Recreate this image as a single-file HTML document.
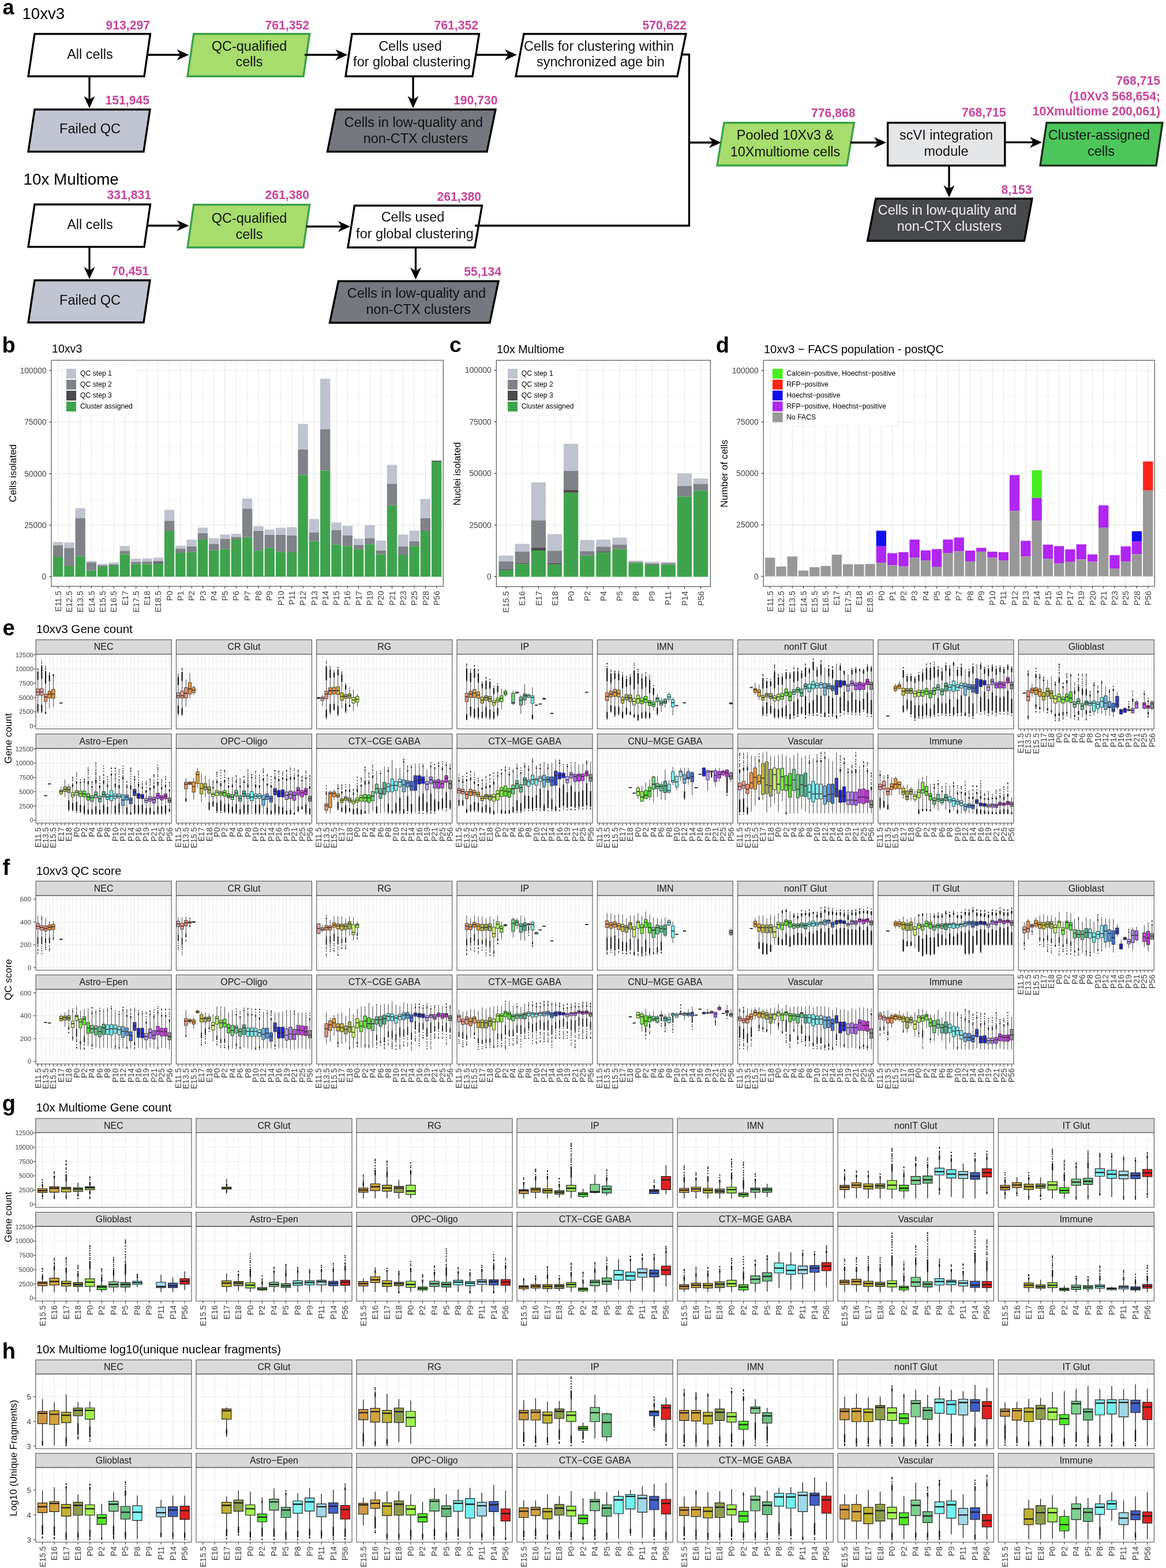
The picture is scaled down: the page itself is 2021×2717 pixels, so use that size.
<!DOCTYPE html>
<html><head><meta charset="utf-8"><title>Figure</title>
<style>html,body{margin:0;padding:0;background:#fff;} svg{display:block;} text{font-family:'Liberation Sans', Arial, Helvetica, sans-serif;}</style>
</head><body>
<svg width="2021" height="2717" viewBox="0 0 2021 2717">
<rect x="0" y="0" width="2021" height="2717" fill="#fff"/>
<text x="4.5" y="24.5" font-size="36" text-anchor="start" font-weight="bold" fill="#000">a</text>
<text x="38.5" y="33" font-size="27.6" text-anchor="start" font-weight="normal" fill="#000">10xv3</text>
<text x="40.5" y="320.3" font-size="27.8" text-anchor="start" font-weight="normal" fill="#000">10x Multiome</text>
<polygon points="60.04,58.7 260.46,58.7 249.96,132.3 49.04,132.3" fill="#FFFFFF" stroke="#000" stroke-width="3.4" stroke-linejoin="miter"/>
<polygon points="335.79,58.7 536.71,58.7 525.96,132.3 325.04,132.3" fill="#A8DC6C" stroke="#3DA24B" stroke-width="3.4" stroke-linejoin="miter"/>
<polygon points="610.04,58.7 830.46,58.7 818.96,132.3 599.04,132.3" fill="#FFFFFF" stroke="#000" stroke-width="3.4" stroke-linejoin="miter"/>
<polygon points="908.04,58.7 1188.96,58.7 1173.96,132.3 894.04,132.3" fill="#FFFFFF" stroke="#000" stroke-width="3.4" stroke-linejoin="miter"/>
<polygon points="60.04,189.7 259.96,189.7 248.96,262.8 49.04,262.8" fill="#C1C5D1" stroke="#000" stroke-width="3.4" stroke-linejoin="miter"/>
<polygon points="582.04,189.7 858.96,189.7 843.96,262.8 567.54,262.8" fill="#75787F" stroke="#000" stroke-width="3.4" stroke-linejoin="miter"/>
<polygon points="60.04,354.2 260.46,354.2 249.96,427.8 49.04,427.8" fill="#FFFFFF" stroke="#000" stroke-width="3.4" stroke-linejoin="miter"/>
<polygon points="335.79,354.7 536.71,354.7 525.96,428.8 325.04,428.8" fill="#A8DC6C" stroke="#3DA24B" stroke-width="3.4" stroke-linejoin="miter"/>
<polygon points="614.54,356.2 835.46,356.2 822.96,428.8 603.04,428.8" fill="#FFFFFF" stroke="#000" stroke-width="3.4" stroke-linejoin="miter"/>
<polygon points="60.04,485.7 259.96,485.7 248.96,558.8 49.04,558.8" fill="#C1C5D1" stroke="#000" stroke-width="3.4" stroke-linejoin="miter"/>
<polygon points="586.54,487.2 863.96,487.2 848.96,559.3 571.54,559.3" fill="#75787F" stroke="#000" stroke-width="3.4" stroke-linejoin="miter"/>
<polygon points="1255.04,212.7 1480.46,212.7 1467.96,286.8 1243.04,286.8" fill="#A8DC6C" stroke="#3DA24B" stroke-width="3.4" stroke-linejoin="miter"/>
<rect x="1538.7" y="212.7" width="203.1" height="74.2" fill="#E5E6E8" stroke="#000" stroke-width="3.4"/>
<polygon points="1814.04,212.7 2014.96,212.7 2003.96,286.9 1803.04,286.9" fill="#4CC65A" stroke="#1B2E1C" stroke-width="3.4" stroke-linejoin="miter"/>
<polygon points="1518.04,344.2 1788.96,344.2 1775.46,417.3 1503.64,417.3" fill="#48494D" stroke="#000" stroke-width="3.4" stroke-linejoin="miter"/>
<polyline points="1180,94.5 1194.5,94.5 1194.5,391 823,391" fill="none" stroke="#000" stroke-width="3.3"/>
<line x1="254" y1="95" x2="312.5" y2="95" stroke="#000" stroke-width="3.3"/>
<polygon points="327.5,95 306.5,85.5 312.5,95 306.5,104.5" fill="#000"/>
<line x1="528" y1="95" x2="587.5" y2="95" stroke="#000" stroke-width="3.3"/>
<polygon points="602.5,95 581.5,85.5 587.5,95 581.5,104.5" fill="#000"/>
<line x1="823" y1="95" x2="881" y2="95" stroke="#000" stroke-width="3.3"/>
<polygon points="896,95 875,85.5 881,95 875,104.5" fill="#000"/>
<line x1="155" y1="132" x2="155" y2="172.5" stroke="#000" stroke-width="3.3"/>
<polygon points="155,187.5 145.5,166.5 155,172.5 164.5,166.5" fill="#000"/>
<line x1="716" y1="132" x2="716" y2="172.5" stroke="#000" stroke-width="3.3"/>
<polygon points="716,187.5 706.5,166.5 716,172.5 725.5,166.5" fill="#000"/>
<line x1="254" y1="391" x2="312.5" y2="391" stroke="#000" stroke-width="3.3"/>
<polygon points="327.5,391 306.5,381.5 312.5,391 306.5,400.5" fill="#000"/>
<line x1="531" y1="392.5" x2="592" y2="392.5" stroke="#000" stroke-width="3.3"/>
<polygon points="607,392.5 586,383 592,392.5 586,402" fill="#000"/>
<line x1="155" y1="428" x2="155" y2="468.5" stroke="#000" stroke-width="3.3"/>
<polygon points="155,483.5 145.5,462.5 155,468.5 164.5,462.5" fill="#000"/>
<line x1="720.5" y1="429" x2="720.5" y2="469.5" stroke="#000" stroke-width="3.3"/>
<polygon points="720.5,484.5 711,463.5 720.5,469.5 730,463.5" fill="#000"/>
<line x1="1194.5" y1="247" x2="1235" y2="247" stroke="#000" stroke-width="3.3"/>
<polygon points="1250,247 1229,237.5 1235,247 1229,256.5" fill="#000"/>
<line x1="1474" y1="247" x2="1521" y2="247" stroke="#000" stroke-width="3.3"/>
<polygon points="1536,247 1515,237.5 1521,247 1515,256.5" fill="#000"/>
<line x1="1743" y1="246.7" x2="1791" y2="246.7" stroke="#000" stroke-width="3.3"/>
<polygon points="1806,246.7 1785,237.2 1791,246.7 1785,256.2" fill="#000"/>
<line x1="1645" y1="287" x2="1645" y2="327" stroke="#000" stroke-width="3.3"/>
<polygon points="1645,342 1635.5,321 1645,327 1654.5,321" fill="#000"/>
<text x="260" y="51.18" font-size="21.2" text-anchor="end" font-weight="bold" fill="#C8449A">913,297</text>
<text x="536" y="51.18" font-size="21.2" text-anchor="end" font-weight="bold" fill="#C8449A">761,352</text>
<text x="829" y="51.18" font-size="21.2" text-anchor="end" font-weight="bold" fill="#C8449A">761,352</text>
<text x="1190" y="51.18" font-size="21.2" text-anchor="end" font-weight="bold" fill="#C8449A">570,622</text>
<text x="259" y="181.18" font-size="21.2" text-anchor="end" font-weight="bold" fill="#C8449A">151,945</text>
<text x="862.5" y="181.18" font-size="21.2" text-anchor="end" font-weight="bold" fill="#C8449A">190,730</text>
<text x="262" y="345.18" font-size="21.2" text-anchor="end" font-weight="bold" fill="#C8449A">331,831</text>
<text x="536" y="345.18" font-size="21.2" text-anchor="end" font-weight="bold" fill="#C8449A">261,380</text>
<text x="834" y="348.18" font-size="21.2" text-anchor="end" font-weight="bold" fill="#C8449A">261,380</text>
<text x="258" y="476.68" font-size="21.2" text-anchor="end" font-weight="bold" fill="#C8449A">70,451</text>
<text x="869" y="478.18" font-size="21.2" text-anchor="end" font-weight="bold" fill="#C8449A">55,134</text>
<text x="1482.5" y="202.68" font-size="21.2" text-anchor="end" font-weight="bold" fill="#C8449A">776,868</text>
<text x="1743.5" y="202.18" font-size="21.2" text-anchor="end" font-weight="bold" fill="#C8449A">768,715</text>
<text x="2011" y="146.68" font-size="21.2" text-anchor="end" font-weight="bold" fill="#C8449A">768,715</text>
<text x="2011" y="174.18" font-size="21.2" text-anchor="end" font-weight="bold" fill="#C8449A">(10Xv3 568,654;</text>
<text x="2011" y="200.18" font-size="21.2" text-anchor="end" font-weight="bold" fill="#C8449A">10Xmultiome 200,061)</text>
<text x="1788.6" y="336.18" font-size="21.2" text-anchor="end" font-weight="bold" fill="#C8449A">8,153</text>
<text x="156" y="101.5" font-size="23.5" text-anchor="middle" font-weight="normal" fill="#111">All cells</text>
<text x="432" y="87.5" font-size="23.5" text-anchor="middle" font-weight="normal" fill="#111">QC-qualified</text>
<text x="432" y="115" font-size="23.5" text-anchor="middle" font-weight="normal" fill="#111">cells</text>
<text x="711" y="87.5" font-size="23.5" text-anchor="middle" font-weight="normal" fill="#111">Cells used</text>
<text x="714" y="115" font-size="23.5" text-anchor="middle" font-weight="normal" fill="#111">for global clustering</text>
<text x="1038" y="87.5" font-size="23.5" text-anchor="middle" font-weight="normal" fill="#111">Cells for clustering within</text>
<text x="1041" y="115" font-size="23.5" text-anchor="middle" font-weight="normal" fill="#111">synchronized age bin</text>
<text x="156" y="231" font-size="23.5" text-anchor="middle" font-weight="normal" fill="#111">Failed QC</text>
<text x="717" y="220" font-size="23.5" text-anchor="middle" font-weight="normal" fill="#111">Cells in low-quality and</text>
<text x="720.5" y="247.5" font-size="23.5" text-anchor="middle" font-weight="normal" fill="#111">non-CTX clusters</text>
<text x="156" y="396.5" font-size="23.5" text-anchor="middle" font-weight="normal" fill="#111">All cells</text>
<text x="432" y="386" font-size="23.5" text-anchor="middle" font-weight="normal" fill="#111">QC-qualified</text>
<text x="432" y="414" font-size="23.5" text-anchor="middle" font-weight="normal" fill="#111">cells</text>
<text x="715.5" y="384" font-size="23.5" text-anchor="middle" font-weight="normal" fill="#111">Cells used</text>
<text x="719" y="412.5" font-size="23.5" text-anchor="middle" font-weight="normal" fill="#111">for global clustering</text>
<text x="156" y="527.5" font-size="23.5" text-anchor="middle" font-weight="normal" fill="#111">Failed QC</text>
<text x="722" y="516" font-size="23.5" text-anchor="middle" font-weight="normal" fill="#111">Cells in low-quality and</text>
<text x="725.3" y="544" font-size="23.5" text-anchor="middle" font-weight="normal" fill="#111">non-CTX clusters</text>
<text x="1361" y="242" font-size="23.5" text-anchor="middle" font-weight="normal" fill="#111">Pooled 10Xv3 &</text>
<text x="1361" y="270.5" font-size="23.5" text-anchor="middle" font-weight="normal" fill="#111">10Xmultiome cells</text>
<text x="1640" y="242" font-size="23.5" text-anchor="middle" font-weight="normal" fill="#111">scVI integration</text>
<text x="1640" y="270" font-size="23.5" text-anchor="middle" font-weight="normal" fill="#111">module</text>
<text x="1905" y="242" font-size="23.5" text-anchor="middle" font-weight="normal" fill="#111">Cluster-assigned</text>
<text x="1908.4" y="270" font-size="23.5" text-anchor="middle" font-weight="normal" fill="#111">cells</text>
<text x="1642" y="372" font-size="23.5" text-anchor="middle" font-weight="normal" fill="#EEEEEE">Cells in low-quality and</text>
<text x="1645.5" y="399.6" font-size="23.5" text-anchor="middle" font-weight="normal" fill="#EEEEEE">non-CTX clusters</text>
<text x="3.5" y="611.2" font-size="38" text-anchor="start" font-weight="bold" fill="#000">b</text>
<text x="90" y="611" font-size="19.6" text-anchor="start" font-weight="normal" fill="#000">10xv3</text>
<rect x="89" y="624.25" width="679.25" height="391.75" fill="#fff"/>
<path d="M89 954.6H768.25M89 865.3H768.25M89 776H768.25M89 686.7H768.25" stroke="#F4F4F4" stroke-width="0.8"/>
<path d="M89 999.25H768.25M89 909.95H768.25M89 820.65H768.25M89 731.35H768.25M89 642.05H768.25M100.58 624.25V1016M119.88 624.25V1016M139.17 624.25V1016M158.47 624.25V1016M177.77 624.25V1016M197.06 624.25V1016M216.36 624.25V1016M235.66 624.25V1016M254.95 624.25V1016M274.25 624.25V1016M293.55 624.25V1016M312.84 624.25V1016M332.14 624.25V1016M351.44 624.25V1016M370.73 624.25V1016M390.03 624.25V1016M409.33 624.25V1016M428.62 624.25V1016M447.92 624.25V1016M467.22 624.25V1016M486.52 624.25V1016M505.81 624.25V1016M525.11 624.25V1016M544.41 624.25V1016M563.7 624.25V1016M583 624.25V1016M602.3 624.25V1016M621.59 624.25V1016M640.89 624.25V1016M660.19 624.25V1016M679.48 624.25V1016M698.78 624.25V1016M718.08 624.25V1016M737.38 624.25V1016M756.67 624.25V1016" stroke="#EBEBEB" stroke-width="1.3"/>
<rect x="91.89" y="939.25" width="17.37" height="5.75" fill="#BFC3CF"/>
<rect x="91.89" y="945" width="17.37" height="20" fill="#7F8287"/>
<rect x="91.89" y="965" width="17.37" height="34.25" fill="#3FA34D"/>
<rect x="111.19" y="940" width="17.37" height="9.5" fill="#BFC3CF"/>
<rect x="111.19" y="949.5" width="17.37" height="31.5" fill="#7F8287"/>
<rect x="111.19" y="981" width="17.37" height="18.25" fill="#3FA34D"/>
<rect x="130.49" y="880.5" width="17.37" height="17.5" fill="#BFC3CF"/>
<rect x="130.49" y="898" width="17.37" height="65.75" fill="#7F8287"/>
<rect x="130.49" y="963.75" width="17.37" height="35.5" fill="#3FA34D"/>
<rect x="149.79" y="972" width="17.37" height="2.5" fill="#BFC3CF"/>
<rect x="149.79" y="974.5" width="17.37" height="14.25" fill="#7F8287"/>
<rect x="149.79" y="988.75" width="17.37" height="10.5" fill="#3FA34D"/>
<rect x="169.08" y="977" width="17.37" height="2.5" fill="#BFC3CF"/>
<rect x="169.08" y="979.5" width="17.37" height="2.5" fill="#7F8287"/>
<rect x="169.08" y="982" width="17.37" height="17.25" fill="#3FA34D"/>
<rect x="188.38" y="974.5" width="17.37" height="3.5" fill="#BFC3CF"/>
<rect x="188.38" y="978" width="17.37" height="2" fill="#7F8287"/>
<rect x="188.38" y="980" width="17.37" height="19.25" fill="#3FA34D"/>
<rect x="207.68" y="946" width="17.37" height="8.5" fill="#BFC3CF"/>
<rect x="207.68" y="954.5" width="17.37" height="6" fill="#7F8287"/>
<rect x="207.68" y="960.5" width="17.37" height="38.75" fill="#3FA34D"/>
<rect x="226.97" y="968" width="17.37" height="5.75" fill="#BFC3CF"/>
<rect x="226.97" y="973.75" width="17.37" height="3.75" fill="#7F8287"/>
<rect x="226.97" y="977.5" width="17.37" height="21.75" fill="#3FA34D"/>
<rect x="246.27" y="967.5" width="17.37" height="5.75" fill="#BFC3CF"/>
<rect x="246.27" y="973.25" width="17.37" height="4.25" fill="#7F8287"/>
<rect x="246.27" y="977.5" width="17.37" height="21.75" fill="#3FA34D"/>
<rect x="265.57" y="966.25" width="17.37" height="5.75" fill="#BFC3CF"/>
<rect x="265.57" y="972" width="17.37" height="2.25" fill="#7F8287"/>
<rect x="265.57" y="974.25" width="17.37" height="2.25" fill="#4A4B4F"/>
<rect x="265.57" y="976.5" width="17.37" height="22.75" fill="#3FA34D"/>
<rect x="284.86" y="883.25" width="17.37" height="19.25" fill="#BFC3CF"/>
<rect x="284.86" y="902.5" width="17.37" height="17.5" fill="#7F8287"/>
<rect x="284.86" y="920" width="17.37" height="79.25" fill="#3FA34D"/>
<rect x="304.16" y="945.5" width="17.37" height="5.25" fill="#BFC3CF"/>
<rect x="304.16" y="950.75" width="17.37" height="7.25" fill="#7F8287"/>
<rect x="304.16" y="958" width="17.37" height="41.25" fill="#3FA34D"/>
<rect x="323.46" y="935" width="17.37" height="12" fill="#BFC3CF"/>
<rect x="323.46" y="947" width="17.37" height="9.25" fill="#7F8287"/>
<rect x="323.46" y="956.25" width="17.37" height="43" fill="#3FA34D"/>
<rect x="342.75" y="914.25" width="17.37" height="9.75" fill="#BFC3CF"/>
<rect x="342.75" y="924" width="17.37" height="11" fill="#7F8287"/>
<rect x="342.75" y="935" width="17.37" height="64.25" fill="#3FA34D"/>
<rect x="362.05" y="932.5" width="17.37" height="10" fill="#BFC3CF"/>
<rect x="362.05" y="942.5" width="17.37" height="10.75" fill="#7F8287"/>
<rect x="362.05" y="953.25" width="17.37" height="46" fill="#3FA34D"/>
<rect x="381.35" y="926.25" width="17.37" height="7.5" fill="#BFC3CF"/>
<rect x="381.35" y="933.75" width="17.37" height="17.5" fill="#7F8287"/>
<rect x="381.35" y="951.25" width="17.37" height="48" fill="#3FA34D"/>
<rect x="400.64" y="925" width="17.37" height="5.5" fill="#BFC3CF"/>
<rect x="400.64" y="930.5" width="17.37" height="4.5" fill="#7F8287"/>
<rect x="400.64" y="935" width="17.37" height="64.25" fill="#3FA34D"/>
<rect x="419.94" y="863.75" width="17.37" height="17.5" fill="#BFC3CF"/>
<rect x="419.94" y="881.25" width="17.37" height="49.5" fill="#7F8287"/>
<rect x="419.94" y="930.75" width="17.37" height="68.5" fill="#3FA34D"/>
<rect x="439.24" y="911.75" width="17.37" height="8.25" fill="#BFC3CF"/>
<rect x="439.24" y="920" width="17.37" height="34.25" fill="#7F8287"/>
<rect x="439.24" y="954.25" width="17.37" height="45" fill="#3FA34D"/>
<rect x="458.54" y="917.5" width="17.37" height="9.5" fill="#BFC3CF"/>
<rect x="458.54" y="927" width="17.37" height="22.25" fill="#7F8287"/>
<rect x="458.54" y="949.25" width="17.37" height="50" fill="#3FA34D"/>
<rect x="477.83" y="914.5" width="17.37" height="12.5" fill="#BFC3CF"/>
<rect x="477.83" y="927" width="17.37" height="29.25" fill="#7F8287"/>
<rect x="477.83" y="956.25" width="17.37" height="43" fill="#3FA34D"/>
<rect x="497.13" y="913.5" width="17.37" height="14.5" fill="#BFC3CF"/>
<rect x="497.13" y="928" width="17.37" height="29" fill="#7F8287"/>
<rect x="497.13" y="957" width="17.37" height="42.25" fill="#3FA34D"/>
<rect x="516.43" y="734.5" width="17.37" height="44.5" fill="#BFC3CF"/>
<rect x="516.43" y="779" width="17.37" height="44.25" fill="#7F8287"/>
<rect x="516.43" y="823.25" width="17.37" height="176" fill="#3FA34D"/>
<rect x="535.72" y="899.25" width="17.37" height="23.25" fill="#BFC3CF"/>
<rect x="535.72" y="922.5" width="17.37" height="15" fill="#7F8287"/>
<rect x="535.72" y="937.5" width="17.37" height="61.75" fill="#3FA34D"/>
<rect x="555.02" y="656.25" width="17.37" height="87.5" fill="#BFC3CF"/>
<rect x="555.02" y="743.75" width="17.37" height="71.75" fill="#7F8287"/>
<rect x="555.02" y="815.5" width="17.37" height="183.75" fill="#3FA34D"/>
<rect x="574.32" y="905.5" width="17.37" height="13" fill="#BFC3CF"/>
<rect x="574.32" y="918.5" width="17.37" height="25.25" fill="#7F8287"/>
<rect x="574.32" y="943.75" width="17.37" height="55.5" fill="#3FA34D"/>
<rect x="593.61" y="911.25" width="17.37" height="16.5" fill="#BFC3CF"/>
<rect x="593.61" y="927.75" width="17.37" height="18.5" fill="#7F8287"/>
<rect x="593.61" y="946.25" width="17.37" height="53" fill="#3FA34D"/>
<rect x="612.91" y="933.25" width="17.37" height="11" fill="#BFC3CF"/>
<rect x="612.91" y="944.25" width="17.37" height="7.5" fill="#7F8287"/>
<rect x="612.91" y="951.75" width="17.37" height="47.5" fill="#3FA34D"/>
<rect x="632.21" y="910" width="17.37" height="22.5" fill="#BFC3CF"/>
<rect x="632.21" y="932.5" width="17.37" height="10.75" fill="#7F8287"/>
<rect x="632.21" y="943.25" width="17.37" height="56" fill="#3FA34D"/>
<rect x="651.5" y="936.5" width="17.37" height="17.25" fill="#BFC3CF"/>
<rect x="651.5" y="953.75" width="17.37" height="6.75" fill="#7F8287"/>
<rect x="651.5" y="960.5" width="17.37" height="38.75" fill="#3FA34D"/>
<rect x="670.8" y="805.5" width="17.37" height="32.75" fill="#BFC3CF"/>
<rect x="670.8" y="838.25" width="17.37" height="37.25" fill="#7F8287"/>
<rect x="670.8" y="875.5" width="17.37" height="123.75" fill="#3FA34D"/>
<rect x="690.1" y="926.25" width="17.37" height="20.75" fill="#BFC3CF"/>
<rect x="690.1" y="947" width="17.37" height="15" fill="#7F8287"/>
<rect x="690.1" y="962" width="17.37" height="37.25" fill="#3FA34D"/>
<rect x="709.39" y="919.25" width="17.37" height="18.75" fill="#BFC3CF"/>
<rect x="709.39" y="938" width="17.37" height="8.25" fill="#7F8287"/>
<rect x="709.39" y="946.25" width="17.37" height="53" fill="#3FA34D"/>
<rect x="728.69" y="864.5" width="17.37" height="33.5" fill="#BFC3CF"/>
<rect x="728.69" y="898" width="17.37" height="22" fill="#7F8287"/>
<rect x="728.69" y="920" width="17.37" height="79.25" fill="#3FA34D"/>
<rect x="747.99" y="798" width="17.37" height="1" fill="#7F8287"/>
<rect x="747.99" y="799" width="17.37" height="1" fill="#4A4B4F"/>
<rect x="747.99" y="800" width="17.37" height="199.25" fill="#3FA34D"/>
<rect x="89" y="624.25" width="679.25" height="391.75" fill="none" stroke="#444" stroke-width="1.1"/>
<line x1="85.4" x2="89" y1="999.25" y2="999.25" stroke="#333333" stroke-width="1.2"/>
<text x="80.5" y="1004.15" font-size="13.8" text-anchor="end" font-weight="normal" fill="#444444">0</text>
<line x1="85.4" x2="89" y1="909.95" y2="909.95" stroke="#333333" stroke-width="1.2"/>
<text x="80.5" y="914.85" font-size="13.8" text-anchor="end" font-weight="normal" fill="#444444">25000</text>
<line x1="85.4" x2="89" y1="820.65" y2="820.65" stroke="#333333" stroke-width="1.2"/>
<text x="80.5" y="825.55" font-size="13.8" text-anchor="end" font-weight="normal" fill="#444444">50000</text>
<line x1="85.4" x2="89" y1="731.35" y2="731.35" stroke="#333333" stroke-width="1.2"/>
<text x="80.5" y="736.25" font-size="13.8" text-anchor="end" font-weight="normal" fill="#444444">75000</text>
<line x1="85.4" x2="89" y1="642.05" y2="642.05" stroke="#333333" stroke-width="1.2"/>
<text x="80.5" y="646.95" font-size="13.8" text-anchor="end" font-weight="normal" fill="#444444">100000</text>
<path d="M100.58 1016v3.6M119.88 1016v3.6M139.17 1016v3.6M158.47 1016v3.6M177.77 1016v3.6M197.06 1016v3.6M216.36 1016v3.6M235.66 1016v3.6M254.95 1016v3.6M274.25 1016v3.6M293.55 1016v3.6M312.84 1016v3.6M332.14 1016v3.6M351.44 1016v3.6M370.73 1016v3.6M390.03 1016v3.6M409.33 1016v3.6M428.62 1016v3.6M447.92 1016v3.6M467.22 1016v3.6M486.52 1016v3.6M505.81 1016v3.6M525.11 1016v3.6M544.41 1016v3.6M563.7 1016v3.6M583 1016v3.6M602.3 1016v3.6M621.59 1016v3.6M640.89 1016v3.6M660.19 1016v3.6M679.48 1016v3.6M698.78 1016v3.6M718.08 1016v3.6M737.38 1016v3.6M756.67 1016v3.6" stroke="#333333" stroke-width="1.1"/>
<text transform="translate(100.58,1023.8) rotate(-90)" x="0" y="0" dy="0.36em" font-size="14.3" text-anchor="end" fill="#444444">E11.5</text>
<text transform="translate(119.88,1023.8) rotate(-90)" x="0" y="0" dy="0.36em" font-size="14.3" text-anchor="end" fill="#444444">E12.5</text>
<text transform="translate(139.17,1023.8) rotate(-90)" x="0" y="0" dy="0.36em" font-size="14.3" text-anchor="end" fill="#444444">E13.5</text>
<text transform="translate(158.47,1023.8) rotate(-90)" x="0" y="0" dy="0.36em" font-size="14.3" text-anchor="end" fill="#444444">E14.5</text>
<text transform="translate(177.77,1023.8) rotate(-90)" x="0" y="0" dy="0.36em" font-size="14.3" text-anchor="end" fill="#444444">E15.5</text>
<text transform="translate(197.06,1023.8) rotate(-90)" x="0" y="0" dy="0.36em" font-size="14.3" text-anchor="end" fill="#444444">E16.5</text>
<text transform="translate(216.36,1023.8) rotate(-90)" x="0" y="0" dy="0.36em" font-size="14.3" text-anchor="end" fill="#444444">E17</text>
<text transform="translate(235.66,1023.8) rotate(-90)" x="0" y="0" dy="0.36em" font-size="14.3" text-anchor="end" fill="#444444">E17.5</text>
<text transform="translate(254.95,1023.8) rotate(-90)" x="0" y="0" dy="0.36em" font-size="14.3" text-anchor="end" fill="#444444">E18</text>
<text transform="translate(274.25,1023.8) rotate(-90)" x="0" y="0" dy="0.36em" font-size="14.3" text-anchor="end" fill="#444444">E18.5</text>
<text transform="translate(293.55,1023.8) rotate(-90)" x="0" y="0" dy="0.36em" font-size="14.3" text-anchor="end" fill="#444444">P0</text>
<text transform="translate(312.84,1023.8) rotate(-90)" x="0" y="0" dy="0.36em" font-size="14.3" text-anchor="end" fill="#444444">P1</text>
<text transform="translate(332.14,1023.8) rotate(-90)" x="0" y="0" dy="0.36em" font-size="14.3" text-anchor="end" fill="#444444">P2</text>
<text transform="translate(351.44,1023.8) rotate(-90)" x="0" y="0" dy="0.36em" font-size="14.3" text-anchor="end" fill="#444444">P3</text>
<text transform="translate(370.73,1023.8) rotate(-90)" x="0" y="0" dy="0.36em" font-size="14.3" text-anchor="end" fill="#444444">P4</text>
<text transform="translate(390.03,1023.8) rotate(-90)" x="0" y="0" dy="0.36em" font-size="14.3" text-anchor="end" fill="#444444">P5</text>
<text transform="translate(409.33,1023.8) rotate(-90)" x="0" y="0" dy="0.36em" font-size="14.3" text-anchor="end" fill="#444444">P6</text>
<text transform="translate(428.62,1023.8) rotate(-90)" x="0" y="0" dy="0.36em" font-size="14.3" text-anchor="end" fill="#444444">P7</text>
<text transform="translate(447.92,1023.8) rotate(-90)" x="0" y="0" dy="0.36em" font-size="14.3" text-anchor="end" fill="#444444">P8</text>
<text transform="translate(467.22,1023.8) rotate(-90)" x="0" y="0" dy="0.36em" font-size="14.3" text-anchor="end" fill="#444444">P9</text>
<text transform="translate(486.52,1023.8) rotate(-90)" x="0" y="0" dy="0.36em" font-size="14.3" text-anchor="end" fill="#444444">P10</text>
<text transform="translate(505.81,1023.8) rotate(-90)" x="0" y="0" dy="0.36em" font-size="14.3" text-anchor="end" fill="#444444">P11</text>
<text transform="translate(525.11,1023.8) rotate(-90)" x="0" y="0" dy="0.36em" font-size="14.3" text-anchor="end" fill="#444444">P12</text>
<text transform="translate(544.41,1023.8) rotate(-90)" x="0" y="0" dy="0.36em" font-size="14.3" text-anchor="end" fill="#444444">P13</text>
<text transform="translate(563.7,1023.8) rotate(-90)" x="0" y="0" dy="0.36em" font-size="14.3" text-anchor="end" fill="#444444">P14</text>
<text transform="translate(583,1023.8) rotate(-90)" x="0" y="0" dy="0.36em" font-size="14.3" text-anchor="end" fill="#444444">P15</text>
<text transform="translate(602.3,1023.8) rotate(-90)" x="0" y="0" dy="0.36em" font-size="14.3" text-anchor="end" fill="#444444">P16</text>
<text transform="translate(621.59,1023.8) rotate(-90)" x="0" y="0" dy="0.36em" font-size="14.3" text-anchor="end" fill="#444444">P17</text>
<text transform="translate(640.89,1023.8) rotate(-90)" x="0" y="0" dy="0.36em" font-size="14.3" text-anchor="end" fill="#444444">P19</text>
<text transform="translate(660.19,1023.8) rotate(-90)" x="0" y="0" dy="0.36em" font-size="14.3" text-anchor="end" fill="#444444">P20</text>
<text transform="translate(679.48,1023.8) rotate(-90)" x="0" y="0" dy="0.36em" font-size="14.3" text-anchor="end" fill="#444444">P21</text>
<text transform="translate(698.78,1023.8) rotate(-90)" x="0" y="0" dy="0.36em" font-size="14.3" text-anchor="end" fill="#444444">P23</text>
<text transform="translate(718.08,1023.8) rotate(-90)" x="0" y="0" dy="0.36em" font-size="14.3" text-anchor="end" fill="#444444">P25</text>
<text transform="translate(737.38,1023.8) rotate(-90)" x="0" y="0" dy="0.36em" font-size="14.3" text-anchor="end" fill="#444444">P28</text>
<text transform="translate(756.67,1023.8) rotate(-90)" x="0" y="0" dy="0.36em" font-size="14.3" text-anchor="end" fill="#444444">P56</text>
<rect x="107" y="632.5" width="131" height="86.5" fill="#fff" stroke="#F0F0F0" stroke-width="1"/>
<rect x="115" y="639" width="17" height="17" fill="#BFC3CF"/>
<text x="139" y="651.16" font-size="12.2" text-anchor="start" font-weight="normal" fill="#000">QC step 1</text>
<rect x="115" y="658" width="17" height="17" fill="#7F8287"/>
<text x="139" y="670.16" font-size="12.2" text-anchor="start" font-weight="normal" fill="#000">QC step 2</text>
<rect x="115" y="677" width="17" height="17" fill="#4A4B4F"/>
<text x="139" y="689.16" font-size="12.2" text-anchor="start" font-weight="normal" fill="#000">QC step 3</text>
<rect x="115" y="696" width="17" height="17" fill="#3FA34D"/>
<text x="139" y="708.16" font-size="12.2" text-anchor="start" font-weight="normal" fill="#000">Cluster assigned</text>
<text transform="translate(21.5,820) rotate(-90)" x="0" y="0" dy="0.36em" font-size="16.9" text-anchor="middle" fill="#000">Cells isolated</text>
<text x="779" y="610" font-size="37" text-anchor="start" font-weight="bold" fill="#000">c</text>
<text x="861" y="612" font-size="19.7" text-anchor="start" font-weight="normal" fill="#000">10x Multiome</text>
<rect x="860.3" y="624.3" width="371.1" height="392.2" fill="#fff"/>
<path d="M860.3 954.65H1231.4M860.3 865.15H1231.4M860.3 775.65H1231.4M860.3 686.15H1231.4" stroke="#F4F4F4" stroke-width="0.8"/>
<path d="M860.3 999.4H1231.4M860.3 909.9H1231.4M860.3 820.4H1231.4M860.3 730.9H1231.4M860.3 641.4H1231.4M877.17 624.3V1016.5M905.28 624.3V1016.5M933.4 624.3V1016.5M961.51 624.3V1016.5M989.62 624.3V1016.5M1017.74 624.3V1016.5M1045.85 624.3V1016.5M1073.96 624.3V1016.5M1102.08 624.3V1016.5M1130.19 624.3V1016.5M1158.3 624.3V1016.5M1186.42 624.3V1016.5M1214.53 624.3V1016.5" stroke="#EBEBEB" stroke-width="1.3"/>
<rect x="864.52" y="962.7" width="25.3" height="10.2" fill="#BFC3CF"/>
<rect x="864.52" y="972.9" width="25.3" height="14" fill="#7F8287"/>
<rect x="864.52" y="986.9" width="25.3" height="1.4" fill="#4A4B4F"/>
<rect x="864.52" y="988.3" width="25.3" height="11.1" fill="#3FA34D"/>
<rect x="892.63" y="942.4" width="25.3" height="13.6" fill="#BFC3CF"/>
<rect x="892.63" y="956" width="25.3" height="19.8" fill="#7F8287"/>
<rect x="892.63" y="975.8" width="25.3" height="1.5" fill="#4A4B4F"/>
<rect x="892.63" y="977.3" width="25.3" height="22.1" fill="#3FA34D"/>
<rect x="920.74" y="835.9" width="25.3" height="65.8" fill="#BFC3CF"/>
<rect x="920.74" y="901.7" width="25.3" height="47.1" fill="#7F8287"/>
<rect x="920.74" y="948.8" width="25.3" height="5.2" fill="#4A4B4F"/>
<rect x="920.74" y="954" width="25.3" height="45.4" fill="#3FA34D"/>
<rect x="948.86" y="925.5" width="25.3" height="28.8" fill="#BFC3CF"/>
<rect x="948.86" y="954.3" width="25.3" height="21.5" fill="#7F8287"/>
<rect x="948.86" y="975.8" width="25.3" height="2" fill="#4A4B4F"/>
<rect x="948.86" y="977.8" width="25.3" height="21.6" fill="#3FA34D"/>
<rect x="976.97" y="769" width="25.3" height="47" fill="#BFC3CF"/>
<rect x="976.97" y="816" width="25.3" height="32.8" fill="#7F8287"/>
<rect x="976.97" y="848.8" width="25.3" height="5" fill="#4A4B4F"/>
<rect x="976.97" y="853.8" width="25.3" height="145.6" fill="#3FA34D"/>
<rect x="1005.09" y="935.7" width="25.3" height="19.5" fill="#BFC3CF"/>
<rect x="1005.09" y="955.2" width="25.3" height="7.5" fill="#7F8287"/>
<rect x="1005.09" y="962.7" width="25.3" height="36.7" fill="#3FA34D"/>
<rect x="1033.2" y="935.1" width="25.3" height="12.2" fill="#BFC3CF"/>
<rect x="1033.2" y="947.3" width="25.3" height="8.7" fill="#7F8287"/>
<rect x="1033.2" y="956" width="25.3" height="1.5" fill="#4A4B4F"/>
<rect x="1033.2" y="957.5" width="25.3" height="41.9" fill="#3FA34D"/>
<rect x="1061.31" y="931.6" width="25.3" height="12.2" fill="#BFC3CF"/>
<rect x="1061.31" y="943.8" width="25.3" height="7.9" fill="#7F8287"/>
<rect x="1061.31" y="951.7" width="25.3" height="47.7" fill="#3FA34D"/>
<rect x="1089.43" y="971.5" width="25.3" height="2.3" fill="#BFC3CF"/>
<rect x="1089.43" y="973.8" width="25.3" height="1.7" fill="#7F8287"/>
<rect x="1089.43" y="975.5" width="25.3" height="23.9" fill="#3FA34D"/>
<rect x="1117.54" y="973.5" width="25.3" height="2.9" fill="#BFC3CF"/>
<rect x="1117.54" y="976.4" width="25.3" height="2.6" fill="#7F8287"/>
<rect x="1117.54" y="979" width="25.3" height="20.4" fill="#3FA34D"/>
<rect x="1145.65" y="973.8" width="25.3" height="2.3" fill="#BFC3CF"/>
<rect x="1145.65" y="976.1" width="25.3" height="2.3" fill="#7F8287"/>
<rect x="1145.65" y="978.4" width="25.3" height="21" fill="#3FA34D"/>
<rect x="1173.77" y="820.3" width="25.3" height="21.8" fill="#BFC3CF"/>
<rect x="1173.77" y="842.1" width="25.3" height="18.3" fill="#7F8287"/>
<rect x="1173.77" y="860.4" width="25.3" height="139" fill="#3FA34D"/>
<rect x="1201.88" y="829" width="25.3" height="9.6" fill="#BFC3CF"/>
<rect x="1201.88" y="838.6" width="25.3" height="11.7" fill="#7F8287"/>
<rect x="1201.88" y="850.3" width="25.3" height="149.1" fill="#3FA34D"/>
<rect x="860.3" y="624.3" width="371.1" height="392.2" fill="none" stroke="#444" stroke-width="1.1"/>
<line x1="856.7" x2="860.3" y1="999.4" y2="999.4" stroke="#333333" stroke-width="1.2"/>
<text x="851.8" y="1004.3" font-size="13.8" text-anchor="end" font-weight="normal" fill="#444444">0</text>
<line x1="856.7" x2="860.3" y1="909.9" y2="909.9" stroke="#333333" stroke-width="1.2"/>
<text x="851.8" y="914.8" font-size="13.8" text-anchor="end" font-weight="normal" fill="#444444">25000</text>
<line x1="856.7" x2="860.3" y1="820.4" y2="820.4" stroke="#333333" stroke-width="1.2"/>
<text x="851.8" y="825.3" font-size="13.8" text-anchor="end" font-weight="normal" fill="#444444">50000</text>
<line x1="856.7" x2="860.3" y1="730.9" y2="730.9" stroke="#333333" stroke-width="1.2"/>
<text x="851.8" y="735.8" font-size="13.8" text-anchor="end" font-weight="normal" fill="#444444">75000</text>
<line x1="856.7" x2="860.3" y1="641.4" y2="641.4" stroke="#333333" stroke-width="1.2"/>
<text x="851.8" y="646.3" font-size="13.8" text-anchor="end" font-weight="normal" fill="#444444">100000</text>
<path d="M877.17 1016.5v3.6M905.28 1016.5v3.6M933.4 1016.5v3.6M961.51 1016.5v3.6M989.62 1016.5v3.6M1017.74 1016.5v3.6M1045.85 1016.5v3.6M1073.96 1016.5v3.6M1102.08 1016.5v3.6M1130.19 1016.5v3.6M1158.3 1016.5v3.6M1186.42 1016.5v3.6M1214.53 1016.5v3.6" stroke="#333333" stroke-width="1.1"/>
<text transform="translate(877.17,1024.3) rotate(-90)" x="0" y="0" dy="0.36em" font-size="14.3" text-anchor="end" fill="#444444">E15.5</text>
<text transform="translate(905.28,1024.3) rotate(-90)" x="0" y="0" dy="0.36em" font-size="14.3" text-anchor="end" fill="#444444">E16</text>
<text transform="translate(933.4,1024.3) rotate(-90)" x="0" y="0" dy="0.36em" font-size="14.3" text-anchor="end" fill="#444444">E17</text>
<text transform="translate(961.51,1024.3) rotate(-90)" x="0" y="0" dy="0.36em" font-size="14.3" text-anchor="end" fill="#444444">E18</text>
<text transform="translate(989.62,1024.3) rotate(-90)" x="0" y="0" dy="0.36em" font-size="14.3" text-anchor="end" fill="#444444">P0</text>
<text transform="translate(1017.74,1024.3) rotate(-90)" x="0" y="0" dy="0.36em" font-size="14.3" text-anchor="end" fill="#444444">P2</text>
<text transform="translate(1045.85,1024.3) rotate(-90)" x="0" y="0" dy="0.36em" font-size="14.3" text-anchor="end" fill="#444444">P4</text>
<text transform="translate(1073.96,1024.3) rotate(-90)" x="0" y="0" dy="0.36em" font-size="14.3" text-anchor="end" fill="#444444">P5</text>
<text transform="translate(1102.08,1024.3) rotate(-90)" x="0" y="0" dy="0.36em" font-size="14.3" text-anchor="end" fill="#444444">P8</text>
<text transform="translate(1130.19,1024.3) rotate(-90)" x="0" y="0" dy="0.36em" font-size="14.3" text-anchor="end" fill="#444444">P9</text>
<text transform="translate(1158.3,1024.3) rotate(-90)" x="0" y="0" dy="0.36em" font-size="14.3" text-anchor="end" fill="#444444">P11</text>
<text transform="translate(1186.42,1024.3) rotate(-90)" x="0" y="0" dy="0.36em" font-size="14.3" text-anchor="end" fill="#444444">P14</text>
<text transform="translate(1214.53,1024.3) rotate(-90)" x="0" y="0" dy="0.36em" font-size="14.3" text-anchor="end" fill="#444444">P56</text>
<rect x="873.3" y="632" width="129.4" height="87" fill="#fff" stroke="#F0F0F0" stroke-width="1"/>
<rect x="880" y="639" width="17" height="17" fill="#BFC3CF"/>
<text x="903.8" y="651.16" font-size="12.2" text-anchor="start" font-weight="normal" fill="#000">QC step 1</text>
<rect x="880" y="658" width="17" height="17" fill="#7F8287"/>
<text x="903.8" y="670.16" font-size="12.2" text-anchor="start" font-weight="normal" fill="#000">QC step 2</text>
<rect x="880" y="677" width="17" height="17" fill="#4A4B4F"/>
<text x="903.8" y="689.16" font-size="12.2" text-anchor="start" font-weight="normal" fill="#000">QC step 3</text>
<rect x="880" y="696" width="17" height="17" fill="#3FA34D"/>
<text x="903.8" y="708.16" font-size="12.2" text-anchor="start" font-weight="normal" fill="#000">Cluster assigned</text>
<text transform="translate(792,821) rotate(-90)" x="0" y="0" dy="0.36em" font-size="16.9" text-anchor="middle" fill="#000">Nuclei isolated</text>
<text x="1240.7" y="611.2" font-size="38" text-anchor="start" font-weight="bold" fill="#000">d</text>
<text x="1324" y="611.8" font-size="20" text-anchor="start" font-weight="normal" fill="#000">10xv3 − FACS population - postQC</text>
<rect x="1323.2" y="624.3" width="678.1" height="391.7" fill="#fff"/>
<path d="M1323.2 954.05H2001.3M1323.2 864.95H2001.3M1323.2 775.85H2001.3M1323.2 686.75H2001.3" stroke="#F4F4F4" stroke-width="0.8"/>
<path d="M1323.2 998.6H2001.3M1323.2 909.5H2001.3M1323.2 820.4H2001.3M1323.2 731.3H2001.3M1323.2 642.2H2001.3M1334.76 624.3V1016M1354.02 624.3V1016M1373.29 624.3V1016M1392.55 624.3V1016M1411.82 624.3V1016M1431.08 624.3V1016M1450.34 624.3V1016M1469.61 624.3V1016M1488.87 624.3V1016M1508.14 624.3V1016M1527.4 624.3V1016M1546.66 624.3V1016M1565.93 624.3V1016M1585.19 624.3V1016M1604.46 624.3V1016M1623.72 624.3V1016M1642.99 624.3V1016M1662.25 624.3V1016M1681.51 624.3V1016M1700.78 624.3V1016M1720.04 624.3V1016M1739.31 624.3V1016M1758.57 624.3V1016M1777.84 624.3V1016M1797.1 624.3V1016M1816.36 624.3V1016M1835.63 624.3V1016M1854.89 624.3V1016M1874.16 624.3V1016M1893.42 624.3V1016M1912.68 624.3V1016M1931.95 624.3V1016M1951.21 624.3V1016M1970.48 624.3V1016M1989.74 624.3V1016" stroke="#EBEBEB" stroke-width="1.3"/>
<rect x="1326.09" y="966.3" width="17.34" height="32.3" fill="#999999"/>
<rect x="1345.35" y="981.6" width="17.34" height="17" fill="#999999"/>
<rect x="1364.62" y="964.2" width="17.34" height="34.4" fill="#999999"/>
<rect x="1383.88" y="988.6" width="17.34" height="10" fill="#999999"/>
<rect x="1403.15" y="982.9" width="17.34" height="15.7" fill="#999999"/>
<rect x="1422.41" y="980.7" width="17.34" height="17.9" fill="#999999"/>
<rect x="1441.67" y="961.1" width="17.34" height="37.5" fill="#999999"/>
<rect x="1460.94" y="977.7" width="17.34" height="20.9" fill="#999999"/>
<rect x="1480.2" y="977.7" width="17.34" height="20.9" fill="#999999"/>
<rect x="1499.47" y="977.3" width="17.34" height="21.3" fill="#999999"/>
<rect x="1518.73" y="919.6" width="17.34" height="27.1" fill="#1010EE"/>
<rect x="1518.73" y="946.7" width="17.34" height="28.4" fill="#B026F2"/>
<rect x="1518.73" y="975.1" width="17.34" height="23.5" fill="#999999"/>
<rect x="1538" y="958.5" width="17.34" height="20.9" fill="#B026F2"/>
<rect x="1538" y="979.4" width="17.34" height="19.2" fill="#999999"/>
<rect x="1557.26" y="956.7" width="17.34" height="24.9" fill="#B026F2"/>
<rect x="1557.26" y="981.6" width="17.34" height="17" fill="#999999"/>
<rect x="1576.52" y="934.9" width="17.34" height="31.4" fill="#B026F2"/>
<rect x="1576.52" y="966.3" width="17.34" height="32.3" fill="#999999"/>
<rect x="1595.79" y="953.7" width="17.34" height="17.4" fill="#B026F2"/>
<rect x="1595.79" y="971.1" width="17.34" height="27.5" fill="#999999"/>
<rect x="1615.05" y="951.5" width="17.34" height="30.5" fill="#B026F2"/>
<rect x="1615.05" y="982" width="17.34" height="16.6" fill="#999999"/>
<rect x="1634.32" y="934.9" width="17.34" height="23.1" fill="#B026F2"/>
<rect x="1634.32" y="958" width="17.34" height="40.6" fill="#999999"/>
<rect x="1653.58" y="931.4" width="17.34" height="24" fill="#B026F2"/>
<rect x="1653.58" y="955.4" width="17.34" height="43.2" fill="#999999"/>
<rect x="1672.85" y="954.1" width="17.34" height="18.8" fill="#B026F2"/>
<rect x="1672.85" y="972.9" width="17.34" height="25.7" fill="#999999"/>
<rect x="1692.11" y="949.3" width="17.34" height="6.6" fill="#B026F2"/>
<rect x="1692.11" y="955.9" width="17.34" height="42.7" fill="#999999"/>
<rect x="1711.37" y="955.9" width="17.34" height="10.4" fill="#B026F2"/>
<rect x="1711.37" y="966.3" width="17.34" height="32.3" fill="#999999"/>
<rect x="1730.64" y="956.7" width="17.34" height="14.4" fill="#B026F2"/>
<rect x="1730.64" y="971.1" width="17.34" height="27.5" fill="#999999"/>
<rect x="1749.9" y="823.2" width="17.34" height="62" fill="#B026F2"/>
<rect x="1749.9" y="885.2" width="17.34" height="113.4" fill="#999999"/>
<rect x="1769.17" y="937.1" width="17.34" height="27.1" fill="#B026F2"/>
<rect x="1769.17" y="964.2" width="17.34" height="34.4" fill="#999999"/>
<rect x="1788.43" y="814.9" width="17.34" height="48" fill="#44EE1C"/>
<rect x="1788.43" y="862.9" width="17.34" height="39.3" fill="#B026F2"/>
<rect x="1788.43" y="902.2" width="17.34" height="96.4" fill="#999999"/>
<rect x="1807.69" y="943.7" width="17.34" height="24.8" fill="#B026F2"/>
<rect x="1807.69" y="968.5" width="17.34" height="30.1" fill="#999999"/>
<rect x="1826.96" y="946.3" width="17.34" height="30.1" fill="#B026F2"/>
<rect x="1826.96" y="976.4" width="17.34" height="22.2" fill="#999999"/>
<rect x="1846.22" y="951.9" width="17.34" height="21.9" fill="#B026F2"/>
<rect x="1846.22" y="973.8" width="17.34" height="24.8" fill="#999999"/>
<rect x="1865.49" y="943.2" width="17.34" height="26.2" fill="#B026F2"/>
<rect x="1865.49" y="969.4" width="17.34" height="29.2" fill="#999999"/>
<rect x="1884.75" y="960.7" width="17.34" height="12.6" fill="#B026F2"/>
<rect x="1884.75" y="973.3" width="17.34" height="25.3" fill="#999999"/>
<rect x="1904.02" y="875.6" width="17.34" height="38.4" fill="#B026F2"/>
<rect x="1904.02" y="914" width="17.34" height="84.6" fill="#999999"/>
<rect x="1923.28" y="962" width="17.34" height="23.1" fill="#B026F2"/>
<rect x="1923.28" y="985.1" width="17.34" height="13.5" fill="#999999"/>
<rect x="1942.54" y="946.7" width="17.34" height="26.6" fill="#B026F2"/>
<rect x="1942.54" y="973.3" width="17.34" height="25.3" fill="#999999"/>
<rect x="1961.81" y="920.5" width="17.34" height="17.9" fill="#1010EE"/>
<rect x="1961.81" y="938.4" width="17.34" height="21.8" fill="#B026F2"/>
<rect x="1961.81" y="960.2" width="17.34" height="38.4" fill="#999999"/>
<rect x="1981.07" y="799.6" width="17.34" height="50.2" fill="#FF2414"/>
<rect x="1981.07" y="849.8" width="17.34" height="148.8" fill="#999999"/>
<rect x="1323.2" y="624.3" width="678.1" height="391.7" fill="none" stroke="#444" stroke-width="1.1"/>
<line x1="1319.6" x2="1323.2" y1="998.6" y2="998.6" stroke="#333333" stroke-width="1.2"/>
<text x="1314.7" y="1003.5" font-size="13.8" text-anchor="end" font-weight="normal" fill="#444444">0</text>
<line x1="1319.6" x2="1323.2" y1="909.5" y2="909.5" stroke="#333333" stroke-width="1.2"/>
<text x="1314.7" y="914.4" font-size="13.8" text-anchor="end" font-weight="normal" fill="#444444">25000</text>
<line x1="1319.6" x2="1323.2" y1="820.4" y2="820.4" stroke="#333333" stroke-width="1.2"/>
<text x="1314.7" y="825.3" font-size="13.8" text-anchor="end" font-weight="normal" fill="#444444">50000</text>
<line x1="1319.6" x2="1323.2" y1="731.3" y2="731.3" stroke="#333333" stroke-width="1.2"/>
<text x="1314.7" y="736.2" font-size="13.8" text-anchor="end" font-weight="normal" fill="#444444">75000</text>
<line x1="1319.6" x2="1323.2" y1="642.2" y2="642.2" stroke="#333333" stroke-width="1.2"/>
<text x="1314.7" y="647.1" font-size="13.8" text-anchor="end" font-weight="normal" fill="#444444">100000</text>
<path d="M1334.76 1016v3.6M1354.02 1016v3.6M1373.29 1016v3.6M1392.55 1016v3.6M1411.82 1016v3.6M1431.08 1016v3.6M1450.34 1016v3.6M1469.61 1016v3.6M1488.87 1016v3.6M1508.14 1016v3.6M1527.4 1016v3.6M1546.66 1016v3.6M1565.93 1016v3.6M1585.19 1016v3.6M1604.46 1016v3.6M1623.72 1016v3.6M1642.99 1016v3.6M1662.25 1016v3.6M1681.51 1016v3.6M1700.78 1016v3.6M1720.04 1016v3.6M1739.31 1016v3.6M1758.57 1016v3.6M1777.84 1016v3.6M1797.1 1016v3.6M1816.36 1016v3.6M1835.63 1016v3.6M1854.89 1016v3.6M1874.16 1016v3.6M1893.42 1016v3.6M1912.68 1016v3.6M1931.95 1016v3.6M1951.21 1016v3.6M1970.48 1016v3.6M1989.74 1016v3.6" stroke="#333333" stroke-width="1.1"/>
<text transform="translate(1334.76,1023.8) rotate(-90)" x="0" y="0" dy="0.36em" font-size="14.3" text-anchor="end" fill="#444444">E11.5</text>
<text transform="translate(1354.02,1023.8) rotate(-90)" x="0" y="0" dy="0.36em" font-size="14.3" text-anchor="end" fill="#444444">E12.5</text>
<text transform="translate(1373.29,1023.8) rotate(-90)" x="0" y="0" dy="0.36em" font-size="14.3" text-anchor="end" fill="#444444">E13.5</text>
<text transform="translate(1392.55,1023.8) rotate(-90)" x="0" y="0" dy="0.36em" font-size="14.3" text-anchor="end" fill="#444444">E14.5</text>
<text transform="translate(1411.82,1023.8) rotate(-90)" x="0" y="0" dy="0.36em" font-size="14.3" text-anchor="end" fill="#444444">E15.5</text>
<text transform="translate(1431.08,1023.8) rotate(-90)" x="0" y="0" dy="0.36em" font-size="14.3" text-anchor="end" fill="#444444">E16.5</text>
<text transform="translate(1450.34,1023.8) rotate(-90)" x="0" y="0" dy="0.36em" font-size="14.3" text-anchor="end" fill="#444444">E17</text>
<text transform="translate(1469.61,1023.8) rotate(-90)" x="0" y="0" dy="0.36em" font-size="14.3" text-anchor="end" fill="#444444">E17.5</text>
<text transform="translate(1488.87,1023.8) rotate(-90)" x="0" y="0" dy="0.36em" font-size="14.3" text-anchor="end" fill="#444444">E18</text>
<text transform="translate(1508.14,1023.8) rotate(-90)" x="0" y="0" dy="0.36em" font-size="14.3" text-anchor="end" fill="#444444">E18.5</text>
<text transform="translate(1527.4,1023.8) rotate(-90)" x="0" y="0" dy="0.36em" font-size="14.3" text-anchor="end" fill="#444444">P0</text>
<text transform="translate(1546.66,1023.8) rotate(-90)" x="0" y="0" dy="0.36em" font-size="14.3" text-anchor="end" fill="#444444">P1</text>
<text transform="translate(1565.93,1023.8) rotate(-90)" x="0" y="0" dy="0.36em" font-size="14.3" text-anchor="end" fill="#444444">P2</text>
<text transform="translate(1585.19,1023.8) rotate(-90)" x="0" y="0" dy="0.36em" font-size="14.3" text-anchor="end" fill="#444444">P3</text>
<text transform="translate(1604.46,1023.8) rotate(-90)" x="0" y="0" dy="0.36em" font-size="14.3" text-anchor="end" fill="#444444">P4</text>
<text transform="translate(1623.72,1023.8) rotate(-90)" x="0" y="0" dy="0.36em" font-size="14.3" text-anchor="end" fill="#444444">P5</text>
<text transform="translate(1642.99,1023.8) rotate(-90)" x="0" y="0" dy="0.36em" font-size="14.3" text-anchor="end" fill="#444444">P6</text>
<text transform="translate(1662.25,1023.8) rotate(-90)" x="0" y="0" dy="0.36em" font-size="14.3" text-anchor="end" fill="#444444">P7</text>
<text transform="translate(1681.51,1023.8) rotate(-90)" x="0" y="0" dy="0.36em" font-size="14.3" text-anchor="end" fill="#444444">P8</text>
<text transform="translate(1700.78,1023.8) rotate(-90)" x="0" y="0" dy="0.36em" font-size="14.3" text-anchor="end" fill="#444444">P9</text>
<text transform="translate(1720.04,1023.8) rotate(-90)" x="0" y="0" dy="0.36em" font-size="14.3" text-anchor="end" fill="#444444">P10</text>
<text transform="translate(1739.31,1023.8) rotate(-90)" x="0" y="0" dy="0.36em" font-size="14.3" text-anchor="end" fill="#444444">P11</text>
<text transform="translate(1758.57,1023.8) rotate(-90)" x="0" y="0" dy="0.36em" font-size="14.3" text-anchor="end" fill="#444444">P12</text>
<text transform="translate(1777.84,1023.8) rotate(-90)" x="0" y="0" dy="0.36em" font-size="14.3" text-anchor="end" fill="#444444">P13</text>
<text transform="translate(1797.1,1023.8) rotate(-90)" x="0" y="0" dy="0.36em" font-size="14.3" text-anchor="end" fill="#444444">P14</text>
<text transform="translate(1816.36,1023.8) rotate(-90)" x="0" y="0" dy="0.36em" font-size="14.3" text-anchor="end" fill="#444444">P15</text>
<text transform="translate(1835.63,1023.8) rotate(-90)" x="0" y="0" dy="0.36em" font-size="14.3" text-anchor="end" fill="#444444">P16</text>
<text transform="translate(1854.89,1023.8) rotate(-90)" x="0" y="0" dy="0.36em" font-size="14.3" text-anchor="end" fill="#444444">P17</text>
<text transform="translate(1874.16,1023.8) rotate(-90)" x="0" y="0" dy="0.36em" font-size="14.3" text-anchor="end" fill="#444444">P19</text>
<text transform="translate(1893.42,1023.8) rotate(-90)" x="0" y="0" dy="0.36em" font-size="14.3" text-anchor="end" fill="#444444">P20</text>
<text transform="translate(1912.68,1023.8) rotate(-90)" x="0" y="0" dy="0.36em" font-size="14.3" text-anchor="end" fill="#444444">P21</text>
<text transform="translate(1931.95,1023.8) rotate(-90)" x="0" y="0" dy="0.36em" font-size="14.3" text-anchor="end" fill="#444444">P23</text>
<text transform="translate(1951.21,1023.8) rotate(-90)" x="0" y="0" dy="0.36em" font-size="14.3" text-anchor="end" fill="#444444">P25</text>
<text transform="translate(1970.48,1023.8) rotate(-90)" x="0" y="0" dy="0.36em" font-size="14.3" text-anchor="end" fill="#444444">P28</text>
<text transform="translate(1989.74,1023.8) rotate(-90)" x="0" y="0" dy="0.36em" font-size="14.3" text-anchor="end" fill="#444444">P56</text>
<rect x="1332.8" y="632" width="224.9" height="105.7" fill="#fff" stroke="#F0F0F0" stroke-width="1"/>
<rect x="1339" y="639" width="17.6" height="17" fill="#44EE1C"/>
<text x="1363.3" y="651.16" font-size="12.2" text-anchor="start" font-weight="normal" fill="#000">Calcein−positive, Hoechst−positive</text>
<rect x="1339" y="657.9" width="17.6" height="17" fill="#FF2414"/>
<text x="1363.3" y="670.06" font-size="12.2" text-anchor="start" font-weight="normal" fill="#000">RFP−positive</text>
<rect x="1339" y="676.8" width="17.6" height="17" fill="#1010EE"/>
<text x="1363.3" y="688.96" font-size="12.2" text-anchor="start" font-weight="normal" fill="#000">Hoechst−positive</text>
<rect x="1339" y="695.7" width="17.6" height="17" fill="#B026F2"/>
<text x="1363.3" y="707.86" font-size="12.2" text-anchor="start" font-weight="normal" fill="#000">RFP−positive, Hoechst−positive</text>
<rect x="1339" y="714.6" width="17.6" height="17" fill="#999999"/>
<text x="1363.3" y="726.76" font-size="12.2" text-anchor="start" font-weight="normal" fill="#000">No FACS</text>
<text transform="translate(1255,820.5) rotate(-90)" x="0" y="0" dy="0.36em" font-size="16.9" text-anchor="middle" fill="#000">Number of cells</text>
<text x="4.5" y="1100.5" font-size="38" text-anchor="start" font-weight="bold" fill="#000">e</text>
<text x="62.7" y="1096.7" font-size="20.6" text-anchor="start" font-weight="normal" fill="#000">10xv3 Gene count</text>
<rect x="61.6" y="1133.5" width="236.1" height="130" fill="#fff"/>
<path d="M61.6 1245.66h236.1M61.6 1220.98h236.1M61.6 1196.3h236.1M61.6 1171.62h236.1M61.6 1146.94h236.1" stroke="#F4F4F4" stroke-width="0.7"/>
<path d="M61.6 1258h236.1M61.6 1233.32h236.1M61.6 1208.64h236.1M61.6 1183.96h236.1M61.6 1159.28h236.1M61.6 1134.6h236.1M65.62 1133.5v130M72.33 1133.5v130M79.04 1133.5v130M85.75 1133.5v130M92.45 1133.5v130M99.16 1133.5v130M105.87 1133.5v130M112.58 1133.5v130M119.28 1133.5v130M125.99 1133.5v130M132.7 1133.5v130M139.41 1133.5v130M146.11 1133.5v130M152.82 1133.5v130M159.53 1133.5v130M166.24 1133.5v130M172.94 1133.5v130M179.65 1133.5v130M186.36 1133.5v130M193.06 1133.5v130M199.77 1133.5v130M206.48 1133.5v130M213.19 1133.5v130M219.89 1133.5v130M226.6 1133.5v130M233.31 1133.5v130M240.02 1133.5v130M246.72 1133.5v130M253.43 1133.5v130M260.14 1133.5v130M266.85 1133.5v130M273.55 1133.5v130M280.26 1133.5v130M286.97 1133.5v130M293.68 1133.5v130" stroke="#EBEBEB" stroke-width="1.1"/>
<rect x="62.15" y="1108.55" width="235" height="24.95" fill="#D9D9D9" stroke="#555" stroke-width="1.1"/>
<text x="179.65" y="1126.43" font-size="16" text-anchor="middle" font-weight="normal" fill="#1A1A1A">NEC</text>
<rect x="304.9" y="1133.5" width="236.1" height="130" fill="#fff"/>
<path d="M304.9 1245.66h236.1M304.9 1220.98h236.1M304.9 1196.3h236.1M304.9 1171.62h236.1M304.9 1146.94h236.1" stroke="#F4F4F4" stroke-width="0.7"/>
<path d="M304.9 1258h236.1M304.9 1233.32h236.1M304.9 1208.64h236.1M304.9 1183.96h236.1M304.9 1159.28h236.1M304.9 1134.6h236.1M308.92 1133.5v130M315.63 1133.5v130M322.34 1133.5v130M329.05 1133.5v130M335.75 1133.5v130M342.46 1133.5v130M349.17 1133.5v130M355.88 1133.5v130M362.58 1133.5v130M369.29 1133.5v130M376 1133.5v130M382.71 1133.5v130M389.41 1133.5v130M396.12 1133.5v130M402.83 1133.5v130M409.54 1133.5v130M416.24 1133.5v130M422.95 1133.5v130M429.66 1133.5v130M436.36 1133.5v130M443.07 1133.5v130M449.78 1133.5v130M456.49 1133.5v130M463.19 1133.5v130M469.9 1133.5v130M476.61 1133.5v130M483.32 1133.5v130M490.02 1133.5v130M496.73 1133.5v130M503.44 1133.5v130M510.15 1133.5v130M516.85 1133.5v130M523.56 1133.5v130M530.27 1133.5v130M536.98 1133.5v130" stroke="#EBEBEB" stroke-width="1.1"/>
<rect x="305.45" y="1108.55" width="235" height="24.95" fill="#D9D9D9" stroke="#555" stroke-width="1.1"/>
<text x="422.95" y="1126.43" font-size="16" text-anchor="middle" font-weight="normal" fill="#1A1A1A">CR Glut</text>
<rect x="548.2" y="1133.5" width="236.1" height="130" fill="#fff"/>
<path d="M548.2 1245.66h236.1M548.2 1220.98h236.1M548.2 1196.3h236.1M548.2 1171.62h236.1M548.2 1146.94h236.1" stroke="#F4F4F4" stroke-width="0.7"/>
<path d="M548.2 1258h236.1M548.2 1233.32h236.1M548.2 1208.64h236.1M548.2 1183.96h236.1M548.2 1159.28h236.1M548.2 1134.6h236.1M552.22 1133.5v130M558.93 1133.5v130M565.64 1133.5v130M572.35 1133.5v130M579.05 1133.5v130M585.76 1133.5v130M592.47 1133.5v130M599.18 1133.5v130M605.88 1133.5v130M612.59 1133.5v130M619.3 1133.5v130M626.01 1133.5v130M632.71 1133.5v130M639.42 1133.5v130M646.13 1133.5v130M652.84 1133.5v130M659.54 1133.5v130M666.25 1133.5v130M672.96 1133.5v130M679.66 1133.5v130M686.37 1133.5v130M693.08 1133.5v130M699.79 1133.5v130M706.49 1133.5v130M713.2 1133.5v130M719.91 1133.5v130M726.62 1133.5v130M733.32 1133.5v130M740.03 1133.5v130M746.74 1133.5v130M753.45 1133.5v130M760.15 1133.5v130M766.86 1133.5v130M773.57 1133.5v130M780.28 1133.5v130" stroke="#EBEBEB" stroke-width="1.1"/>
<rect x="548.75" y="1108.55" width="235" height="24.95" fill="#D9D9D9" stroke="#555" stroke-width="1.1"/>
<text x="666.25" y="1126.43" font-size="16" text-anchor="middle" font-weight="normal" fill="#1A1A1A">RG</text>
<rect x="791.5" y="1133.5" width="236.1" height="130" fill="#fff"/>
<path d="M791.5 1245.66h236.1M791.5 1220.98h236.1M791.5 1196.3h236.1M791.5 1171.62h236.1M791.5 1146.94h236.1" stroke="#F4F4F4" stroke-width="0.7"/>
<path d="M791.5 1258h236.1M791.5 1233.32h236.1M791.5 1208.64h236.1M791.5 1183.96h236.1M791.5 1159.28h236.1M791.5 1134.6h236.1M795.52 1133.5v130M802.23 1133.5v130M808.94 1133.5v130M815.65 1133.5v130M822.35 1133.5v130M829.06 1133.5v130M835.77 1133.5v130M842.48 1133.5v130M849.18 1133.5v130M855.89 1133.5v130M862.6 1133.5v130M869.31 1133.5v130M876.01 1133.5v130M882.72 1133.5v130M889.43 1133.5v130M896.14 1133.5v130M902.84 1133.5v130M909.55 1133.5v130M916.26 1133.5v130M922.96 1133.5v130M929.67 1133.5v130M936.38 1133.5v130M943.09 1133.5v130M949.79 1133.5v130M956.5 1133.5v130M963.21 1133.5v130M969.92 1133.5v130M976.62 1133.5v130M983.33 1133.5v130M990.04 1133.5v130M996.75 1133.5v130M1003.45 1133.5v130M1010.16 1133.5v130M1016.87 1133.5v130M1023.58 1133.5v130" stroke="#EBEBEB" stroke-width="1.1"/>
<rect x="792.05" y="1108.55" width="235" height="24.95" fill="#D9D9D9" stroke="#555" stroke-width="1.1"/>
<text x="909.55" y="1126.43" font-size="16" text-anchor="middle" font-weight="normal" fill="#1A1A1A">IP</text>
<rect x="1034.8" y="1133.5" width="236.1" height="130" fill="#fff"/>
<path d="M1034.8 1245.66h236.1M1034.8 1220.98h236.1M1034.8 1196.3h236.1M1034.8 1171.62h236.1M1034.8 1146.94h236.1" stroke="#F4F4F4" stroke-width="0.7"/>
<path d="M1034.8 1258h236.1M1034.8 1233.32h236.1M1034.8 1208.64h236.1M1034.8 1183.96h236.1M1034.8 1159.28h236.1M1034.8 1134.6h236.1M1038.82 1133.5v130M1045.53 1133.5v130M1052.24 1133.5v130M1058.95 1133.5v130M1065.65 1133.5v130M1072.36 1133.5v130M1079.07 1133.5v130M1085.78 1133.5v130M1092.48 1133.5v130M1099.19 1133.5v130M1105.9 1133.5v130M1112.61 1133.5v130M1119.31 1133.5v130M1126.02 1133.5v130M1132.73 1133.5v130M1139.44 1133.5v130M1146.14 1133.5v130M1152.85 1133.5v130M1159.56 1133.5v130M1166.26 1133.5v130M1172.97 1133.5v130M1179.68 1133.5v130M1186.39 1133.5v130M1193.09 1133.5v130M1199.8 1133.5v130M1206.51 1133.5v130M1213.22 1133.5v130M1219.92 1133.5v130M1226.63 1133.5v130M1233.34 1133.5v130M1240.05 1133.5v130M1246.75 1133.5v130M1253.46 1133.5v130M1260.17 1133.5v130M1266.88 1133.5v130" stroke="#EBEBEB" stroke-width="1.1"/>
<rect x="1035.35" y="1108.55" width="235" height="24.95" fill="#D9D9D9" stroke="#555" stroke-width="1.1"/>
<text x="1152.85" y="1126.43" font-size="16" text-anchor="middle" font-weight="normal" fill="#1A1A1A">IMN</text>
<rect x="1278.1" y="1133.5" width="236.1" height="130" fill="#fff"/>
<path d="M1278.1 1245.66h236.1M1278.1 1220.98h236.1M1278.1 1196.3h236.1M1278.1 1171.62h236.1M1278.1 1146.94h236.1" stroke="#F4F4F4" stroke-width="0.7"/>
<path d="M1278.1 1258h236.1M1278.1 1233.32h236.1M1278.1 1208.64h236.1M1278.1 1183.96h236.1M1278.1 1159.28h236.1M1278.1 1134.6h236.1M1282.12 1133.5v130M1288.83 1133.5v130M1295.54 1133.5v130M1302.25 1133.5v130M1308.95 1133.5v130M1315.66 1133.5v130M1322.37 1133.5v130M1329.08 1133.5v130M1335.78 1133.5v130M1342.49 1133.5v130M1349.2 1133.5v130M1355.91 1133.5v130M1362.61 1133.5v130M1369.32 1133.5v130M1376.03 1133.5v130M1382.74 1133.5v130M1389.44 1133.5v130M1396.15 1133.5v130M1402.86 1133.5v130M1409.56 1133.5v130M1416.27 1133.5v130M1422.98 1133.5v130M1429.69 1133.5v130M1436.39 1133.5v130M1443.1 1133.5v130M1449.81 1133.5v130M1456.52 1133.5v130M1463.22 1133.5v130M1469.93 1133.5v130M1476.64 1133.5v130M1483.35 1133.5v130M1490.05 1133.5v130M1496.76 1133.5v130M1503.47 1133.5v130M1510.18 1133.5v130" stroke="#EBEBEB" stroke-width="1.1"/>
<rect x="1278.65" y="1108.55" width="235" height="24.95" fill="#D9D9D9" stroke="#555" stroke-width="1.1"/>
<text x="1396.15" y="1126.43" font-size="16" text-anchor="middle" font-weight="normal" fill="#1A1A1A">nonIT Glut</text>
<rect x="1521.4" y="1133.5" width="236.1" height="130" fill="#fff"/>
<path d="M1521.4 1245.66h236.1M1521.4 1220.98h236.1M1521.4 1196.3h236.1M1521.4 1171.62h236.1M1521.4 1146.94h236.1" stroke="#F4F4F4" stroke-width="0.7"/>
<path d="M1521.4 1258h236.1M1521.4 1233.32h236.1M1521.4 1208.64h236.1M1521.4 1183.96h236.1M1521.4 1159.28h236.1M1521.4 1134.6h236.1M1525.42 1133.5v130M1532.13 1133.5v130M1538.84 1133.5v130M1545.55 1133.5v130M1552.25 1133.5v130M1558.96 1133.5v130M1565.67 1133.5v130M1572.38 1133.5v130M1579.08 1133.5v130M1585.79 1133.5v130M1592.5 1133.5v130M1599.21 1133.5v130M1605.91 1133.5v130M1612.62 1133.5v130M1619.33 1133.5v130M1626.04 1133.5v130M1632.74 1133.5v130M1639.45 1133.5v130M1646.16 1133.5v130M1652.86 1133.5v130M1659.57 1133.5v130M1666.28 1133.5v130M1672.99 1133.5v130M1679.69 1133.5v130M1686.4 1133.5v130M1693.11 1133.5v130M1699.82 1133.5v130M1706.52 1133.5v130M1713.23 1133.5v130M1719.94 1133.5v130M1726.65 1133.5v130M1733.35 1133.5v130M1740.06 1133.5v130M1746.77 1133.5v130M1753.48 1133.5v130" stroke="#EBEBEB" stroke-width="1.1"/>
<rect x="1521.95" y="1108.55" width="235" height="24.95" fill="#D9D9D9" stroke="#555" stroke-width="1.1"/>
<text x="1639.45" y="1126.43" font-size="16" text-anchor="middle" font-weight="normal" fill="#1A1A1A">IT Glut</text>
<rect x="1764.7" y="1133.5" width="236.1" height="130" fill="#fff"/>
<path d="M1764.7 1245.66h236.1M1764.7 1220.98h236.1M1764.7 1196.3h236.1M1764.7 1171.62h236.1M1764.7 1146.94h236.1" stroke="#F4F4F4" stroke-width="0.7"/>
<path d="M1764.7 1258h236.1M1764.7 1233.32h236.1M1764.7 1208.64h236.1M1764.7 1183.96h236.1M1764.7 1159.28h236.1M1764.7 1134.6h236.1M1768.72 1133.5v130M1775.43 1133.5v130M1782.14 1133.5v130M1788.85 1133.5v130M1795.55 1133.5v130M1802.26 1133.5v130M1808.97 1133.5v130M1815.68 1133.5v130M1822.38 1133.5v130M1829.09 1133.5v130M1835.8 1133.5v130M1842.51 1133.5v130M1849.21 1133.5v130M1855.92 1133.5v130M1862.63 1133.5v130M1869.34 1133.5v130M1876.04 1133.5v130M1882.75 1133.5v130M1889.46 1133.5v130M1896.16 1133.5v130M1902.87 1133.5v130M1909.58 1133.5v130M1916.29 1133.5v130M1922.99 1133.5v130M1929.7 1133.5v130M1936.41 1133.5v130M1943.12 1133.5v130M1949.82 1133.5v130M1956.53 1133.5v130M1963.24 1133.5v130M1969.95 1133.5v130M1976.65 1133.5v130M1983.36 1133.5v130M1990.07 1133.5v130M1996.78 1133.5v130" stroke="#EBEBEB" stroke-width="1.1"/>
<rect x="1765.25" y="1108.55" width="235" height="24.95" fill="#D9D9D9" stroke="#555" stroke-width="1.1"/>
<text x="1882.75" y="1126.43" font-size="16" text-anchor="middle" font-weight="normal" fill="#1A1A1A">Glioblast</text>
<rect x="61.6" y="1296.75" width="236.1" height="130" fill="#fff"/>
<path d="M61.6 1408.91h236.1M61.6 1384.23h236.1M61.6 1359.55h236.1M61.6 1334.87h236.1M61.6 1310.19h236.1" stroke="#F4F4F4" stroke-width="0.7"/>
<path d="M61.6 1421.25h236.1M61.6 1396.57h236.1M61.6 1371.89h236.1M61.6 1347.21h236.1M61.6 1322.53h236.1M61.6 1297.85h236.1M65.62 1296.75v130M72.33 1296.75v130M79.04 1296.75v130M85.75 1296.75v130M92.45 1296.75v130M99.16 1296.75v130M105.87 1296.75v130M112.58 1296.75v130M119.28 1296.75v130M125.99 1296.75v130M132.7 1296.75v130M139.41 1296.75v130M146.11 1296.75v130M152.82 1296.75v130M159.53 1296.75v130M166.24 1296.75v130M172.94 1296.75v130M179.65 1296.75v130M186.36 1296.75v130M193.06 1296.75v130M199.77 1296.75v130M206.48 1296.75v130M213.19 1296.75v130M219.89 1296.75v130M226.6 1296.75v130M233.31 1296.75v130M240.02 1296.75v130M246.72 1296.75v130M253.43 1296.75v130M260.14 1296.75v130M266.85 1296.75v130M273.55 1296.75v130M280.26 1296.75v130M286.97 1296.75v130M293.68 1296.75v130" stroke="#EBEBEB" stroke-width="1.1"/>
<rect x="62.15" y="1271.8" width="235" height="24.95" fill="#D9D9D9" stroke="#555" stroke-width="1.1"/>
<text x="179.65" y="1289.68" font-size="16" text-anchor="middle" font-weight="normal" fill="#1A1A1A">Astro−Epen</text>
<rect x="304.9" y="1296.75" width="236.1" height="130" fill="#fff"/>
<path d="M304.9 1408.91h236.1M304.9 1384.23h236.1M304.9 1359.55h236.1M304.9 1334.87h236.1M304.9 1310.19h236.1" stroke="#F4F4F4" stroke-width="0.7"/>
<path d="M304.9 1421.25h236.1M304.9 1396.57h236.1M304.9 1371.89h236.1M304.9 1347.21h236.1M304.9 1322.53h236.1M304.9 1297.85h236.1M308.92 1296.75v130M315.63 1296.75v130M322.34 1296.75v130M329.05 1296.75v130M335.75 1296.75v130M342.46 1296.75v130M349.17 1296.75v130M355.88 1296.75v130M362.58 1296.75v130M369.29 1296.75v130M376 1296.75v130M382.71 1296.75v130M389.41 1296.75v130M396.12 1296.75v130M402.83 1296.75v130M409.54 1296.75v130M416.24 1296.75v130M422.95 1296.75v130M429.66 1296.75v130M436.36 1296.75v130M443.07 1296.75v130M449.78 1296.75v130M456.49 1296.75v130M463.19 1296.75v130M469.9 1296.75v130M476.61 1296.75v130M483.32 1296.75v130M490.02 1296.75v130M496.73 1296.75v130M503.44 1296.75v130M510.15 1296.75v130M516.85 1296.75v130M523.56 1296.75v130M530.27 1296.75v130M536.98 1296.75v130" stroke="#EBEBEB" stroke-width="1.1"/>
<rect x="305.45" y="1271.8" width="235" height="24.95" fill="#D9D9D9" stroke="#555" stroke-width="1.1"/>
<text x="422.95" y="1289.68" font-size="16" text-anchor="middle" font-weight="normal" fill="#1A1A1A">OPC−Oligo</text>
<rect x="548.2" y="1296.75" width="236.1" height="130" fill="#fff"/>
<path d="M548.2 1408.91h236.1M548.2 1384.23h236.1M548.2 1359.55h236.1M548.2 1334.87h236.1M548.2 1310.19h236.1" stroke="#F4F4F4" stroke-width="0.7"/>
<path d="M548.2 1421.25h236.1M548.2 1396.57h236.1M548.2 1371.89h236.1M548.2 1347.21h236.1M548.2 1322.53h236.1M548.2 1297.85h236.1M552.22 1296.75v130M558.93 1296.75v130M565.64 1296.75v130M572.35 1296.75v130M579.05 1296.75v130M585.76 1296.75v130M592.47 1296.75v130M599.18 1296.75v130M605.88 1296.75v130M612.59 1296.75v130M619.3 1296.75v130M626.01 1296.75v130M632.71 1296.75v130M639.42 1296.75v130M646.13 1296.75v130M652.84 1296.75v130M659.54 1296.75v130M666.25 1296.75v130M672.96 1296.75v130M679.66 1296.75v130M686.37 1296.75v130M693.08 1296.75v130M699.79 1296.75v130M706.49 1296.75v130M713.2 1296.75v130M719.91 1296.75v130M726.62 1296.75v130M733.32 1296.75v130M740.03 1296.75v130M746.74 1296.75v130M753.45 1296.75v130M760.15 1296.75v130M766.86 1296.75v130M773.57 1296.75v130M780.28 1296.75v130" stroke="#EBEBEB" stroke-width="1.1"/>
<rect x="548.75" y="1271.8" width="235" height="24.95" fill="#D9D9D9" stroke="#555" stroke-width="1.1"/>
<text x="666.25" y="1289.68" font-size="16" text-anchor="middle" font-weight="normal" fill="#1A1A1A">CTX−CGE GABA</text>
<rect x="791.5" y="1296.75" width="236.1" height="130" fill="#fff"/>
<path d="M791.5 1408.91h236.1M791.5 1384.23h236.1M791.5 1359.55h236.1M791.5 1334.87h236.1M791.5 1310.19h236.1" stroke="#F4F4F4" stroke-width="0.7"/>
<path d="M791.5 1421.25h236.1M791.5 1396.57h236.1M791.5 1371.89h236.1M791.5 1347.21h236.1M791.5 1322.53h236.1M791.5 1297.85h236.1M795.52 1296.75v130M802.23 1296.75v130M808.94 1296.75v130M815.65 1296.75v130M822.35 1296.75v130M829.06 1296.75v130M835.77 1296.75v130M842.48 1296.75v130M849.18 1296.75v130M855.89 1296.75v130M862.6 1296.75v130M869.31 1296.75v130M876.01 1296.75v130M882.72 1296.75v130M889.43 1296.75v130M896.14 1296.75v130M902.84 1296.75v130M909.55 1296.75v130M916.26 1296.75v130M922.96 1296.75v130M929.67 1296.75v130M936.38 1296.75v130M943.09 1296.75v130M949.79 1296.75v130M956.5 1296.75v130M963.21 1296.75v130M969.92 1296.75v130M976.62 1296.75v130M983.33 1296.75v130M990.04 1296.75v130M996.75 1296.75v130M1003.45 1296.75v130M1010.16 1296.75v130M1016.87 1296.75v130M1023.58 1296.75v130" stroke="#EBEBEB" stroke-width="1.1"/>
<rect x="792.05" y="1271.8" width="235" height="24.95" fill="#D9D9D9" stroke="#555" stroke-width="1.1"/>
<text x="909.55" y="1289.68" font-size="16" text-anchor="middle" font-weight="normal" fill="#1A1A1A">CTX−MGE GABA</text>
<rect x="1034.8" y="1296.75" width="236.1" height="130" fill="#fff"/>
<path d="M1034.8 1408.91h236.1M1034.8 1384.23h236.1M1034.8 1359.55h236.1M1034.8 1334.87h236.1M1034.8 1310.19h236.1" stroke="#F4F4F4" stroke-width="0.7"/>
<path d="M1034.8 1421.25h236.1M1034.8 1396.57h236.1M1034.8 1371.89h236.1M1034.8 1347.21h236.1M1034.8 1322.53h236.1M1034.8 1297.85h236.1M1038.82 1296.75v130M1045.53 1296.75v130M1052.24 1296.75v130M1058.95 1296.75v130M1065.65 1296.75v130M1072.36 1296.75v130M1079.07 1296.75v130M1085.78 1296.75v130M1092.48 1296.75v130M1099.19 1296.75v130M1105.9 1296.75v130M1112.61 1296.75v130M1119.31 1296.75v130M1126.02 1296.75v130M1132.73 1296.75v130M1139.44 1296.75v130M1146.14 1296.75v130M1152.85 1296.75v130M1159.56 1296.75v130M1166.26 1296.75v130M1172.97 1296.75v130M1179.68 1296.75v130M1186.39 1296.75v130M1193.09 1296.75v130M1199.8 1296.75v130M1206.51 1296.75v130M1213.22 1296.75v130M1219.92 1296.75v130M1226.63 1296.75v130M1233.34 1296.75v130M1240.05 1296.75v130M1246.75 1296.75v130M1253.46 1296.75v130M1260.17 1296.75v130M1266.88 1296.75v130" stroke="#EBEBEB" stroke-width="1.1"/>
<rect x="1035.35" y="1271.8" width="235" height="24.95" fill="#D9D9D9" stroke="#555" stroke-width="1.1"/>
<text x="1152.85" y="1289.68" font-size="16" text-anchor="middle" font-weight="normal" fill="#1A1A1A">CNU−MGE GABA</text>
<rect x="1278.1" y="1296.75" width="236.1" height="130" fill="#fff"/>
<path d="M1278.1 1408.91h236.1M1278.1 1384.23h236.1M1278.1 1359.55h236.1M1278.1 1334.87h236.1M1278.1 1310.19h236.1" stroke="#F4F4F4" stroke-width="0.7"/>
<path d="M1278.1 1421.25h236.1M1278.1 1396.57h236.1M1278.1 1371.89h236.1M1278.1 1347.21h236.1M1278.1 1322.53h236.1M1278.1 1297.85h236.1M1282.12 1296.75v130M1288.83 1296.75v130M1295.54 1296.75v130M1302.25 1296.75v130M1308.95 1296.75v130M1315.66 1296.75v130M1322.37 1296.75v130M1329.08 1296.75v130M1335.78 1296.75v130M1342.49 1296.75v130M1349.2 1296.75v130M1355.91 1296.75v130M1362.61 1296.75v130M1369.32 1296.75v130M1376.03 1296.75v130M1382.74 1296.75v130M1389.44 1296.75v130M1396.15 1296.75v130M1402.86 1296.75v130M1409.56 1296.75v130M1416.27 1296.75v130M1422.98 1296.75v130M1429.69 1296.75v130M1436.39 1296.75v130M1443.1 1296.75v130M1449.81 1296.75v130M1456.52 1296.75v130M1463.22 1296.75v130M1469.93 1296.75v130M1476.64 1296.75v130M1483.35 1296.75v130M1490.05 1296.75v130M1496.76 1296.75v130M1503.47 1296.75v130M1510.18 1296.75v130" stroke="#EBEBEB" stroke-width="1.1"/>
<rect x="1278.65" y="1271.8" width="235" height="24.95" fill="#D9D9D9" stroke="#555" stroke-width="1.1"/>
<text x="1396.15" y="1289.68" font-size="16" text-anchor="middle" font-weight="normal" fill="#1A1A1A">Vascular</text>
<rect x="1521.4" y="1296.75" width="236.1" height="130" fill="#fff"/>
<path d="M1521.4 1408.91h236.1M1521.4 1384.23h236.1M1521.4 1359.55h236.1M1521.4 1334.87h236.1M1521.4 1310.19h236.1" stroke="#F4F4F4" stroke-width="0.7"/>
<path d="M1521.4 1421.25h236.1M1521.4 1396.57h236.1M1521.4 1371.89h236.1M1521.4 1347.21h236.1M1521.4 1322.53h236.1M1521.4 1297.85h236.1M1525.42 1296.75v130M1532.13 1296.75v130M1538.84 1296.75v130M1545.55 1296.75v130M1552.25 1296.75v130M1558.96 1296.75v130M1565.67 1296.75v130M1572.38 1296.75v130M1579.08 1296.75v130M1585.79 1296.75v130M1592.5 1296.75v130M1599.21 1296.75v130M1605.91 1296.75v130M1612.62 1296.75v130M1619.33 1296.75v130M1626.04 1296.75v130M1632.74 1296.75v130M1639.45 1296.75v130M1646.16 1296.75v130M1652.86 1296.75v130M1659.57 1296.75v130M1666.28 1296.75v130M1672.99 1296.75v130M1679.69 1296.75v130M1686.4 1296.75v130M1693.11 1296.75v130M1699.82 1296.75v130M1706.52 1296.75v130M1713.23 1296.75v130M1719.94 1296.75v130M1726.65 1296.75v130M1733.35 1296.75v130M1740.06 1296.75v130M1746.77 1296.75v130M1753.48 1296.75v130" stroke="#EBEBEB" stroke-width="1.1"/>
<rect x="1521.95" y="1271.8" width="235" height="24.95" fill="#D9D9D9" stroke="#555" stroke-width="1.1"/>
<text x="1639.45" y="1289.68" font-size="16" text-anchor="middle" font-weight="normal" fill="#1A1A1A">Immune</text>
<path d="M65.62 1177.31V1221.21M72.33 1175.83V1222.1M79.04 1183.54V1234.56M85.75 1179.83V1227.29M92.45 1170.78V1224.92M308.92 1186.5V1223.28M315.63 1179.09V1227.73M322.34 1177.46V1224.92M329.05 1166.19V1210.08M335.75 1187.84V1204.15M552.22 1207.71V1211.27M558.93 1204.15V1223.43M565.64 1178.05V1230.25M572.35 1173.9V1221.36M579.05 1173.01V1220.47M585.76 1169.45V1224.03M592.47 1181.02V1227.88M599.18 1193.77V1219.87M605.88 1190.81V1222.1M612.59 1194.66V1232.33M619.3 1202.67V1224.92M808.94 1178.94V1238.26M815.65 1181.17V1225.06M822.35 1173.75V1229.51M829.06 1181.91V1226.99M835.77 1191.69V1234.41M842.48 1193.62V1225.66M849.18 1192.29V1230.25M855.89 1201.93V1233.96M862.6 1198.81V1227.29M869.31 1192.88V1229.36M876.01 1193.77V1207.12M889.43 1196.74V1221.95M896.14 1198.22V1201.19M902.84 1204.15V1236.78M909.55 1185.61V1221.95M916.26 1202.67V1210.08M922.96 1190.81V1239M943.09 1208.6V1213.05M1052.24 1179.83V1234.41M1058.95 1182.5V1222.84M1065.65 1176.12V1224.77M1072.36 1178.05V1225.51M1079.07 1191.69V1234.41M1085.78 1189.32V1227.29M1092.48 1186.36V1233.81M1099.19 1193.18V1238.26M1105.9 1184.28V1238.86M1112.61 1193.62V1235.15M1119.31 1190.06V1233.96M1126.02 1200.3V1235.89M1132.73 1203.56V1230.85M1139.44 1202.67V1227.14M1146.14 1209.49V1233.07M1152.85 1209.49V1226.4M1159.56 1199.7V1216.02M1166.26 1208.6V1239.75M1266.88 1216.61V1220.76M1308.95 1183.39V1203.56M1315.66 1186.36V1213.05M1322.37 1192.29V1225.51M1329.08 1191.4V1217.5M1335.78 1188.43V1224.03M1342.49 1192.29V1227.88M1349.2 1186.21V1230.11M1355.91 1185.61V1227.14M1362.61 1175.97V1223.43M1369.32 1175.23V1238.11M1376.03 1181.31V1216.91M1382.74 1178.94V1212.16M1389.44 1174.64V1225.66M1396.15 1171.53V1207.12M1402.86 1165.44V1218.83M1409.56 1160.4V1213.79M1416.27 1171.53V1204.75M1422.98 1168.56V1206.53M1429.69 1156.69V1235.44M1436.39 1171.53V1207.12M1443.1 1174.49V1210.08M1449.81 1150.17V1240.49M1456.52 1161.14V1208.6M1463.22 1167.82V1199.85M1469.93 1167.97V1215.42M1476.64 1167.82V1199.85M1483.35 1165.59V1213.05M1490.05 1161.89V1215.28M1496.76 1166.48V1211.57M1503.47 1162.63V1200.59M1510.18 1162.78V1213.79M1552.25 1184.87V1199.7M1558.96 1180.42V1195.25M1565.67 1173.6V1223.43M1572.38 1180.42V1213.64M1579.08 1179.53V1215.13M1585.79 1182.5V1222.84M1592.5 1179.83V1222.54M1599.21 1179.83V1222.54M1605.91 1176.86V1219.58M1612.62 1177.61V1228.62M1619.33 1173.9V1221.36M1626.04 1172.12V1210.08M1632.74 1178.2V1219.72M1639.45 1162.03V1218.98M1646.16 1170.78V1212.31M1652.86 1152.25V1225.81M1659.57 1170.78V1212.31M1666.28 1170.04V1205.64M1672.99 1159.66V1235.89M1679.69 1172.42V1208.01M1686.4 1166.33V1219.72M1693.11 1150.76V1236.78M1699.82 1158.77V1208.6M1706.52 1166.93V1198.96M1713.23 1170.78V1212.31M1719.94 1162.63V1200.59M1726.65 1168.56V1206.53M1733.35 1164.11V1209.19M1740.06 1166.33V1207.86M1746.77 1159.66V1197.63M1753.48 1164.11V1211.57M1782.14 1170.04V1241.23M1788.85 1184.87V1207.12M1795.55 1173.9V1221.36M1802.26 1174.64V1225.66M1808.97 1179.68V1233.07M1815.68 1177.46V1227.88M1822.38 1175.83V1231.59M1829.09 1186.5V1237.52M1835.8 1182.65V1236.04M1842.51 1191.69V1234.41M1849.21 1183.54V1234.56M1855.92 1170.78V1245.53M1862.63 1201.78V1239.75M1869.34 1197.33V1232.92M1876.04 1203.41V1242.71M1882.75 1204.3V1231.59M1889.46 1206.23V1232.33M1896.16 1187.84V1239.75M1902.87 1199.7V1236.78M1909.58 1183.24V1236.78M1916.29 1189.32V1239.75M1922.99 1198.96V1239.75M1929.7 1196.14V1242.71M1936.41 1198.22V1229.36M1943.12 1227.88V1238.26M1949.82 1225.51V1235.3M1956.53 1226.25V1232.33M1963.24 1215.28V1236.19M1969.95 1213.05V1227.88M1983.36 1202.82V1229.36M1990.07 1215.42V1234.41M1996.78 1213.05V1230.85" stroke="#333" stroke-width="0.9"/>
<path d="M65.62 1177.31V1164.33M65.62 1221.21V1232.43M72.33 1175.83V1155.17M72.33 1222.1V1232.56M79.04 1183.54V1163.71M79.04 1234.56V1235.94M85.75 1179.83V1170.28M92.45 1170.78V1169.23M308.92 1186.5V1173.94M308.92 1223.28V1236.02M315.63 1179.09V1164.87M315.63 1227.73V1237.44M565.64 1178.05V1155.83M565.64 1230.25V1242.86M572.35 1173.9V1160.82M572.35 1221.36V1234.47M579.05 1173.01V1165.74M579.05 1220.47V1228.79M585.76 1169.45V1160.52M585.76 1224.03V1237.39M592.47 1181.02V1169.18M599.18 1193.77V1187.54M599.18 1219.87V1232.23M605.88 1222.1V1223.99M808.94 1178.94V1159.22M808.94 1238.26V1245.83M815.65 1181.17V1166.11M815.65 1225.06V1239.56M822.35 1173.75V1159.32M822.35 1229.51V1241.99M829.06 1181.91V1167.37M829.06 1226.99V1242.87M835.77 1191.69V1184.84M835.77 1234.41V1242.73M842.48 1193.62V1179.82M842.48 1225.66V1241.41M849.18 1192.29V1181.91M849.18 1230.25V1243.36M855.89 1201.93V1193.1M855.89 1233.96V1243.92M862.6 1198.81V1189.06M862.6 1227.29V1238.38M922.96 1239V1244.68M1052.24 1179.83V1158.44M1052.24 1234.41V1243.99M1058.95 1182.5V1167.55M1058.95 1222.84V1232.17M1065.65 1176.12V1166.68M1065.65 1224.77V1238.76M1072.36 1178.05V1167.67M1072.36 1225.51V1236.35M1079.07 1191.69V1173.42M1079.07 1234.41V1242.73M1085.78 1189.32V1176.86M1085.78 1227.29V1236.62M1092.48 1186.36V1173.9M1092.48 1233.81V1237.6M1099.19 1193.18V1162.45M1099.19 1238.26V1242.04M1105.9 1184.28V1167.05M1105.9 1238.86V1246.67M1112.61 1193.62V1176.08M1112.61 1235.15V1242.84M1119.31 1190.06V1172.93M1119.31 1233.96V1242.66M1126.02 1200.3V1179.12M1126.02 1235.89V1242.95M1132.73 1203.56V1192.56M1139.44 1227.14V1236.59M1322.37 1192.29V1175.68M1322.37 1225.51V1237.61M1329.08 1191.4V1180.6M1329.08 1217.5V1236.41M1335.78 1188.43V1180.75M1335.78 1224.03V1234.87M1342.49 1192.29V1164.26M1342.49 1227.88V1241.75M1349.2 1186.21V1173.85M1349.2 1230.11V1242.08M1355.91 1185.61V1173.68M1355.91 1227.14V1240.38M1362.61 1175.97V1165.59M1362.61 1223.43V1241.08M1369.32 1175.23V1168.49M1369.32 1238.11V1244.54M1376.03 1181.31V1164.08M1376.03 1216.91V1240.1M1382.74 1178.94V1164.41M1382.74 1212.16V1236.87M1389.44 1174.64V1166.23M1389.44 1225.66V1235.11M1396.15 1171.53V1156.99M1396.15 1207.12V1238.63M1402.86 1165.44V1160.36M1402.86 1218.83V1236.61M1409.56 1160.4V1147.43M1409.56 1213.79V1235.85M1416.27 1171.53V1161.14M1416.27 1204.75V1234.5M1422.98 1168.56V1151.95M1422.98 1206.53V1236.02M1429.69 1235.44V1241.12M1436.39 1171.53V1159.07M1436.39 1207.12V1236.11M1443.1 1174.49V1161M1443.1 1210.08V1236.56M1449.81 1240.49V1243.64M1456.52 1161.14V1153.88M1456.52 1208.6V1235.07M1463.22 1167.82V1164.18M1463.22 1199.85V1231.24M1469.93 1215.42V1233.58M1476.64 1167.82V1161.07M1476.64 1199.85V1232.5M1483.35 1165.59V1159.36M1483.35 1213.05V1234.48M1490.05 1161.89V1160.33M1490.05 1215.28V1234.81M1496.76 1166.48V1161.71M1496.76 1211.57V1229.22M1503.47 1162.63V1155.36M1503.47 1200.59V1235.13M1510.18 1162.78V1157.48M1510.18 1213.79V1237.11M1565.67 1173.6V1161.77M1565.67 1223.43V1232.26M1572.38 1180.42V1172.12M1572.38 1213.64V1228.27M1579.08 1179.53V1171.85M1579.08 1215.13V1237.31M1585.79 1182.5V1175.86M1585.79 1222.84V1244.27M1592.5 1179.83V1169.86M1592.5 1222.54V1240.95M1599.21 1179.83V1166.75M1599.21 1222.54V1240.95M1605.91 1176.86V1158.59M1605.91 1219.58V1239.24M1612.62 1177.61V1157.78M1612.62 1228.62V1240.6M1619.33 1173.9V1155.63M1619.33 1221.36V1238.25M1626.04 1172.12V1160.28M1626.04 1210.08V1235.3M1632.74 1178.2V1164.18M1632.74 1219.72V1235.48M1639.45 1162.03V1153.11M1639.45 1218.98V1236.63M1646.16 1170.78V1158.85M1646.16 1212.31V1235.63M1652.86 1152.25V1149.13M1652.86 1225.81V1237.65M1659.57 1170.78V1160.92M1659.57 1212.31V1235.63M1666.28 1170.04V1156.55M1666.28 1205.64V1234.63M1672.99 1235.89V1239.17M1679.69 1172.42V1163.49M1679.69 1208.01V1236.25M1686.4 1166.33V1155.43M1686.4 1219.72V1240.52M1699.82 1158.77V1152.13M1699.82 1208.6V1232.55M1706.52 1166.93V1159.76M1706.52 1198.96V1231.11M1713.23 1170.78V1158.85M1713.23 1212.31V1235.63M1719.94 1162.63V1155.36M1719.94 1200.59V1231.35M1726.65 1168.56V1159.22M1726.65 1206.53V1234.76M1733.35 1164.11V1156.84M1733.35 1209.19V1232.64M1740.06 1166.33V1159.59M1740.06 1207.86V1232.44M1746.77 1159.66V1154.47M1746.77 1197.63V1232.17M1753.48 1164.11V1157.88M1753.48 1211.57V1235.52M1782.14 1170.04V1168.19M1782.14 1241.23V1242.79M1795.55 1173.9V1169.97M1795.55 1221.36V1225.72M1802.26 1174.64V1173.12M1802.26 1225.66V1228.51M1808.97 1179.68V1178.01M1815.68 1227.88V1230.48M1822.38 1231.59V1232.89M1829.09 1186.5V1185.35M1829.09 1237.52V1241.41M1835.8 1182.65V1174.68M1835.8 1236.04V1240.45M1842.51 1191.69V1189.62M1842.51 1234.41V1238.35M1849.21 1183.54V1179.42M1849.21 1234.56V1236.37M1855.92 1170.78V1170.23M1862.63 1201.78V1197.18M1862.63 1239.75V1241.82M1869.34 1197.33V1190.14M1869.34 1232.92V1237.91M1876.04 1203.41V1194.7M1882.75 1204.3V1195.37M1882.75 1231.59V1237.04M1889.46 1206.23V1204.23M1889.46 1232.33V1234.93M1896.16 1187.84V1186.73M1902.87 1199.7V1197.11M1909.58 1183.24V1182.54M1922.99 1198.96V1198.03M1929.7 1196.14V1194.44M1956.53 1226.25V1223.69M1963.24 1215.28V1211.01M1983.36 1202.82V1201.67M1990.07 1215.42V1214.09M1990.07 1234.41V1237.31" stroke="#111" stroke-width="2.2" stroke-linecap="round"/>
<path d="M65.62 1161.2h0M65.62 1158.77h0M65.62 1234.41h0M72.33 1152.91h0M72.33 1149.04h0M72.33 1146.31h0M72.33 1234.41h0M79.04 1159.93h0M79.04 1157.8h0M79.04 1155.21h0M79.04 1236.19h0M85.75 1167.96h0M85.75 1166.19h0M92.45 1168.56h0M308.92 1171.51h0M308.92 1168.73h0M308.92 1168.56h0M308.92 1238.26h0M315.63 1160.85h0M315.63 1158.77h0M315.63 1239.15h0M565.64 1153.67h0M565.64 1148.67h0M565.64 1146.31h0M565.64 1245.08h0M572.35 1158.41h0M572.35 1155.33h0M572.35 1155.21h0M572.35 1236.78h0M579.05 1162.63h0M579.05 1230.25h0M585.76 1157.22h0M585.76 1156.69h0M585.76 1239.61h0M585.76 1239.75h0M592.47 1166.46h0M592.47 1164.11h0M599.18 1184.87h0M599.18 1234.41h0M605.88 1224.32h0M808.94 1155.63h0M808.94 1152.58h0M808.94 1150.76h0M808.94 1247.16h0M815.65 1163.26h0M815.65 1159.66h0M815.65 1242.12h0M822.35 1154.26h0M822.35 1153.14h0M822.35 1244.19h0M829.06 1161.94h0M829.06 1161.14h0M829.06 1245.68h0M835.77 1181.91h0M835.77 1244.19h0M842.48 1176.1h0M842.48 1173.97h0M842.48 1173.9h0M842.48 1244.19h0M849.18 1177.9h0M849.18 1177.46h0M849.18 1245.68h0M855.89 1189.32h0M855.89 1245.68h0M862.6 1185.03h0M862.6 1184.87h0M862.6 1240.34h0M922.96 1245.68h0M1052.24 1154.79h0M1052.24 1150.46h0M1052.24 1149.28h0M1052.24 1245.68h0M1058.95 1163.29h0M1058.95 1161.14h0M1058.95 1233.81h0M1065.65 1163.68h0M1065.65 1162.63h0M1065.65 1241.23h0M1072.36 1165.59h0M1072.36 1163.22h0M1072.36 1238.26h0M1079.07 1171.01h0M1079.07 1168.81h0M1079.07 1165.59h0M1079.07 1244.19h0M1085.78 1174h0M1085.78 1171.53h0M1085.78 1238.26h0M1092.48 1171.62h0M1092.48 1168.56h0M1092.48 1238.26h0M1099.19 1157.36h0M1099.19 1152.49h0M1099.19 1149.28h0M1099.19 1242.71h0M1105.9 1163.59h0M1105.9 1160.34h0M1105.9 1159.66h0M1105.9 1248.05h0M1112.61 1173.55h0M1112.61 1170.93h0M1112.61 1168.56h0M1112.61 1244.19h0M1119.31 1169.24h0M1119.31 1165.59h0M1119.31 1244.19h0M1126.02 1177.1h0M1126.02 1173.64h0M1126.02 1170.35h0M1126.02 1170.04h0M1126.02 1244.19h0M1132.73 1188.14h0M1132.73 1187.84h0M1139.44 1238.26h0M1322.37 1171.31h0M1322.37 1169.12h0M1322.37 1168.56h0M1322.37 1239.75h0M1329.08 1175.97h0M1329.08 1239.75h0M1335.78 1177.46h0M1335.78 1236.78h0M1342.49 1161.9h0M1342.49 1157.68h0M1342.49 1155.46h0M1342.49 1153.22h0M1342.49 1152.25h0M1342.49 1244.19h0M1349.2 1170.66h0M1349.2 1168.56h0M1349.2 1244.08h0M1349.2 1244.19h0M1355.91 1171.32h0M1355.91 1168.56h0M1355.91 1242.47h0M1355.91 1242.71h0M1362.61 1161.44h0M1362.61 1161.14h0M1362.61 1243.96h0M1362.61 1244.19h0M1369.32 1165.59h0M1369.32 1245.68h0M1376.03 1159.11h0M1376.03 1156.69h0M1376.03 1243.73h0M1376.03 1244.19h0M1382.74 1162.11h0M1382.74 1159.75h0M1382.74 1158.18h0M1382.74 1239.8h0M1382.74 1241.23h0M1389.44 1163.67h0M1389.44 1162.63h0M1389.44 1236.78h0M1396.15 1153.14h0M1396.15 1150.76h0M1396.15 1242.53h0M1396.15 1244.19h0M1402.86 1158.18h0M1402.86 1239.75h0M1409.56 1142.4h0M1409.56 1141.86h0M1409.56 1238.77h0M1409.56 1239.75h0M1416.27 1158.56h0M1416.27 1156.69h0M1416.27 1238.36h0M1416.27 1239.75h0M1422.98 1148.8h0M1422.98 1146.01h0M1422.98 1144.83h0M1422.98 1241.23h0M1429.69 1242.12h0M1436.39 1154.25h0M1436.39 1153.73h0M1436.39 1240.7h0M1436.39 1241.23h0M1443.1 1157.18h0M1443.1 1155.21h0M1443.1 1238.66h0M1443.1 1240.76h0M1443.1 1241.23h0M1449.81 1244.19h0M1456.52 1150.76h0M1456.52 1239.75h0M1463.22 1162.63h0M1463.22 1236.52h0M1463.22 1236.78h0M1469.93 1236.78h0M1476.64 1158.18h0M1476.64 1235.27h0M1476.64 1238.07h0M1476.64 1238.26h0M1483.35 1156.69h0M1483.35 1238.26h0M1490.05 1159.66h0M1490.05 1238.26h0M1496.76 1159.66h0M1496.76 1232.33h0M1503.47 1152.25h0M1503.47 1237.43h0M1503.47 1241.23h0M1510.18 1155.21h0M1510.18 1241.23h0M1565.67 1157.14h0M1565.67 1156.69h0M1565.67 1233.81h0M1572.38 1168.56h0M1572.38 1230.85h0M1579.08 1168.56h0M1579.08 1241.23h0M1585.79 1173.01h0M1585.79 1247.67h0M1585.79 1248.05h0M1592.5 1165.59h0M1592.5 1243.54h0M1592.5 1244.19h0M1599.21 1164.22h0M1599.21 1161.14h0M1599.21 1244.19h0M1605.91 1156.08h0M1605.91 1151.19h0M1605.91 1150.76h0M1605.91 1242.71h0M1612.62 1154.55h0M1612.62 1150.63h0M1612.62 1149.28h0M1612.62 1242.65h0M1612.62 1242.71h0M1619.33 1151.35h0M1619.33 1147.8h0M1619.33 1241.23h0M1626.04 1156.77h0M1626.04 1155.21h0M1626.04 1239.75h0M1632.74 1161.45h0M1632.74 1158.56h0M1632.74 1158.18h0M1632.74 1238.26h0M1639.45 1149.28h0M1639.45 1239.54h0M1639.45 1239.75h0M1646.16 1156.39h0M1646.16 1153.73h0M1646.16 1238.87h0M1646.16 1239.75h0M1652.86 1147.8h0M1652.86 1239.75h0M1659.57 1157.45h0M1659.57 1156.69h0M1659.57 1239.39h0M1659.57 1239.75h0M1666.28 1152.71h0M1666.28 1150.76h0M1666.28 1238.17h0M1666.28 1239.75h0M1672.99 1239.75h0M1679.69 1159.66h0M1679.69 1238.85h0M1679.69 1241.23h0M1686.4 1150.9h0M1686.4 1150.76h0M1686.4 1243.67h0M1686.4 1244.19h0M1699.82 1149.28h0M1699.82 1236.78h0M1706.52 1157.39h0M1706.52 1156.69h0M1706.52 1233.98h0M1706.52 1236.78h0M1713.23 1154.14h0M1713.23 1153.73h0M1713.23 1239.6h0M1713.23 1239.75h0M1719.94 1152.25h0M1719.94 1234.9h0M1719.94 1236.78h0M1726.65 1155.45h0M1726.65 1155.21h0M1726.65 1239.19h0M1726.65 1239.75h0M1733.35 1153.73h0M1733.35 1236.32h0M1733.35 1236.78h0M1740.06 1156.69h0M1740.06 1236.78h0M1746.77 1152.25h0M1746.77 1235.08h0M1746.77 1238.26h0M1753.48 1155.21h0M1753.48 1239.75h0M1782.14 1165.71h0M1782.14 1163.28h0M1782.14 1162.63h0M1782.14 1245.04h0M1782.14 1245.68h0M1795.55 1167.71h0M1795.55 1163.37h0M1795.55 1158.63h0M1795.55 1158.18h0M1795.55 1228.26h0M1795.55 1232.76h0M1795.55 1233.81h0M1802.26 1170.62h0M1802.26 1168.56h0M1802.26 1233.81h0M1808.97 1175.25h0M1808.97 1173.01h0M1815.68 1233.87h0M1815.68 1235.3h0M1822.38 1173.9h0M1822.38 1235.3h0M1829.09 1182.79h0M1829.09 1181.91h0M1829.09 1245.22h0M1829.09 1248.41h0M1829.09 1248.64h0M1835.8 1171.56h0M1835.8 1167.03h0M1835.8 1164.97h0M1835.8 1161.03h0M1835.8 1157.49h0M1835.8 1155.42h0M1835.8 1152.26h0M1835.8 1150.76h0M1835.8 1244.24h0M1835.8 1246.47h0M1835.8 1248.64h0M1842.51 1184.86h0M1842.51 1183.39h0M1842.51 1240.72h0M1842.51 1243.65h0M1842.51 1245.68h0M1849.21 1174.7h0M1849.21 1171.75h0M1849.21 1169.3h0M1849.21 1167.08h0M1849.21 1239.75h0M1855.92 1168.56h0M1862.63 1194.28h0M1862.63 1191.75h0M1862.63 1186.54h0M1862.63 1183.39h0M1862.63 1245.68h0M1869.34 1187.82h0M1869.34 1185.62h0M1869.34 1181.21h0M1869.34 1177.73h0M1869.34 1175.47h0M1869.34 1170.19h0M1869.34 1168.56h0M1869.34 1242.71h0M1869.34 1245.01h0M1869.34 1247.16h0M1876.04 1192.46h0M1876.04 1187.45h0M1876.04 1183.86h0M1876.04 1180.67h0M1876.04 1176.73h0M1876.04 1171.49h0M1876.04 1168.56h0M1882.75 1192.91h0M1882.75 1189.07h0M1882.75 1186.23h0M1882.75 1183.85h0M1882.75 1181.29h0M1882.75 1179.11h0M1882.75 1176.4h0M1882.75 1173.31h0M1882.75 1170.24h0M1882.75 1168.56h0M1882.75 1240.05h0M1882.75 1243.8h0M1882.75 1246.43h0M1882.75 1247.16h0M1889.46 1202.16h0M1889.46 1199.29h0M1889.46 1198.22h0M1889.46 1239.49h0M1889.46 1239.75h0M1896.16 1184.06h0M1896.16 1183.39h0M1902.87 1191.84h0M1902.87 1189.46h0M1902.87 1189.32h0M1909.58 1180.42h0M1922.99 1195.25h0M1929.7 1189.52h0M1929.7 1189.32h0M1956.53 1219.92h0M1956.53 1216.02h0M1963.24 1205.57h0M1963.24 1202.37h0M1963.24 1198.22h0M1983.36 1198.22h0M1990.07 1210.08h0M1990.07 1240.73h0M1990.07 1242.71h0" stroke="#111" stroke-width="1.8" stroke-linecap="round"/>
<path d="M62.94 1193.77h5.37v10.97h-5.37zM306.24 1200.3h5.37v9.19h-5.37zM549.54 1208.6h5.37v1.78h-5.37z" fill="#F4A0A0" stroke="#333" stroke-width="0.9"/>
<path d="M69.65 1193.18h5.37v11.57h-5.37zM312.95 1197.33h5.37v12.16h-5.37zM556.25 1207.71h5.37v6.53h-5.37z" fill="#F4A090" stroke="#333" stroke-width="0.9"/>
<path d="M76.36 1202.67h5.37v12.75h-5.37zM319.66 1191.4h5.37v18.09h-5.37zM562.96 1197.63h5.37v13.05h-5.37zM806.26 1201.19h5.37v14.83h-5.37zM1049.56 1200.3h5.37v13.64h-5.37zM1779.46 1196.74h5.37v17.8h-5.37z" fill="#F09070" stroke="#333" stroke-width="0.9"/>
<path d="M83.06 1197.63h5.37v11.86h-5.37zM326.36 1182.8h5.37v19.87h-5.37zM569.66 1191.69h5.37v11.86h-5.37zM812.96 1197.63h5.37v10.97h-5.37zM1056.26 1197.63h5.37v10.08h-5.37zM1786.16 1192.29h5.37v8.31h-5.37z" fill="#F09040" stroke="#333" stroke-width="0.9"/>
<path d="M89.77 1194.36h5.37v15.72h-5.37zM333.07 1191.4h5.37v8.9h-5.37zM576.37 1190.81h5.37v11.86h-5.37zM819.67 1194.66h5.37v13.94h-5.37zM1062.97 1194.36h5.37v12.16h-5.37zM1306.27 1192.88h5.37v6.82h-5.37zM1549.57 1188.73h5.37v8.01h-5.37zM1792.87 1191.69h5.37v11.86h-5.37z" fill="#E89838" stroke="#333" stroke-width="0.9"/>
<path d="M583.08 1189.92h5.37v13.64h-5.37zM826.38 1198.81h5.37v11.27h-5.37zM1069.68 1195.85h5.37v11.86h-5.37zM1312.98 1195.25h5.37v11.27h-5.37zM1556.28 1185.76h5.37v7.12h-5.37zM1799.58 1193.77h5.37v12.75h-5.37z" fill="#E0A838" stroke="#333" stroke-width="0.9"/>
<path d="M589.79 1200.59h5.37v13.05h-5.37zM833.09 1207.71h5.37v10.68h-5.37zM1076.39 1207.71h5.37v10.68h-5.37zM1319.69 1204.75h5.37v8.31h-5.37zM1562.99 1192.29h5.37v12.46h-5.37zM1806.29 1199.7h5.37v13.35h-5.37z" fill="#C8C030" stroke="#333" stroke-width="0.9"/>
<path d="M596.49 1203.56h5.37v6.53h-5.37zM839.79 1205.64h5.37v8.01h-5.37zM1083.09 1203.56h5.37v9.49h-5.37zM1326.39 1201.19h5.37v6.53h-5.37zM1569.69 1192.88h5.37v8.31h-5.37zM1812.99 1192.29h5.37v14.24h-5.37z" fill="#A8B060" stroke="#333" stroke-width="0.9"/>
<path d="M603.2 1202.08h5.37v8.01h-5.37zM846.5 1206.53h5.37v9.49h-5.37zM1089.8 1204.15h5.37v11.86h-5.37zM1333.1 1201.78h5.37v8.9h-5.37zM1576.4 1192.88h5.37v8.9h-5.37zM1819.7 1196.74h5.37v13.94h-5.37z" fill="#A0B050" stroke="#333" stroke-width="0.9"/>
<path d="M609.91 1208.6h5.37v9.79h-5.37zM853.21 1213.94h5.37v8.01h-5.37zM1096.51 1210.08h5.37v11.27h-5.37zM1339.81 1205.64h5.37v8.9h-5.37zM1583.11 1197.63h5.37v10.08h-5.37zM1826.41 1205.64h5.37v12.75h-5.37z" fill="#D0F870" stroke="#333" stroke-width="0.9"/>
<path d="M616.62 1206.53h5.37v10.08h-5.37zM859.92 1209.49h5.37v7.12h-5.37zM1103.22 1204.75h5.37v13.64h-5.37zM1346.52 1202.67h5.37v10.97h-5.37zM1589.82 1195.85h5.37v10.68h-5.37zM1833.12 1202.67h5.37v13.35h-5.37z" fill="#B0F060" stroke="#333" stroke-width="0.9"/>
<path d="M866.62 1205.64h5.37v10.38h-5.37zM1109.92 1209.19h5.37v10.38h-5.37zM1353.22 1201.19h5.37v10.38h-5.37zM1596.52 1195.85h5.37v10.68h-5.37zM1839.82 1207.71h5.37v10.68h-5.37z" fill="#80F040" stroke="#333" stroke-width="0.9"/>
<path d="M873.33 1197.63h5.37v6.53h-5.37zM1116.63 1206.53h5.37v10.97h-5.37zM1359.93 1193.77h5.37v11.86h-5.37zM1603.23 1192.88h5.37v10.68h-5.37zM1846.53 1202.67h5.37v12.75h-5.37z" fill="#60E830" stroke="#333" stroke-width="0.9"/>
<path d="M886.74 1201.19h5.37v17.8h-5.37zM1130.04 1216.02h5.37v8.31h-5.37zM1373.34 1194.66h5.37v8.9h-5.37zM1616.64 1191.69h5.37v11.86h-5.37zM1859.94 1216.02h5.37v9.49h-5.37z" fill="#70D080" stroke="#333" stroke-width="0.9"/>
<path d="M893.45 1199.11h5.37v2.08h-5.37zM1136.75 1208.6h5.37v7.42h-5.37zM1380.05 1191.4h5.37v8.31h-5.37zM1623.35 1186.36h5.37v9.49h-5.37zM1866.65 1210.68h5.37v8.9h-5.37z" fill="#68C888" stroke="#333" stroke-width="0.9"/>
<path d="M900.16 1207.71h5.37v14.24h-5.37zM1143.46 1214.53h5.37v7.42h-5.37zM1386.76 1193.77h5.37v12.75h-5.37zM1630.06 1193.77h5.37v10.38h-5.37zM1873.36 1218.98h5.37v10.38h-5.37z" fill="#60C090" stroke="#333" stroke-width="0.9"/>
<path d="M906.87 1202.08h5.37v10.97h-5.37zM1150.17 1211.57h5.37v7.42h-5.37zM1393.47 1184.87h5.37v8.9h-5.37zM1636.77 1183.39h5.37v14.24h-5.37zM1880.07 1214.53h5.37v6.82h-5.37z" fill="#50B088" stroke="#333" stroke-width="0.9"/>
<path d="M913.57 1203.56h5.37v5.04h-5.37zM1156.87 1203.56h5.37v8.01h-5.37zM1400.17 1185.47h5.37v13.35h-5.37zM1643.47 1186.36h5.37v10.38h-5.37zM1886.77 1216.02h5.37v6.53h-5.37z" fill="#80F0F0" stroke="#333" stroke-width="0.9"/>
<path d="M920.28 1205.64h5.37v13.35h-5.37zM1163.58 1212.46h5.37v12.46h-5.37zM1406.88 1180.42h5.37v13.35h-5.37zM1650.18 1179.83h5.37v18.39h-5.37zM1893.48 1214.53h5.37v17.8h-5.37z" fill="#70F0F0" stroke="#333" stroke-width="0.9"/>
<path d="M940.4 1210.08h5.37v1.48h-5.37zM1427 1184.28h5.37v20.47h-5.37zM1670.3 1183.98h5.37v20.76h-5.37zM1913.6 1205.64h5.37v23.73h-5.37z" fill="#70B8E0" stroke="#333" stroke-width="0.9"/>
<path d="M1123.34 1213.64h5.37v8.9h-5.37zM1366.64 1198.81h5.37v15.72h-5.37zM1609.94 1196.74h5.37v12.75h-5.37zM1853.24 1198.81h5.37v18.69h-5.37z" fill="#50E030" stroke="#333" stroke-width="0.9"/>
<path d="M1264.19 1217.8h5.37v2.08h-5.37zM1507.49 1181.91h5.37v12.75h-5.37zM1750.79 1181.91h5.37v11.86h-5.37zM1994.09 1216.02h5.37v11.86h-5.37z" fill="#909090" stroke="#333" stroke-width="0.9"/>
<path d="M1413.59 1183.98h5.37v8.31h-5.37zM1656.89 1186.36h5.37v10.38h-5.37zM1900.19 1216.61h5.37v11.27h-5.37z" fill="#80F0F8" stroke="#333" stroke-width="0.9"/>
<path d="M1420.3 1182.8h5.37v9.49h-5.37zM1663.6 1183.39h5.37v8.9h-5.37zM1906.9 1208.6h5.37v16.91h-5.37z" fill="#98E8F0" stroke="#333" stroke-width="0.9"/>
<path d="M1433.71 1184.87h5.37v8.9h-5.37zM1677.01 1185.76h5.37v8.9h-5.37zM1920.31 1215.42h5.37v10.97h-5.37z" fill="#5898E0" stroke="#333" stroke-width="0.9"/>
<path d="M1440.42 1187.84h5.37v8.9h-5.37zM1683.72 1186.36h5.37v13.35h-5.37zM1927.02 1218.39h5.37v14.83h-5.37z" fill="#4070D0" stroke="#333" stroke-width="0.9"/>
<path d="M1447.13 1178.94h5.37v24.62h-5.37zM1690.43 1175.97h5.37v25.81h-5.37zM1933.73 1206.53h5.37v18.98h-5.37z" fill="#3040C0" stroke="#333" stroke-width="0.9"/>
<path d="M1453.83 1178.94h5.37v11.86h-5.37zM1697.13 1177.46h5.37v12.46h-5.37zM1940.43 1229.36h5.37v8.01h-5.37z" fill="#2020D0" stroke="#333" stroke-width="0.9"/>
<path d="M1460.54 1179.83h5.37v8.01h-5.37zM1703.84 1178.94h5.37v8.01h-5.37zM1947.14 1227.29h5.37v7.12h-5.37z" fill="#2020F0" stroke="#333" stroke-width="0.9"/>
<path d="M1467.25 1185.76h5.37v11.86h-5.37zM1710.55 1186.36h5.37v10.38h-5.37zM1953.85 1229.36h5.37v2.08h-5.37z" fill="#C0A0F8" stroke="#333" stroke-width="0.9"/>
<path d="M1473.96 1179.83h5.37v8.01h-5.37zM1717.26 1176.86h5.37v9.49h-5.37zM1960.56 1227.29h5.37v8.01h-5.37z" fill="#B080F0" stroke="#333" stroke-width="0.9"/>
<path d="M1480.66 1183.39h5.37v11.86h-5.37zM1723.96 1182.8h5.37v9.49h-5.37zM1967.26 1216.02h5.37v11.27h-5.37z" fill="#B060F0" stroke="#333" stroke-width="0.9"/>
<path d="M1487.37 1181.91h5.37v13.35h-5.37zM1730.67 1181.02h5.37v11.27h-5.37z" fill="#C040F0" stroke="#333" stroke-width="0.9"/>
<path d="M1494.08 1183.39h5.37v11.27h-5.37zM1737.38 1181.91h5.37v10.38h-5.37zM1980.68 1217.5h5.37v9.79h-5.37z" fill="#D040E8" stroke="#333" stroke-width="0.9"/>
<path d="M1500.79 1176.86h5.37v9.49h-5.37zM1744.09 1173.9h5.37v9.49h-5.37zM1987.39 1222.54h5.37v4.75h-5.37z" fill="#C030D0" stroke="#333" stroke-width="0.9"/>
<path d="M62.94 1199.11H68.31M69.65 1199.11H75.01M76.36 1207.71H81.72M83.06 1202.67H88.43M89.77 1202.67H95.14M306.24 1205.64H311.61M312.95 1205.64H318.31M319.66 1201.19H325.02M326.36 1193.77H331.73M333.07 1195.85H338.44M549.54 1209.49H554.91M556.25 1210.08H561.61M562.96 1202.67H568.32M569.66 1196.74H575.03M576.37 1196.74H581.74M583.08 1196.74H588.44M589.79 1206.53H595.15M596.49 1206.53H601.86M603.2 1205.64H608.57M609.91 1213.05H615.27M616.62 1211.57H621.98M806.26 1207.71H811.62M812.96 1202.67H818.33M819.67 1201.19H825.04M826.38 1204.15H831.74M833.09 1213.05H838.45M839.79 1208.6H845.16M846.5 1210.68H851.87M853.21 1217.5H858.57M859.92 1213.05H865.28M866.62 1210.08H871.99M873.33 1201.19H878.7M886.74 1217.5H892.11M893.45 1199.7H898.82M900.16 1213.05H905.53M906.87 1205.64H912.23M913.57 1205.64H918.94M920.28 1208.6H925.65M940.4 1210.68H945.77M1049.56 1206.53H1054.92M1056.26 1202.67H1061.63M1062.97 1199.7H1068.34M1069.68 1201.78H1075.04M1076.39 1213.05H1081.75M1083.09 1208.6H1088.46M1089.8 1209.49H1095.17M1096.51 1215.42H1101.87M1103.22 1210.68H1108.58M1109.92 1214.53H1115.29M1116.63 1211.57H1122M1123.34 1217.5H1128.7M1130.04 1220.47H1135.41M1136.75 1210.68H1142.12M1143.46 1218.39H1148.83M1150.17 1216.02H1155.53M1156.87 1207.71H1162.24M1163.58 1217.5H1168.95M1264.19 1218.69H1269.56M1306.27 1195.25H1311.64M1312.98 1199.7H1318.34M1319.69 1208.6H1325.05M1326.39 1204.15H1331.76M1333.1 1206.53H1338.47M1339.81 1209.49H1345.17M1346.52 1207.71H1351.88M1353.22 1206.53H1358.59M1359.93 1199.7H1365.3M1366.64 1206.53H1372M1373.34 1198.81H1378.71M1380.05 1195.25H1385.42M1386.76 1200.59H1392.13M1393.47 1189.32H1398.83M1400.17 1192.29H1405.54M1406.88 1186.36H1412.25M1413.59 1187.84H1418.96M1420.3 1186.36H1425.66M1427 1191.69H1432.37M1433.71 1189.32H1439.08M1440.42 1192.29H1445.78M1447.13 1189.32H1452.49M1453.83 1183.39H1459.2M1460.54 1183.39H1465.91M1467.25 1188.73H1472.61M1473.96 1183.98H1479.32M1480.66 1187.84H1486.03M1487.37 1186.36H1492.74M1494.08 1187.84H1499.44M1500.79 1181.02H1506.15M1507.49 1186.36H1512.86M1549.57 1192.29H1554.94M1556.28 1188.73H1561.64M1562.99 1197.63H1568.35M1569.69 1196.74H1575.06M1576.4 1196.74H1581.77M1583.11 1201.78H1588.47M1589.82 1199.7H1595.18M1596.52 1199.7H1601.89M1603.23 1197.63H1608.6M1609.94 1201.19H1615.3M1616.64 1196.74H1622.01M1623.35 1190.81H1628.72M1630.06 1197.63H1635.43M1636.77 1188.73H1642.13M1643.47 1190.81H1648.84M1650.18 1187.84H1655.55M1656.89 1190.81H1662.26M1663.6 1187.84H1668.96M1670.3 1189.32H1675.67M1677.01 1190.81H1682.38M1683.72 1192.29H1689.08M1690.43 1192.29H1695.79M1697.13 1183.39H1702.5M1703.84 1183.39H1709.21M1710.55 1190.81H1715.91M1717.26 1181.02H1722.62M1723.96 1186.95H1729.33M1730.67 1184.87H1736.04M1737.38 1186.95H1742.74M1744.09 1178.05H1749.45M1750.79 1186.95H1756.16M1779.46 1206.53H1784.82M1786.16 1195.85H1791.53M1792.87 1195.85H1798.24M1799.58 1198.22H1804.94M1806.29 1206.53H1811.65M1812.99 1197.63H1818.36M1819.7 1201.19H1825.07M1826.41 1210.68H1831.77M1833.12 1207.71H1838.48M1839.82 1211.57H1845.19M1846.53 1207.71H1851.9M1853.24 1209.49H1858.6M1859.94 1220.47H1865.31M1866.65 1215.42H1872.02M1873.36 1223.43H1878.73M1880.07 1217.5H1885.43M1886.77 1218.98H1892.14M1893.48 1218.39H1898.85M1900.19 1220.47H1905.56M1906.9 1215.42H1912.26M1913.6 1218.39H1918.97M1920.31 1224.92H1925.68M1927.02 1230.25H1932.38M1933.73 1220.47H1939.09M1940.43 1232.33H1945.8M1947.14 1229.36H1952.51M1953.85 1230.25H1959.21M1960.56 1230.85H1965.92M1967.26 1219.58H1972.63M1980.68 1220.47H1986.04M1987.39 1224.32H1992.75M1994.09 1219.58H1999.46" stroke="#222" stroke-width="1.3"/>
<path d="M103.19 1218.09h5.37M926.99 1221.95h5.37M933.7 1219.87h5.37M953.82 1236.19h5.37M1014.19 1199.7h5.37M1170.29 1222.54h5.37M1183.7 1217.8h5.37M1299.56 1191.4h5.37M1536.16 1240.64h5.37M1772.75 1200.89h5.37" stroke="#222" stroke-width="1.8"/>
<path d="M105.87 1363.19V1378.02M112.58 1350.73V1380.98M119.28 1358.74V1388.25M125.99 1362.44V1392.11M132.7 1357.25V1390.47M139.41 1355.92V1395.07M146.11 1355.03V1396.56M152.82 1358.14V1403.23M159.53 1363.93V1403.08M166.24 1356.51V1398.04M172.94 1364.82V1403.97M179.65 1357.25V1395.22M186.36 1363.19V1398.78M193.06 1343.02V1410.64M199.77 1363.19V1396.41M206.48 1365.41V1392.7M213.19 1349.84V1410.64M219.89 1364.08V1399.67M226.6 1366.89V1408.42M233.31 1351.17V1395.07M240.02 1362.59V1395.81M246.72 1365.41V1395.07M253.43 1372.68V1401.15M260.14 1368.38V1400.41M266.85 1365.41V1406.94M273.55 1360.22V1398.19M280.26 1367.04V1397.89M286.97 1363.19V1396.41M293.68 1370.45V1402.49M322.34 1348.36V1384.1M329.05 1354.29V1360.22M335.75 1348.36V1385.43M342.46 1330.56V1364.67M349.17 1340.94V1389.88M355.88 1343.91V1380.98M362.58 1349.84V1391.36M369.29 1365.56V1389.29M376 1356.36V1391.96M382.71 1361.7V1387.81M389.41 1355.03V1394.18M396.12 1363.93V1393.59M402.83 1363.19V1398.78M409.54 1355.03V1394.18M416.24 1363.93V1403.08M422.95 1355.92V1395.07M429.66 1364.08V1394.92M436.36 1347.47V1410.64M443.07 1364.08V1394.92M449.78 1364.08V1394.92M456.49 1352.21V1410.64M463.19 1360.96V1400.11M469.9 1363.93V1405.45M476.61 1349.25V1394.33M483.32 1352.81V1397.89M490.02 1349.84V1399.67M496.73 1352.06V1405.45M503.44 1350.58V1403.97M510.15 1349.84V1409.16M516.85 1344.65V1398.04M523.56 1352.81V1397.89M530.27 1349.25V1394.33M536.98 1366.15V1401.75M565.64 1375.94V1409.16M572.35 1369.71V1409.16M579.05 1367.64V1386.32M585.76 1366.75V1390.47M592.47 1374.16V1400.26M599.18 1370.6V1396.7M605.88 1371.34V1401M612.59 1376.53V1402.64M619.3 1371.34V1401M626.01 1362.44V1403.97M632.71 1358.74V1406.19M639.42 1357.85V1410.05M646.13 1347.47V1406.19M652.84 1336.49V1398.04M659.54 1340.35V1409.16M666.25 1327.59V1407.68M672.96 1336.49V1393.44M679.66 1316.47V1405.45M686.37 1331.15V1392.85M693.08 1330.56V1383.21M699.79 1320.18V1403.23M706.49 1336.34V1380.24M713.2 1329.67V1393.74M719.91 1323.14V1408.42M726.62 1323.14V1380.98M733.32 1328.19V1375.64M740.03 1333.53V1390.77M746.74 1328.19V1375.64M753.45 1331.45V1386.03M760.15 1327.59V1389.29M766.86 1333.67V1384.69M773.57 1326.11V1373.57M780.28 1331.89V1387.66M795.52 1353.69V1386.92M802.23 1355.62V1387.66M808.94 1352.81V1402.64M815.65 1351.17V1395.07M822.35 1357.25V1390.47M829.06 1361.11V1391.96M835.77 1367.49V1399.52M842.48 1365.41V1395.07M849.18 1364.08V1399.67M855.89 1358.74V1406.19M862.6 1344.8V1409.16M869.31 1341.09V1403.97M876.01 1335.01V1406.19M882.72 1343.02V1404.71M889.43 1337.08V1398.78M896.14 1331.89V1387.66M902.84 1340.05V1392.25M909.55 1329.08V1378.91M916.26 1334.42V1379.5M922.96 1319.44V1382.32M929.67 1331.15V1378.61M936.38 1332.04V1367.64M943.09 1320.18V1394.92M949.79 1331.3V1370.45M956.5 1322.4V1385.28M963.21 1315.73V1398.19M969.92 1322.4V1366.3M976.62 1327V1360.22M983.33 1328.48V1373.57M990.04 1324.63V1362.59M996.75 1323.14V1372.97M1003.45 1324.63V1372.83M1010.16 1323.14V1370.6M1016.87 1322.55V1358.14M1023.58 1324.03V1371.49M1105.9 1361.7V1383.95M1112.61 1361.7V1388.4M1119.31 1355.77V1383.95M1126.02 1351.32V1386.92M1132.73 1343.91V1389.88M1139.44 1345.39V1380.98M1146.14 1354.29V1385.43M1152.85 1333.53V1386.92M1159.56 1351.32V1375.05M1166.26 1329.08V1360.81M1172.97 1342.42V1369.12M1179.68 1330.56V1352.81M1186.39 1330.56V1372.08M1193.09 1330.56V1359.63M1199.8 1336.49V1378.02M1219.92 1329.97V1345.39M1226.63 1333.53V1370.6M1233.34 1335.01V1339.46M1240.05 1330.56V1363.19M1246.75 1330.56V1354.29M1253.46 1333.53V1344.8M1260.17 1332.04V1347.76M1266.88 1336.49V1354.88M1282.12 1338.86V1386.32M1288.83 1335.01V1384.84M1295.54 1334.27V1399.52M1302.25 1309.8V1406.19M1308.95 1309.8V1395.81M1315.66 1319.44V1382.32M1322.37 1303.86V1386.32M1329.08 1302.38V1407.68M1335.78 1309.8V1398.78M1342.49 1311.28V1392.85M1349.2 1308.31V1406.19M1355.91 1306.83V1388.4M1362.61 1309.8V1408.42M1369.32 1312.76V1409.16M1376.03 1308.31V1409.16M1382.74 1305.35V1409.16M1389.44 1312.76V1401.75M1396.15 1309.8V1406.19M1402.86 1322.25V1409.16M1409.56 1314.25V1409.16M1416.27 1320.03V1409.16M1422.98 1320.03V1409.16M1429.69 1314.1V1409.16M1436.39 1314.25V1409.16M1443.1 1318.69V1409.16M1449.81 1303.86V1409.16M1456.52 1337.08V1409.16M1463.22 1323.14V1409.16M1469.93 1338.72V1409.16M1476.64 1338.72V1409.16M1483.35 1338.86V1409.16M1490.05 1332.04V1409.16M1496.76 1327.59V1409.16M1503.47 1337.08V1409.16M1510.18 1368.23V1409.16M1525.42 1344.06V1383.21M1532.13 1343.02V1388.55M1538.84 1347.76V1395.22M1545.55 1346.87V1378.61M1552.25 1345.98V1368.53M1558.96 1354.29V1376.53M1565.67 1360.22V1383.95M1572.38 1359.63V1388.4M1579.08 1363.78V1387.51M1585.79 1369.12V1389.88M1592.5 1349.84V1403.38M1599.21 1345.98V1402.49M1605.91 1343.91V1402.64M1612.62 1358.74V1403.23M1619.33 1366V1401.15M1626.04 1358.74V1404.71M1632.74 1371.34V1395.81M1639.45 1360.07V1403.23M1646.16 1366.15V1404.12M1652.86 1362.44V1404.71M1659.57 1375.64V1404.12M1666.28 1374.16V1409.75M1672.99 1377.42V1410.05M1679.69 1383.06V1409.16M1686.4 1384.1V1410.05M1693.11 1375.2V1402.49M1699.82 1383.8V1403.97M1706.52 1384.69V1404.86M1713.23 1385.43V1406.79M1719.94 1383.95V1407.68M1726.65 1384.54V1408.27M1733.35 1380.98V1404.71M1740.06 1384.69V1402.49M1746.77 1379.5V1403.23M1753.48 1380.98V1408.42" stroke="#333" stroke-width="0.9"/>
<path d="M119.28 1388.25V1402.24M125.99 1362.44V1360.11M125.99 1392.11V1402.82M132.7 1357.25V1354.58M132.7 1390.47V1405.1M139.41 1355.92V1355.23M139.41 1395.07V1405.79M146.11 1355.03V1354.25M146.11 1396.56V1408.53M152.82 1358.14V1354.01M152.82 1403.23V1409.53M159.53 1363.93V1362.48M159.53 1403.08V1409.51M166.24 1356.51V1351.28M166.24 1398.04V1408.75M172.94 1364.82V1361.9M172.94 1403.97V1409.64M179.65 1357.25V1352.81M179.65 1395.22V1408.33M186.36 1363.19V1360.52M186.36 1398.78V1408.86M193.06 1343.02V1341.15M199.77 1363.19V1358.29M199.77 1396.41V1408.51M206.48 1365.41V1360.63M206.48 1392.7V1407.95M213.19 1349.84V1346.5M219.89 1364.08V1362.61M219.89 1399.67V1409M226.6 1366.89V1361.44M226.6 1408.42V1410.31M233.31 1351.17V1350.31M233.31 1395.07V1408.31M240.02 1362.59V1358.68M240.02 1395.81V1408.42M246.72 1365.41V1363.74M246.72 1395.07V1408.31M253.43 1372.68V1369.92M253.43 1401.15V1409.22M260.14 1368.38V1365.6M260.14 1400.41V1409.11M266.85 1365.41V1361.96M266.85 1406.94V1410.09M273.55 1360.22V1355.1M273.55 1398.19V1408.78M280.26 1367.04V1364.68M280.26 1397.89V1408.73M286.97 1363.19V1360.52M286.97 1396.41V1408.51M293.68 1370.45V1368.25M293.68 1402.49V1405.64M322.34 1384.1V1387.75M362.58 1391.36V1401.45M369.29 1365.56V1363.65M369.29 1389.29V1396.1M376 1356.36V1353.61M376 1391.96V1405.32M382.71 1361.7V1357.7M382.71 1387.81V1404.7M389.41 1355.03V1352.03M389.41 1394.18V1405.65M396.12 1363.93V1361.59M396.12 1393.59V1406.83M402.83 1363.19V1360.96M402.83 1398.78V1407.6M409.54 1355.03V1353.36M409.54 1394.18V1406.91M416.24 1363.93V1361.81M416.24 1403.08V1409.51M422.95 1355.92V1354.34M422.95 1395.07V1408.31M429.66 1364.08V1359.49M429.66 1394.92V1408.29M436.36 1347.47V1346.71M443.07 1364.08V1359.94M443.07 1394.92V1408.29M449.78 1364.08V1361.05M449.78 1394.92V1408.29M456.49 1352.21V1349.19M463.19 1360.96V1358.18M463.19 1400.11V1409.06M469.9 1363.93V1361.15M469.9 1405.45V1409.87M476.61 1349.25V1347.11M476.61 1394.33V1408.2M483.32 1352.81V1350.36M483.32 1397.89V1408.73M490.02 1349.84V1348.06M490.02 1399.67V1409M496.73 1352.06V1349.51M496.73 1405.45V1409.87M503.44 1350.58V1347.58M503.44 1403.97V1409.64M510.15 1349.84V1347.17M510.15 1409.16V1410.42M516.85 1344.65V1343.2M516.85 1398.04V1404.97M523.56 1352.81V1351.69M523.56 1397.89V1401.17M530.27 1349.25V1347.33M530.27 1394.33V1408.2M536.98 1366.15V1362.82M536.98 1401.75V1409.31M565.64 1375.94V1373.81M585.76 1366.75V1365.77M585.76 1390.47V1401.32M592.47 1374.16V1372.07M592.47 1400.26V1405.31M599.18 1370.6V1369.04M599.18 1396.7V1407.29M605.88 1371.34V1369.67M605.88 1401V1405.42M612.59 1376.53V1375.2M612.59 1402.64V1409.44M619.3 1371.34V1367.67M619.3 1401V1409.2M626.01 1362.44V1360.33M626.01 1403.97V1409.64M632.71 1358.74V1354.29M632.71 1406.19V1408.72M639.42 1357.85V1355.09M646.13 1347.47V1344.26M652.84 1398.04V1407.49M659.54 1340.35V1339.77M672.96 1336.49V1335.6M672.96 1393.44V1406.8M679.66 1405.45V1408.6M686.37 1392.85V1406.71M693.08 1383.21V1405.27M699.79 1320.18V1319.51M699.79 1403.23V1408.27M706.49 1336.34V1335.03M706.49 1380.24V1404.82M713.2 1329.67V1329.14M713.2 1393.74V1406.85M726.62 1380.98V1404.93M733.32 1328.19V1327.65M733.32 1375.64V1404.13M740.03 1390.77V1406.4M746.74 1328.19V1327.21M746.74 1375.64V1404.13M753.45 1331.45V1330.43M753.45 1386.03V1405.69M760.15 1327.59V1326.7M760.15 1389.29V1401.14M766.86 1333.67V1331.65M766.86 1384.69V1400.45M773.57 1326.11V1325.44M773.57 1373.57V1400.04M780.28 1331.89V1330.8M780.28 1387.66V1399.63M795.52 1353.69V1352M795.52 1386.92V1394.48M802.23 1355.62V1354.09M802.23 1387.66V1394.59M808.94 1352.81V1350.8M808.94 1402.64V1406.92M815.65 1351.17V1348.97M815.65 1395.07V1404.53M822.35 1357.25V1354.58M822.35 1390.47V1403.84M829.06 1361.11V1359.2M829.06 1391.96V1404.06M835.77 1367.49V1365.06M835.77 1399.52V1406.45M842.48 1365.41V1362.41M842.48 1395.07V1405.79M849.18 1364.08V1360.83M849.18 1399.67V1407.74M855.89 1358.74V1355.85M855.89 1406.19V1409.98M862.6 1344.8V1343.77M869.31 1341.09V1339.95M869.31 1403.97V1408.38M876.01 1335.01V1334.12M876.01 1406.19V1408.72M882.72 1343.02V1341.15M882.72 1404.71V1408.49M889.43 1337.08V1336.55M889.43 1398.78V1406.34M896.14 1331.89V1330.8M896.14 1387.66V1404.67M902.84 1340.05V1338.63M902.84 1392.25V1405.36M909.55 1329.08V1328.19M909.55 1378.91V1400.84M916.26 1334.42V1333.39M916.26 1379.5V1400.93M922.96 1319.44V1318.88M922.96 1382.32V1401.35M929.67 1331.15V1330.62M929.67 1378.61V1399.54M936.38 1332.04V1330.93M936.38 1367.64V1399.15M943.09 1394.92V1403.24M949.79 1331.3V1330.3M949.79 1370.45V1399.57M956.5 1385.28V1401.8M963.21 1398.19V1403.73M969.92 1322.4V1321.62M969.92 1366.3V1398.95M976.62 1360.22V1395.52M983.33 1328.48V1327.9M983.33 1373.57V1398.78M990.04 1362.59V1397.13M996.75 1372.97V1398.69M1003.45 1372.83V1397.41M1010.16 1370.6V1397.07M1016.87 1322.55V1321.97M1016.87 1358.14V1395.21M1023.58 1371.49V1397.21M1186.39 1372.08V1382.67M1233.34 1339.46V1345.76M1260.17 1347.76V1373.48M1282.12 1338.86V1333.84M1282.12 1386.32V1407M1288.83 1335.01V1330.56M1288.83 1384.84V1406.77M1295.54 1334.27V1329.93M1295.54 1399.52V1408.98M1315.66 1319.44V1317.55M1315.66 1382.32V1384.96M1362.61 1408.42V1409.81M1402.86 1322.25V1320.39M1416.27 1320.03V1318.27M1422.98 1320.03V1317.6M1429.69 1314.1V1312.56M1456.52 1337.08V1332.99M1463.22 1323.14V1321.81M1469.93 1338.72V1337.72M1476.64 1338.72V1336.83M1483.35 1338.86V1333.61M1496.76 1327.59V1326.48M1503.47 1337.08V1334.77M1510.18 1368.23V1363.91M1525.42 1344.06V1342.92M1525.42 1383.21V1399.47M1532.13 1388.55V1397.75M1538.84 1347.76V1347.05M1538.84 1395.22V1401.27M1592.5 1403.38V1409.05M1599.21 1402.49V1404.38M1605.91 1402.64V1404.4M1612.62 1403.23V1404.49M1619.33 1366V1364.91M1626.04 1358.74V1357.85M1632.74 1371.34V1370.12M1646.16 1404.12V1407.14M1652.86 1362.44V1361.44M1659.57 1375.64V1373.55M1659.57 1404.12V1408.4M1666.28 1374.16V1372.51M1672.99 1377.42V1373.95M1679.69 1383.06V1381.19M1686.4 1384.1V1380.74M1693.11 1375.2V1373.17M1693.11 1402.49V1408.92M1699.82 1383.8V1379.15M1699.82 1403.97V1409.14M1706.52 1384.69V1383.24M1706.52 1404.86V1409.27M1713.23 1385.43V1383.43M1713.23 1406.79V1409.56M1719.94 1383.95V1382.84M1719.94 1407.68V1409.69M1726.65 1384.54V1382.23M1726.65 1408.27V1409.78M1733.35 1380.98V1378.98M1733.35 1404.71V1409.25M1740.06 1384.69V1381.46M1740.06 1402.49V1408.92M1746.77 1379.5V1376.07M1746.77 1403.23V1409.03M1753.48 1408.42V1409.81" stroke="#111" stroke-width="2.2" stroke-linecap="round"/>
<path d="M119.28 1404.43h0M119.28 1404.71h0M125.99 1357.86h0M125.99 1353.27h0M125.99 1350.37h0M125.99 1347.8h0M125.99 1346.87h0M125.99 1404.71h0M132.7 1349.54h0M132.7 1345.19h0M132.7 1342.2h0M132.7 1339.46h0M132.7 1407.68h0M139.41 1351.62h0M139.41 1351.32h0M139.41 1407.68h0M146.11 1351.33h0M146.11 1349.84h0M146.11 1410.64h0M152.82 1350.09h0M152.82 1347.24h0M152.82 1341.86h0M152.82 1338.77h0M152.82 1335.52h0M152.82 1333.52h0M152.82 1330.56h0M152.82 1410.64h0M159.53 1358.72h0M159.53 1356.02h0M159.53 1354.29h0M159.53 1410.64h0M166.24 1348.36h0M166.24 1346.05h0M166.24 1342.65h0M166.24 1340.5h0M166.24 1338.42h0M166.24 1335.36h0M166.24 1332.54h0M166.24 1328.49h0M166.24 1324.64h0M166.24 1321.66h0M166.24 1410.64h0M172.94 1357.4h0M172.94 1352.32h0M172.94 1348.96h0M172.94 1345.82h0M172.94 1345.39h0M172.94 1410.64h0M179.65 1348.27h0M179.65 1344.02h0M179.65 1341.87h0M179.65 1336.94h0M179.65 1331.82h0M179.65 1327.63h0M179.65 1327.59h0M179.65 1410.64h0M186.36 1358.03h0M186.36 1354.2h0M186.36 1350.43h0M186.36 1345.51h0M186.36 1345.39h0M186.36 1410.64h0M193.06 1337.1h0M193.06 1331.98h0M193.06 1330.56h0M199.77 1353.87h0M199.77 1351.06h0M199.77 1348.95h0M199.77 1346.49h0M199.77 1343.22h0M199.77 1340.86h0M199.77 1335.93h0M199.77 1331.98h0M199.77 1330.56h0M199.77 1410.64h0M206.48 1356.25h0M206.48 1352.53h0M206.48 1350.52h0M206.48 1345.73h0M206.48 1341.11h0M206.48 1337.35h0M206.48 1333.53h0M206.48 1410.64h0M213.19 1344.27h0M213.19 1339.69h0M213.19 1336.81h0M213.19 1334.55h0M213.19 1331.62h0M213.19 1327.59h0M219.89 1359.89h0M219.89 1355.3h0M219.89 1354.29h0M219.89 1410.64h0M226.6 1358.1h0M226.6 1354.43h0M226.6 1350.04h0M226.6 1345.35h0M226.6 1341.19h0M226.6 1336.94h0M226.6 1334.67h0M226.6 1332.15h0M226.6 1330.56h0M226.6 1410.64h0M233.31 1347.24h0M233.31 1345.39h0M233.31 1410.35h0M233.31 1410.64h0M240.02 1355.74h0M240.02 1351.39h0M240.02 1346.96h0M240.02 1342.6h0M240.02 1339.58h0M240.02 1336.49h0M240.02 1410.64h0M246.72 1360.11h0M246.72 1357.7h0M246.72 1354.29h0M246.72 1410.64h0M253.43 1364.5h0M253.43 1359.22h0M253.43 1357.16h0M253.43 1354.29h0M253.43 1410.64h0M260.14 1360.21h0M260.14 1356.63h0M260.14 1353.69h0M260.14 1350.96h0M260.14 1349.84h0M260.14 1410.64h0M266.85 1357.93h0M266.85 1355.43h0M266.85 1351.6h0M266.85 1346.26h0M266.85 1343.8h0M266.85 1342.42h0M266.85 1410.64h0M273.55 1350h0M273.55 1345.54h0M273.55 1342.73h0M273.55 1337.59h0M273.55 1333.88h0M273.55 1331.8h0M273.55 1329.79h0M273.55 1326.11h0M273.55 1410.64h0M280.26 1361.63h0M280.26 1359.13h0M280.26 1355.93h0M280.26 1352.82h0M280.26 1351.32h0M280.26 1410.64h0M286.97 1355.89h0M286.97 1350.95h0M286.97 1348.53h0M286.97 1345.39h0M286.97 1410.64h0M293.68 1363.1h0M293.68 1360.08h0M293.68 1356.78h0M293.68 1355.77h0M293.68 1406.19h0M322.34 1388.4h0M362.58 1403.23h0M369.29 1360.15h0M369.29 1357.18h0M369.29 1355.02h0M369.29 1352.81h0M369.29 1397.3h0M376 1350.61h0M376 1345.33h0M376 1342.46h0M376 1339.53h0M376 1337.97h0M376 1407.68h0M382.71 1354.39h0M382.71 1349.05h0M382.71 1343.95h0M382.71 1339.11h0M382.71 1335.01h0M382.71 1407.68h0M389.41 1346.73h0M389.41 1342.81h0M389.41 1338.29h0M389.41 1336.12h0M389.41 1335.01h0M389.41 1407.68h0M396.12 1356.96h0M396.12 1352.7h0M396.12 1349.7h0M396.12 1348.36h0M396.12 1409.16h0M402.83 1358.52h0M402.83 1354.86h0M402.83 1351.66h0M402.83 1348.62h0M402.83 1348.36h0M402.83 1409.16h0M409.54 1350.45h0M409.54 1346.15h0M409.54 1343.91h0M409.54 1409.16h0M416.24 1358.43h0M416.24 1355.85h0M416.24 1353.28h0M416.24 1350.56h0M416.24 1349.84h0M416.24 1410.64h0M422.95 1351.57h0M422.95 1346.4h0M422.95 1345.39h0M422.95 1410.64h0M429.66 1357.01h0M429.66 1354.33h0M429.66 1352.01h0M429.66 1348.82h0M429.66 1346.5h0M429.66 1343.66h0M429.66 1340.76h0M429.66 1336.76h0M429.66 1333.53h0M429.66 1410.64h0M436.36 1343.26h0M436.36 1342.42h0M443.07 1356.1h0M443.07 1352.78h0M443.07 1349.6h0M443.07 1347.38h0M443.07 1344.41h0M443.07 1339.03h0M443.07 1336.59h0M443.07 1336.49h0M443.07 1410.64h0M449.78 1356.03h0M449.78 1353.27h0M449.78 1350.33h0M449.78 1347.46h0M449.78 1344.06h0M449.78 1343.91h0M449.78 1410.64h0M456.49 1344.22h0M456.49 1339.16h0M456.49 1337.08h0M456.49 1334.97h0M456.49 1332.04h0M463.19 1353.05h0M463.19 1349.39h0M463.19 1345.33h0M463.19 1343.33h0M463.19 1342.42h0M463.19 1410.64h0M469.9 1356.26h0M469.9 1351.26h0M469.9 1345.86h0M469.9 1345.39h0M469.9 1410.64h0M476.61 1344.57h0M476.61 1340.74h0M476.61 1336.35h0M476.61 1335.01h0M476.61 1410.64h0M483.32 1346.09h0M483.32 1341.42h0M483.32 1337.81h0M483.32 1336.49h0M483.32 1410.64h0M490.02 1343.32h0M490.02 1340.51h0M490.02 1337.97h0M490.02 1410.64h0M496.73 1346.44h0M496.73 1343.99h0M496.73 1341.11h0M496.73 1336.89h0M496.73 1335.01h0M496.73 1410.64h0M503.44 1345.33h0M503.44 1341.5h0M503.44 1337.46h0M503.44 1334.1h0M503.44 1331.31h0M503.44 1330.56h0M503.44 1410.64h0M510.15 1344.11h0M510.15 1340.5h0M510.15 1335.15h0M510.15 1332.04h0M510.15 1410.64h0M516.85 1339.54h0M516.85 1336.72h0M516.85 1335.01h0M516.85 1406.19h0M523.56 1347.23h0M523.56 1345.39h0M523.56 1401.75h0M530.27 1343.59h0M530.27 1339.23h0M530.27 1336.49h0M530.27 1410.64h0M536.98 1358.48h0M536.98 1353.24h0M536.98 1350.45h0M536.98 1348.33h0M536.98 1345.15h0M536.98 1343.91h0M536.98 1410.64h0M565.64 1371.11h0M565.64 1366.32h0M565.64 1361.74h0M565.64 1361.7h0M585.76 1363.05h0M585.76 1360.22h0M585.76 1403.23h0M592.47 1367.2h0M592.47 1364.39h0M592.47 1361.62h0M592.47 1360.22h0M592.47 1406.19h0M599.18 1363.71h0M599.18 1360.22h0M599.18 1409.16h0M605.88 1366.89h0M605.88 1363.43h0M605.88 1360.22h0M605.88 1406.19h0M612.59 1372.69h0M612.59 1369.31h0M612.59 1367.64h0M612.59 1410.64h0M619.3 1365.18h0M619.3 1362.99h0M619.3 1360.78h0M619.3 1357.41h0M619.3 1352.26h0M619.3 1347.17h0M619.3 1346.87h0M619.3 1410.64h0M626.01 1355.07h0M626.01 1351.92h0M626.01 1349.27h0M626.01 1348.36h0M626.01 1410.64h0M632.71 1352.18h0M632.71 1347.85h0M632.71 1344.53h0M632.71 1341.22h0M632.71 1338.06h0M632.71 1335.46h0M632.71 1333.45h0M632.71 1330.47h0M632.71 1329.08h0M632.71 1409.16h0M639.42 1352.66h0M639.42 1347.28h0M639.42 1344.56h0M639.42 1341.31h0M639.42 1339.46h0M646.13 1339.39h0M646.13 1335.87h0M646.13 1333.7h0M646.13 1330.04h0M646.13 1326.74h0M646.13 1326.11h0M652.84 1409.16h0M659.54 1336.49h0M659.54 1336.49h0M672.96 1333.5h0M672.96 1330.56h0M672.96 1409.16h0M679.66 1409.16h0M686.37 1408.86h0M686.37 1409.16h0M693.08 1407.49h0M693.08 1409.16h0M699.79 1316.61h0M699.79 1315.73h0M699.79 1409.16h0M706.49 1331.84h0M706.49 1328.89h0M706.49 1327.59h0M706.49 1408.98h0M706.49 1409.16h0M713.2 1326.11h0M713.2 1409.16h0M726.62 1407.9h0M726.62 1409.16h0M733.32 1324.63h0M733.32 1409.16h0M740.03 1409.16h0M746.74 1321.91h0M746.74 1321.66h0M746.74 1406.95h0M746.74 1409.16h0M753.45 1325.08h0M753.45 1324.63h0M753.45 1409.04h0M753.45 1409.16h0M760.15 1323.2h0M760.15 1321.66h0M760.15 1403.23h0M766.86 1329.01h0M766.86 1324.2h0M766.86 1320.18h0M766.86 1403.23h0M773.57 1321.66h0M773.57 1404.17h0M773.57 1404.71h0M780.28 1327.69h0M780.28 1324.63h0M780.28 1401.75h0M795.52 1349.73h0M795.52 1347.04h0M795.52 1342.42h0M795.52 1395.81h0M802.23 1351.86h0M802.23 1349.74h0M802.23 1345.81h0M802.23 1345.39h0M802.23 1395.81h0M808.94 1345.71h0M808.94 1340.25h0M808.94 1339.46h0M808.94 1407.68h0M815.65 1346.63h0M815.65 1342.89h0M815.65 1338.41h0M815.65 1336.49h0M815.65 1406.19h0M822.35 1351.13h0M822.35 1346.95h0M822.35 1342.6h0M822.35 1339.46h0M822.35 1406.19h0M829.06 1354.87h0M829.06 1352.45h0M829.06 1348.36h0M829.06 1406.19h0M835.77 1361.08h0M835.77 1357.77h0M835.77 1353.19h0M835.77 1351.32h0M835.77 1407.68h0M842.48 1359.55h0M842.48 1357.01h0M842.48 1351.92h0M842.48 1347.89h0M842.48 1345.39h0M842.48 1407.68h0M849.18 1355.35h0M849.18 1351.58h0M849.18 1348.77h0M849.18 1343.94h0M849.18 1342.42h0M849.18 1409.16h0M855.89 1353.49h0M855.89 1349.83h0M855.89 1344.96h0M855.89 1340.02h0M855.89 1339.46h0M855.89 1410.64h0M862.6 1340.75h0M862.6 1338.33h0M862.6 1337.97h0M869.31 1334.55h0M869.31 1333.53h0M869.31 1409.16h0M876.01 1330.82h0M876.01 1329.08h0M876.01 1409.16h0M882.72 1338.24h0M882.72 1333.52h0M882.72 1330.56h0M882.72 1409.16h0M889.43 1333.53h0M889.43 1407.68h0M896.14 1328.04h0M896.14 1324.75h0M896.14 1324.63h0M896.14 1407.39h0M896.14 1407.68h0M902.84 1334.53h0M902.84 1330.56h0M902.84 1407.68h0M909.55 1326.15h0M909.55 1323.14h0M909.55 1404.71h0M916.26 1330.74h0M916.26 1327.65h0M916.26 1327.59h0M916.26 1404.71h0M922.96 1315.73h0M922.96 1403.57h0M922.96 1404.71h0M929.67 1327.59h0M929.67 1403.23h0M936.38 1326.69h0M936.38 1324.63h0M936.38 1401.72h0M936.38 1404.71h0M943.09 1404.71h0M949.79 1327.31h0M949.79 1324.63h0M949.79 1404.71h0M956.5 1404.71h0M963.21 1404.71h0M969.92 1318.37h0M969.92 1317.21h0M969.92 1403.98h0M969.92 1404.71h0M976.62 1324.63h0M976.62 1398.21h0M976.62 1401.75h0M983.33 1325.19h0M983.33 1324.63h0M983.33 1403.23h0M990.04 1321.66h0M990.04 1402h0M990.04 1403.23h0M996.75 1321.66h0M996.75 1402.3h0M996.75 1403.23h0M1003.45 1399.46h0M1003.45 1401.75h0M1010.16 1401.32h0M1010.16 1401.75h0M1016.87 1319.66h0M1016.87 1318.69h0M1016.87 1398.5h0M1016.87 1401.75h0M1023.58 1321.66h0M1023.58 1400.2h0M1023.58 1401.75h0M1186.39 1384.54h0M1233.34 1346.87h0M1260.17 1377.2h0M1260.17 1378.02h0M1282.12 1328.45h0M1282.12 1325.76h0M1282.12 1323.32h0M1282.12 1318.02h0M1282.12 1312.6h0M1282.12 1308.91h0M1282.12 1306.73h0M1282.12 1305.35h0M1282.12 1410.35h0M1282.12 1410.64h0M1288.83 1326.39h0M1288.83 1321.5h0M1288.83 1318.94h0M1288.83 1314.19h0M1288.83 1311.41h0M1288.83 1308h0M1288.83 1305.35h0M1288.83 1410.64h0M1295.54 1327.29h0M1295.54 1324.53h0M1295.54 1321.13h0M1295.54 1317.31h0M1295.54 1313.97h0M1295.54 1311.54h0M1295.54 1308.68h0M1295.54 1305.35h0M1295.54 1410.64h0M1315.66 1315.4h0M1315.66 1311.43h0M1315.66 1306.83h0M1315.66 1385.43h0M1362.61 1410.05h0M1402.86 1317.97h0M1402.86 1313.88h0M1402.86 1309.95h0M1402.86 1309.8h0M1416.27 1315.2h0M1416.27 1311.73h0M1416.27 1308.31h0M1422.98 1314.11h0M1422.98 1309.81h0M1422.98 1306.25h0M1422.98 1303.86h0M1429.69 1310.48h0M1429.69 1306.31h0M1429.69 1303.86h0M1456.52 1330.17h0M1456.52 1325.5h0M1456.52 1320.77h0M1456.52 1317.16h0M1456.52 1314.53h0M1456.52 1310.88h0M1456.52 1309.8h0M1463.22 1319.36h0M1463.22 1315.85h0M1463.22 1314.25h0M1469.93 1334.17h0M1469.93 1332.04h0M1476.64 1334.68h0M1476.64 1330.45h0M1476.64 1328.17h0M1476.64 1326.11h0M1483.35 1328.89h0M1483.35 1325.1h0M1483.35 1322.91h0M1483.35 1319.15h0M1483.35 1315.83h0M1483.35 1310.5h0M1483.35 1308.02h0M1483.35 1303.86h0M1490.05 1329.08h0M1496.76 1321.92h0M1496.76 1320.18h0M1503.47 1332.09h0M1503.47 1326.66h0M1503.47 1322.94h0M1503.47 1321.66h0M1510.18 1358.71h0M1510.18 1356.13h0M1510.18 1351.37h0M1510.18 1346.11h0M1510.18 1343.88h0M1510.18 1340.66h0M1510.18 1339.46h0M1525.42 1340.36h0M1525.42 1336.49h0M1525.42 1402.34h0M1532.13 1399.37h0M1538.84 1344.55h0M1538.84 1343.02h0M1538.84 1402.34h0M1592.5 1410.05h0M1599.21 1404.71h0M1605.91 1404.71h0M1612.62 1404.71h0M1619.33 1362.79h0M1619.33 1360.15h0M1619.33 1358.74h0M1626.04 1352.81h0M1632.74 1365.74h0M1632.74 1363.19h0M1639.45 1357.85h0M1646.16 1363.19h0M1646.16 1407.68h0M1652.86 1357.59h0M1652.86 1355.77h0M1659.57 1370.29h0M1659.57 1365.24h0M1659.57 1361.7h0M1659.57 1409.16h0M1666.28 1367.43h0M1666.28 1365.06h0M1666.28 1363.19h0M1672.99 1369.75h0M1672.99 1366.37h0M1672.99 1361.58h0M1672.99 1358.65h0M1672.99 1354.29h0M1679.69 1377.17h0M1679.69 1373.91h0M1679.69 1370.6h0M1686.4 1377.19h0M1686.4 1374.57h0M1686.4 1369.97h0M1686.4 1367.8h0M1686.4 1362.93h0M1686.4 1361.7h0M1693.11 1368.94h0M1693.11 1363.49h0M1693.11 1361.7h0M1693.11 1410.05h0M1699.82 1376.06h0M1699.82 1374.05h0M1699.82 1371.93h0M1699.82 1369.41h0M1699.82 1365.25h0M1699.82 1361.74h0M1699.82 1357.95h0M1699.82 1352.81h0M1699.82 1352.81h0M1699.82 1410.05h0M1706.52 1378.96h0M1706.52 1376.88h0M1706.52 1375.05h0M1706.52 1410.05h0M1713.23 1381.06h0M1713.23 1377.81h0M1713.23 1375.02h0M1713.23 1372.08h0M1713.23 1410.05h0M1719.94 1380.12h0M1719.94 1376.53h0M1719.94 1410.05h0M1726.65 1379.76h0M1726.65 1374.48h0M1726.65 1371.63h0M1726.65 1369.12h0M1726.65 1410.05h0M1733.35 1374.75h0M1733.35 1369.7h0M1733.35 1367.64h0M1733.35 1410.05h0M1740.06 1378.54h0M1740.06 1376.5h0M1740.06 1372.24h0M1740.06 1368.27h0M1740.06 1365.05h0M1740.06 1363.19h0M1740.06 1410.05h0M1746.77 1370.79h0M1746.77 1366.23h0M1746.77 1363.36h0M1746.77 1358.19h0M1746.77 1356.66h0M1746.77 1410.05h0M1753.48 1410.05h0" stroke="#111" stroke-width="1.8" stroke-linecap="round"/>
<path d="M103.19 1369.12h5.37v6.53h-5.37zM346.49 1357.25h5.37v18.39h-5.37zM589.79 1383.95h5.37v6.53h-5.37zM833.09 1379.5h5.37v8.01h-5.37zM1319.69 1323.14h5.37v53.39h-5.37zM1562.99 1365.56h5.37v10.97h-5.37z" fill="#C8C030" stroke="#333" stroke-width="0.9"/>
<path d="M109.89 1363.19h5.37v8.31h-5.37zM353.19 1357.85h5.37v10.68h-5.37zM596.49 1380.39h5.37v6.53h-5.37zM839.79 1376.53h5.37v7.42h-5.37zM1326.39 1320.18h5.37v54.87h-5.37zM1569.69 1370.6h5.37v14.83h-5.37z" fill="#A8B060" stroke="#333" stroke-width="0.9"/>
<path d="M116.6 1363.78h5.37v9.79h-5.37zM359.9 1363.19h5.37v11.27h-5.37zM603.2 1382.47h5.37v7.42h-5.37zM846.5 1377.42h5.37v8.9h-5.37zM1333.1 1332.93h5.37v46.57h-5.37zM1576.4 1367.64h5.37v8.9h-5.37z" fill="#A0B050" stroke="#333" stroke-width="0.9"/>
<path d="M123.31 1373.57h5.37v7.42h-5.37zM366.61 1374.46h5.37v5.93h-5.37zM609.91 1386.32h5.37v6.53h-5.37zM853.21 1376.53h5.37v11.86h-5.37zM1339.81 1330.56h5.37v37.97h-5.37zM1583.11 1376.53h5.37v8.9h-5.37z" fill="#D0F870" stroke="#333" stroke-width="0.9"/>
<path d="M130.02 1369.71h5.37v8.31h-5.37zM373.32 1369.71h5.37v8.9h-5.37zM616.62 1382.47h5.37v7.42h-5.37zM859.92 1369.71h5.37v16.61h-5.37zM1103.22 1365.56h5.37v13.05h-5.37zM1346.52 1332.04h5.37v42.42h-5.37zM1589.82 1368.53h5.37v13.94h-5.37z" fill="#B0F060" stroke="#333" stroke-width="0.9"/>
<path d="M136.72 1370.6h5.37v9.79h-5.37zM380.02 1371.49h5.37v6.53h-5.37zM623.32 1378.02h5.37v10.38h-5.37zM866.62 1364.67h5.37v15.72h-5.37zM1109.92 1371.49h5.37v16.91h-5.37zM1353.22 1331.15h5.37v37.97h-5.37zM1596.52 1355.77h5.37v18.69h-5.37z" fill="#80F040" stroke="#333" stroke-width="0.9"/>
<path d="M143.43 1370.6h5.37v10.38h-5.37zM386.73 1369.71h5.37v9.79h-5.37zM630.03 1376.53h5.37v11.86h-5.37zM873.33 1361.7h5.37v17.8h-5.37zM1116.63 1369.71h5.37v14.24h-5.37zM1359.93 1343.91h5.37v25.81h-5.37zM1603.23 1362.59h5.37v16.02h-5.37z" fill="#60E830" stroke="#333" stroke-width="0.9"/>
<path d="M150.14 1375.05h5.37v11.27h-5.37zM393.44 1375.05h5.37v7.42h-5.37zM636.74 1377.42h5.37v13.05h-5.37zM880.04 1366.15h5.37v15.42h-5.37zM1123.34 1363.78h5.37v17.2h-5.37zM1366.64 1340.05h5.37v41.53h-5.37zM1609.94 1375.05h5.37v11.27h-5.37z" fill="#50E030" stroke="#333" stroke-width="0.9"/>
<path d="M156.84 1378.61h5.37v9.79h-5.37zM400.14 1376.53h5.37v8.9h-5.37zM643.44 1371.49h5.37v16.02h-5.37zM886.74 1360.22h5.37v15.42h-5.37zM1130.04 1345.98h5.37v21.65h-5.37zM1373.34 1332.93h5.37v36.78h-5.37zM1616.64 1382.47h5.37v10.97h-5.37z" fill="#70D080" stroke="#333" stroke-width="0.9"/>
<path d="M163.55 1372.08h5.37v10.38h-5.37zM406.85 1369.71h5.37v9.79h-5.37zM650.15 1358.74h5.37v15.72h-5.37zM893.45 1352.81h5.37v13.94h-5.37zM1136.75 1357.25h5.37v9.49h-5.37zM1380.05 1341.83h5.37v40.64h-5.37zM1623.35 1376.53h5.37v11.86h-5.37z" fill="#68C888" stroke="#333" stroke-width="0.9"/>
<path d="M170.26 1379.5h5.37v9.79h-5.37zM413.56 1378.61h5.37v9.79h-5.37zM656.86 1366.15h5.37v17.2h-5.37zM900.16 1359.63h5.37v13.05h-5.37zM1143.46 1359.63h5.37v10.97h-5.37zM1386.76 1342.42h5.37v37.08h-5.37zM1630.06 1383.36h5.37v8.01h-5.37z" fill="#60C090" stroke="#333" stroke-width="0.9"/>
<path d="M176.97 1371.49h5.37v9.49h-5.37zM420.27 1370.6h5.37v9.79h-5.37zM663.57 1355.77h5.37v20.76h-5.37zM906.87 1347.76h5.37v12.46h-5.37zM1150.17 1353.69h5.37v19.87h-5.37zM1393.47 1339.46h5.37v40.93h-5.37zM1636.77 1376.53h5.37v10.97h-5.37z" fill="#50B088" stroke="#333" stroke-width="0.9"/>
<path d="M183.67 1376.53h5.37v8.9h-5.37zM426.97 1375.64h5.37v7.71h-5.37zM670.27 1357.85h5.37v14.24h-5.37zM913.57 1351.32h5.37v11.27h-5.37zM1156.87 1358.74h5.37v13.94h-5.37zM1400.17 1359.63h5.37v24.92h-5.37zM1643.47 1380.39h5.37v9.49h-5.37z" fill="#80F0F0" stroke="#333" stroke-width="0.9"/>
<path d="M190.38 1369.71h5.37v17.8h-5.37zM433.68 1371.49h5.37v16.02h-5.37zM676.98 1349.84h5.37v22.25h-5.37zM920.28 1343.02h5.37v15.72h-5.37zM1163.58 1337.08h5.37v18.69h-5.37zM1406.88 1353.69h5.37v35.59h-5.37zM1650.18 1383.36h5.37v13.94h-5.37z" fill="#70F0F0" stroke="#333" stroke-width="0.9"/>
<path d="M197.09 1375.64h5.37v8.31h-5.37zM440.39 1375.64h5.37v7.71h-5.37zM683.69 1354.29h5.37v15.42h-5.37zM926.99 1348.95h5.37v11.86h-5.37zM1170.29 1345.39h5.37v18.39h-5.37zM1413.59 1358.74h5.37v25.81h-5.37zM1656.89 1386.32h5.37v7.12h-5.37z" fill="#80F0F8" stroke="#333" stroke-width="0.9"/>
<path d="M203.8 1375.64h5.37v6.82h-5.37zM447.1 1375.64h5.37v7.71h-5.37zM690.4 1349.84h5.37v13.35h-5.37zM933.7 1345.39h5.37v8.9h-5.37zM1177 1335.9h5.37v10.08h-5.37zM1420.3 1358.74h5.37v25.81h-5.37zM1663.6 1387.51h5.37v8.9h-5.37z" fill="#98E8F0" stroke="#333" stroke-width="0.9"/>
<path d="M210.5 1377.42h5.37v18.39h-5.37zM453.8 1378.02h5.37v17.2h-5.37zM697.1 1351.32h5.37v20.76h-5.37zM940.4 1343.02h5.37v20.76h-5.37zM1183.7 1341.83h5.37v15.42h-5.37zM1427 1361.7h5.37v31.74h-5.37zM1670.3 1393.44h5.37v10.68h-5.37z" fill="#70B8E0" stroke="#333" stroke-width="0.9"/>
<path d="M217.21 1377.42h5.37v8.9h-5.37zM460.51 1375.64h5.37v9.79h-5.37zM703.81 1352.81h5.37v10.97h-5.37zM947.11 1345.98h5.37v9.79h-5.37zM1190.41 1337.08h5.37v12.75h-5.37zM1433.71 1358.74h5.37v30.55h-5.37zM1677.01 1392.85h5.37v6.53h-5.37z" fill="#5898E0" stroke="#333" stroke-width="0.9"/>
<path d="M223.92 1382.47h5.37v10.38h-5.37zM467.22 1379.5h5.37v10.38h-5.37zM710.52 1353.69h5.37v16.02h-5.37zM953.82 1345.98h5.37v15.72h-5.37zM1197.12 1338.86h5.37v16.02h-5.37zM1440.42 1358.74h5.37v33.52h-5.37zM1683.72 1394.33h5.37v6.82h-5.37z" fill="#4070D0" stroke="#333" stroke-width="0.9"/>
<path d="M230.63 1367.64h5.37v10.97h-5.37zM473.93 1366.15h5.37v11.27h-5.37zM717.23 1343.91h5.37v25.81h-5.37zM960.53 1335.9h5.37v24.92h-5.37zM1447.13 1348.36h5.37v32.63h-5.37zM1690.43 1385.43h5.37v6.82h-5.37z" fill="#3040C0" stroke="#333" stroke-width="0.9"/>
<path d="M237.33 1375.05h5.37v8.31h-5.37zM480.63 1369.71h5.37v11.27h-5.37zM723.93 1343.91h5.37v14.83h-5.37zM967.23 1338.86h5.37v10.97h-5.37zM1453.83 1369.12h5.37v21.36h-5.37zM1697.13 1391.36h5.37v5.04h-5.37z" fill="#2020D0" stroke="#333" stroke-width="0.9"/>
<path d="M244.04 1376.53h5.37v7.42h-5.37zM487.34 1368.53h5.37v12.46h-5.37zM730.64 1345.98h5.37v11.86h-5.37zM973.94 1339.46h5.37v8.31h-5.37zM1217.24 1330.56h5.37v14.24h-5.37zM1460.54 1363.19h5.37v26.69h-5.37zM1703.84 1392.25h5.37v5.04h-5.37z" fill="#2020F0" stroke="#333" stroke-width="0.9"/>
<path d="M250.75 1383.36h5.37v7.12h-5.37zM494.05 1372.08h5.37v13.35h-5.37zM737.35 1353.69h5.37v14.83h-5.37zM980.65 1345.39h5.37v11.27h-5.37zM1223.95 1335.01h5.37v16.31h-5.37zM1467.25 1372.08h5.37v22.25h-5.37zM1710.55 1393.44h5.37v5.34h-5.37z" fill="#C0A0F8" stroke="#333" stroke-width="0.9"/>
<path d="M257.46 1380.39h5.37v8.01h-5.37zM500.76 1370.6h5.37v13.35h-5.37zM744.06 1345.98h5.37v11.86h-5.37zM987.36 1338.86h5.37v9.49h-5.37zM1230.66 1335.9h5.37v2.08h-5.37zM1473.96 1372.08h5.37v22.25h-5.37zM1717.26 1392.85h5.37v5.93h-5.37z" fill="#B080F0" stroke="#333" stroke-width="0.9"/>
<path d="M264.16 1380.98h5.37v10.38h-5.37zM507.46 1372.08h5.37v14.83h-5.37zM750.76 1351.92h5.37v13.64h-5.37zM994.06 1341.83h5.37v12.46h-5.37zM1237.36 1335.01h5.37v19.28h-5.37zM1480.66 1372.68h5.37v22.54h-5.37zM1723.96 1393.44h5.37v5.93h-5.37z" fill="#B060F0" stroke="#333" stroke-width="0.9"/>
<path d="M270.87 1374.46h5.37v9.49h-5.37zM514.17 1364.67h5.37v13.35h-5.37zM757.47 1350.73h5.37v15.42h-5.37zM1000.77 1340.94h5.37v12.75h-5.37zM1244.07 1336.49h5.37v11.86h-5.37zM1487.37 1367.64h5.37v23.73h-5.37zM1730.67 1389.88h5.37v5.93h-5.37z" fill="#C040F0" stroke="#333" stroke-width="0.9"/>
<path d="M277.58 1378.61h5.37v7.71h-5.37zM520.88 1369.71h5.37v11.27h-5.37zM764.18 1352.81h5.37v12.75h-5.37zM1007.48 1340.94h5.37v11.86h-5.37zM1250.78 1335.9h5.37v7.12h-5.37zM1494.08 1366.75h5.37v26.1h-5.37zM1737.38 1391.36h5.37v4.45h-5.37z" fill="#D040E8" stroke="#333" stroke-width="0.9"/>
<path d="M284.29 1375.64h5.37v8.31h-5.37zM527.59 1366.15h5.37v11.27h-5.37zM770.89 1343.91h5.37v11.86h-5.37zM1014.19 1335.9h5.37v8.9h-5.37zM1257.49 1334.12h5.37v11.86h-5.37zM1500.79 1369.12h5.37v21.36h-5.37zM1744.09 1388.4h5.37v5.93h-5.37z" fill="#C030D0" stroke="#333" stroke-width="0.9"/>
<path d="M290.99 1382.47h5.37v8.01h-5.37zM534.29 1379.5h5.37v8.9h-5.37zM777.59 1352.81h5.37v13.94h-5.37zM1020.89 1341.83h5.37v11.86h-5.37zM1264.19 1338.86h5.37v10.97h-5.37zM1507.49 1386.92h5.37v12.46h-5.37zM1750.79 1389.88h5.37v7.42h-5.37z" fill="#909090" stroke="#333" stroke-width="0.9"/>
<path d="M319.66 1355.18h5.37v11.57h-5.37zM562.96 1392.85h5.37v11.27h-5.37zM806.26 1371.49h5.37v12.46h-5.37zM1292.86 1358.74h5.37v16.31h-5.37zM1536.16 1365.56h5.37v11.86h-5.37z" fill="#F09070" stroke="#333" stroke-width="0.9"/>
<path d="M326.36 1354.88h5.37v4.75h-5.37zM569.66 1372.68h5.37v26.69h-5.37zM812.96 1367.64h5.37v10.97h-5.37zM1299.56 1338.86h5.37v27.29h-5.37zM1542.86 1357.85h5.37v10.68h-5.37z" fill="#F09040" stroke="#333" stroke-width="0.9"/>
<path d="M333.07 1354.88h5.37v17.8h-5.37zM576.37 1372.08h5.37v8.31h-5.37zM819.67 1369.71h5.37v8.31h-5.37zM1306.27 1330.56h5.37v37.08h-5.37zM1549.57 1348.95h5.37v17.8h-5.37z" fill="#E89838" stroke="#333" stroke-width="0.9"/>
<path d="M339.78 1337.08h5.37v20.76h-5.37zM583.08 1375.64h5.37v5.93h-5.37zM826.38 1372.68h5.37v7.71h-5.37zM1312.98 1343.02h5.37v15.72h-5.37zM1556.28 1354.88h5.37v11.86h-5.37z" fill="#E0A838" stroke="#333" stroke-width="0.9"/>
<path d="M792.84 1366.15h5.37v8.31h-5.37zM1279.44 1356.66h5.37v11.86h-5.37zM1522.74 1358.74h5.37v9.79h-5.37z" fill="#F4A0A0" stroke="#333" stroke-width="0.9"/>
<path d="M799.55 1367.64h5.37v8.01h-5.37zM1286.15 1353.69h5.37v12.46h-5.37zM1529.45 1353.69h5.37v13.94h-5.37z" fill="#F4A090" stroke="#333" stroke-width="0.9"/>
<path d="M103.19 1371.49H108.55M109.89 1367.64H115.26M116.6 1368.53H121.97M123.31 1377.42H128.67M130.02 1372.68H135.38M136.72 1375.05H142.09M143.43 1375.64H148.8M150.14 1380.98H155.5M156.84 1382.47H162.21M163.55 1377.42H168.92M170.26 1383.95H175.63M176.97 1376.53H182.33M183.67 1380.98H189.04M190.38 1379.5H195.75M197.09 1379.5H202.46M203.8 1379.5H209.16M210.5 1386.32H215.87M217.21 1380.98H222.58M223.92 1386.32H229.28M230.63 1372.08H235.99M237.33 1378.61H242.7M244.04 1380.39H249.41M250.75 1386.92H256.11M257.46 1384.54H262.82M264.16 1385.43H269.53M270.87 1378.61H276.24M277.58 1381.58H282.94M284.29 1379.5H289.65M290.99 1386.92H296.36M319.66 1358.74H325.02M326.36 1357.25H331.73M333.07 1363.19H338.44M339.78 1342.42H345.14M346.49 1366.15H351.85M353.19 1363.78H358.56M359.9 1368.53H365.27M366.61 1376.53H371.97M373.32 1372.68H378.68M380.02 1374.46H385.39M386.73 1373.57H392.1M393.44 1379.5H398.8M400.14 1380.98H405.51M406.85 1374.46H412.22M413.56 1383.95H418.93M420.27 1375.05H425.63M426.97 1379.5H432.34M433.68 1380.98H439.05M440.39 1379.5H445.76M447.1 1379.5H452.46M453.8 1385.43H459.17M460.51 1380.39H465.88M467.22 1383.95H472.58M473.93 1371.49H479.29M480.63 1375.64H486M487.34 1374.46H492.71M494.05 1378.02H499.41M500.76 1376.53H506.12M507.46 1378.02H512.83M514.17 1369.12H519.54M520.88 1373.57H526.24M527.59 1370.6H532.95M534.29 1383.95H539.66M562.96 1395.81H568.32M569.66 1375.05H575.03M576.37 1375.05H581.74M583.08 1378.61H588.44M589.79 1386.92H595.15M596.49 1383.36H601.86M603.2 1386.32H608.57M609.91 1389.29H615.27M616.62 1386.32H621.98M623.32 1382.47H628.69M630.03 1382.47H635.4M636.74 1382.47H642.1M643.44 1379.5H648.81M650.15 1366.15H655.52M656.86 1375.05H662.23M663.57 1366.15H668.93M670.27 1363.19H675.64M676.98 1360.81H682.35M683.69 1360.81H689.06M690.4 1354.88H695.76M697.1 1360.22H702.47M703.81 1356.66H709.18M710.52 1361.7H715.88M717.23 1352.81H722.59M723.93 1351.32H729.3M730.64 1351.32H736.01M737.35 1358.74H742.71M744.06 1350.73H749.42M750.76 1355.77H756.13M757.47 1355.77H762.84M764.18 1357.85H769.54M770.89 1348.36H776.25M777.59 1357.85H782.96M792.84 1369.71H798.21M799.55 1371.49H804.91M806.26 1376.53H811.62M812.96 1372.08H818.33M819.67 1373.57H825.04M826.38 1376.53H831.74M833.09 1383.36H838.45M839.79 1379.5H845.16M846.5 1380.39H851.87M853.21 1380.98H858.57M859.92 1375.64H865.28M866.62 1369.71H871.99M873.33 1370.6H878.7M880.04 1372.08H885.4M886.74 1366.75H892.11M893.45 1357.85H898.82M900.16 1364.67H905.53M906.87 1351.32H912.23M913.57 1354.29H918.94M920.28 1350.73H925.65M926.99 1351.32H932.36M933.7 1348.36H939.06M940.4 1351.32H945.77M947.11 1350.73H952.48M953.82 1352.81H959.18M960.53 1343.91H965.89M967.23 1343.91H972.6M973.94 1343.02H979.31M980.65 1351.32H986.01M987.36 1342.42H992.72M994.06 1345.39H999.43M1000.77 1343.91H1006.14M1007.48 1345.39H1012.84M1014.19 1339.46H1019.55M1020.89 1348.36H1026.26M1103.22 1371.49H1108.58M1109.92 1380.98H1115.29M1116.63 1378.02H1122M1123.34 1370.6H1128.7M1130.04 1358.74H1135.41M1136.75 1362.59H1142.12M1143.46 1362.59H1148.83M1150.17 1361.7H1155.53M1156.87 1369.71H1162.24M1163.58 1352.81H1168.95M1170.29 1354.88H1175.66M1177 1337.97H1182.36M1183.7 1349.84H1189.07M1190.41 1347.76H1195.78M1197.12 1345.39H1202.48M1217.24 1338.86H1222.61M1223.95 1337.97H1229.31M1230.66 1337.08H1236.02M1237.36 1343.91H1242.73M1244.07 1341.83H1249.44M1250.78 1337.97H1256.14M1257.49 1338.86H1262.85M1264.19 1344.8H1269.56M1279.44 1362.59H1284.81M1286.15 1360.81H1291.51M1292.86 1367.64H1298.22M1299.56 1356.66H1304.93M1306.27 1346.87H1311.64M1312.98 1354.29H1318.34M1319.69 1348.36H1325.05M1326.39 1360.22H1331.76M1333.1 1361.7H1338.47M1339.81 1342.42H1345.17M1346.52 1358.74H1351.88M1353.22 1345.98H1358.59M1359.93 1360.22H1365.3M1366.64 1360.81H1372M1373.34 1351.32H1378.71M1380.05 1367.64H1385.42M1386.76 1359.63H1392.13M1393.47 1361.7H1398.83M1400.17 1372.68H1405.54M1406.88 1375.64H1412.25M1413.59 1375.64H1418.96M1420.3 1375.64H1425.66M1427 1379.5H1432.37M1433.71 1376.53H1439.08M1440.42 1375.64H1445.78M1447.13 1367.64H1452.49M1453.83 1379.5H1459.2M1460.54 1379.5H1465.91M1467.25 1386.32H1472.61M1473.96 1386.32H1479.32M1480.66 1386.92H1486.03M1487.37 1380.98H1492.74M1494.08 1380.98H1499.44M1500.79 1382.47H1506.15M1507.49 1394.33H1512.86M1522.74 1363.19H1528.11M1529.45 1360.81H1534.81M1536.16 1371.49H1541.52M1542.86 1363.19H1548.23M1549.57 1358.74H1554.94M1556.28 1359.63H1561.64M1562.99 1372.08H1568.35M1569.69 1380.39H1575.06M1576.4 1371.49H1581.77M1583.11 1379.5H1588.47M1589.82 1372.68H1595.18M1596.52 1368.53H1601.89M1603.23 1371.49H1608.6M1609.94 1379.5H1615.3M1616.64 1387.51H1622.01M1623.35 1384.54H1628.72M1630.06 1386.32H1635.43M1636.77 1381.58H1642.13M1643.47 1386.32H1648.84M1650.18 1387.51H1655.55M1656.89 1389.29H1662.26M1663.6 1391.36H1668.96M1670.3 1397.3H1675.67M1677.01 1395.81H1682.38M1683.72 1396.41H1689.08M1690.43 1388.4H1695.79M1697.13 1393.44H1702.5M1703.84 1394.33H1709.21M1710.55 1396.41H1715.91M1717.26 1395.22H1722.62M1723.96 1395.81H1729.33M1730.67 1392.85H1736.04M1737.38 1393.44H1742.74M1744.09 1391.36H1749.45M1750.79 1393.44H1756.16" stroke="#222" stroke-width="1.3"/>
<path d="M76.36 1378.61h5.37M83.06 1358.44h5.37M1089.8 1364.67h5.37M1096.51 1374.46h5.37M1203.83 1364.97h5.37M1210.53 1341.53h5.37" stroke="#222" stroke-width="1.8"/>
<rect x="62.15" y="1133.5" width="235" height="129.45" fill="none" stroke="#555" stroke-width="1.1"/>
<rect x="305.45" y="1133.5" width="235" height="129.45" fill="none" stroke="#555" stroke-width="1.1"/>
<rect x="548.75" y="1133.5" width="235" height="129.45" fill="none" stroke="#555" stroke-width="1.1"/>
<rect x="792.05" y="1133.5" width="235" height="129.45" fill="none" stroke="#555" stroke-width="1.1"/>
<rect x="1035.35" y="1133.5" width="235" height="129.45" fill="none" stroke="#555" stroke-width="1.1"/>
<rect x="1278.65" y="1133.5" width="235" height="129.45" fill="none" stroke="#555" stroke-width="1.1"/>
<rect x="1521.95" y="1133.5" width="235" height="129.45" fill="none" stroke="#555" stroke-width="1.1"/>
<rect x="1765.25" y="1133.5" width="235" height="129.45" fill="none" stroke="#555" stroke-width="1.1"/>
<rect x="62.15" y="1296.75" width="235" height="129.45" fill="none" stroke="#555" stroke-width="1.1"/>
<rect x="305.45" y="1296.75" width="235" height="129.45" fill="none" stroke="#555" stroke-width="1.1"/>
<rect x="548.75" y="1296.75" width="235" height="129.45" fill="none" stroke="#555" stroke-width="1.1"/>
<rect x="792.05" y="1296.75" width="235" height="129.45" fill="none" stroke="#555" stroke-width="1.1"/>
<rect x="1035.35" y="1296.75" width="235" height="129.45" fill="none" stroke="#555" stroke-width="1.1"/>
<rect x="1278.65" y="1296.75" width="235" height="129.45" fill="none" stroke="#555" stroke-width="1.1"/>
<rect x="1521.95" y="1296.75" width="235" height="129.45" fill="none" stroke="#555" stroke-width="1.1"/>
<path d="M65.62 1426.75v3.4M72.33 1426.75v3.4M79.04 1426.75v3.4M85.75 1426.75v3.4M92.45 1426.75v3.4M99.16 1426.75v3.4M105.87 1426.75v3.4M112.58 1426.75v3.4M119.28 1426.75v3.4M125.99 1426.75v3.4M132.7 1426.75v3.4M139.41 1426.75v3.4M146.11 1426.75v3.4M152.82 1426.75v3.4M159.53 1426.75v3.4M166.24 1426.75v3.4M172.94 1426.75v3.4M179.65 1426.75v3.4M186.36 1426.75v3.4M193.06 1426.75v3.4M199.77 1426.75v3.4M206.48 1426.75v3.4M213.19 1426.75v3.4M219.89 1426.75v3.4M226.6 1426.75v3.4M233.31 1426.75v3.4M240.02 1426.75v3.4M246.72 1426.75v3.4M253.43 1426.75v3.4M260.14 1426.75v3.4M266.85 1426.75v3.4M273.55 1426.75v3.4M280.26 1426.75v3.4M286.97 1426.75v3.4M293.68 1426.75v3.4" stroke="#333333" stroke-width="1.1"/>
<text transform="translate(65.62,1433.55) rotate(-90)" x="0" y="0" dy="0.36em" font-size="13.8" text-anchor="end" fill="#444444">E11.5</text>
<text transform="translate(79.04,1433.55) rotate(-90)" x="0" y="0" dy="0.36em" font-size="13.8" text-anchor="end" fill="#444444">E13.5</text>
<text transform="translate(92.45,1433.55) rotate(-90)" x="0" y="0" dy="0.36em" font-size="13.8" text-anchor="end" fill="#444444">E15.5</text>
<text transform="translate(105.87,1433.55) rotate(-90)" x="0" y="0" dy="0.36em" font-size="13.8" text-anchor="end" fill="#444444">E17</text>
<text transform="translate(119.28,1433.55) rotate(-90)" x="0" y="0" dy="0.36em" font-size="13.8" text-anchor="end" fill="#444444">E18</text>
<text transform="translate(132.7,1433.55) rotate(-90)" x="0" y="0" dy="0.36em" font-size="13.8" text-anchor="end" fill="#444444">P0</text>
<text transform="translate(146.11,1433.55) rotate(-90)" x="0" y="0" dy="0.36em" font-size="13.8" text-anchor="end" fill="#444444">P2</text>
<text transform="translate(159.53,1433.55) rotate(-90)" x="0" y="0" dy="0.36em" font-size="13.8" text-anchor="end" fill="#444444">P4</text>
<text transform="translate(172.94,1433.55) rotate(-90)" x="0" y="0" dy="0.36em" font-size="13.8" text-anchor="end" fill="#444444">P6</text>
<text transform="translate(186.36,1433.55) rotate(-90)" x="0" y="0" dy="0.36em" font-size="13.8" text-anchor="end" fill="#444444">P8</text>
<text transform="translate(199.77,1433.55) rotate(-90)" x="0" y="0" dy="0.36em" font-size="13.8" text-anchor="end" fill="#444444">P10</text>
<text transform="translate(213.19,1433.55) rotate(-90)" x="0" y="0" dy="0.36em" font-size="13.8" text-anchor="end" fill="#444444">P12</text>
<text transform="translate(226.6,1433.55) rotate(-90)" x="0" y="0" dy="0.36em" font-size="13.8" text-anchor="end" fill="#444444">P14</text>
<text transform="translate(240.02,1433.55) rotate(-90)" x="0" y="0" dy="0.36em" font-size="13.8" text-anchor="end" fill="#444444">P16</text>
<text transform="translate(253.43,1433.55) rotate(-90)" x="0" y="0" dy="0.36em" font-size="13.8" text-anchor="end" fill="#444444">P19</text>
<text transform="translate(266.85,1433.55) rotate(-90)" x="0" y="0" dy="0.36em" font-size="13.8" text-anchor="end" fill="#444444">P21</text>
<text transform="translate(280.26,1433.55) rotate(-90)" x="0" y="0" dy="0.36em" font-size="13.8" text-anchor="end" fill="#444444">P25</text>
<text transform="translate(293.68,1433.55) rotate(-90)" x="0" y="0" dy="0.36em" font-size="13.8" text-anchor="end" fill="#444444">P56</text>
<path d="M308.92 1426.75v3.4M315.63 1426.75v3.4M322.34 1426.75v3.4M329.05 1426.75v3.4M335.75 1426.75v3.4M342.46 1426.75v3.4M349.17 1426.75v3.4M355.88 1426.75v3.4M362.58 1426.75v3.4M369.29 1426.75v3.4M376 1426.75v3.4M382.71 1426.75v3.4M389.41 1426.75v3.4M396.12 1426.75v3.4M402.83 1426.75v3.4M409.54 1426.75v3.4M416.24 1426.75v3.4M422.95 1426.75v3.4M429.66 1426.75v3.4M436.36 1426.75v3.4M443.07 1426.75v3.4M449.78 1426.75v3.4M456.49 1426.75v3.4M463.19 1426.75v3.4M469.9 1426.75v3.4M476.61 1426.75v3.4M483.32 1426.75v3.4M490.02 1426.75v3.4M496.73 1426.75v3.4M503.44 1426.75v3.4M510.15 1426.75v3.4M516.85 1426.75v3.4M523.56 1426.75v3.4M530.27 1426.75v3.4M536.98 1426.75v3.4" stroke="#333333" stroke-width="1.1"/>
<text transform="translate(308.92,1433.55) rotate(-90)" x="0" y="0" dy="0.36em" font-size="13.8" text-anchor="end" fill="#444444">E11.5</text>
<text transform="translate(322.34,1433.55) rotate(-90)" x="0" y="0" dy="0.36em" font-size="13.8" text-anchor="end" fill="#444444">E13.5</text>
<text transform="translate(335.75,1433.55) rotate(-90)" x="0" y="0" dy="0.36em" font-size="13.8" text-anchor="end" fill="#444444">E15.5</text>
<text transform="translate(349.17,1433.55) rotate(-90)" x="0" y="0" dy="0.36em" font-size="13.8" text-anchor="end" fill="#444444">E17</text>
<text transform="translate(362.58,1433.55) rotate(-90)" x="0" y="0" dy="0.36em" font-size="13.8" text-anchor="end" fill="#444444">E18</text>
<text transform="translate(376,1433.55) rotate(-90)" x="0" y="0" dy="0.36em" font-size="13.8" text-anchor="end" fill="#444444">P0</text>
<text transform="translate(389.41,1433.55) rotate(-90)" x="0" y="0" dy="0.36em" font-size="13.8" text-anchor="end" fill="#444444">P2</text>
<text transform="translate(402.83,1433.55) rotate(-90)" x="0" y="0" dy="0.36em" font-size="13.8" text-anchor="end" fill="#444444">P4</text>
<text transform="translate(416.24,1433.55) rotate(-90)" x="0" y="0" dy="0.36em" font-size="13.8" text-anchor="end" fill="#444444">P6</text>
<text transform="translate(429.66,1433.55) rotate(-90)" x="0" y="0" dy="0.36em" font-size="13.8" text-anchor="end" fill="#444444">P8</text>
<text transform="translate(443.07,1433.55) rotate(-90)" x="0" y="0" dy="0.36em" font-size="13.8" text-anchor="end" fill="#444444">P10</text>
<text transform="translate(456.49,1433.55) rotate(-90)" x="0" y="0" dy="0.36em" font-size="13.8" text-anchor="end" fill="#444444">P12</text>
<text transform="translate(469.9,1433.55) rotate(-90)" x="0" y="0" dy="0.36em" font-size="13.8" text-anchor="end" fill="#444444">P14</text>
<text transform="translate(483.32,1433.55) rotate(-90)" x="0" y="0" dy="0.36em" font-size="13.8" text-anchor="end" fill="#444444">P16</text>
<text transform="translate(496.73,1433.55) rotate(-90)" x="0" y="0" dy="0.36em" font-size="13.8" text-anchor="end" fill="#444444">P19</text>
<text transform="translate(510.15,1433.55) rotate(-90)" x="0" y="0" dy="0.36em" font-size="13.8" text-anchor="end" fill="#444444">P21</text>
<text transform="translate(523.56,1433.55) rotate(-90)" x="0" y="0" dy="0.36em" font-size="13.8" text-anchor="end" fill="#444444">P25</text>
<text transform="translate(536.98,1433.55) rotate(-90)" x="0" y="0" dy="0.36em" font-size="13.8" text-anchor="end" fill="#444444">P56</text>
<path d="M552.22 1426.75v3.4M558.93 1426.75v3.4M565.64 1426.75v3.4M572.35 1426.75v3.4M579.05 1426.75v3.4M585.76 1426.75v3.4M592.47 1426.75v3.4M599.18 1426.75v3.4M605.88 1426.75v3.4M612.59 1426.75v3.4M619.3 1426.75v3.4M626.01 1426.75v3.4M632.71 1426.75v3.4M639.42 1426.75v3.4M646.13 1426.75v3.4M652.84 1426.75v3.4M659.54 1426.75v3.4M666.25 1426.75v3.4M672.96 1426.75v3.4M679.66 1426.75v3.4M686.37 1426.75v3.4M693.08 1426.75v3.4M699.79 1426.75v3.4M706.49 1426.75v3.4M713.2 1426.75v3.4M719.91 1426.75v3.4M726.62 1426.75v3.4M733.32 1426.75v3.4M740.03 1426.75v3.4M746.74 1426.75v3.4M753.45 1426.75v3.4M760.15 1426.75v3.4M766.86 1426.75v3.4M773.57 1426.75v3.4M780.28 1426.75v3.4" stroke="#333333" stroke-width="1.1"/>
<text transform="translate(552.22,1433.55) rotate(-90)" x="0" y="0" dy="0.36em" font-size="13.8" text-anchor="end" fill="#444444">E11.5</text>
<text transform="translate(565.64,1433.55) rotate(-90)" x="0" y="0" dy="0.36em" font-size="13.8" text-anchor="end" fill="#444444">E13.5</text>
<text transform="translate(579.05,1433.55) rotate(-90)" x="0" y="0" dy="0.36em" font-size="13.8" text-anchor="end" fill="#444444">E15.5</text>
<text transform="translate(592.47,1433.55) rotate(-90)" x="0" y="0" dy="0.36em" font-size="13.8" text-anchor="end" fill="#444444">E17</text>
<text transform="translate(605.88,1433.55) rotate(-90)" x="0" y="0" dy="0.36em" font-size="13.8" text-anchor="end" fill="#444444">E18</text>
<text transform="translate(619.3,1433.55) rotate(-90)" x="0" y="0" dy="0.36em" font-size="13.8" text-anchor="end" fill="#444444">P0</text>
<text transform="translate(632.71,1433.55) rotate(-90)" x="0" y="0" dy="0.36em" font-size="13.8" text-anchor="end" fill="#444444">P2</text>
<text transform="translate(646.13,1433.55) rotate(-90)" x="0" y="0" dy="0.36em" font-size="13.8" text-anchor="end" fill="#444444">P4</text>
<text transform="translate(659.54,1433.55) rotate(-90)" x="0" y="0" dy="0.36em" font-size="13.8" text-anchor="end" fill="#444444">P6</text>
<text transform="translate(672.96,1433.55) rotate(-90)" x="0" y="0" dy="0.36em" font-size="13.8" text-anchor="end" fill="#444444">P8</text>
<text transform="translate(686.37,1433.55) rotate(-90)" x="0" y="0" dy="0.36em" font-size="13.8" text-anchor="end" fill="#444444">P10</text>
<text transform="translate(699.79,1433.55) rotate(-90)" x="0" y="0" dy="0.36em" font-size="13.8" text-anchor="end" fill="#444444">P12</text>
<text transform="translate(713.2,1433.55) rotate(-90)" x="0" y="0" dy="0.36em" font-size="13.8" text-anchor="end" fill="#444444">P14</text>
<text transform="translate(726.62,1433.55) rotate(-90)" x="0" y="0" dy="0.36em" font-size="13.8" text-anchor="end" fill="#444444">P16</text>
<text transform="translate(740.03,1433.55) rotate(-90)" x="0" y="0" dy="0.36em" font-size="13.8" text-anchor="end" fill="#444444">P19</text>
<text transform="translate(753.45,1433.55) rotate(-90)" x="0" y="0" dy="0.36em" font-size="13.8" text-anchor="end" fill="#444444">P21</text>
<text transform="translate(766.86,1433.55) rotate(-90)" x="0" y="0" dy="0.36em" font-size="13.8" text-anchor="end" fill="#444444">P25</text>
<text transform="translate(780.28,1433.55) rotate(-90)" x="0" y="0" dy="0.36em" font-size="13.8" text-anchor="end" fill="#444444">P56</text>
<path d="M795.52 1426.75v3.4M802.23 1426.75v3.4M808.94 1426.75v3.4M815.65 1426.75v3.4M822.35 1426.75v3.4M829.06 1426.75v3.4M835.77 1426.75v3.4M842.48 1426.75v3.4M849.18 1426.75v3.4M855.89 1426.75v3.4M862.6 1426.75v3.4M869.31 1426.75v3.4M876.01 1426.75v3.4M882.72 1426.75v3.4M889.43 1426.75v3.4M896.14 1426.75v3.4M902.84 1426.75v3.4M909.55 1426.75v3.4M916.26 1426.75v3.4M922.96 1426.75v3.4M929.67 1426.75v3.4M936.38 1426.75v3.4M943.09 1426.75v3.4M949.79 1426.75v3.4M956.5 1426.75v3.4M963.21 1426.75v3.4M969.92 1426.75v3.4M976.62 1426.75v3.4M983.33 1426.75v3.4M990.04 1426.75v3.4M996.75 1426.75v3.4M1003.45 1426.75v3.4M1010.16 1426.75v3.4M1016.87 1426.75v3.4M1023.58 1426.75v3.4" stroke="#333333" stroke-width="1.1"/>
<text transform="translate(795.52,1433.55) rotate(-90)" x="0" y="0" dy="0.36em" font-size="13.8" text-anchor="end" fill="#444444">E11.5</text>
<text transform="translate(808.94,1433.55) rotate(-90)" x="0" y="0" dy="0.36em" font-size="13.8" text-anchor="end" fill="#444444">E13.5</text>
<text transform="translate(822.35,1433.55) rotate(-90)" x="0" y="0" dy="0.36em" font-size="13.8" text-anchor="end" fill="#444444">E15.5</text>
<text transform="translate(835.77,1433.55) rotate(-90)" x="0" y="0" dy="0.36em" font-size="13.8" text-anchor="end" fill="#444444">E17</text>
<text transform="translate(849.18,1433.55) rotate(-90)" x="0" y="0" dy="0.36em" font-size="13.8" text-anchor="end" fill="#444444">E18</text>
<text transform="translate(862.6,1433.55) rotate(-90)" x="0" y="0" dy="0.36em" font-size="13.8" text-anchor="end" fill="#444444">P0</text>
<text transform="translate(876.01,1433.55) rotate(-90)" x="0" y="0" dy="0.36em" font-size="13.8" text-anchor="end" fill="#444444">P2</text>
<text transform="translate(889.43,1433.55) rotate(-90)" x="0" y="0" dy="0.36em" font-size="13.8" text-anchor="end" fill="#444444">P4</text>
<text transform="translate(902.84,1433.55) rotate(-90)" x="0" y="0" dy="0.36em" font-size="13.8" text-anchor="end" fill="#444444">P6</text>
<text transform="translate(916.26,1433.55) rotate(-90)" x="0" y="0" dy="0.36em" font-size="13.8" text-anchor="end" fill="#444444">P8</text>
<text transform="translate(929.67,1433.55) rotate(-90)" x="0" y="0" dy="0.36em" font-size="13.8" text-anchor="end" fill="#444444">P10</text>
<text transform="translate(943.09,1433.55) rotate(-90)" x="0" y="0" dy="0.36em" font-size="13.8" text-anchor="end" fill="#444444">P12</text>
<text transform="translate(956.5,1433.55) rotate(-90)" x="0" y="0" dy="0.36em" font-size="13.8" text-anchor="end" fill="#444444">P14</text>
<text transform="translate(969.92,1433.55) rotate(-90)" x="0" y="0" dy="0.36em" font-size="13.8" text-anchor="end" fill="#444444">P16</text>
<text transform="translate(983.33,1433.55) rotate(-90)" x="0" y="0" dy="0.36em" font-size="13.8" text-anchor="end" fill="#444444">P19</text>
<text transform="translate(996.75,1433.55) rotate(-90)" x="0" y="0" dy="0.36em" font-size="13.8" text-anchor="end" fill="#444444">P21</text>
<text transform="translate(1010.16,1433.55) rotate(-90)" x="0" y="0" dy="0.36em" font-size="13.8" text-anchor="end" fill="#444444">P25</text>
<text transform="translate(1023.58,1433.55) rotate(-90)" x="0" y="0" dy="0.36em" font-size="13.8" text-anchor="end" fill="#444444">P56</text>
<path d="M1038.82 1426.75v3.4M1045.53 1426.75v3.4M1052.24 1426.75v3.4M1058.95 1426.75v3.4M1065.65 1426.75v3.4M1072.36 1426.75v3.4M1079.07 1426.75v3.4M1085.78 1426.75v3.4M1092.48 1426.75v3.4M1099.19 1426.75v3.4M1105.9 1426.75v3.4M1112.61 1426.75v3.4M1119.31 1426.75v3.4M1126.02 1426.75v3.4M1132.73 1426.75v3.4M1139.44 1426.75v3.4M1146.14 1426.75v3.4M1152.85 1426.75v3.4M1159.56 1426.75v3.4M1166.26 1426.75v3.4M1172.97 1426.75v3.4M1179.68 1426.75v3.4M1186.39 1426.75v3.4M1193.09 1426.75v3.4M1199.8 1426.75v3.4M1206.51 1426.75v3.4M1213.22 1426.75v3.4M1219.92 1426.75v3.4M1226.63 1426.75v3.4M1233.34 1426.75v3.4M1240.05 1426.75v3.4M1246.75 1426.75v3.4M1253.46 1426.75v3.4M1260.17 1426.75v3.4M1266.88 1426.75v3.4" stroke="#333333" stroke-width="1.1"/>
<text transform="translate(1038.82,1433.55) rotate(-90)" x="0" y="0" dy="0.36em" font-size="13.8" text-anchor="end" fill="#444444">E11.5</text>
<text transform="translate(1052.24,1433.55) rotate(-90)" x="0" y="0" dy="0.36em" font-size="13.8" text-anchor="end" fill="#444444">E13.5</text>
<text transform="translate(1065.65,1433.55) rotate(-90)" x="0" y="0" dy="0.36em" font-size="13.8" text-anchor="end" fill="#444444">E15.5</text>
<text transform="translate(1079.07,1433.55) rotate(-90)" x="0" y="0" dy="0.36em" font-size="13.8" text-anchor="end" fill="#444444">E17</text>
<text transform="translate(1092.48,1433.55) rotate(-90)" x="0" y="0" dy="0.36em" font-size="13.8" text-anchor="end" fill="#444444">E18</text>
<text transform="translate(1105.9,1433.55) rotate(-90)" x="0" y="0" dy="0.36em" font-size="13.8" text-anchor="end" fill="#444444">P0</text>
<text transform="translate(1119.31,1433.55) rotate(-90)" x="0" y="0" dy="0.36em" font-size="13.8" text-anchor="end" fill="#444444">P2</text>
<text transform="translate(1132.73,1433.55) rotate(-90)" x="0" y="0" dy="0.36em" font-size="13.8" text-anchor="end" fill="#444444">P4</text>
<text transform="translate(1146.14,1433.55) rotate(-90)" x="0" y="0" dy="0.36em" font-size="13.8" text-anchor="end" fill="#444444">P6</text>
<text transform="translate(1159.56,1433.55) rotate(-90)" x="0" y="0" dy="0.36em" font-size="13.8" text-anchor="end" fill="#444444">P8</text>
<text transform="translate(1172.97,1433.55) rotate(-90)" x="0" y="0" dy="0.36em" font-size="13.8" text-anchor="end" fill="#444444">P10</text>
<text transform="translate(1186.39,1433.55) rotate(-90)" x="0" y="0" dy="0.36em" font-size="13.8" text-anchor="end" fill="#444444">P12</text>
<text transform="translate(1199.8,1433.55) rotate(-90)" x="0" y="0" dy="0.36em" font-size="13.8" text-anchor="end" fill="#444444">P14</text>
<text transform="translate(1213.22,1433.55) rotate(-90)" x="0" y="0" dy="0.36em" font-size="13.8" text-anchor="end" fill="#444444">P16</text>
<text transform="translate(1226.63,1433.55) rotate(-90)" x="0" y="0" dy="0.36em" font-size="13.8" text-anchor="end" fill="#444444">P19</text>
<text transform="translate(1240.05,1433.55) rotate(-90)" x="0" y="0" dy="0.36em" font-size="13.8" text-anchor="end" fill="#444444">P21</text>
<text transform="translate(1253.46,1433.55) rotate(-90)" x="0" y="0" dy="0.36em" font-size="13.8" text-anchor="end" fill="#444444">P25</text>
<text transform="translate(1266.88,1433.55) rotate(-90)" x="0" y="0" dy="0.36em" font-size="13.8" text-anchor="end" fill="#444444">P56</text>
<path d="M1282.12 1426.75v3.4M1288.83 1426.75v3.4M1295.54 1426.75v3.4M1302.25 1426.75v3.4M1308.95 1426.75v3.4M1315.66 1426.75v3.4M1322.37 1426.75v3.4M1329.08 1426.75v3.4M1335.78 1426.75v3.4M1342.49 1426.75v3.4M1349.2 1426.75v3.4M1355.91 1426.75v3.4M1362.61 1426.75v3.4M1369.32 1426.75v3.4M1376.03 1426.75v3.4M1382.74 1426.75v3.4M1389.44 1426.75v3.4M1396.15 1426.75v3.4M1402.86 1426.75v3.4M1409.56 1426.75v3.4M1416.27 1426.75v3.4M1422.98 1426.75v3.4M1429.69 1426.75v3.4M1436.39 1426.75v3.4M1443.1 1426.75v3.4M1449.81 1426.75v3.4M1456.52 1426.75v3.4M1463.22 1426.75v3.4M1469.93 1426.75v3.4M1476.64 1426.75v3.4M1483.35 1426.75v3.4M1490.05 1426.75v3.4M1496.76 1426.75v3.4M1503.47 1426.75v3.4M1510.18 1426.75v3.4" stroke="#333333" stroke-width="1.1"/>
<text transform="translate(1282.12,1433.55) rotate(-90)" x="0" y="0" dy="0.36em" font-size="13.8" text-anchor="end" fill="#444444">E11.5</text>
<text transform="translate(1295.54,1433.55) rotate(-90)" x="0" y="0" dy="0.36em" font-size="13.8" text-anchor="end" fill="#444444">E13.5</text>
<text transform="translate(1308.95,1433.55) rotate(-90)" x="0" y="0" dy="0.36em" font-size="13.8" text-anchor="end" fill="#444444">E15.5</text>
<text transform="translate(1322.37,1433.55) rotate(-90)" x="0" y="0" dy="0.36em" font-size="13.8" text-anchor="end" fill="#444444">E17</text>
<text transform="translate(1335.78,1433.55) rotate(-90)" x="0" y="0" dy="0.36em" font-size="13.8" text-anchor="end" fill="#444444">E18</text>
<text transform="translate(1349.2,1433.55) rotate(-90)" x="0" y="0" dy="0.36em" font-size="13.8" text-anchor="end" fill="#444444">P0</text>
<text transform="translate(1362.61,1433.55) rotate(-90)" x="0" y="0" dy="0.36em" font-size="13.8" text-anchor="end" fill="#444444">P2</text>
<text transform="translate(1376.03,1433.55) rotate(-90)" x="0" y="0" dy="0.36em" font-size="13.8" text-anchor="end" fill="#444444">P4</text>
<text transform="translate(1389.44,1433.55) rotate(-90)" x="0" y="0" dy="0.36em" font-size="13.8" text-anchor="end" fill="#444444">P6</text>
<text transform="translate(1402.86,1433.55) rotate(-90)" x="0" y="0" dy="0.36em" font-size="13.8" text-anchor="end" fill="#444444">P8</text>
<text transform="translate(1416.27,1433.55) rotate(-90)" x="0" y="0" dy="0.36em" font-size="13.8" text-anchor="end" fill="#444444">P10</text>
<text transform="translate(1429.69,1433.55) rotate(-90)" x="0" y="0" dy="0.36em" font-size="13.8" text-anchor="end" fill="#444444">P12</text>
<text transform="translate(1443.1,1433.55) rotate(-90)" x="0" y="0" dy="0.36em" font-size="13.8" text-anchor="end" fill="#444444">P14</text>
<text transform="translate(1456.52,1433.55) rotate(-90)" x="0" y="0" dy="0.36em" font-size="13.8" text-anchor="end" fill="#444444">P16</text>
<text transform="translate(1469.93,1433.55) rotate(-90)" x="0" y="0" dy="0.36em" font-size="13.8" text-anchor="end" fill="#444444">P19</text>
<text transform="translate(1483.35,1433.55) rotate(-90)" x="0" y="0" dy="0.36em" font-size="13.8" text-anchor="end" fill="#444444">P21</text>
<text transform="translate(1496.76,1433.55) rotate(-90)" x="0" y="0" dy="0.36em" font-size="13.8" text-anchor="end" fill="#444444">P25</text>
<text transform="translate(1510.18,1433.55) rotate(-90)" x="0" y="0" dy="0.36em" font-size="13.8" text-anchor="end" fill="#444444">P56</text>
<path d="M1525.42 1426.75v3.4M1532.13 1426.75v3.4M1538.84 1426.75v3.4M1545.55 1426.75v3.4M1552.25 1426.75v3.4M1558.96 1426.75v3.4M1565.67 1426.75v3.4M1572.38 1426.75v3.4M1579.08 1426.75v3.4M1585.79 1426.75v3.4M1592.5 1426.75v3.4M1599.21 1426.75v3.4M1605.91 1426.75v3.4M1612.62 1426.75v3.4M1619.33 1426.75v3.4M1626.04 1426.75v3.4M1632.74 1426.75v3.4M1639.45 1426.75v3.4M1646.16 1426.75v3.4M1652.86 1426.75v3.4M1659.57 1426.75v3.4M1666.28 1426.75v3.4M1672.99 1426.75v3.4M1679.69 1426.75v3.4M1686.4 1426.75v3.4M1693.11 1426.75v3.4M1699.82 1426.75v3.4M1706.52 1426.75v3.4M1713.23 1426.75v3.4M1719.94 1426.75v3.4M1726.65 1426.75v3.4M1733.35 1426.75v3.4M1740.06 1426.75v3.4M1746.77 1426.75v3.4M1753.48 1426.75v3.4" stroke="#333333" stroke-width="1.1"/>
<text transform="translate(1525.42,1433.55) rotate(-90)" x="0" y="0" dy="0.36em" font-size="13.8" text-anchor="end" fill="#444444">E11.5</text>
<text transform="translate(1538.84,1433.55) rotate(-90)" x="0" y="0" dy="0.36em" font-size="13.8" text-anchor="end" fill="#444444">E13.5</text>
<text transform="translate(1552.25,1433.55) rotate(-90)" x="0" y="0" dy="0.36em" font-size="13.8" text-anchor="end" fill="#444444">E15.5</text>
<text transform="translate(1565.67,1433.55) rotate(-90)" x="0" y="0" dy="0.36em" font-size="13.8" text-anchor="end" fill="#444444">E17</text>
<text transform="translate(1579.08,1433.55) rotate(-90)" x="0" y="0" dy="0.36em" font-size="13.8" text-anchor="end" fill="#444444">E18</text>
<text transform="translate(1592.5,1433.55) rotate(-90)" x="0" y="0" dy="0.36em" font-size="13.8" text-anchor="end" fill="#444444">P0</text>
<text transform="translate(1605.91,1433.55) rotate(-90)" x="0" y="0" dy="0.36em" font-size="13.8" text-anchor="end" fill="#444444">P2</text>
<text transform="translate(1619.33,1433.55) rotate(-90)" x="0" y="0" dy="0.36em" font-size="13.8" text-anchor="end" fill="#444444">P4</text>
<text transform="translate(1632.74,1433.55) rotate(-90)" x="0" y="0" dy="0.36em" font-size="13.8" text-anchor="end" fill="#444444">P6</text>
<text transform="translate(1646.16,1433.55) rotate(-90)" x="0" y="0" dy="0.36em" font-size="13.8" text-anchor="end" fill="#444444">P8</text>
<text transform="translate(1659.57,1433.55) rotate(-90)" x="0" y="0" dy="0.36em" font-size="13.8" text-anchor="end" fill="#444444">P10</text>
<text transform="translate(1672.99,1433.55) rotate(-90)" x="0" y="0" dy="0.36em" font-size="13.8" text-anchor="end" fill="#444444">P12</text>
<text transform="translate(1686.4,1433.55) rotate(-90)" x="0" y="0" dy="0.36em" font-size="13.8" text-anchor="end" fill="#444444">P14</text>
<text transform="translate(1699.82,1433.55) rotate(-90)" x="0" y="0" dy="0.36em" font-size="13.8" text-anchor="end" fill="#444444">P16</text>
<text transform="translate(1713.23,1433.55) rotate(-90)" x="0" y="0" dy="0.36em" font-size="13.8" text-anchor="end" fill="#444444">P19</text>
<text transform="translate(1726.65,1433.55) rotate(-90)" x="0" y="0" dy="0.36em" font-size="13.8" text-anchor="end" fill="#444444">P21</text>
<text transform="translate(1740.06,1433.55) rotate(-90)" x="0" y="0" dy="0.36em" font-size="13.8" text-anchor="end" fill="#444444">P25</text>
<text transform="translate(1753.48,1433.55) rotate(-90)" x="0" y="0" dy="0.36em" font-size="13.8" text-anchor="end" fill="#444444">P56</text>
<path d="M1768.72 1263.5v3.4M1775.43 1263.5v3.4M1782.14 1263.5v3.4M1788.85 1263.5v3.4M1795.55 1263.5v3.4M1802.26 1263.5v3.4M1808.97 1263.5v3.4M1815.68 1263.5v3.4M1822.38 1263.5v3.4M1829.09 1263.5v3.4M1835.8 1263.5v3.4M1842.51 1263.5v3.4M1849.21 1263.5v3.4M1855.92 1263.5v3.4M1862.63 1263.5v3.4M1869.34 1263.5v3.4M1876.04 1263.5v3.4M1882.75 1263.5v3.4M1889.46 1263.5v3.4M1896.16 1263.5v3.4M1902.87 1263.5v3.4M1909.58 1263.5v3.4M1916.29 1263.5v3.4M1922.99 1263.5v3.4M1929.7 1263.5v3.4M1936.41 1263.5v3.4M1943.12 1263.5v3.4M1949.82 1263.5v3.4M1956.53 1263.5v3.4M1963.24 1263.5v3.4M1969.95 1263.5v3.4M1976.65 1263.5v3.4M1983.36 1263.5v3.4M1990.07 1263.5v3.4M1996.78 1263.5v3.4" stroke="#333333" stroke-width="1.1"/>
<text transform="translate(1768.72,1270.3) rotate(-90)" x="0" y="0" dy="0.36em" font-size="13.8" text-anchor="end" fill="#444444">E11.5</text>
<text transform="translate(1782.14,1270.3) rotate(-90)" x="0" y="0" dy="0.36em" font-size="13.8" text-anchor="end" fill="#444444">E13.5</text>
<text transform="translate(1795.55,1270.3) rotate(-90)" x="0" y="0" dy="0.36em" font-size="13.8" text-anchor="end" fill="#444444">E15.5</text>
<text transform="translate(1808.97,1270.3) rotate(-90)" x="0" y="0" dy="0.36em" font-size="13.8" text-anchor="end" fill="#444444">E17</text>
<text transform="translate(1822.38,1270.3) rotate(-90)" x="0" y="0" dy="0.36em" font-size="13.8" text-anchor="end" fill="#444444">E18</text>
<text transform="translate(1835.8,1270.3) rotate(-90)" x="0" y="0" dy="0.36em" font-size="13.8" text-anchor="end" fill="#444444">P0</text>
<text transform="translate(1849.21,1270.3) rotate(-90)" x="0" y="0" dy="0.36em" font-size="13.8" text-anchor="end" fill="#444444">P2</text>
<text transform="translate(1862.63,1270.3) rotate(-90)" x="0" y="0" dy="0.36em" font-size="13.8" text-anchor="end" fill="#444444">P4</text>
<text transform="translate(1876.04,1270.3) rotate(-90)" x="0" y="0" dy="0.36em" font-size="13.8" text-anchor="end" fill="#444444">P6</text>
<text transform="translate(1889.46,1270.3) rotate(-90)" x="0" y="0" dy="0.36em" font-size="13.8" text-anchor="end" fill="#444444">P8</text>
<text transform="translate(1902.87,1270.3) rotate(-90)" x="0" y="0" dy="0.36em" font-size="13.8" text-anchor="end" fill="#444444">P10</text>
<text transform="translate(1916.29,1270.3) rotate(-90)" x="0" y="0" dy="0.36em" font-size="13.8" text-anchor="end" fill="#444444">P12</text>
<text transform="translate(1929.7,1270.3) rotate(-90)" x="0" y="0" dy="0.36em" font-size="13.8" text-anchor="end" fill="#444444">P14</text>
<text transform="translate(1943.12,1270.3) rotate(-90)" x="0" y="0" dy="0.36em" font-size="13.8" text-anchor="end" fill="#444444">P16</text>
<text transform="translate(1956.53,1270.3) rotate(-90)" x="0" y="0" dy="0.36em" font-size="13.8" text-anchor="end" fill="#444444">P19</text>
<text transform="translate(1969.95,1270.3) rotate(-90)" x="0" y="0" dy="0.36em" font-size="13.8" text-anchor="end" fill="#444444">P21</text>
<text transform="translate(1983.36,1270.3) rotate(-90)" x="0" y="0" dy="0.36em" font-size="13.8" text-anchor="end" fill="#444444">P25</text>
<text transform="translate(1996.78,1270.3) rotate(-90)" x="0" y="0" dy="0.36em" font-size="13.8" text-anchor="end" fill="#444444">P56</text>
<line x1="58.2" x2="61.6" y1="1258" y2="1258" stroke="#333333" stroke-width="1.1"/>
<text x="57.8" y="1261.96" font-size="11.15" text-anchor="end" font-weight="normal" fill="#444444">0</text>
<line x1="58.2" x2="61.6" y1="1233.32" y2="1233.32" stroke="#333333" stroke-width="1.1"/>
<text x="57.8" y="1237.28" font-size="11.15" text-anchor="end" font-weight="normal" fill="#444444">2500</text>
<line x1="58.2" x2="61.6" y1="1208.64" y2="1208.64" stroke="#333333" stroke-width="1.1"/>
<text x="57.8" y="1212.6" font-size="11.15" text-anchor="end" font-weight="normal" fill="#444444">5000</text>
<line x1="58.2" x2="61.6" y1="1183.96" y2="1183.96" stroke="#333333" stroke-width="1.1"/>
<text x="57.8" y="1187.92" font-size="11.15" text-anchor="end" font-weight="normal" fill="#444444">7500</text>
<line x1="58.2" x2="61.6" y1="1159.28" y2="1159.28" stroke="#333333" stroke-width="1.1"/>
<text x="57.8" y="1163.24" font-size="11.15" text-anchor="end" font-weight="normal" fill="#444444">10000</text>
<line x1="58.2" x2="61.6" y1="1134.6" y2="1134.6" stroke="#333333" stroke-width="1.1"/>
<text x="57.8" y="1138.56" font-size="11.15" text-anchor="end" font-weight="normal" fill="#444444">12500</text>
<line x1="58.2" x2="61.6" y1="1421.25" y2="1421.25" stroke="#333333" stroke-width="1.1"/>
<text x="57.8" y="1425.21" font-size="11.15" text-anchor="end" font-weight="normal" fill="#444444">0</text>
<line x1="58.2" x2="61.6" y1="1396.57" y2="1396.57" stroke="#333333" stroke-width="1.1"/>
<text x="57.8" y="1400.53" font-size="11.15" text-anchor="end" font-weight="normal" fill="#444444">2500</text>
<line x1="58.2" x2="61.6" y1="1371.89" y2="1371.89" stroke="#333333" stroke-width="1.1"/>
<text x="57.8" y="1375.85" font-size="11.15" text-anchor="end" font-weight="normal" fill="#444444">5000</text>
<line x1="58.2" x2="61.6" y1="1347.21" y2="1347.21" stroke="#333333" stroke-width="1.1"/>
<text x="57.8" y="1351.17" font-size="11.15" text-anchor="end" font-weight="normal" fill="#444444">7500</text>
<line x1="58.2" x2="61.6" y1="1322.53" y2="1322.53" stroke="#333333" stroke-width="1.1"/>
<text x="57.8" y="1326.49" font-size="11.15" text-anchor="end" font-weight="normal" fill="#444444">10000</text>
<line x1="58.2" x2="61.6" y1="1297.85" y2="1297.85" stroke="#333333" stroke-width="1.1"/>
<text x="57.8" y="1301.81" font-size="11.15" text-anchor="end" font-weight="normal" fill="#444444">12500</text>
<text transform="translate(14,1279.5) rotate(-90)" x="0" y="0" dy="0.36em" font-size="16.9" text-anchor="middle" fill="#000">Gene count</text>
<text x="4.5" y="1516" font-size="38" text-anchor="start" font-weight="bold" fill="#000">f</text>
<text x="62.7" y="1515.7" font-size="20.6" text-anchor="start" font-weight="normal" fill="#000">10xv3 QC score</text>
<rect x="61.6" y="1551.75" width="236.1" height="130" fill="#fff"/>
<path d="M61.6 1656.95h236.1M61.6 1617.37h236.1M61.6 1577.79h236.1" stroke="#F4F4F4" stroke-width="0.7"/>
<path d="M61.6 1676.74h236.1M61.6 1637.16h236.1M61.6 1597.58h236.1M61.6 1558h236.1M65.62 1551.75v130M72.33 1551.75v130M79.04 1551.75v130M85.75 1551.75v130M92.45 1551.75v130M99.16 1551.75v130M105.87 1551.75v130M112.58 1551.75v130M119.28 1551.75v130M125.99 1551.75v130M132.7 1551.75v130M139.41 1551.75v130M146.11 1551.75v130M152.82 1551.75v130M159.53 1551.75v130M166.24 1551.75v130M172.94 1551.75v130M179.65 1551.75v130M186.36 1551.75v130M193.06 1551.75v130M199.77 1551.75v130M206.48 1551.75v130M213.19 1551.75v130M219.89 1551.75v130M226.6 1551.75v130M233.31 1551.75v130M240.02 1551.75v130M246.72 1551.75v130M253.43 1551.75v130M260.14 1551.75v130M266.85 1551.75v130M273.55 1551.75v130M280.26 1551.75v130M286.97 1551.75v130M293.68 1551.75v130" stroke="#EBEBEB" stroke-width="1.1"/>
<rect x="62.15" y="1526.8" width="235" height="24.95" fill="#D9D9D9" stroke="#555" stroke-width="1.1"/>
<text x="179.65" y="1544.68" font-size="16" text-anchor="middle" font-weight="normal" fill="#1A1A1A">NEC</text>
<rect x="304.9" y="1551.75" width="236.1" height="130" fill="#fff"/>
<path d="M304.9 1656.95h236.1M304.9 1617.37h236.1M304.9 1577.79h236.1" stroke="#F4F4F4" stroke-width="0.7"/>
<path d="M304.9 1676.74h236.1M304.9 1637.16h236.1M304.9 1597.58h236.1M304.9 1558h236.1M308.92 1551.75v130M315.63 1551.75v130M322.34 1551.75v130M329.05 1551.75v130M335.75 1551.75v130M342.46 1551.75v130M349.17 1551.75v130M355.88 1551.75v130M362.58 1551.75v130M369.29 1551.75v130M376 1551.75v130M382.71 1551.75v130M389.41 1551.75v130M396.12 1551.75v130M402.83 1551.75v130M409.54 1551.75v130M416.24 1551.75v130M422.95 1551.75v130M429.66 1551.75v130M436.36 1551.75v130M443.07 1551.75v130M449.78 1551.75v130M456.49 1551.75v130M463.19 1551.75v130M469.9 1551.75v130M476.61 1551.75v130M483.32 1551.75v130M490.02 1551.75v130M496.73 1551.75v130M503.44 1551.75v130M510.15 1551.75v130M516.85 1551.75v130M523.56 1551.75v130M530.27 1551.75v130M536.98 1551.75v130" stroke="#EBEBEB" stroke-width="1.1"/>
<rect x="305.45" y="1526.8" width="235" height="24.95" fill="#D9D9D9" stroke="#555" stroke-width="1.1"/>
<text x="422.95" y="1544.68" font-size="16" text-anchor="middle" font-weight="normal" fill="#1A1A1A">CR Glut</text>
<rect x="548.2" y="1551.75" width="236.1" height="130" fill="#fff"/>
<path d="M548.2 1656.95h236.1M548.2 1617.37h236.1M548.2 1577.79h236.1" stroke="#F4F4F4" stroke-width="0.7"/>
<path d="M548.2 1676.74h236.1M548.2 1637.16h236.1M548.2 1597.58h236.1M548.2 1558h236.1M552.22 1551.75v130M558.93 1551.75v130M565.64 1551.75v130M572.35 1551.75v130M579.05 1551.75v130M585.76 1551.75v130M592.47 1551.75v130M599.18 1551.75v130M605.88 1551.75v130M612.59 1551.75v130M619.3 1551.75v130M626.01 1551.75v130M632.71 1551.75v130M639.42 1551.75v130M646.13 1551.75v130M652.84 1551.75v130M659.54 1551.75v130M666.25 1551.75v130M672.96 1551.75v130M679.66 1551.75v130M686.37 1551.75v130M693.08 1551.75v130M699.79 1551.75v130M706.49 1551.75v130M713.2 1551.75v130M719.91 1551.75v130M726.62 1551.75v130M733.32 1551.75v130M740.03 1551.75v130M746.74 1551.75v130M753.45 1551.75v130M760.15 1551.75v130M766.86 1551.75v130M773.57 1551.75v130M780.28 1551.75v130" stroke="#EBEBEB" stroke-width="1.1"/>
<rect x="548.75" y="1526.8" width="235" height="24.95" fill="#D9D9D9" stroke="#555" stroke-width="1.1"/>
<text x="666.25" y="1544.68" font-size="16" text-anchor="middle" font-weight="normal" fill="#1A1A1A">RG</text>
<rect x="791.5" y="1551.75" width="236.1" height="130" fill="#fff"/>
<path d="M791.5 1656.95h236.1M791.5 1617.37h236.1M791.5 1577.79h236.1" stroke="#F4F4F4" stroke-width="0.7"/>
<path d="M791.5 1676.74h236.1M791.5 1637.16h236.1M791.5 1597.58h236.1M791.5 1558h236.1M795.52 1551.75v130M802.23 1551.75v130M808.94 1551.75v130M815.65 1551.75v130M822.35 1551.75v130M829.06 1551.75v130M835.77 1551.75v130M842.48 1551.75v130M849.18 1551.75v130M855.89 1551.75v130M862.6 1551.75v130M869.31 1551.75v130M876.01 1551.75v130M882.72 1551.75v130M889.43 1551.75v130M896.14 1551.75v130M902.84 1551.75v130M909.55 1551.75v130M916.26 1551.75v130M922.96 1551.75v130M929.67 1551.75v130M936.38 1551.75v130M943.09 1551.75v130M949.79 1551.75v130M956.5 1551.75v130M963.21 1551.75v130M969.92 1551.75v130M976.62 1551.75v130M983.33 1551.75v130M990.04 1551.75v130M996.75 1551.75v130M1003.45 1551.75v130M1010.16 1551.75v130M1016.87 1551.75v130M1023.58 1551.75v130" stroke="#EBEBEB" stroke-width="1.1"/>
<rect x="792.05" y="1526.8" width="235" height="24.95" fill="#D9D9D9" stroke="#555" stroke-width="1.1"/>
<text x="909.55" y="1544.68" font-size="16" text-anchor="middle" font-weight="normal" fill="#1A1A1A">IP</text>
<rect x="1034.8" y="1551.75" width="236.1" height="130" fill="#fff"/>
<path d="M1034.8 1656.95h236.1M1034.8 1617.37h236.1M1034.8 1577.79h236.1" stroke="#F4F4F4" stroke-width="0.7"/>
<path d="M1034.8 1676.74h236.1M1034.8 1637.16h236.1M1034.8 1597.58h236.1M1034.8 1558h236.1M1038.82 1551.75v130M1045.53 1551.75v130M1052.24 1551.75v130M1058.95 1551.75v130M1065.65 1551.75v130M1072.36 1551.75v130M1079.07 1551.75v130M1085.78 1551.75v130M1092.48 1551.75v130M1099.19 1551.75v130M1105.9 1551.75v130M1112.61 1551.75v130M1119.31 1551.75v130M1126.02 1551.75v130M1132.73 1551.75v130M1139.44 1551.75v130M1146.14 1551.75v130M1152.85 1551.75v130M1159.56 1551.75v130M1166.26 1551.75v130M1172.97 1551.75v130M1179.68 1551.75v130M1186.39 1551.75v130M1193.09 1551.75v130M1199.8 1551.75v130M1206.51 1551.75v130M1213.22 1551.75v130M1219.92 1551.75v130M1226.63 1551.75v130M1233.34 1551.75v130M1240.05 1551.75v130M1246.75 1551.75v130M1253.46 1551.75v130M1260.17 1551.75v130M1266.88 1551.75v130" stroke="#EBEBEB" stroke-width="1.1"/>
<rect x="1035.35" y="1526.8" width="235" height="24.95" fill="#D9D9D9" stroke="#555" stroke-width="1.1"/>
<text x="1152.85" y="1544.68" font-size="16" text-anchor="middle" font-weight="normal" fill="#1A1A1A">IMN</text>
<rect x="1278.1" y="1551.75" width="236.1" height="130" fill="#fff"/>
<path d="M1278.1 1656.95h236.1M1278.1 1617.37h236.1M1278.1 1577.79h236.1" stroke="#F4F4F4" stroke-width="0.7"/>
<path d="M1278.1 1676.74h236.1M1278.1 1637.16h236.1M1278.1 1597.58h236.1M1278.1 1558h236.1M1282.12 1551.75v130M1288.83 1551.75v130M1295.54 1551.75v130M1302.25 1551.75v130M1308.95 1551.75v130M1315.66 1551.75v130M1322.37 1551.75v130M1329.08 1551.75v130M1335.78 1551.75v130M1342.49 1551.75v130M1349.2 1551.75v130M1355.91 1551.75v130M1362.61 1551.75v130M1369.32 1551.75v130M1376.03 1551.75v130M1382.74 1551.75v130M1389.44 1551.75v130M1396.15 1551.75v130M1402.86 1551.75v130M1409.56 1551.75v130M1416.27 1551.75v130M1422.98 1551.75v130M1429.69 1551.75v130M1436.39 1551.75v130M1443.1 1551.75v130M1449.81 1551.75v130M1456.52 1551.75v130M1463.22 1551.75v130M1469.93 1551.75v130M1476.64 1551.75v130M1483.35 1551.75v130M1490.05 1551.75v130M1496.76 1551.75v130M1503.47 1551.75v130M1510.18 1551.75v130" stroke="#EBEBEB" stroke-width="1.1"/>
<rect x="1278.65" y="1526.8" width="235" height="24.95" fill="#D9D9D9" stroke="#555" stroke-width="1.1"/>
<text x="1396.15" y="1544.68" font-size="16" text-anchor="middle" font-weight="normal" fill="#1A1A1A">nonIT Glut</text>
<rect x="1521.4" y="1551.75" width="236.1" height="130" fill="#fff"/>
<path d="M1521.4 1656.95h236.1M1521.4 1617.37h236.1M1521.4 1577.79h236.1" stroke="#F4F4F4" stroke-width="0.7"/>
<path d="M1521.4 1676.74h236.1M1521.4 1637.16h236.1M1521.4 1597.58h236.1M1521.4 1558h236.1M1525.42 1551.75v130M1532.13 1551.75v130M1538.84 1551.75v130M1545.55 1551.75v130M1552.25 1551.75v130M1558.96 1551.75v130M1565.67 1551.75v130M1572.38 1551.75v130M1579.08 1551.75v130M1585.79 1551.75v130M1592.5 1551.75v130M1599.21 1551.75v130M1605.91 1551.75v130M1612.62 1551.75v130M1619.33 1551.75v130M1626.04 1551.75v130M1632.74 1551.75v130M1639.45 1551.75v130M1646.16 1551.75v130M1652.86 1551.75v130M1659.57 1551.75v130M1666.28 1551.75v130M1672.99 1551.75v130M1679.69 1551.75v130M1686.4 1551.75v130M1693.11 1551.75v130M1699.82 1551.75v130M1706.52 1551.75v130M1713.23 1551.75v130M1719.94 1551.75v130M1726.65 1551.75v130M1733.35 1551.75v130M1740.06 1551.75v130M1746.77 1551.75v130M1753.48 1551.75v130" stroke="#EBEBEB" stroke-width="1.1"/>
<rect x="1521.95" y="1526.8" width="235" height="24.95" fill="#D9D9D9" stroke="#555" stroke-width="1.1"/>
<text x="1639.45" y="1544.68" font-size="16" text-anchor="middle" font-weight="normal" fill="#1A1A1A">IT Glut</text>
<rect x="1764.7" y="1551.75" width="236.1" height="130" fill="#fff"/>
<path d="M1764.7 1656.95h236.1M1764.7 1617.37h236.1M1764.7 1577.79h236.1" stroke="#F4F4F4" stroke-width="0.7"/>
<path d="M1764.7 1676.74h236.1M1764.7 1637.16h236.1M1764.7 1597.58h236.1M1764.7 1558h236.1M1768.72 1551.75v130M1775.43 1551.75v130M1782.14 1551.75v130M1788.85 1551.75v130M1795.55 1551.75v130M1802.26 1551.75v130M1808.97 1551.75v130M1815.68 1551.75v130M1822.38 1551.75v130M1829.09 1551.75v130M1835.8 1551.75v130M1842.51 1551.75v130M1849.21 1551.75v130M1855.92 1551.75v130M1862.63 1551.75v130M1869.34 1551.75v130M1876.04 1551.75v130M1882.75 1551.75v130M1889.46 1551.75v130M1896.16 1551.75v130M1902.87 1551.75v130M1909.58 1551.75v130M1916.29 1551.75v130M1922.99 1551.75v130M1929.7 1551.75v130M1936.41 1551.75v130M1943.12 1551.75v130M1949.82 1551.75v130M1956.53 1551.75v130M1963.24 1551.75v130M1969.95 1551.75v130M1976.65 1551.75v130M1983.36 1551.75v130M1990.07 1551.75v130M1996.78 1551.75v130" stroke="#EBEBEB" stroke-width="1.1"/>
<rect x="1765.25" y="1526.8" width="235" height="24.95" fill="#D9D9D9" stroke="#555" stroke-width="1.1"/>
<text x="1882.75" y="1544.68" font-size="16" text-anchor="middle" font-weight="normal" fill="#1A1A1A">Glioblast</text>
<rect x="61.6" y="1714.25" width="236.1" height="130" fill="#fff"/>
<path d="M61.6 1819.45h236.1M61.6 1779.87h236.1M61.6 1740.29h236.1" stroke="#F4F4F4" stroke-width="0.7"/>
<path d="M61.6 1839.24h236.1M61.6 1799.66h236.1M61.6 1760.08h236.1M61.6 1720.5h236.1M65.62 1714.25v130M72.33 1714.25v130M79.04 1714.25v130M85.75 1714.25v130M92.45 1714.25v130M99.16 1714.25v130M105.87 1714.25v130M112.58 1714.25v130M119.28 1714.25v130M125.99 1714.25v130M132.7 1714.25v130M139.41 1714.25v130M146.11 1714.25v130M152.82 1714.25v130M159.53 1714.25v130M166.24 1714.25v130M172.94 1714.25v130M179.65 1714.25v130M186.36 1714.25v130M193.06 1714.25v130M199.77 1714.25v130M206.48 1714.25v130M213.19 1714.25v130M219.89 1714.25v130M226.6 1714.25v130M233.31 1714.25v130M240.02 1714.25v130M246.72 1714.25v130M253.43 1714.25v130M260.14 1714.25v130M266.85 1714.25v130M273.55 1714.25v130M280.26 1714.25v130M286.97 1714.25v130M293.68 1714.25v130" stroke="#EBEBEB" stroke-width="1.1"/>
<rect x="62.15" y="1689.3" width="235" height="24.95" fill="#D9D9D9" stroke="#555" stroke-width="1.1"/>
<text x="179.65" y="1707.18" font-size="16" text-anchor="middle" font-weight="normal" fill="#1A1A1A">Astro−Epen</text>
<rect x="304.9" y="1714.25" width="236.1" height="130" fill="#fff"/>
<path d="M304.9 1819.45h236.1M304.9 1779.87h236.1M304.9 1740.29h236.1" stroke="#F4F4F4" stroke-width="0.7"/>
<path d="M304.9 1839.24h236.1M304.9 1799.66h236.1M304.9 1760.08h236.1M304.9 1720.5h236.1M308.92 1714.25v130M315.63 1714.25v130M322.34 1714.25v130M329.05 1714.25v130M335.75 1714.25v130M342.46 1714.25v130M349.17 1714.25v130M355.88 1714.25v130M362.58 1714.25v130M369.29 1714.25v130M376 1714.25v130M382.71 1714.25v130M389.41 1714.25v130M396.12 1714.25v130M402.83 1714.25v130M409.54 1714.25v130M416.24 1714.25v130M422.95 1714.25v130M429.66 1714.25v130M436.36 1714.25v130M443.07 1714.25v130M449.78 1714.25v130M456.49 1714.25v130M463.19 1714.25v130M469.9 1714.25v130M476.61 1714.25v130M483.32 1714.25v130M490.02 1714.25v130M496.73 1714.25v130M503.44 1714.25v130M510.15 1714.25v130M516.85 1714.25v130M523.56 1714.25v130M530.27 1714.25v130M536.98 1714.25v130" stroke="#EBEBEB" stroke-width="1.1"/>
<rect x="305.45" y="1689.3" width="235" height="24.95" fill="#D9D9D9" stroke="#555" stroke-width="1.1"/>
<text x="422.95" y="1707.18" font-size="16" text-anchor="middle" font-weight="normal" fill="#1A1A1A">OPC−Oligo</text>
<rect x="548.2" y="1714.25" width="236.1" height="130" fill="#fff"/>
<path d="M548.2 1819.45h236.1M548.2 1779.87h236.1M548.2 1740.29h236.1" stroke="#F4F4F4" stroke-width="0.7"/>
<path d="M548.2 1839.24h236.1M548.2 1799.66h236.1M548.2 1760.08h236.1M548.2 1720.5h236.1M552.22 1714.25v130M558.93 1714.25v130M565.64 1714.25v130M572.35 1714.25v130M579.05 1714.25v130M585.76 1714.25v130M592.47 1714.25v130M599.18 1714.25v130M605.88 1714.25v130M612.59 1714.25v130M619.3 1714.25v130M626.01 1714.25v130M632.71 1714.25v130M639.42 1714.25v130M646.13 1714.25v130M652.84 1714.25v130M659.54 1714.25v130M666.25 1714.25v130M672.96 1714.25v130M679.66 1714.25v130M686.37 1714.25v130M693.08 1714.25v130M699.79 1714.25v130M706.49 1714.25v130M713.2 1714.25v130M719.91 1714.25v130M726.62 1714.25v130M733.32 1714.25v130M740.03 1714.25v130M746.74 1714.25v130M753.45 1714.25v130M760.15 1714.25v130M766.86 1714.25v130M773.57 1714.25v130M780.28 1714.25v130" stroke="#EBEBEB" stroke-width="1.1"/>
<rect x="548.75" y="1689.3" width="235" height="24.95" fill="#D9D9D9" stroke="#555" stroke-width="1.1"/>
<text x="666.25" y="1707.18" font-size="16" text-anchor="middle" font-weight="normal" fill="#1A1A1A">CTX−CGE GABA</text>
<rect x="791.5" y="1714.25" width="236.1" height="130" fill="#fff"/>
<path d="M791.5 1819.45h236.1M791.5 1779.87h236.1M791.5 1740.29h236.1" stroke="#F4F4F4" stroke-width="0.7"/>
<path d="M791.5 1839.24h236.1M791.5 1799.66h236.1M791.5 1760.08h236.1M791.5 1720.5h236.1M795.52 1714.25v130M802.23 1714.25v130M808.94 1714.25v130M815.65 1714.25v130M822.35 1714.25v130M829.06 1714.25v130M835.77 1714.25v130M842.48 1714.25v130M849.18 1714.25v130M855.89 1714.25v130M862.6 1714.25v130M869.31 1714.25v130M876.01 1714.25v130M882.72 1714.25v130M889.43 1714.25v130M896.14 1714.25v130M902.84 1714.25v130M909.55 1714.25v130M916.26 1714.25v130M922.96 1714.25v130M929.67 1714.25v130M936.38 1714.25v130M943.09 1714.25v130M949.79 1714.25v130M956.5 1714.25v130M963.21 1714.25v130M969.92 1714.25v130M976.62 1714.25v130M983.33 1714.25v130M990.04 1714.25v130M996.75 1714.25v130M1003.45 1714.25v130M1010.16 1714.25v130M1016.87 1714.25v130M1023.58 1714.25v130" stroke="#EBEBEB" stroke-width="1.1"/>
<rect x="792.05" y="1689.3" width="235" height="24.95" fill="#D9D9D9" stroke="#555" stroke-width="1.1"/>
<text x="909.55" y="1707.18" font-size="16" text-anchor="middle" font-weight="normal" fill="#1A1A1A">CTX−MGE GABA</text>
<rect x="1034.8" y="1714.25" width="236.1" height="130" fill="#fff"/>
<path d="M1034.8 1819.45h236.1M1034.8 1779.87h236.1M1034.8 1740.29h236.1" stroke="#F4F4F4" stroke-width="0.7"/>
<path d="M1034.8 1839.24h236.1M1034.8 1799.66h236.1M1034.8 1760.08h236.1M1034.8 1720.5h236.1M1038.82 1714.25v130M1045.53 1714.25v130M1052.24 1714.25v130M1058.95 1714.25v130M1065.65 1714.25v130M1072.36 1714.25v130M1079.07 1714.25v130M1085.78 1714.25v130M1092.48 1714.25v130M1099.19 1714.25v130M1105.9 1714.25v130M1112.61 1714.25v130M1119.31 1714.25v130M1126.02 1714.25v130M1132.73 1714.25v130M1139.44 1714.25v130M1146.14 1714.25v130M1152.85 1714.25v130M1159.56 1714.25v130M1166.26 1714.25v130M1172.97 1714.25v130M1179.68 1714.25v130M1186.39 1714.25v130M1193.09 1714.25v130M1199.8 1714.25v130M1206.51 1714.25v130M1213.22 1714.25v130M1219.92 1714.25v130M1226.63 1714.25v130M1233.34 1714.25v130M1240.05 1714.25v130M1246.75 1714.25v130M1253.46 1714.25v130M1260.17 1714.25v130M1266.88 1714.25v130" stroke="#EBEBEB" stroke-width="1.1"/>
<rect x="1035.35" y="1689.3" width="235" height="24.95" fill="#D9D9D9" stroke="#555" stroke-width="1.1"/>
<text x="1152.85" y="1707.18" font-size="16" text-anchor="middle" font-weight="normal" fill="#1A1A1A">CNU−MGE GABA</text>
<rect x="1278.1" y="1714.25" width="236.1" height="130" fill="#fff"/>
<path d="M1278.1 1819.45h236.1M1278.1 1779.87h236.1M1278.1 1740.29h236.1" stroke="#F4F4F4" stroke-width="0.7"/>
<path d="M1278.1 1839.24h236.1M1278.1 1799.66h236.1M1278.1 1760.08h236.1M1278.1 1720.5h236.1M1282.12 1714.25v130M1288.83 1714.25v130M1295.54 1714.25v130M1302.25 1714.25v130M1308.95 1714.25v130M1315.66 1714.25v130M1322.37 1714.25v130M1329.08 1714.25v130M1335.78 1714.25v130M1342.49 1714.25v130M1349.2 1714.25v130M1355.91 1714.25v130M1362.61 1714.25v130M1369.32 1714.25v130M1376.03 1714.25v130M1382.74 1714.25v130M1389.44 1714.25v130M1396.15 1714.25v130M1402.86 1714.25v130M1409.56 1714.25v130M1416.27 1714.25v130M1422.98 1714.25v130M1429.69 1714.25v130M1436.39 1714.25v130M1443.1 1714.25v130M1449.81 1714.25v130M1456.52 1714.25v130M1463.22 1714.25v130M1469.93 1714.25v130M1476.64 1714.25v130M1483.35 1714.25v130M1490.05 1714.25v130M1496.76 1714.25v130M1503.47 1714.25v130M1510.18 1714.25v130" stroke="#EBEBEB" stroke-width="1.1"/>
<rect x="1278.65" y="1689.3" width="235" height="24.95" fill="#D9D9D9" stroke="#555" stroke-width="1.1"/>
<text x="1396.15" y="1707.18" font-size="16" text-anchor="middle" font-weight="normal" fill="#1A1A1A">Vascular</text>
<rect x="1521.4" y="1714.25" width="236.1" height="130" fill="#fff"/>
<path d="M1521.4 1819.45h236.1M1521.4 1779.87h236.1M1521.4 1740.29h236.1" stroke="#F4F4F4" stroke-width="0.7"/>
<path d="M1521.4 1839.24h236.1M1521.4 1799.66h236.1M1521.4 1760.08h236.1M1521.4 1720.5h236.1M1525.42 1714.25v130M1532.13 1714.25v130M1538.84 1714.25v130M1545.55 1714.25v130M1552.25 1714.25v130M1558.96 1714.25v130M1565.67 1714.25v130M1572.38 1714.25v130M1579.08 1714.25v130M1585.79 1714.25v130M1592.5 1714.25v130M1599.21 1714.25v130M1605.91 1714.25v130M1612.62 1714.25v130M1619.33 1714.25v130M1626.04 1714.25v130M1632.74 1714.25v130M1639.45 1714.25v130M1646.16 1714.25v130M1652.86 1714.25v130M1659.57 1714.25v130M1666.28 1714.25v130M1672.99 1714.25v130M1679.69 1714.25v130M1686.4 1714.25v130M1693.11 1714.25v130M1699.82 1714.25v130M1706.52 1714.25v130M1713.23 1714.25v130M1719.94 1714.25v130M1726.65 1714.25v130M1733.35 1714.25v130M1740.06 1714.25v130M1746.77 1714.25v130M1753.48 1714.25v130" stroke="#EBEBEB" stroke-width="1.1"/>
<rect x="1521.95" y="1689.3" width="235" height="24.95" fill="#D9D9D9" stroke="#555" stroke-width="1.1"/>
<text x="1639.45" y="1707.18" font-size="16" text-anchor="middle" font-weight="normal" fill="#1A1A1A">Immune</text>
<path d="M65.62 1586.56V1624.38M72.33 1591.75V1623.78M79.04 1591.01V1626.6M85.75 1596.05V1625.12M92.45 1596.05V1625.12M308.92 1589.53V1620.52M315.63 1589.53V1625.86M322.34 1588.04V1618.59M329.05 1592.49V1604.36M335.75 1596.35V1598.42M552.22 1599.91V1618.59M558.93 1602.87V1614.74M565.64 1591.75V1623.78M572.35 1593.97V1622.89M579.05 1587.45V1618.3M585.76 1587.45V1623.04M592.47 1588.04V1627.34M599.18 1591.9V1626.01M605.88 1588.04V1620.67M612.59 1590.12V1629.57M619.3 1596.94V1617.11M808.94 1586.56V1627.34M815.65 1591.01V1625.12M822.35 1585.97V1619.19M829.06 1588.04V1628.23M835.77 1588.04V1629.57M842.48 1591.01V1627.34M849.18 1588.04V1630.46M855.89 1592.49V1649M862.6 1586.56V1626.6M869.31 1596.94V1626.6M876.01 1600.8V1605.84M889.43 1589.53V1624.53M896.14 1591.01V1610.29M902.84 1586.56V1629.57M909.55 1589.53V1630.46M916.26 1599.02V1605.99M922.96 1596.94V1632.68M929.67 1614.74V1619.19M1052.24 1582.11V1625.12M1058.95 1582.85V1624.38M1065.65 1585.08V1621.41M1072.36 1583.59V1627.34M1079.07 1585.08V1632.53M1085.78 1591.01V1633.42M1092.48 1586.56V1628.08M1099.19 1586.56V1650.33M1105.9 1582.11V1627.94M1112.61 1586.56V1641.28M1119.31 1579.14V1628.68M1126.02 1585.08V1643.51M1132.73 1589.53V1651.22M1139.44 1591.01V1642.17M1146.14 1592.49V1632.53M1152.85 1589.53V1623.64M1159.56 1592.49V1604.95M1166.26 1596.94V1634.02M1266.88 1608.81V1622.15M1308.95 1591.01V1608.81M1315.66 1586.56V1633.42M1322.37 1586.56V1634.76M1329.08 1591.01V1636.24M1335.78 1585.08V1637.58M1342.49 1586.56V1636.98M1349.2 1582.11V1625.27M1355.91 1581.22V1628.68M1362.61 1579.29V1618.44M1369.32 1579.14V1623.64M1376.03 1588.78V1620.82M1382.74 1591.01V1617.11M1389.44 1587.45V1618.3M1396.15 1585.22V1624.38M1402.86 1587.15V1615.63M1409.56 1582.7V1618.3M1416.27 1589.53V1613.25M1422.98 1589.38V1609.55M1429.69 1580.63V1616.22M1436.39 1585.08V1608.81M1443.1 1584.48V1620.08M1449.81 1585.08V1611.18M1456.52 1585.08V1608.81M1463.22 1587.45V1608.81M1469.93 1593.23V1611.03M1476.64 1585.08V1611.18M1483.35 1585.67V1611.77M1490.05 1583V1606.73M1496.76 1581.52V1612.36M1503.47 1583V1606.73M1510.18 1584.33V1614M1552.25 1593.97V1608.81M1558.96 1592.49V1608.81M1565.67 1588.04V1628.97M1572.38 1592.49V1631.79M1579.08 1589.53V1632.68M1585.79 1589.53V1642.32M1592.5 1586.56V1622.15M1599.21 1585.82V1627.34M1605.91 1582.11V1620.52M1612.62 1582.11V1625.27M1619.33 1589.53V1625.12M1626.04 1590.12V1618.59M1632.74 1588.78V1620.82M1639.45 1583.44V1627.34M1646.16 1588.78V1618.44M1652.86 1584.33V1623.49M1659.57 1590.12V1618.59M1666.28 1591.01V1614.74M1672.99 1584.93V1616.96M1679.69 1585.82V1613.11M1686.4 1580.03V1622.75M1693.11 1586.71V1614M1699.82 1587.15V1610.88M1706.52 1588.04V1611.77M1713.23 1589.67V1616.96M1719.94 1585.08V1611.18M1726.65 1585.82V1613.11M1733.35 1583.59V1607.32M1740.06 1585.97V1609.69M1746.77 1586.41V1606.58M1753.48 1583V1616.22M1775.43 1598.42V1633.28M1782.14 1592.49V1628.08M1788.85 1599.91V1613.85M1795.55 1589.53V1608.81M1802.26 1586.56V1625.27M1808.97 1585.08V1626.6M1815.68 1586.56V1621.41M1822.38 1586.56V1626.6M1829.09 1589.53V1637.72M1835.8 1580.63V1624.23M1842.51 1596.94V1636.98M1849.21 1580.63V1627.94M1855.92 1582.11V1631.79M1862.63 1592.49V1647.96M1869.34 1592.64V1643.66M1876.04 1596.94V1651.22M1882.75 1589.53V1648.11M1889.46 1592.49V1649.74M1896.16 1596.94V1651.81M1902.87 1594.72V1645.73M1909.58 1589.53V1648.85M1916.29 1591.01V1642.92M1922.99 1592.49V1641.43M1929.7 1592.49V1650.33M1936.41 1601.39V1622.75M1943.12 1628.68V1645.88M1949.82 1622.15V1629.57M1956.53 1615.48V1642.92M1963.24 1607.32V1647.36M1969.95 1605.84V1631.05M1983.36 1602.87V1641.43M1990.07 1598.42V1648.85M1996.78 1603.02V1628.08" stroke="#333" stroke-width="0.9"/>
<path d="M65.62 1624.38V1635.35M72.33 1591.75V1590.82M72.33 1623.78V1635.23M79.04 1626.6V1634.08M85.75 1625.12V1634.02M92.45 1625.12V1626.07M308.92 1620.52V1630.43M315.63 1625.86V1636.83M322.34 1618.59V1623.58M329.05 1604.36V1604.95M565.64 1591.75V1590.45M565.64 1623.78V1636.78M572.35 1622.89V1633.28M579.05 1618.3V1630.52M585.76 1623.04V1635.97M592.47 1627.34V1633.81M599.18 1626.01V1633.01M619.3 1617.11V1620.91M808.94 1627.34V1638.08M815.65 1625.12V1633.42M822.35 1619.19V1631.05M829.06 1628.23V1637.43M835.77 1629.57V1636.09M842.48 1627.34V1638.56M849.18 1630.46V1640.42M855.89 1649V1651.9M862.6 1626.6V1630.16M916.26 1605.99V1611.86M922.96 1632.68V1635.59M1775.43 1633.28V1636.61M1788.85 1613.85V1615.45M1802.26 1625.27V1628.78M1808.97 1626.6V1630.61M1815.68 1621.41V1629.64M1822.38 1626.6V1633.72M1829.09 1637.72V1638.39M1835.8 1624.23V1633.39M1842.51 1636.98V1640.54M1849.21 1627.94V1635.54M1855.92 1631.79V1638.24M1862.63 1647.96V1650M1869.34 1592.64V1592.02M1869.34 1643.66V1646.99M1882.75 1648.11V1650.11M1889.46 1649.74V1651.69M1902.87 1594.72V1592.79M1902.87 1645.73V1647.56M1956.53 1615.48V1614.44M1996.78 1603.02V1601.51" stroke="#111" stroke-width="1.8" stroke-linecap="round"/>
<path d="M1052.24 1625.12V1646.25M1058.95 1624.38V1643.84M1065.65 1621.41V1646.44M1072.36 1627.34V1644.58M1079.07 1632.53V1647.44M1085.78 1633.42V1648.33M1092.48 1628.08V1645.88M1099.19 1650.33V1653.67M1105.9 1627.94V1648.51M1112.61 1641.28V1652.52M1119.31 1628.68V1648.7M1126.02 1643.51V1651.96M1132.73 1651.22V1652.11M1139.44 1642.17V1649.85M1146.14 1632.53V1646.55" stroke="#111" stroke-width="2.0" stroke-linecap="round"/>
<path d="M1315.66 1633.42V1643M1322.37 1634.76V1652.37M1329.08 1636.24V1652.44M1335.78 1637.58V1648.28M1349.2 1625.27V1636.4M1355.91 1581.22V1579.62M1355.91 1628.68V1636.57M1362.61 1579.29V1577.89M1362.61 1618.44V1636.06M1369.32 1623.64V1639.13M1376.03 1588.78V1586.45M1376.03 1620.82V1636.17M1382.74 1591.01V1587.67M1382.74 1617.11V1635.99M1389.44 1587.45V1583.04M1389.44 1618.3V1636.05M1396.15 1585.22V1582.49M1396.15 1624.38V1636.35M1402.86 1587.15V1582.21M1402.86 1615.63V1635.92M1409.56 1582.7V1581.77M1409.56 1618.3V1636.05M1416.27 1589.53V1585.52M1416.27 1613.25V1635.8M1422.98 1589.38V1582.1M1422.98 1609.55V1635.61M1429.69 1580.63V1576.62M1429.69 1616.22V1635.94M1436.39 1585.08V1579.74M1436.39 1608.81V1635.57M1443.1 1584.48V1580.08M1443.1 1620.08V1636.14M1449.81 1585.08V1581.74M1449.81 1611.18V1635.69M1456.52 1585.08V1581.07M1456.52 1608.81V1635.57M1463.22 1587.45V1583.04M1463.22 1608.81V1635.57M1469.93 1593.23V1586.23M1469.93 1611.03V1635.69M1476.64 1585.08V1581.74M1476.64 1611.18V1635.69M1483.35 1585.67V1581.4M1483.35 1611.77V1635.72M1490.05 1583V1579.26M1490.05 1606.73V1635.47M1496.76 1581.52V1579.11M1496.76 1612.36V1635.75M1503.47 1583V1578.6M1503.47 1606.73V1635.47M1510.18 1584.33V1580M1510.18 1614V1635.83M1565.67 1628.97V1647.29M1572.38 1631.79V1638.98M1579.08 1632.68V1638.18M1592.5 1586.56V1585.89M1592.5 1622.15V1647.51M1599.21 1585.82V1584.82M1599.21 1627.34V1654.82M1605.91 1620.52V1651.66M1612.62 1625.27V1653.3M1619.33 1589.53V1586.86M1619.33 1625.12V1651.89M1626.04 1590.12V1586.51M1626.04 1618.59V1638.88M1632.74 1588.78V1586.45M1632.74 1620.82V1636.17M1639.45 1583.44V1581.51M1639.45 1627.34V1636.5M1646.16 1588.78V1585.11M1646.16 1618.44V1636.06M1652.86 1584.33V1582M1652.86 1623.49V1636.31M1659.57 1590.12V1586.51M1659.57 1618.59V1636.06M1666.28 1591.01V1586.34M1666.28 1614.74V1635.87M1672.99 1584.93V1580.99M1672.99 1616.96V1651.48M1679.69 1585.82V1581.48M1679.69 1613.11V1651.29M1686.4 1580.03V1576.96M1686.4 1622.75V1650.36M1693.11 1586.71V1581.97M1693.11 1614V1635.83M1699.82 1587.15V1582.88M1699.82 1610.88V1648.36M1706.52 1588.04V1583.37M1706.52 1611.77V1635.72M1713.23 1589.67V1585.6M1713.23 1616.96V1635.98M1719.94 1585.08V1581.07M1719.94 1611.18V1635.69M1726.65 1585.82V1582.15M1726.65 1613.11V1635.79M1733.35 1583.59V1578.92M1733.35 1607.32V1635.5M1740.06 1585.97V1581.56M1740.06 1609.69V1635.62M1746.77 1586.41V1581.81M1746.77 1606.58V1635.46M1753.48 1583V1578.6M1753.48 1616.22V1635.94" stroke="#111" stroke-width="2.3" stroke-linecap="round"/>
<path d="M65.62 1638.18h0M65.62 1640.39h0M65.62 1645.11h0M65.62 1647.16h0M65.62 1651.09h0M65.62 1651.81h0M72.33 1588.33h0M72.33 1588.04h0M72.33 1639.36h0M72.33 1643.14h0M72.33 1647.38h0M72.33 1652.23h0M72.33 1652.41h0M79.04 1637.16h0M79.04 1640.21h0M79.04 1642.38h0M79.04 1645.29h0M85.75 1638.76h0M85.75 1643.26h0M85.75 1645.28h0M85.75 1647.36h0M92.45 1627.49h0M308.92 1634.06h0M308.92 1638.65h0M308.92 1642.24h0M308.92 1645.03h0M308.92 1645.29h0M315.63 1639.65h0M315.63 1641.78h0M315.63 1644.96h0M315.63 1649.58h0M315.63 1653.3h0M322.34 1628.53h0M322.34 1631.05h0M329.05 1591.01h0M329.05 1605.84h0M565.64 1586.93h0M565.64 1586.56h0M565.64 1640.61h0M565.64 1643.54h0M565.64 1647.78h0M565.64 1653.16h0M565.64 1655.92h0M565.64 1656.26h0M572.35 1635.33h0M572.35 1638.24h0M572.35 1641.07h0M572.35 1645.67h0M572.35 1648.85h0M579.05 1635.13h0M579.05 1638.27h0M579.05 1643.35h0M579.05 1646.5h0M579.05 1648.85h0M585.76 1641.15h0M585.76 1645.36h0M585.76 1649.78h0M585.76 1654.11h0M585.76 1655.37h0M592.47 1637.45h0M592.47 1642.39h0M592.47 1643.51h0M599.18 1638.01h0M599.18 1641.54h0M599.18 1643.51h0M619.3 1624.9h0M619.3 1626.6h0M808.94 1640.82h0M808.94 1645h0M808.94 1647.27h0M808.94 1652.46h0M808.94 1654.19h0M815.65 1635.52h0M815.65 1637.89h0M815.65 1643.14h0M815.65 1645.88h0M822.35 1633.55h0M822.35 1635.65h0M822.35 1637.79h0M822.35 1642.22h0M822.35 1646.44h0M822.35 1648.85h0M829.06 1642.01h0M829.06 1644.24h0M829.06 1648.3h0M829.06 1651.22h0M835.77 1640.95h0M835.77 1645.82h0M835.77 1645.88h0M842.48 1640.79h0M842.48 1645.82h0M842.48 1651.02h0M842.48 1655.37h0M849.18 1642.8h0M849.18 1645.52h0M849.18 1647.91h0M849.18 1650.03h0M849.18 1655h0M849.18 1655.37h0M855.89 1656.12h0M855.89 1656.26h0M862.6 1634.37h0M862.6 1635.5h0M916.26 1614.21h0M916.26 1616.55h0M916.26 1620.67h0M922.96 1638.31h0M922.96 1639.95h0M1052.24 1649.74h0M1052.24 1651.81h0M1052.24 1653.3h0M1058.95 1646.83h0M1058.95 1650.33h0M1065.65 1649.73h0M1065.65 1652.85h0M1065.65 1654.78h0M1072.36 1648.35h0M1072.36 1650.33h0M1079.07 1651.6h0M1079.07 1652.41h0M1085.78 1651.77h0M1085.78 1653.3h0M1092.48 1650.59h0M1092.48 1651.81h0M1099.19 1654.78h0M1105.9 1652.4h0M1105.9 1655.15h0M1105.9 1655.37h0M1112.61 1654.84h0M1112.61 1656.26h0M1119.31 1651.3h0M1119.31 1653.3h0M1119.31 1655.37h0M1126.02 1654.78h0M1132.73 1652.41h0M1139.44 1651.86h0M1139.44 1652.41h0M1146.14 1650.27h0M1146.14 1651.22h0M1315.66 1643.51h0M1322.37 1653.3h0M1329.08 1653.3h0M1335.78 1648.85h0M1349.2 1636.98h0M1355.91 1577.66h0M1355.91 1636.98h0M1362.61 1576.18h0M1362.61 1636.98h0M1369.32 1639.95h0M1376.03 1584.06h0M1376.03 1583.59h0M1376.03 1636.98h0M1382.74 1583.59h0M1382.74 1636.98h0M1389.44 1578.29h0M1389.44 1577.66h0M1389.44 1636.98h0M1396.15 1579.14h0M1396.15 1636.98h0M1402.86 1577.1h0M1402.86 1576.18h0M1402.86 1636.98h0M1409.56 1580.63h0M1409.56 1636.98h0M1416.27 1582.6h0M1416.27 1580.63h0M1416.27 1636.98h0M1422.98 1578.78h0M1422.98 1573.68h0M1422.98 1573.21h0M1422.98 1636.98h0M1429.69 1572.76h0M1429.69 1571.73h0M1429.69 1636.98h0M1436.39 1575.48h0M1436.39 1573.21h0M1436.39 1636.98h0M1443.1 1577.53h0M1443.1 1574.69h0M1443.1 1636.98h0M1449.81 1577.66h0M1449.81 1636.98h0M1456.52 1577.54h0M1456.52 1576.18h0M1456.52 1636.98h0M1463.22 1580.6h0M1463.22 1577.66h0M1463.22 1636.98h0M1469.93 1583.39h0M1469.93 1580.72h0M1469.93 1577.67h0M1469.93 1577.66h0M1469.93 1636.98h0M1476.64 1579.2h0M1476.64 1577.66h0M1476.64 1636.98h0M1483.35 1578.26h0M1483.35 1576.18h0M1483.35 1636.98h0M1490.05 1576.11h0M1490.05 1574.69h0M1490.05 1636.98h0M1496.76 1576.18h0M1496.76 1636.98h0M1503.47 1573.23h0M1503.47 1573.21h0M1503.47 1636.98h0M1510.18 1574.69h0M1510.18 1636.98h0M1565.67 1648.25h0M1572.38 1639.36h0M1579.08 1638.47h0M1592.5 1585.08h0M1592.5 1648.85h0M1599.21 1583.59h0M1599.21 1656.26h0M1605.91 1653.3h0M1612.62 1654.78h0M1619.33 1583.59h0M1619.33 1653.3h0M1626.04 1582.76h0M1626.04 1582.11h0M1626.04 1639.95h0M1632.74 1583.95h0M1632.74 1583.59h0M1632.74 1636.98h0M1639.45 1579.14h0M1639.45 1636.98h0M1646.16 1581.61h0M1646.16 1580.63h0M1646.16 1636.98h0M1652.86 1579.14h0M1652.86 1636.98h0M1659.57 1582.11h0M1659.57 1636.98h0M1666.28 1581.63h0M1666.28 1580.63h0M1666.28 1636.98h0M1672.99 1576.61h0M1672.99 1576.18h0M1672.99 1653.3h0M1679.69 1578.38h0M1679.69 1576.18h0M1679.69 1653.3h0M1686.4 1573.5h0M1686.4 1573.21h0M1686.4 1651.81h0M1693.11 1577.77h0M1693.11 1576.18h0M1693.11 1636.98h0M1699.82 1579.29h0M1699.82 1577.66h0M1699.82 1650.33h0M1706.52 1579.01h0M1706.52 1577.66h0M1706.52 1636.98h0M1713.23 1581.31h0M1713.23 1580.63h0M1713.23 1636.98h0M1719.94 1577.36h0M1719.94 1576.18h0M1719.94 1636.98h0M1726.65 1578.25h0M1726.65 1577.66h0M1726.65 1636.98h0M1733.35 1573.63h0M1733.35 1573.21h0M1733.35 1636.98h0M1740.06 1577.55h0M1740.06 1576.18h0M1740.06 1636.98h0M1746.77 1578.01h0M1746.77 1576.18h0M1746.77 1636.98h0M1753.48 1574.77h0M1753.48 1573.21h0M1753.48 1636.98h0M1775.43 1639.35h0M1775.43 1643.74h0M1775.43 1644.4h0M1788.85 1619.19h0M1802.26 1631.21h0M1802.26 1636.66h0M1802.26 1636.98h0M1808.97 1632.8h0M1808.97 1635.76h0M1808.97 1639.16h0M1808.97 1639.95h0M1815.68 1633.11h0M1815.68 1636.58h0M1815.68 1641.02h0M1815.68 1644.26h0M1815.68 1647.18h0M1815.68 1648.85h0M1822.38 1638.32h0M1822.38 1643.61h0M1822.38 1647.45h0M1822.38 1650.22h0M1822.38 1650.33h0M1829.09 1639.95h0M1835.8 1636.14h0M1835.8 1638.59h0M1835.8 1643.31h0M1835.8 1648.14h0M1835.8 1652.36h0M1835.8 1654.78h0M1842.51 1644.51h0M1842.51 1647.3h0M1842.51 1648.85h0M1849.21 1638.78h0M1849.21 1643.02h0M1849.21 1647.88h0M1849.21 1652.74h0M1849.21 1653.3h0M1855.92 1641.27h0M1855.92 1645.19h0M1855.92 1647.63h0M1855.92 1652.55h0M1855.92 1653.3h0M1862.63 1654.78h0M1869.34 1589.53h0M1869.34 1650.31h0M1869.34 1653.2h0M1869.34 1654.78h0M1882.75 1652.76h0M1882.75 1654.77h0M1882.75 1654.78h0M1889.46 1654.68h0M1889.46 1656.26h0M1902.87 1589.73h0M1902.87 1586.05h0M1902.87 1585.08h0M1902.87 1651.79h0M1902.87 1651.81h0M1956.53 1611.17h0M1956.53 1610.29h0M1996.78 1596.52h0M1996.78 1595.46h0" stroke="#111" stroke-width="1.8" stroke-linecap="round"/>
<path d="M62.94 1599.91h5.37v9.79h-5.37zM306.24 1596.05h5.37v9.79h-5.37zM549.54 1600.8h5.37v16.91h-5.37z" fill="#F4A0A0" stroke="#333" stroke-width="0.9"/>
<path d="M69.65 1603.76h5.37v8.01h-5.37zM312.95 1599.91h5.37v10.38h-5.37zM556.25 1607.32h5.37v5.34h-5.37zM1772.75 1605.84h5.37v10.97h-5.37z" fill="#F4A090" stroke="#333" stroke-width="0.9"/>
<path d="M76.36 1604.36h5.37v8.9h-5.37zM319.66 1594.86h5.37v9.49h-5.37zM562.96 1603.76h5.37v8.01h-5.37zM806.26 1599.91h5.37v10.97h-5.37zM1049.56 1595.46h5.37v11.86h-5.37zM1779.46 1596.05h5.37v18.69h-5.37z" fill="#F09070" stroke="#333" stroke-width="0.9"/>
<path d="M83.06 1602.87h5.37v8.9h-5.37zM326.36 1596.94h5.37v2.97h-5.37zM569.66 1604.36h5.37v7.42h-5.37zM812.96 1601.39h5.37v9.49h-5.37zM1056.26 1598.42h5.37v10.38h-5.37zM1786.16 1601.98h5.37v4.75h-5.37z" fill="#F09040" stroke="#333" stroke-width="0.9"/>
<path d="M89.77 1601.39h5.37v9.49h-5.37zM333.07 1596.94h5.37v1.48h-5.37zM576.37 1599.02h5.37v7.71h-5.37zM819.67 1598.42h5.37v8.31h-5.37zM1062.97 1596.94h5.37v9.79h-5.37zM1306.27 1596.05h5.37v9.79h-5.37zM1549.57 1596.94h5.37v7.42h-5.37zM1792.87 1594.86h5.37v10.08h-5.37z" fill="#E89838" stroke="#333" stroke-width="0.9"/>
<path d="M583.08 1600.8h5.37v8.9h-5.37zM826.38 1600.8h5.37v10.97h-5.37zM1069.68 1599.91h5.37v10.97h-5.37zM1312.98 1600.8h5.37v13.05h-5.37zM1556.28 1596.94h5.37v8.01h-5.37zM1799.58 1597.83h5.37v10.97h-5.37z" fill="#E0A838" stroke="#333" stroke-width="0.9"/>
<path d="M589.79 1601.39h5.37v10.38h-5.37zM833.09 1601.39h5.37v11.27h-5.37zM1076.39 1601.39h5.37v12.46h-5.37zM1319.69 1602.87h5.37v12.75h-5.37zM1562.99 1597.83h5.37v12.46h-5.37zM1806.29 1598.42h5.37v11.27h-5.37z" fill="#C8C030" stroke="#333" stroke-width="0.9"/>
<path d="M596.49 1600.8h5.37v10.08h-5.37zM839.79 1601.39h5.37v10.38h-5.37zM1083.09 1603.76h5.37v11.86h-5.37zM1326.39 1602.87h5.37v13.35h-5.37zM1569.69 1599.91h5.37v12.75h-5.37zM1812.99 1596.94h5.37v9.79h-5.37z" fill="#A8B060" stroke="#333" stroke-width="0.9"/>
<path d="M603.2 1596.94h5.37v12.75h-5.37zM846.5 1600.8h5.37v11.86h-5.37zM1089.8 1598.42h5.37v11.86h-5.37zM1333.1 1601.98h5.37v14.24h-5.37zM1576.4 1597.83h5.37v13.94h-5.37zM1819.7 1596.94h5.37v11.86h-5.37z" fill="#A0B050" stroke="#333" stroke-width="0.9"/>
<path d="M609.91 1601.98h5.37v17.8h-5.37zM853.21 1606.73h5.37v16.91h-5.37zM1096.51 1605.84h5.37v17.8h-5.37zM1339.81 1605.84h5.37v18.69h-5.37zM1583.11 1605.84h5.37v14.83h-5.37zM1826.41 1602.87h5.37v13.94h-5.37z" fill="#D0F870" stroke="#333" stroke-width="0.9"/>
<path d="M616.62 1600.8h5.37v6.53h-5.37zM859.92 1596.94h5.37v11.86h-5.37zM1103.22 1596.05h5.37v12.75h-5.37zM1346.52 1597.83h5.37v10.97h-5.37zM1589.82 1599.91h5.37v8.9h-5.37zM1833.12 1596.05h5.37v11.27h-5.37z" fill="#B0F060" stroke="#333" stroke-width="0.9"/>
<path d="M866.62 1604.36h5.37v11.27h-5.37zM1109.92 1601.98h5.37v15.72h-5.37zM1353.22 1599.02h5.37v11.86h-5.37zM1596.52 1601.39h5.37v10.38h-5.37zM1839.82 1607.32h5.37v11.86h-5.37z" fill="#80F040" stroke="#333" stroke-width="0.9"/>
<path d="M873.33 1601.98h5.37v2.37h-5.37zM1116.63 1593.08h5.37v14.24h-5.37zM1359.93 1593.97h5.37v9.79h-5.37zM1603.23 1596.05h5.37v9.79h-5.37zM1846.53 1596.05h5.37v12.75h-5.37z" fill="#60E830" stroke="#333" stroke-width="0.9"/>
<path d="M886.74 1593.08h5.37v20.76h-5.37zM1130.04 1606.73h5.37v17.8h-5.37zM1373.34 1600.8h5.37v8.01h-5.37zM1616.64 1602.87h5.37v8.9h-5.37zM1859.94 1610.88h5.37v14.83h-5.37z" fill="#70D080" stroke="#333" stroke-width="0.9"/>
<path d="M893.45 1594.86h5.37v8.9h-5.37zM1136.75 1602.87h5.37v15.72h-5.37zM1380.05 1600.8h5.37v6.53h-5.37zM1623.35 1600.8h5.37v7.12h-5.37zM1866.65 1611.77h5.37v12.75h-5.37z" fill="#68C888" stroke="#333" stroke-width="0.9"/>
<path d="M900.16 1600.8h5.37v14.83h-5.37zM1143.46 1604.36h5.37v11.27h-5.37zM1386.76 1599.02h5.37v7.71h-5.37zM1630.06 1600.8h5.37v8.01h-5.37zM1873.36 1612.66h5.37v15.42h-5.37z" fill="#60C090" stroke="#333" stroke-width="0.9"/>
<path d="M906.87 1599.02h5.37v13.64h-5.37zM1150.17 1602.87h5.37v17.8h-5.37zM1393.47 1599.91h5.37v9.79h-5.37zM1636.77 1599.91h5.37v10.97h-5.37zM1880.07 1608.81h5.37v15.72h-5.37z" fill="#50B088" stroke="#333" stroke-width="0.9"/>
<path d="M913.57 1600.8h5.37v2.08h-5.37zM1156.87 1595.46h5.37v7.42h-5.37zM1400.17 1597.83h5.37v7.12h-5.37zM1643.47 1599.91h5.37v7.42h-5.37zM1886.77 1609.69h5.37v16.02h-5.37z" fill="#80F0F0" stroke="#333" stroke-width="0.9"/>
<path d="M920.28 1597.83h5.37v13.94h-5.37zM1163.58 1604.36h5.37v20.17h-5.37zM1406.88 1596.05h5.37v8.9h-5.37zM1650.18 1599.02h5.37v9.79h-5.37zM1893.48 1616.22h5.37v16.31h-5.37z" fill="#70F0F0" stroke="#333" stroke-width="0.9"/>
<path d="M926.99 1615.63h5.37v2.97h-5.37zM1413.59 1598.42h5.37v5.93h-5.37zM1656.89 1600.8h5.37v7.12h-5.37zM1900.19 1613.85h5.37v12.75h-5.37z" fill="#80F0F8" stroke="#333" stroke-width="0.9"/>
<path d="M1123.34 1599.02h5.37v17.8h-5.37zM1366.64 1595.46h5.37v11.27h-5.37zM1609.94 1597.83h5.37v10.97h-5.37zM1853.24 1598.42h5.37v13.35h-5.37z" fill="#50E030" stroke="#333" stroke-width="0.9"/>
<path d="M1264.19 1611.77h5.37v8.01h-5.37zM1507.49 1595.46h5.37v7.42h-5.37zM1750.79 1595.46h5.37v8.31h-5.37zM1994.09 1617.7h5.37v9.79h-5.37z" fill="#909090" stroke="#333" stroke-width="0.9"/>
<path d="M1420.3 1596.94h5.37v5.04h-5.37zM1663.6 1599.91h5.37v5.93h-5.37zM1906.9 1603.76h5.37v20.76h-5.37z" fill="#98E8F0" stroke="#333" stroke-width="0.9"/>
<path d="M1427 1593.97h5.37v8.9h-5.37zM1670.3 1596.94h5.37v8.01h-5.37zM1913.6 1602.87h5.37v29.66h-5.37z" fill="#70B8E0" stroke="#333" stroke-width="0.9"/>
<path d="M1433.71 1593.97h5.37v5.93h-5.37zM1677.01 1596.05h5.37v6.82h-5.37zM1920.31 1610.88h5.37v20.17h-5.37z" fill="#5898E0" stroke="#333" stroke-width="0.9"/>
<path d="M1440.42 1597.83h5.37v8.9h-5.37zM1683.72 1596.05h5.37v10.68h-5.37zM1927.02 1612.66h5.37v23.73h-5.37z" fill="#4070D0" stroke="#333" stroke-width="0.9"/>
<path d="M1447.13 1594.86h5.37v6.53h-5.37zM1690.43 1596.94h5.37v6.82h-5.37zM1933.73 1607.92h5.37v10.68h-5.37z" fill="#3040C0" stroke="#333" stroke-width="0.9"/>
<path d="M1453.83 1593.97h5.37v5.93h-5.37zM1697.13 1596.05h5.37v5.93h-5.37zM1940.43 1635.5h5.37v8.9h-5.37z" fill="#2020D0" stroke="#333" stroke-width="0.9"/>
<path d="M1460.54 1595.46h5.37v5.34h-5.37zM1703.84 1596.94h5.37v5.93h-5.37zM1947.14 1624.53h5.37v3.56h-5.37z" fill="#2020F0" stroke="#333" stroke-width="0.9"/>
<path d="M1467.25 1599.91h5.37v4.45h-5.37zM1710.55 1599.91h5.37v6.82h-5.37zM1953.85 1627.49h5.37v8.01h-5.37z" fill="#C0A0F8" stroke="#333" stroke-width="0.9"/>
<path d="M1473.96 1594.86h5.37v6.53h-5.37zM1717.26 1594.86h5.37v6.53h-5.37zM1960.56 1611.77h5.37v21.65h-5.37z" fill="#B080F0" stroke="#333" stroke-width="0.9"/>
<path d="M1480.66 1595.46h5.37v6.53h-5.37zM1723.96 1596.05h5.37v6.82h-5.37zM1967.26 1612.66h5.37v16.02h-5.37z" fill="#B060F0" stroke="#333" stroke-width="0.9"/>
<path d="M1487.37 1591.9h5.37v5.93h-5.37zM1730.67 1592.49h5.37v5.93h-5.37z" fill="#C040F0" stroke="#333" stroke-width="0.9"/>
<path d="M1494.08 1593.08h5.37v7.71h-5.37zM1737.38 1594.86h5.37v5.93h-5.37zM1980.68 1616.22h5.37v15.42h-5.37z" fill="#D040E8" stroke="#333" stroke-width="0.9"/>
<path d="M1500.79 1591.9h5.37v5.93h-5.37zM1744.09 1593.97h5.37v5.04h-5.37zM1987.39 1613.85h5.37v23.14h-5.37z" fill="#C030D0" stroke="#333" stroke-width="0.9"/>
<path d="M62.94 1604.95H68.31M69.65 1607.32H75.01M76.36 1608.81H81.72M83.06 1606.73H88.43M89.77 1605.84H95.14M306.24 1600.8H311.61M312.95 1604.95H318.31M319.66 1599.02H325.02M326.36 1598.42H331.73M333.07 1597.53H338.44M549.54 1608.81H554.91M556.25 1610.29H561.61M562.96 1607.32H568.32M569.66 1607.32H575.03M576.37 1602.87H581.74M583.08 1604.36H588.44M589.79 1604.36H595.15M596.49 1604.95H601.86M603.2 1600.8H608.57M609.91 1615.63H615.27M616.62 1602.87H621.98M806.26 1604.95H811.62M812.96 1605.84H818.33M819.67 1601.98H825.04M826.38 1604.95H831.74M833.09 1607.32H838.45M839.79 1606.73H845.16M846.5 1605.84H851.87M853.21 1617.7H858.57M859.92 1601.39H865.28M866.62 1608.81H871.99M873.33 1603.17H878.7M886.74 1599.91H892.11M893.45 1598.42H898.82M900.16 1604.95H905.53M906.87 1603.76H912.23M913.57 1601.39H918.94M920.28 1601.98H925.65M926.99 1616.81H932.36M1049.56 1601.39H1054.92M1056.26 1602.87H1061.63M1062.97 1601.39H1068.34M1069.68 1604.36H1075.04M1076.39 1605.84H1081.75M1083.09 1607.32H1088.46M1089.8 1601.39H1095.17M1096.51 1610.29H1101.87M1103.22 1598.42H1108.58M1109.92 1607.32H1115.29M1116.63 1598.42H1122M1123.34 1607.32H1128.7M1130.04 1611.77H1135.41M1136.75 1607.32H1142.12M1143.46 1608.81H1148.83M1150.17 1609.69H1155.53M1156.87 1598.42H1162.24M1163.58 1613.25H1168.95M1264.19 1615.63H1269.56M1306.27 1600.8H1311.64M1312.98 1607.32H1318.34M1319.69 1607.32H1325.05M1326.39 1607.32H1331.76M1333.1 1607.32H1338.47M1339.81 1614.74H1345.17M1346.52 1601.98H1351.88M1353.22 1602.87H1358.59M1359.93 1596.94H1365.3M1366.64 1599.02H1372M1373.34 1603.76H1378.71M1380.05 1603.76H1385.42M1386.76 1602.87H1392.13M1393.47 1603.76H1398.83M1400.17 1601.39H1405.54M1406.88 1599.91H1412.25M1413.59 1601.39H1418.96M1420.3 1599.02H1425.66M1427 1596.94H1432.37M1433.71 1595.46H1439.08M1440.42 1601.39H1445.78M1447.13 1596.94H1452.49M1453.83 1596.05H1459.2M1460.54 1597.83H1465.91M1467.25 1601.39H1472.61M1473.96 1596.94H1479.32M1480.66 1597.83H1486.03M1487.37 1593.97H1492.74M1494.08 1595.46H1499.44M1500.79 1593.97H1506.15M1507.49 1598.42H1512.86M1549.57 1600.8H1554.94M1556.28 1600.8H1561.64M1562.99 1601.98H1568.35M1569.69 1602.87H1575.06M1576.4 1602.87H1581.77M1583.11 1610.29H1588.47M1589.82 1602.87H1595.18M1596.52 1604.95H1601.89M1603.23 1599.91H1608.6M1609.94 1601.39H1615.3M1616.64 1605.84H1622.01M1623.35 1603.76H1628.72M1630.06 1604.36H1635.43M1636.77 1602.87H1642.13M1643.47 1601.98H1648.84M1650.18 1601.39H1655.55M1656.89 1602.87H1662.26M1663.6 1601.98H1668.96M1670.3 1599.91H1675.67M1677.01 1599.02H1682.38M1683.72 1599.91H1689.08M1690.43 1599.91H1695.79M1697.13 1598.42H1702.5M1703.84 1599.02H1709.21M1710.55 1602.87H1715.91M1717.26 1596.94H1722.62M1723.96 1598.42H1729.33M1730.67 1594.86H1736.04M1737.38 1596.94H1742.74M1744.09 1596.05H1749.45M1750.79 1599.02H1756.16M1772.75 1610.88H1778.11M1779.46 1608.81H1784.82M1786.16 1603.76H1791.53M1792.87 1599.91H1798.24M1799.58 1601.98H1804.94M1806.29 1602.87H1811.65M1812.99 1601.39H1818.36M1819.7 1600.8H1825.07M1826.41 1607.32H1831.77M1833.12 1598.42H1838.48M1839.82 1611.77H1845.19M1846.53 1598.42H1851.9M1853.24 1602.87H1858.6M1859.94 1616.81H1865.31M1866.65 1619.19H1872.02M1873.36 1619.19H1878.73M1880.07 1616.22H1885.43M1886.77 1616.22H1892.14M1893.48 1623.64H1898.85M1900.19 1619.19H1905.56M1906.9 1617.7H1912.26M1913.6 1613.25H1918.97M1920.31 1617.7H1925.68M1927.02 1624.53H1932.38M1933.73 1614.74H1939.09M1940.43 1639.95H1945.8M1947.14 1625.71H1952.51M1953.85 1631.64H1959.21M1960.56 1620.67H1965.92M1967.26 1620.67H1972.63M1980.68 1623.64H1986.04M1987.39 1625.12H1992.75M1994.09 1622.15H1999.46" stroke="#222" stroke-width="1.3"/>
<path d="M103.19 1627.49h5.37M933.7 1611.47h5.37M940.4 1604.95h5.37M953.82 1630.46h5.37M1014.19 1601.98h5.37M1170.29 1619.19h5.37M1183.7 1613.25h5.37M1299.56 1608.81h5.37M1536.16 1613.25h5.37" stroke="#222" stroke-width="1.8"/>
<path d="M105.87 1757.46V1770.81M112.58 1754.49V1778.96M119.28 1748.56V1779.85M125.99 1752.42V1797.5M132.7 1744.26V1783.41M139.41 1751.53V1804.32M146.11 1748.56V1796.76M152.82 1747.08V1812.33M159.53 1756.72V1810.11M166.24 1754.49V1815.3M172.94 1752.12V1816.78M179.65 1747.97V1815.3M186.36 1750.93V1816.78M193.06 1747.67V1816.78M199.77 1753.6V1812.92M206.48 1757.46V1814.41M213.19 1750.78V1816.78M219.89 1761.17V1814.56M226.6 1764.13V1816.78M233.31 1750.78V1806.55M240.02 1758.2V1815.3M246.72 1756.86V1816.78M253.43 1773.77V1818.26M260.14 1758.2V1815.3M266.85 1763.39V1816.78M273.55 1755.97V1815.3M280.26 1761.31V1815.89M286.97 1761.31V1815.89M293.68 1770.81V1818.26M322.34 1750.04V1794.53M329.05 1764.87V1773.77M335.75 1763.39V1782.67M342.46 1750.04V1755.97M349.17 1753.01V1789.94M355.88 1754.49V1782.82M362.58 1755.97V1780.44M369.29 1757.46V1804.32M376 1744.11V1795.13M382.71 1747.82V1801.21M389.41 1744.85V1800.61M396.12 1754.49V1813.22M402.83 1750.04V1816.78M409.54 1758.94V1808.77M416.24 1763.54V1814.56M422.95 1750.93V1815.3M429.66 1758.94V1816.78M436.36 1758.94V1818.26M443.07 1761.31V1815.89M449.78 1766.36V1813.81M456.49 1753.01V1816.78M463.19 1755.97V1816.78M469.9 1767.25V1816.78M476.61 1754.49V1810.85M483.32 1754.49V1816.78M490.02 1753.01V1816.78M496.73 1752.86V1816.78M503.44 1750.04V1818.26M510.15 1756.86V1818.26M516.85 1754.49V1816.78M523.56 1754.49V1816.78M530.27 1754.49V1818.26M536.98 1766.5V1817.52M565.64 1753.9V1809.36M572.35 1763.39V1804.92M579.05 1758.94V1794.53M585.76 1755.97V1805.66M592.47 1754.49V1808.62M599.18 1760.42V1806.4M605.88 1747.08V1815.3M612.59 1757.46V1816.78M619.3 1747.97V1805.66M626.01 1744.11V1815.3M632.71 1744.11V1810.85M639.42 1738.18V1811.59M646.13 1744.11V1815.3M652.84 1742.78V1793.79M659.54 1741.14V1804.03M666.25 1739.66V1798.24M672.96 1739.66V1787.86M679.66 1739.07V1786.53M686.37 1741.14V1792.46M693.08 1743.22V1781.19M699.79 1737.29V1784.75M706.49 1738.92V1780.44M713.2 1739.66V1789.94M719.91 1746.19V1769.92M726.62 1745.74V1773.03M733.32 1747.08V1773.18M740.03 1746.48V1782.08M746.74 1748.56V1772.29M753.45 1745.59V1778.81M760.15 1744.85V1772.14M766.86 1742.63V1778.22M773.57 1745.74V1773.03M780.28 1746.48V1782.08M795.52 1750.04V1788.6M802.23 1753.01V1789.49M808.94 1751.53V1793.79M815.65 1748.56V1798.09M822.35 1748.56V1789.34M829.06 1751.53V1799.72M835.77 1745.59V1802.54M842.48 1748.56V1801.21M849.18 1745.59V1800.47M855.89 1744.11V1813.22M862.6 1742.63V1791.72M869.31 1742.63V1791.72M876.01 1737.44V1776.59M882.72 1735.21V1785.04M889.43 1742.63V1784.75M896.14 1744.85V1776.89M902.84 1744.85V1776.89M909.55 1739.07V1781.78M916.26 1741.89V1771.55M922.96 1742.03V1775.25M929.67 1744.85V1772.14M936.38 1745V1768.73M943.09 1741.89V1771.55M949.79 1741.89V1769.17M956.5 1741.14V1776.74M963.21 1741.89V1771.55M969.92 1744.11V1767.84M976.62 1747.82V1765.61M983.33 1747.08V1770.81M990.04 1746.48V1767.84M996.75 1745V1768.73M1003.45 1744.85V1762.65M1010.16 1744.11V1765.47M1016.87 1743.52V1764.87M1023.58 1744.7V1770.81M1105.9 1753.01V1764.87M1112.61 1753.01V1787.71M1119.31 1748.56V1781.19M1126.02 1754.49V1774.66M1132.73 1751.53V1770.81M1139.44 1758.94V1773.77M1146.14 1751.53V1763.39M1152.85 1757.46V1772.29M1159.56 1754.49V1774.66M1166.26 1754.49V1760.42M1172.97 1754.49V1763.98M1179.68 1754.49V1758.94M1186.39 1753.01V1767.84M1193.09 1748.56V1762.8M1199.8 1744.11V1763.39M1219.92 1753.01V1758.05M1226.63 1748.56V1756.86M1233.34 1751.53V1756.86M1240.05 1753.01V1769.32M1246.75 1741.14V1750.93M1260.17 1741.14V1756.86M1266.88 1748.56V1762.8M1282.12 1751.67V1778.96M1288.83 1753.75V1783.41M1295.54 1747.08V1791.57M1302.25 1748.56V1780.59M1308.95 1745.59V1766.36M1315.66 1745.59V1776.14M1322.37 1748.56V1780.44M1329.08 1748.56V1784.15M1335.78 1747.08V1791.57M1342.49 1745.59V1773.77M1349.2 1739.66V1772.88M1355.91 1747.08V1787.86M1362.61 1744.11V1767.84M1369.32 1745.59V1793.05M1376.03 1744.11V1784.3M1382.74 1744.11V1796.02M1389.44 1744.11V1776.74M1396.15 1744.11V1795.13M1402.86 1742.63V1795.13M1409.56 1745.59V1806.99M1416.27 1744.11V1797.5M1422.98 1744.11V1798.39M1429.69 1744.11V1811.59M1436.39 1745.59V1808.62M1443.1 1750.04V1815.44M1449.81 1745.59V1792.46M1456.52 1748.56V1815.3M1463.22 1748.56V1810.11M1469.93 1751.53V1816.78M1476.64 1747.08V1815.3M1483.35 1749.3V1816.78M1490.05 1745.59V1813.67M1496.76 1745.59V1811M1503.47 1747.08V1812.92M1510.18 1758.2V1818.26M1525.42 1752.12V1780.44M1532.13 1751.53V1778.96M1538.84 1750.04V1788.01M1545.55 1755.97V1780.59M1552.25 1755.97V1769.32M1558.96 1751.53V1769.32M1565.67 1755.97V1785.49M1572.38 1753.01V1789.49M1579.08 1758.94V1776.74M1585.79 1753.9V1796.61M1592.5 1748.56V1789.49M1599.21 1748.56V1785.04M1605.91 1751.53V1781.19M1612.62 1757.46V1799.72M1619.33 1757.46V1804.32M1626.04 1750.04V1794.53M1632.74 1762.8V1803.43M1639.45 1753.01V1818.26M1646.16 1752.42V1807.29M1652.86 1753.9V1818.26M1659.57 1758.79V1814.56M1666.28 1763.39V1818.26M1672.99 1767.84V1818.26M1679.69 1771.55V1818.26M1686.4 1775.85V1818.26M1693.11 1763.98V1816.19M1699.82 1777.63V1818.26M1706.52 1775.4V1818.26M1713.23 1784.15V1818.26M1719.94 1784.15V1818.26M1726.65 1781.93V1818.26M1733.35 1773.77V1816.78M1740.06 1777.63V1818.26M1746.77 1776.14V1818.26M1753.48 1761.91V1818.26" stroke="#333" stroke-width="0.9"/>
<path d="M119.28 1779.85V1783.71M125.99 1752.42V1751.64M125.99 1797.5V1799.28M132.7 1783.41V1796.52M139.41 1804.32V1809.54M146.11 1796.76V1805.36M159.53 1756.72V1754.49M159.53 1810.11V1812.78M166.24 1754.49V1753.9M172.94 1752.12V1751.11M186.36 1750.93V1750.16M193.06 1747.67V1746.96M199.77 1812.92V1814.47M206.48 1757.46V1756.57M206.48 1814.41V1815.36M213.19 1750.78V1749.75M219.89 1761.17V1758.94M219.89 1814.56V1815.44M226.6 1764.13V1761.02M233.31 1750.78V1750.04M233.31 1806.55V1810.64M240.02 1758.2V1756.86M246.72 1756.86V1756.09M253.43 1773.77V1769.92M260.14 1758.2V1756.86M266.85 1763.39V1760.72M273.55 1755.97V1753.6M273.55 1815.3V1815.89M280.26 1761.31V1758.76M286.97 1761.31V1758.76M293.68 1770.81V1766.36M322.34 1794.53V1795.13M349.17 1789.94V1798.3M355.88 1782.82V1792.84M362.58 1780.44V1783.11M376 1795.13V1801.42M382.71 1801.21V1806.84M389.41 1800.61V1806.49M396.12 1813.22V1814.64M409.54 1758.94V1756.86M409.54 1808.77V1811.97M416.24 1763.54V1761.43M416.24 1814.56V1815.44M422.95 1750.93V1750.16M429.66 1758.94V1756.57M436.36 1758.94V1756.86M443.07 1761.31V1758.76M443.07 1815.89V1816.84M449.78 1766.36V1762.8M449.78 1813.81V1815.59M463.19 1755.97V1755.08M469.9 1767.25V1764.1M476.61 1810.85V1813.22M510.15 1756.86V1755.8M536.98 1766.5V1764.4M585.76 1805.66V1808.92M605.88 1815.3V1815.89M619.3 1805.66V1808.92M632.71 1810.85V1812.63M639.42 1811.59V1813.07M652.84 1793.79V1802.39M659.54 1804.03V1806.75M666.25 1798.24V1805.66M672.96 1787.86V1797.06M679.66 1786.53V1798.63M686.37 1792.46V1802.78M693.08 1781.19V1795.42M699.79 1784.75V1795.78M706.49 1780.44V1793.2M713.2 1789.94V1801.27M719.91 1746.19V1744.88M719.91 1769.92V1783.32M726.62 1745.74V1744.53M726.62 1773.03V1788.75M733.32 1747.08V1746.19M733.32 1773.18V1783.5M740.03 1746.48V1745.12M740.03 1782.08V1795.96M746.74 1748.56V1747.67M746.74 1772.29V1789.85M753.45 1745.59V1745M753.45 1778.81V1786.88M760.15 1772.14V1782.88M766.86 1778.22V1786.53M773.57 1745.74V1744.53M773.57 1773.03V1787.56M780.28 1746.48V1745.71M780.28 1782.08V1788.84M795.52 1788.6V1796.31M802.23 1789.49V1799.22M808.94 1793.79V1800.61M822.35 1789.34V1793.2M829.06 1799.72V1807.14M835.77 1802.54V1808.24M842.48 1801.21V1806.84M849.18 1800.47V1806.4M855.89 1813.22V1814.05M862.6 1791.72V1800.56M869.31 1791.72V1800.56M876.01 1776.59V1792.67M882.72 1785.04V1795.36M889.43 1784.75V1795.19M896.14 1744.85V1743.81M896.14 1776.89V1789.28M902.84 1776.89V1791.66M909.55 1781.78V1788.66M916.26 1741.89V1741.14M916.26 1771.55V1782.52M922.96 1742.03V1740.97M922.96 1775.25V1788.31M929.67 1744.85V1743.52M929.67 1772.14V1786.44M936.38 1745V1743.64M936.38 1768.73V1783.2M943.09 1741.89V1740.55M943.09 1771.55V1784.89M949.79 1741.89V1740.55M949.79 1769.17V1783.47M956.5 1741.14V1740.55M956.5 1776.74V1792.16M963.21 1741.89V1741.14M963.21 1771.55V1782.52M969.92 1744.11V1742.92M969.92 1767.84V1780.3M976.62 1747.82V1746.48M976.62 1765.61V1778.96M983.33 1747.08V1745.59M983.33 1770.81V1782.08M990.04 1746.48V1745.12M990.04 1767.84V1785.04M996.75 1745V1743.64M996.75 1768.73V1787.36M1003.45 1744.85V1743.81M1003.45 1762.65V1777.18M1010.16 1744.11V1742.63M1010.16 1765.47V1778.87M1016.87 1743.52V1742.15M1016.87 1764.87V1778.52M1023.58 1744.7V1743.4M1023.58 1770.81V1782.08M1119.31 1781.19V1788.54M1126.02 1774.66V1781.07M1146.14 1763.39V1769.08M1152.85 1772.29V1778.46M1166.26 1760.42V1771.69M1179.68 1754.49V1751.82M1199.8 1763.39V1771.46M1240.05 1769.32V1771.93M1260.17 1756.86V1760.07M1525.42 1780.44V1785.72M1532.13 1778.96V1783.41M1538.84 1788.01V1793.58M1565.67 1785.49V1786.73M1592.5 1789.49V1792.1M1599.21 1785.04V1797.5M1612.62 1799.72V1802.04M1659.57 1758.79V1757.93M1659.57 1814.56V1816.04M1666.28 1763.39V1762.5M1672.99 1767.84V1763.98M1679.69 1771.55V1767.54M1686.4 1775.85V1772.17M1693.11 1763.98V1762.08M1699.82 1777.63V1773.3M1706.52 1775.4V1771.52M1713.23 1784.15V1780.3M1719.94 1784.15V1780M1726.65 1781.93V1776.44M1733.35 1773.77V1772.29M1740.06 1777.63V1775.08M1746.77 1776.14V1771.81" stroke="#111" stroke-width="1.8" stroke-linecap="round"/>
<path d="M1282.12 1751.67V1751.05M1282.12 1778.96V1797.87M1288.83 1753.75V1752.12M1288.83 1783.41V1800.1M1295.54 1791.57V1804.92M1302.25 1780.59V1796.46M1315.66 1776.14V1780.89M1322.37 1780.44V1783.78M1329.08 1784.15V1785.93M1349.2 1772.88V1777.78M1355.91 1787.86V1788.97M1362.61 1767.84V1787.12M1369.32 1793.05V1804.17M1376.03 1784.3V1785.71M1382.74 1796.02V1801.95M1389.44 1776.74V1790.83M1396.15 1795.13V1803.73M1402.86 1795.13V1803.73M1409.56 1806.99V1811.89M1416.27 1797.5V1807.14M1422.98 1798.39V1807.58M1429.69 1811.59V1814.93M1436.39 1808.62V1813.44M1443.1 1815.44V1816.85M1449.81 1792.46V1801.65M1463.22 1810.11V1811.96M1490.05 1813.67V1815.22M1496.76 1811V1813.89M1503.47 1812.92V1815.59M1510.18 1758.2V1756.27" stroke="#111" stroke-width="2.0" stroke-linecap="round"/>
<path d="M119.28 1788.61h0M119.28 1789.49h0M125.99 1748.56h0M125.99 1801.77h0M125.99 1801.95h0M132.7 1800.74h0M132.7 1802.79h0M132.7 1804.83h0M132.7 1810.16h0M132.7 1814.46h0M132.7 1816.19h0M139.41 1811.9h0M139.41 1814.4h0M139.41 1817.21h0M139.41 1817.37h0M146.11 1808.57h0M146.11 1811.11h0M146.11 1816.27h0M146.11 1818.26h0M159.53 1751.9h0M159.53 1746.78h0M159.53 1745.59h0M159.53 1816.78h0M166.24 1751.53h0M172.94 1747.08h0M186.36 1747.08h0M193.06 1744.11h0M199.77 1751.53h0M199.77 1816.78h0M206.48 1753.01h0M206.48 1816.78h0M213.19 1746.21h0M213.19 1745.59h0M219.89 1755h0M219.89 1752.07h0M219.89 1750.04h0M219.89 1816.78h0M226.6 1757.29h0M226.6 1755.09h0M226.6 1751.45h0M226.6 1748.95h0M226.6 1748.56h0M233.31 1747.08h0M233.31 1814.53h0M233.31 1816.78h0M240.02 1754.84h0M240.02 1751.53h0M246.72 1753.01h0M253.43 1765.95h0M253.43 1761.62h0M253.43 1756.68h0M253.43 1754.49h0M260.14 1753.4h0M260.14 1751.53h0M266.85 1758.46h0M266.85 1754.23h0M266.85 1750.04h0M273.55 1751.5h0M273.55 1747.37h0M273.55 1744.11h0M273.55 1816.78h0M280.26 1755.61h0M280.26 1750.17h0M280.26 1748.56h0M286.97 1755.07h0M286.97 1749.92h0M286.97 1748.56h0M293.68 1761.84h0M293.68 1757.65h0M293.68 1754.47h0M293.68 1749.45h0M293.68 1748.56h0M322.34 1796.02h0M349.17 1802.14h0M349.17 1806.84h0M349.17 1809.57h0M349.17 1810.85h0M355.88 1796.32h0M355.88 1800.26h0M355.88 1805.15h0M355.88 1807.88h0M362.58 1787.12h0M376 1804.83h0M376 1808.59h0M376 1810.85h0M382.71 1745.59h0M382.71 1812.26h0M382.71 1815.3h0M389.41 1811.26h0M389.41 1814.42h0M389.41 1815.3h0M396.12 1816.78h0M409.54 1752.81h0M409.54 1748.59h0M409.54 1748.56h0M409.54 1814.11h0M409.54 1816.78h0M416.24 1756.33h0M416.24 1753.01h0M416.24 1816.78h0M422.95 1747.11h0M422.95 1747.08h0M429.66 1753.9h0M429.66 1748.68h0M429.66 1747.08h0M436.36 1752.56h0M436.36 1748.56h0M443.07 1753.58h0M443.07 1749.44h0M443.07 1748.56h0M443.07 1818.26h0M449.78 1758.36h0M449.78 1754.27h0M449.78 1749.89h0M449.78 1748.56h0M449.78 1818.26h0M463.19 1751.53h0M469.9 1759.43h0M469.9 1757.08h0M469.9 1754.44h0M469.9 1752.31h0M469.9 1751.53h0M476.61 1816.78h0M496.73 1751.53h0M510.15 1752.51h0M510.15 1751.53h0M536.98 1759.65h0M536.98 1755.97h0M585.76 1811.82h0M585.76 1813.81h0M605.88 1816.78h0M619.3 1812.03h0M619.3 1813.81h0M632.71 1815.3h0M639.42 1815.3h0M652.84 1741.14h0M652.84 1806.38h0M652.84 1808.52h0M652.84 1810.93h0M652.84 1815.3h0M659.54 1810.77h0M659.54 1810.85h0M666.25 1809.22h0M666.25 1811.27h0M666.25 1814.62h0M666.25 1816.78h0M672.96 1802.34h0M672.96 1807.77h0M672.96 1810.85h0M679.66 1736.69h0M679.66 1800.98h0M679.66 1805.24h0M679.66 1807.98h0M679.66 1810.51h0M679.66 1812.57h0M679.66 1814.59h0M679.66 1816.78h0M686.37 1805.21h0M686.37 1810.59h0M686.37 1812.9h0M686.37 1817.94h0M686.37 1818.26h0M693.08 1797.49h0M693.08 1802h0M693.08 1804.85h0M693.08 1809.42h0M693.08 1812.07h0M693.08 1814.25h0M693.08 1816.78h0M699.79 1800.28h0M699.79 1805.27h0M699.79 1809.83h0M699.79 1812.12h0M699.79 1812.33h0M706.49 1797.68h0M706.49 1801.29h0M706.49 1806.56h0M706.49 1809.45h0M706.49 1812.33h0M713.2 1805.78h0M713.2 1807.82h0M713.2 1809.87h0M713.2 1814.15h0M713.2 1818.26h0M719.91 1742.6h0M719.91 1739.66h0M719.91 1787.88h0M719.91 1790.46h0M719.91 1795.47h0M719.91 1799.17h0M719.91 1801.38h0M719.91 1803.43h0M726.62 1740.51h0M726.62 1739.66h0M726.62 1793.12h0M726.62 1795.63h0M726.62 1800.42h0M726.62 1803.69h0M726.62 1807.95h0M726.62 1812.15h0M726.62 1812.33h0M733.32 1742.84h0M733.32 1742.63h0M733.32 1788.81h0M733.32 1793.55h0M733.32 1797.54h0M733.32 1798.98h0M740.03 1742.91h0M740.03 1739.66h0M740.03 1800.42h0M740.03 1805.31h0M740.03 1808.48h0M740.03 1812.6h0M740.03 1816.78h0M746.74 1744.11h0M746.74 1793.95h0M746.74 1797.03h0M746.74 1800.53h0M746.74 1805.64h0M746.74 1808.96h0M746.74 1813.36h0M746.74 1816.19h0M753.45 1742.63h0M753.45 1791.71h0M753.45 1794.7h0M753.45 1796.7h0M753.45 1798.98h0M760.15 1742.63h0M760.15 1786.93h0M760.15 1791.79h0M760.15 1796.89h0M760.15 1798.98h0M766.86 1791.44h0M766.86 1796.28h0M766.86 1798.98h0M773.57 1740.52h0M773.57 1739.66h0M773.57 1792.54h0M773.57 1797.37h0M773.57 1801.76h0M773.57 1806.96h0M773.57 1809.36h0M780.28 1743.41h0M780.28 1742.63h0M780.28 1793.63h0M780.28 1796.33h0M780.28 1798.98h0M795.52 1801.57h0M795.52 1804.39h0M795.52 1807.88h0M802.23 1803.59h0M802.23 1807.22h0M802.23 1809.94h0M802.23 1812.84h0M802.23 1813.81h0M808.94 1805.39h0M808.94 1808.99h0M808.94 1810.85h0M822.35 1798.02h0M822.35 1798.98h0M829.06 1809.95h0M829.06 1813.98h0M829.06 1818.26h0M835.77 1813.34h0M835.77 1816.78h0M842.48 1810.51h0M842.48 1814.57h0M842.48 1815.3h0M849.18 1809.07h0M849.18 1811.7h0M849.18 1815.3h0M855.89 1815.3h0M862.6 1804.53h0M862.6 1807.94h0M862.6 1811.75h0M862.6 1813.81h0M869.31 1802.71h0M869.31 1808.2h0M869.31 1811.51h0M869.31 1813.81h0M876.01 1735.21h0M876.01 1797.42h0M876.01 1799.97h0M876.01 1804.06h0M876.01 1807.26h0M876.01 1811.08h0M876.01 1813.16h0M876.01 1815.27h0M876.01 1816.78h0M882.72 1800.4h0M882.72 1804.1h0M882.72 1808.08h0M882.72 1810.85h0M889.43 1799.91h0M889.43 1803.4h0M889.43 1808.72h0M889.43 1810.85h0M896.14 1739.66h0M896.14 1794.66h0M896.14 1797.54h0M896.14 1799.68h0M896.14 1802.38h0M896.14 1805.01h0M896.14 1807.31h0M896.14 1807.88h0M902.84 1795.61h0M902.84 1800.65h0M902.84 1804.26h0M902.84 1809.57h0M902.84 1813.81h0M909.55 1790.89h0M909.55 1794.98h0M909.55 1798.37h0M909.55 1798.98h0M916.26 1738.18h0M916.26 1785.42h0M916.26 1789.4h0M916.26 1793.64h0M916.26 1798.98h0M922.96 1736.69h0M922.96 1791.68h0M922.96 1795.25h0M922.96 1797.81h0M922.96 1803.19h0M922.96 1807.88h0M929.67 1740.74h0M929.67 1738.61h0M929.67 1738.18h0M929.67 1789.67h0M929.67 1794.83h0M929.67 1799.99h0M929.67 1804.92h0M929.67 1807.09h0M929.67 1807.88h0M936.38 1739.15h0M936.38 1738.18h0M936.38 1788.65h0M936.38 1790.85h0M936.38 1793.35h0M936.38 1798h0M936.38 1803.28h0M936.38 1804.92h0M943.09 1737.51h0M943.09 1735.21h0M943.09 1789.55h0M943.09 1791.92h0M943.09 1795.05h0M943.09 1797.95h0M943.09 1800.38h0M943.09 1804.07h0M943.09 1804.92h0M949.79 1737.72h0M949.79 1735.22h0M949.79 1735.21h0M949.79 1785.51h0M949.79 1790.02h0M949.79 1792.71h0M949.79 1794.83h0M949.79 1800.08h0M949.79 1802.85h0M949.79 1804.92h0M956.5 1738.18h0M956.5 1797.27h0M956.5 1799.76h0M956.5 1803.33h0M956.5 1805.67h0M956.5 1810.92h0M956.5 1815.3h0M963.21 1738.18h0M963.21 1786.1h0M963.21 1789.29h0M963.21 1794.17h0M963.21 1797.85h0M963.21 1798.98h0M969.92 1740.42h0M969.92 1738.18h0M969.92 1782.5h0M969.92 1786.99h0M969.92 1790.93h0M969.92 1793.44h0M969.92 1798.48h0M969.92 1798.98h0M976.62 1743.04h0M976.62 1741.14h0M976.62 1781.91h0M976.62 1786.85h0M976.62 1790.02h0M976.62 1792.61h0M976.62 1796.33h0M976.62 1798.98h0M983.33 1740.43h0M983.33 1739.66h0M983.33 1787.5h0M983.33 1789.7h0M983.33 1794.83h0M983.33 1798.98h0M990.04 1742.38h0M990.04 1739.66h0M990.04 1788.04h0M990.04 1790.95h0M990.04 1793.65h0M990.04 1796.93h0M990.04 1802.4h0M990.04 1807.89h0M990.04 1810.85h0M996.75 1741.29h0M996.75 1738.28h0M996.75 1738.18h0M996.75 1789.56h0M996.75 1794.1h0M996.75 1797.13h0M996.75 1802.55h0M996.75 1804.61h0M996.75 1809.43h0M996.75 1812.63h0M996.75 1815.12h0M996.75 1815.3h0M1003.45 1739.66h0M1003.45 1781.03h0M1003.45 1783.68h0M1003.45 1787.2h0M1003.45 1792.39h0M1003.45 1795.15h0M1003.45 1798.98h0M1010.16 1740.14h0M1010.16 1737.51h0M1010.16 1736.69h0M1010.16 1783.36h0M1010.16 1786.05h0M1010.16 1788.33h0M1010.16 1790.64h0M1010.16 1794.77h0M1010.16 1798.5h0M1010.16 1798.98h0M1016.87 1739.43h0M1016.87 1736.69h0M1016.87 1782.99h0M1016.87 1787.83h0M1016.87 1791.87h0M1016.87 1794.58h0M1016.87 1796.81h0M1016.87 1798.98h0M1023.58 1739.97h0M1023.58 1738.18h0M1023.58 1784.27h0M1023.58 1789.11h0M1023.58 1792.28h0M1023.58 1797.23h0M1023.58 1798.98h0M1119.31 1792.27h0M1119.31 1794.32h0M1119.31 1799.51h0M1119.31 1799.58h0M1126.02 1786.12h0M1126.02 1789.05h0M1126.02 1790.68h0M1146.14 1774h0M1146.14 1777.28h0M1146.14 1777.63h0M1152.85 1781.76h0M1152.85 1785.84h0M1152.85 1787.71h0M1166.26 1775.51h0M1166.26 1779.07h0M1166.26 1782.88h0M1166.26 1785.3h0M1166.26 1788.6h0M1179.68 1746.96h0M1179.68 1741.93h0M1179.68 1741.14h0M1199.8 1775.95h0M1199.8 1779.28h0M1199.8 1783.56h0M1240.05 1774.15h0M1240.05 1775.85h0M1260.17 1764.87h0M1282.12 1748.56h0M1282.12 1801.67h0M1282.12 1805.52h0M1282.12 1809.4h0M1282.12 1811.48h0M1282.12 1816.78h0M1288.83 1749.34h0M1288.83 1746.7h0M1288.83 1745.59h0M1288.83 1802.97h0M1288.83 1807.83h0M1288.83 1809.94h0M1288.83 1812.27h0M1288.83 1816.72h0M1288.83 1816.78h0M1295.54 1806.98h0M1295.54 1811.07h0M1295.54 1815.09h0M1295.54 1818.26h0M1302.25 1800.92h0M1302.25 1803.28h0M1302.25 1808.32h0M1302.25 1812.33h0M1315.66 1783.05h0M1315.66 1785.48h0M1315.66 1785.64h0M1322.37 1787.12h0M1329.08 1787.71h0M1349.2 1780.2h0M1349.2 1782.67h0M1355.91 1790.08h0M1362.61 1742.63h0M1362.61 1792.13h0M1362.61 1794.65h0M1362.61 1798.65h0M1362.61 1803.27h0M1362.61 1805.84h0M1362.61 1806.4h0M1369.32 1809.46h0M1369.32 1812.82h0M1369.32 1815.3h0M1376.03 1787.12h0M1382.74 1805.79h0M1382.74 1807.88h0M1389.44 1796.12h0M1389.44 1800.84h0M1389.44 1804.02h0M1389.44 1804.92h0M1396.15 1806.9h0M1396.15 1810.43h0M1396.15 1812.33h0M1402.86 1808.54h0M1402.86 1812.33h0M1409.56 1816.74h0M1409.56 1816.78h0M1416.27 1809.33h0M1416.27 1813.14h0M1416.27 1816.78h0M1422.98 1812.85h0M1422.98 1815.73h0M1422.98 1816.78h0M1429.69 1818.26h0M1436.39 1816.72h0M1436.39 1818.26h0M1443.1 1818.26h0M1449.81 1805.17h0M1449.81 1808.93h0M1449.81 1810.85h0M1463.22 1813.81h0M1490.05 1816.78h0M1496.76 1816.78h0M1503.47 1818.26h0M1510.18 1752.05h0M1510.18 1748.56h0M1525.42 1790.82h0M1525.42 1793.64h0M1532.13 1785.53h0M1532.13 1789.78h0M1532.13 1790.08h0M1538.84 1797.96h0M1538.84 1800.92h0M1538.84 1801.95h0M1565.67 1788.6h0M1592.5 1796.02h0M1599.21 1800.38h0M1599.21 1804.2h0M1599.21 1807.72h0M1599.21 1813.04h0M1599.21 1816.05h0M1599.21 1816.19h0M1612.62 1805.51h0M1659.57 1755.51h0M1659.57 1754.49h0M1659.57 1818.26h0M1666.28 1758.94h0M1672.99 1761.04h0M1672.99 1757.41h0M1672.99 1753.54h0M1672.99 1751.02h0M1672.99 1748.59h0M1672.99 1748.56h0M1679.69 1764.51h0M1679.69 1761.09h0M1679.69 1758.08h0M1679.69 1755.23h0M1679.69 1752.92h0M1679.69 1751.53h0M1686.4 1767.23h0M1686.4 1763.1h0M1686.4 1759.1h0M1686.4 1757.46h0M1693.11 1759.38h0M1693.11 1754.89h0M1693.11 1754.49h0M1699.82 1769.38h0M1699.82 1765.23h0M1699.82 1761.59h0M1699.82 1758.51h0M1699.82 1755.97h0M1706.52 1768.74h0M1706.52 1764.95h0M1706.52 1761.61h0M1706.52 1757.56h0M1706.52 1755.97h0M1713.23 1777.06h0M1713.23 1772.05h0M1713.23 1769.21h0M1713.23 1765.26h0M1713.23 1764.87h0M1719.94 1777h0M1719.94 1771.55h0M1719.94 1768.51h0M1719.94 1763.81h0M1719.94 1763.39h0M1726.65 1774.21h0M1726.65 1769.16h0M1726.65 1765.62h0M1726.65 1763.4h0M1726.65 1760.04h0M1726.65 1756.5h0M1726.65 1754.49h0M1733.35 1769.91h0M1733.35 1767.12h0M1733.35 1766.36h0M1740.06 1770.49h0M1740.06 1767.95h0M1740.06 1764.87h0M1746.77 1768.58h0M1746.77 1764.22h0M1746.77 1760.06h0M1746.77 1755.08h0M1746.77 1754.49h0" stroke="#111" stroke-width="1.8" stroke-linecap="round"/>
<path d="M103.19 1761.02h5.37v7.71h-5.37zM346.49 1758.05h5.37v12.75h-5.37zM589.79 1773.77h5.37v13.94h-5.37zM833.09 1766.95h5.37v14.24h-5.37zM1319.69 1753.01h5.37v10.97h-5.37zM1562.99 1761.02h5.37v9.79h-5.37z" fill="#C8C030" stroke="#333" stroke-width="0.9"/>
<path d="M109.89 1760.42h5.37v7.42h-5.37zM353.19 1762.8h5.37v8.01h-5.37zM596.49 1777.63h5.37v13.94h-5.37zM839.79 1767.84h5.37v13.35h-5.37zM1326.39 1754.49h5.37v11.86h-5.37zM1569.69 1762.8h5.37v18.98h-5.37z" fill="#A8B060" stroke="#333" stroke-width="0.9"/>
<path d="M116.6 1759.83h5.37v8.01h-5.37zM359.9 1761.91h5.37v7.42h-5.37zM603.2 1770.81h5.37v17.8h-5.37zM846.5 1763.39h5.37v14.83h-5.37zM1333.1 1756.86h5.37v16.02h-5.37zM1576.4 1762.8h5.37v9.49h-5.37z" fill="#A0B050" stroke="#333" stroke-width="0.9"/>
<path d="M123.31 1769.32h5.37v11.27h-5.37zM366.61 1771.69h5.37v13.05h-5.37zM609.91 1778.81h5.37v18.69h-5.37zM853.21 1765.76h5.37v18.98h-5.37zM1339.81 1755.97h5.37v10.38h-5.37zM1583.11 1768.73h5.37v14.83h-5.37z" fill="#D0F870" stroke="#333" stroke-width="0.9"/>
<path d="M130.02 1758.94h5.37v9.79h-5.37zM373.32 1761.02h5.37v13.64h-5.37zM616.62 1764.87h5.37v16.31h-5.37zM859.92 1756.86h5.37v13.94h-5.37zM1103.22 1753.9h5.37v10.08h-5.37zM1346.52 1752.12h5.37v8.31h-5.37zM1589.82 1759.83h5.37v11.86h-5.37z" fill="#B0F060" stroke="#333" stroke-width="0.9"/>
<path d="M136.72 1765.76h5.37v15.42h-5.37zM380.02 1767.84h5.37v13.35h-5.37zM623.32 1769.32h5.37v18.39h-5.37zM866.62 1756.86h5.37v13.94h-5.37zM1109.92 1756.86h5.37v17.8h-5.37zM1353.22 1755.97h5.37v12.75h-5.37zM1596.52 1759.83h5.37v10.08h-5.37z" fill="#80F040" stroke="#333" stroke-width="0.9"/>
<path d="M143.43 1761.91h5.37v13.94h-5.37zM386.73 1765.76h5.37v13.94h-5.37zM630.03 1760.42h5.37v20.17h-5.37zM873.33 1752.12h5.37v9.79h-5.37zM1116.63 1759.83h5.37v18.39h-5.37zM1359.93 1753.01h5.37v5.93h-5.37zM1603.23 1757.46h5.37v10.38h-5.37z" fill="#60E830" stroke="#333" stroke-width="0.9"/>
<path d="M150.14 1771.69h5.37v18.98h-5.37zM393.44 1774.66h5.37v15.42h-5.37zM636.74 1763.39h5.37v19.28h-5.37zM880.04 1753.9h5.37v12.46h-5.37zM1123.34 1760.42h5.37v10.38h-5.37zM1366.64 1755.97h5.37v14.83h-5.37zM1609.94 1764.87h5.37v13.94h-5.37z" fill="#50E030" stroke="#333" stroke-width="0.9"/>
<path d="M156.84 1776.74h5.37v13.35h-5.37zM400.14 1776.74h5.37v17.8h-5.37zM643.44 1765.76h5.37v19.87h-5.37zM886.74 1758.05h5.37v10.68h-5.37zM1130.04 1761.02h5.37v7.71h-5.37zM1373.34 1756.86h5.37v10.97h-5.37zM1616.64 1768.73h5.37v20.76h-5.37z" fill="#70D080" stroke="#333" stroke-width="0.9"/>
<path d="M163.55 1777.63h5.37v15.42h-5.37zM406.85 1777.63h5.37v12.46h-5.37zM650.15 1761.91h5.37v12.75h-5.37zM893.45 1756.86h5.37v8.01h-5.37zM1136.75 1761.91h5.37v9.79h-5.37zM1380.05 1757.46h5.37v15.42h-5.37zM1623.35 1766.95h5.37v14.83h-5.37z" fill="#68C888" stroke="#333" stroke-width="0.9"/>
<path d="M170.26 1778.81h5.37v17.8h-5.37zM413.56 1782.67h5.37v12.75h-5.37zM656.86 1761.02h5.37v17.2h-5.37zM900.16 1756.86h5.37v8.01h-5.37zM1143.46 1758.05h5.37v2.97h-5.37zM1386.76 1754.49h5.37v8.9h-5.37zM1630.06 1774.66h5.37v15.42h-5.37z" fill="#60C090" stroke="#333" stroke-width="0.9"/>
<path d="M176.97 1774.66h5.37v17.8h-5.37zM420.27 1775.85h5.37v16.61h-5.37zM663.57 1758.94h5.37v15.72h-5.37zM906.87 1755.08h5.37v10.68h-5.37zM1150.17 1761.91h5.37v7.42h-5.37zM1393.47 1758.05h5.37v14.83h-5.37zM1636.77 1770.81h5.37v19.87h-5.37z" fill="#50B088" stroke="#333" stroke-width="0.9"/>
<path d="M183.67 1775.85h5.37v16.61h-5.37zM426.97 1781.19h5.37v14.83h-5.37zM670.27 1755.97h5.37v12.75h-5.37zM913.57 1753.01h5.37v7.42h-5.37zM1156.87 1762.8h5.37v8.9h-5.37zM1400.17 1758.05h5.37v14.83h-5.37zM1643.47 1774.66h5.37v14.83h-5.37z" fill="#80F0F0" stroke="#333" stroke-width="0.9"/>
<path d="M190.38 1775.25h5.37v18.39h-5.37zM433.68 1781.19h5.37v14.83h-5.37zM676.98 1756.86h5.37v11.86h-5.37zM920.28 1754.49h5.37v8.31h-5.37zM1163.58 1755.97h5.37v3.86h-5.37zM1406.88 1758.05h5.37v19.58h-5.37zM1650.18 1778.22h5.37v18.39h-5.37z" fill="#70F0F0" stroke="#333" stroke-width="0.9"/>
<path d="M197.09 1775.85h5.37v14.83h-5.37zM440.39 1781.78h5.37v13.64h-5.37zM683.69 1759.83h5.37v13.05h-5.37zM926.99 1755.08h5.37v6.82h-5.37zM1170.29 1756.86h5.37v5.93h-5.37zM1413.59 1760.42h5.37v14.83h-5.37zM1656.89 1779.7h5.37v13.94h-5.37z" fill="#80F0F8" stroke="#333" stroke-width="0.9"/>
<path d="M203.8 1778.81h5.37v14.24h-5.37zM447.1 1784.15h5.37v11.86h-5.37zM690.4 1757.46h5.37v9.49h-5.37zM933.7 1753.9h5.37v5.93h-5.37zM1177 1755.97h5.37v2.08h-5.37zM1420.3 1759.83h5.37v15.42h-5.37zM1663.6 1785.64h5.37v14.83h-5.37z" fill="#98E8F0" stroke="#333" stroke-width="0.9"/>
<path d="M210.5 1778.81h5.37v18.69h-5.37zM453.8 1781.78h5.37v19.58h-5.37zM697.1 1755.08h5.37v11.86h-5.37zM940.4 1753.01h5.37v7.42h-5.37zM1183.7 1755.08h5.37v4.75h-5.37zM1427 1761.91h5.37v19.87h-5.37zM1670.3 1790.08h5.37v14.83h-5.37z" fill="#70B8E0" stroke="#333" stroke-width="0.9"/>
<path d="M217.21 1781.19h5.37v13.35h-5.37zM460.51 1781.78h5.37v17.2h-5.37zM703.81 1754.49h5.37v10.38h-5.37zM947.11 1752.12h5.37v6.82h-5.37zM1190.41 1755.08h5.37v4.75h-5.37zM1433.71 1761.91h5.37v18.69h-5.37zM1677.01 1790.68h5.37v12.75h-5.37z" fill="#5898E0" stroke="#333" stroke-width="0.9"/>
<path d="M223.92 1787.71h5.37v15.72h-5.37zM467.22 1789.49h5.37v14.83h-5.37zM710.52 1758.05h5.37v12.75h-5.37zM953.82 1754.49h5.37v8.9h-5.37zM1197.12 1753.9h5.37v7.12h-5.37zM1440.42 1765.76h5.37v19.87h-5.37zM1683.72 1793.64h5.37v11.86h-5.37z" fill="#4070D0" stroke="#333" stroke-width="0.9"/>
<path d="M230.63 1771.69h5.37v13.94h-5.37zM473.93 1772.29h5.37v15.42h-5.37zM717.23 1755.08h5.37v5.93h-5.37zM960.53 1753.01h5.37v7.42h-5.37zM1447.13 1759.83h5.37v13.05h-5.37zM1690.43 1783.56h5.37v13.05h-5.37z" fill="#3040C0" stroke="#333" stroke-width="0.9"/>
<path d="M237.33 1781.78h5.37v15.72h-5.37zM480.63 1779.7h5.37v19.28h-5.37zM723.93 1755.97h5.37v6.82h-5.37zM967.23 1753.01h5.37v5.93h-5.37zM1453.83 1770.81h5.37v19.28h-5.37zM1697.13 1795.42h5.37v11.86h-5.37z" fill="#2020D0" stroke="#333" stroke-width="0.9"/>
<path d="M244.04 1781.78h5.37v16.61h-5.37zM487.34 1779.7h5.37v18.69h-5.37zM730.64 1756.86h5.37v6.53h-5.37zM973.94 1754.49h5.37v4.45h-5.37zM1217.24 1753.9h5.37v2.97h-5.37zM1460.54 1770.81h5.37v15.72h-5.37zM1703.84 1794.53h5.37v12.75h-5.37z" fill="#2020F0" stroke="#333" stroke-width="0.9"/>
<path d="M250.75 1790.68h5.37v11.27h-5.37zM494.05 1782.67h5.37v19.87h-5.37zM737.35 1759.83h5.37v8.9h-5.37zM980.65 1755.97h5.37v5.93h-5.37zM1223.95 1754.49h5.37v1.48h-5.37zM1467.25 1773.77h5.37v18.69h-5.37zM1710.55 1798.39h5.37v9.49h-5.37z" fill="#C0A0F8" stroke="#333" stroke-width="0.9"/>
<path d="M257.46 1782.67h5.37v16.31h-5.37zM500.76 1779.7h5.37v21.65h-5.37zM744.06 1757.46h5.37v5.93h-5.37zM987.36 1754.49h5.37v5.34h-5.37zM1230.66 1752.12h5.37v3.86h-5.37zM1473.96 1772.29h5.37v18.39h-5.37zM1717.26 1798.39h5.37v9.49h-5.37z" fill="#B080F0" stroke="#333" stroke-width="0.9"/>
<path d="M264.16 1785.64h5.37v14.83h-5.37zM507.46 1783.56h5.37v17.8h-5.37zM750.76 1758.05h5.37v8.31h-5.37zM994.06 1753.9h5.37v5.93h-5.37zM1237.36 1753.9h5.37v8.9h-5.37zM1480.66 1774.66h5.37v16.91h-5.37zM1723.96 1797.5h5.37v10.38h-5.37z" fill="#B060F0" stroke="#333" stroke-width="0.9"/>
<path d="M270.87 1778.22h5.37v14.83h-5.37zM514.17 1776.74h5.37v16.31h-5.37zM757.47 1755.08h5.37v6.82h-5.37zM1000.77 1751.53h5.37v4.45h-5.37zM1244.07 1745h5.37v5.04h-5.37zM1487.37 1766.95h5.37v18.69h-5.37zM1730.67 1791.57h5.37v11.86h-5.37z" fill="#C040F0" stroke="#333" stroke-width="0.9"/>
<path d="M277.58 1781.78h5.37v13.64h-5.37zM520.88 1777.63h5.37v16.02h-5.37zM764.18 1755.97h5.37v8.9h-5.37zM1007.48 1752.12h5.37v5.34h-5.37zM1494.08 1768.73h5.37v16.91h-5.37zM1737.38 1793.64h5.37v10.68h-5.37z" fill="#D040E8" stroke="#333" stroke-width="0.9"/>
<path d="M284.29 1781.78h5.37v13.64h-5.37zM527.59 1778.22h5.37v16.31h-5.37zM770.89 1755.97h5.37v6.82h-5.37zM1014.19 1751.53h5.37v5.34h-5.37zM1257.49 1750.93h5.37v4.15h-5.37zM1500.79 1769.92h5.37v17.2h-5.37zM1744.09 1793.05h5.37v11.27h-5.37z" fill="#C030D0" stroke="#333" stroke-width="0.9"/>
<path d="M290.99 1789.49h5.37v12.46h-5.37zM534.29 1785.64h5.37v12.75h-5.37zM777.59 1759.83h5.37v8.9h-5.37zM1020.89 1754.49h5.37v6.53h-5.37zM1264.19 1755.97h5.37v5.04h-5.37zM1507.49 1782.67h5.37v16.31h-5.37zM1750.79 1783.56h5.37v18.39h-5.37z" fill="#909090" stroke="#333" stroke-width="0.9"/>
<path d="M319.66 1764.87h5.37v11.86h-5.37zM562.96 1773.77h5.37v22.84h-5.37zM806.26 1761.91h5.37v12.75h-5.37zM1292.86 1760.42h5.37v12.46h-5.37zM1536.16 1762.8h5.37v10.08h-5.37z" fill="#F09070" stroke="#333" stroke-width="0.9"/>
<path d="M326.36 1766.36h5.37v4.45h-5.37zM569.66 1768.73h5.37v16.91h-5.37zM812.96 1763.98h5.37v13.64h-5.37zM1299.56 1756.86h5.37v9.49h-5.37zM1542.86 1759.83h5.37v13.05h-5.37z" fill="#F09040" stroke="#333" stroke-width="0.9"/>
<path d="M333.07 1766.95h5.37v7.71h-5.37zM576.37 1764.87h5.37v15.72h-5.37zM819.67 1761.91h5.37v10.97h-5.37zM1306.27 1750.93h5.37v8.9h-5.37zM1549.57 1758.05h5.37v8.31h-5.37z" fill="#E89838" stroke="#333" stroke-width="0.9"/>
<path d="M339.78 1751.53h5.37v3.56h-5.37zM583.08 1773.77h5.37v12.75h-5.37zM826.38 1767.84h5.37v12.75h-5.37zM1312.98 1753.9h5.37v8.9h-5.37zM1556.28 1759.83h5.37v7.12h-5.37z" fill="#E0A838" stroke="#333" stroke-width="0.9"/>
<path d="M792.84 1758.94h5.37v11.86h-5.37zM1279.44 1761.91h5.37v6.82h-5.37zM1522.74 1755.97h5.37v9.79h-5.37z" fill="#F4A0A0" stroke="#333" stroke-width="0.9"/>
<path d="M799.55 1765.76h5.37v9.49h-5.37zM1286.15 1764.87h5.37v7.42h-5.37zM1529.45 1760.42h5.37v7.42h-5.37z" fill="#F4A090" stroke="#333" stroke-width="0.9"/>
<path d="M103.19 1764.87H108.55M109.89 1763.39H115.26M116.6 1763.98H121.97M123.31 1773.77H128.67M130.02 1761.02H135.38M136.72 1770.81H142.09M143.43 1765.76H148.8M150.14 1781.19H155.5M156.84 1782.67H162.21M163.55 1782.67H168.92M170.26 1787.71H175.63M176.97 1781.19H182.33M183.67 1783.56H189.04M190.38 1782.67H195.75M197.09 1782.67H202.46M203.8 1784.15H209.16M210.5 1786.53H215.87M217.21 1787.71H222.58M223.92 1794.53H229.28M230.63 1777.63H235.99M237.33 1790.08H242.7M244.04 1790.08H249.41M250.75 1796.02H256.11M257.46 1789.49H262.82M264.16 1793.64H269.53M270.87 1786.53H276.24M277.58 1787.71H282.94M284.29 1787.71H289.65M290.99 1796.02H296.36M319.66 1769.32H325.02M326.36 1768.73H331.73M333.07 1770.81H338.44M339.78 1753.31H345.14M346.49 1764.87H351.85M353.19 1764.87H358.56M359.9 1764.87H365.27M366.61 1776.74H371.97M373.32 1764.87H378.68M380.02 1772.29H385.39M386.73 1772.88H392.1M393.44 1781.19H398.8M400.14 1785.64H405.51M406.85 1781.19H412.22M413.56 1787.71H418.93M420.27 1781.19H425.63M426.97 1787.12H432.34M433.68 1787.12H439.05M440.39 1787.12H445.76M447.1 1789.49H452.46M453.8 1792.46H459.17M460.51 1790.08H465.88M467.22 1796.02H472.58M473.93 1780.59H479.29M480.63 1789.49H486M487.34 1789.49H492.71M494.05 1793.64H499.41M500.76 1791.57H506.12M507.46 1792.46H512.83M514.17 1784.75H519.54M520.88 1785.64H526.24M527.59 1787.71H532.95M534.29 1793.64H539.66M562.96 1782.67H568.32M569.66 1775.85H575.03M576.37 1772.29H581.74M583.08 1779.7H588.44M589.79 1780.59H595.15M596.49 1783.56H601.86M603.2 1779.7H608.57M609.91 1788.6H615.27M616.62 1772.29H621.98M623.32 1778.22H628.69M630.03 1769.32H635.4M636.74 1773.77H642.1M643.44 1773.77H648.81M650.15 1766.95H655.52M656.86 1766.95H662.23M663.57 1764.87H668.93M670.27 1761.02H675.64M676.98 1761.91H682.35M683.69 1763.98H689.06M690.4 1761.02H695.76M697.1 1758.94H702.47M703.81 1758.94H709.18M710.52 1762.8H715.88M717.23 1757.46H722.59M723.93 1758.05H729.3M730.64 1759.83H736.01M737.35 1763.39H742.71M744.06 1759.83H749.42M750.76 1762.8H756.13M757.47 1758.05H762.84M764.18 1760.42H769.54M770.89 1758.05H776.25M777.59 1763.98H782.96M792.84 1761.91H798.21M799.55 1769.92H804.91M806.26 1766.36H811.62M812.96 1769.92H818.33M819.67 1764.87H825.04M826.38 1771.69H831.74M833.09 1771.69H838.45M839.79 1772.29H845.16M846.5 1769.32H851.87M853.21 1770.81H858.57M859.92 1760.42H865.28M866.62 1760.42H871.99M873.33 1755.08H878.7M880.04 1757.46H885.4M886.74 1761.02H892.11M893.45 1759.83H898.82M900.16 1759.83H905.53M906.87 1758.05H912.23M913.57 1755.97H918.94M920.28 1756.86H925.65M926.99 1757.46H932.36M933.7 1755.97H939.06M940.4 1755.97H945.77M947.11 1755.08H952.48M953.82 1758.05H959.18M960.53 1755.97H965.89M967.23 1755.08H972.6M973.94 1755.97H979.31M980.65 1758.05H986.01M987.36 1755.97H992.72M994.06 1755.97H999.43M1000.77 1753.01H1006.14M1007.48 1754.49H1012.84M1014.19 1753.9H1019.55M1020.89 1756.86H1026.26M1103.22 1758.94H1108.58M1109.92 1761.91H1115.29M1116.63 1769.32H1122M1123.34 1763.39H1128.7M1130.04 1765.76H1135.41M1136.75 1764.87H1142.12M1143.46 1759.83H1148.83M1150.17 1764.87H1155.53M1156.87 1766.95H1162.24M1163.58 1757.46H1168.95M1170.29 1758.94H1175.66M1177 1756.86H1182.36M1183.7 1756.86H1189.07M1190.41 1756.86H1195.78M1197.12 1755.97H1202.48M1217.24 1755.08H1222.61M1223.95 1755.08H1229.31M1230.66 1753.9H1236.02M1237.36 1757.46H1242.73M1244.07 1747.08H1249.44M1257.49 1753.01H1262.85M1264.19 1758.05H1269.56M1279.44 1764.87H1284.81M1286.15 1767.84H1291.51M1292.86 1765.76H1298.22M1299.56 1761.91H1304.93M1306.27 1754.49H1311.64M1312.98 1755.97H1318.34M1319.69 1756.86H1325.05M1326.39 1758.94H1331.76M1333.1 1763.39H1338.47M1339.81 1758.05H1345.17M1346.52 1755.08H1351.88M1353.22 1758.94H1358.59M1359.93 1754.49H1365.3M1366.64 1759.83H1372M1373.34 1760.42H1378.71M1380.05 1761.02H1385.42M1386.76 1755.97H1392.13M1393.47 1763.39H1398.83M1400.17 1763.39H1405.54M1406.88 1765.76H1412.25M1413.59 1765.76H1418.96M1420.3 1765.76H1425.66M1427 1767.84H1432.37M1433.71 1767.84H1439.08M1440.42 1773.77H1445.78M1447.13 1764.87H1452.49M1453.83 1776.74H1459.2M1460.54 1776.74H1465.91M1467.25 1780.59H1472.61M1473.96 1780.59H1479.32M1480.66 1780.59H1486.03M1487.37 1772.29H1492.74M1494.08 1776.74H1499.44M1500.79 1776.74H1506.15M1507.49 1790.08H1512.86M1522.74 1760.42H1528.11M1529.45 1763.39H1534.81M1536.16 1764.87H1541.52M1542.86 1763.98H1548.23M1549.57 1761.02H1554.94M1556.28 1762.8H1561.64M1562.99 1764.87H1568.35M1569.69 1770.81H1575.06M1576.4 1766.95H1581.77M1583.11 1774.66H1588.47M1589.82 1762.8H1595.18M1596.52 1763.98H1601.89M1603.23 1760.42H1608.6M1609.94 1772.29H1615.3M1616.64 1777.63H1622.01M1623.35 1774.66H1628.72M1630.06 1780.59H1635.43M1636.77 1778.81H1642.13M1643.47 1781.19H1648.84M1650.18 1786.53H1655.55M1656.89 1785.64H1662.26M1663.6 1793.64H1668.96M1670.3 1797.5H1675.67M1677.01 1797.5H1682.38M1683.72 1800.47H1689.08M1690.43 1789.49H1695.79M1697.13 1800.47H1702.5M1703.84 1800.47H1709.21M1710.55 1803.43H1715.91M1717.26 1803.43H1722.62M1723.96 1801.95H1729.33M1730.67 1796.02H1736.04M1737.38 1797.5H1742.74M1744.09 1797.5H1749.45M1750.79 1793.05H1756.16" stroke="#222" stroke-width="1.3"/>
<path d="M76.36 1771.69h5.37M83.06 1772.58h5.37M1089.8 1761.91h5.37M1096.51 1772.58h5.37M1203.83 1758.94h5.37M1210.53 1748.56h5.37M1250.78 1755.97h5.37" stroke="#222" stroke-width="1.8"/>
<rect x="62.15" y="1551.75" width="235" height="129.45" fill="none" stroke="#555" stroke-width="1.1"/>
<rect x="305.45" y="1551.75" width="235" height="129.45" fill="none" stroke="#555" stroke-width="1.1"/>
<rect x="548.75" y="1551.75" width="235" height="129.45" fill="none" stroke="#555" stroke-width="1.1"/>
<rect x="792.05" y="1551.75" width="235" height="129.45" fill="none" stroke="#555" stroke-width="1.1"/>
<rect x="1035.35" y="1551.75" width="235" height="129.45" fill="none" stroke="#555" stroke-width="1.1"/>
<rect x="1278.65" y="1551.75" width="235" height="129.45" fill="none" stroke="#555" stroke-width="1.1"/>
<rect x="1521.95" y="1551.75" width="235" height="129.45" fill="none" stroke="#555" stroke-width="1.1"/>
<rect x="1765.25" y="1551.75" width="235" height="129.45" fill="none" stroke="#555" stroke-width="1.1"/>
<rect x="62.15" y="1714.25" width="235" height="129.45" fill="none" stroke="#555" stroke-width="1.1"/>
<rect x="305.45" y="1714.25" width="235" height="129.45" fill="none" stroke="#555" stroke-width="1.1"/>
<rect x="548.75" y="1714.25" width="235" height="129.45" fill="none" stroke="#555" stroke-width="1.1"/>
<rect x="792.05" y="1714.25" width="235" height="129.45" fill="none" stroke="#555" stroke-width="1.1"/>
<rect x="1035.35" y="1714.25" width="235" height="129.45" fill="none" stroke="#555" stroke-width="1.1"/>
<rect x="1278.65" y="1714.25" width="235" height="129.45" fill="none" stroke="#555" stroke-width="1.1"/>
<rect x="1521.95" y="1714.25" width="235" height="129.45" fill="none" stroke="#555" stroke-width="1.1"/>
<path d="M65.62 1844.25v3.4M72.33 1844.25v3.4M79.04 1844.25v3.4M85.75 1844.25v3.4M92.45 1844.25v3.4M99.16 1844.25v3.4M105.87 1844.25v3.4M112.58 1844.25v3.4M119.28 1844.25v3.4M125.99 1844.25v3.4M132.7 1844.25v3.4M139.41 1844.25v3.4M146.11 1844.25v3.4M152.82 1844.25v3.4M159.53 1844.25v3.4M166.24 1844.25v3.4M172.94 1844.25v3.4M179.65 1844.25v3.4M186.36 1844.25v3.4M193.06 1844.25v3.4M199.77 1844.25v3.4M206.48 1844.25v3.4M213.19 1844.25v3.4M219.89 1844.25v3.4M226.6 1844.25v3.4M233.31 1844.25v3.4M240.02 1844.25v3.4M246.72 1844.25v3.4M253.43 1844.25v3.4M260.14 1844.25v3.4M266.85 1844.25v3.4M273.55 1844.25v3.4M280.26 1844.25v3.4M286.97 1844.25v3.4M293.68 1844.25v3.4" stroke="#333333" stroke-width="1.1"/>
<text transform="translate(65.62,1851.05) rotate(-90)" x="0" y="0" dy="0.36em" font-size="13.8" text-anchor="end" fill="#444444">E11.5</text>
<text transform="translate(79.04,1851.05) rotate(-90)" x="0" y="0" dy="0.36em" font-size="13.8" text-anchor="end" fill="#444444">E13.5</text>
<text transform="translate(92.45,1851.05) rotate(-90)" x="0" y="0" dy="0.36em" font-size="13.8" text-anchor="end" fill="#444444">E15.5</text>
<text transform="translate(105.87,1851.05) rotate(-90)" x="0" y="0" dy="0.36em" font-size="13.8" text-anchor="end" fill="#444444">E17</text>
<text transform="translate(119.28,1851.05) rotate(-90)" x="0" y="0" dy="0.36em" font-size="13.8" text-anchor="end" fill="#444444">E18</text>
<text transform="translate(132.7,1851.05) rotate(-90)" x="0" y="0" dy="0.36em" font-size="13.8" text-anchor="end" fill="#444444">P0</text>
<text transform="translate(146.11,1851.05) rotate(-90)" x="0" y="0" dy="0.36em" font-size="13.8" text-anchor="end" fill="#444444">P2</text>
<text transform="translate(159.53,1851.05) rotate(-90)" x="0" y="0" dy="0.36em" font-size="13.8" text-anchor="end" fill="#444444">P4</text>
<text transform="translate(172.94,1851.05) rotate(-90)" x="0" y="0" dy="0.36em" font-size="13.8" text-anchor="end" fill="#444444">P6</text>
<text transform="translate(186.36,1851.05) rotate(-90)" x="0" y="0" dy="0.36em" font-size="13.8" text-anchor="end" fill="#444444">P8</text>
<text transform="translate(199.77,1851.05) rotate(-90)" x="0" y="0" dy="0.36em" font-size="13.8" text-anchor="end" fill="#444444">P10</text>
<text transform="translate(213.19,1851.05) rotate(-90)" x="0" y="0" dy="0.36em" font-size="13.8" text-anchor="end" fill="#444444">P12</text>
<text transform="translate(226.6,1851.05) rotate(-90)" x="0" y="0" dy="0.36em" font-size="13.8" text-anchor="end" fill="#444444">P14</text>
<text transform="translate(240.02,1851.05) rotate(-90)" x="0" y="0" dy="0.36em" font-size="13.8" text-anchor="end" fill="#444444">P16</text>
<text transform="translate(253.43,1851.05) rotate(-90)" x="0" y="0" dy="0.36em" font-size="13.8" text-anchor="end" fill="#444444">P19</text>
<text transform="translate(266.85,1851.05) rotate(-90)" x="0" y="0" dy="0.36em" font-size="13.8" text-anchor="end" fill="#444444">P21</text>
<text transform="translate(280.26,1851.05) rotate(-90)" x="0" y="0" dy="0.36em" font-size="13.8" text-anchor="end" fill="#444444">P25</text>
<text transform="translate(293.68,1851.05) rotate(-90)" x="0" y="0" dy="0.36em" font-size="13.8" text-anchor="end" fill="#444444">P56</text>
<path d="M308.92 1844.25v3.4M315.63 1844.25v3.4M322.34 1844.25v3.4M329.05 1844.25v3.4M335.75 1844.25v3.4M342.46 1844.25v3.4M349.17 1844.25v3.4M355.88 1844.25v3.4M362.58 1844.25v3.4M369.29 1844.25v3.4M376 1844.25v3.4M382.71 1844.25v3.4M389.41 1844.25v3.4M396.12 1844.25v3.4M402.83 1844.25v3.4M409.54 1844.25v3.4M416.24 1844.25v3.4M422.95 1844.25v3.4M429.66 1844.25v3.4M436.36 1844.25v3.4M443.07 1844.25v3.4M449.78 1844.25v3.4M456.49 1844.25v3.4M463.19 1844.25v3.4M469.9 1844.25v3.4M476.61 1844.25v3.4M483.32 1844.25v3.4M490.02 1844.25v3.4M496.73 1844.25v3.4M503.44 1844.25v3.4M510.15 1844.25v3.4M516.85 1844.25v3.4M523.56 1844.25v3.4M530.27 1844.25v3.4M536.98 1844.25v3.4" stroke="#333333" stroke-width="1.1"/>
<text transform="translate(308.92,1851.05) rotate(-90)" x="0" y="0" dy="0.36em" font-size="13.8" text-anchor="end" fill="#444444">E11.5</text>
<text transform="translate(322.34,1851.05) rotate(-90)" x="0" y="0" dy="0.36em" font-size="13.8" text-anchor="end" fill="#444444">E13.5</text>
<text transform="translate(335.75,1851.05) rotate(-90)" x="0" y="0" dy="0.36em" font-size="13.8" text-anchor="end" fill="#444444">E15.5</text>
<text transform="translate(349.17,1851.05) rotate(-90)" x="0" y="0" dy="0.36em" font-size="13.8" text-anchor="end" fill="#444444">E17</text>
<text transform="translate(362.58,1851.05) rotate(-90)" x="0" y="0" dy="0.36em" font-size="13.8" text-anchor="end" fill="#444444">E18</text>
<text transform="translate(376,1851.05) rotate(-90)" x="0" y="0" dy="0.36em" font-size="13.8" text-anchor="end" fill="#444444">P0</text>
<text transform="translate(389.41,1851.05) rotate(-90)" x="0" y="0" dy="0.36em" font-size="13.8" text-anchor="end" fill="#444444">P2</text>
<text transform="translate(402.83,1851.05) rotate(-90)" x="0" y="0" dy="0.36em" font-size="13.8" text-anchor="end" fill="#444444">P4</text>
<text transform="translate(416.24,1851.05) rotate(-90)" x="0" y="0" dy="0.36em" font-size="13.8" text-anchor="end" fill="#444444">P6</text>
<text transform="translate(429.66,1851.05) rotate(-90)" x="0" y="0" dy="0.36em" font-size="13.8" text-anchor="end" fill="#444444">P8</text>
<text transform="translate(443.07,1851.05) rotate(-90)" x="0" y="0" dy="0.36em" font-size="13.8" text-anchor="end" fill="#444444">P10</text>
<text transform="translate(456.49,1851.05) rotate(-90)" x="0" y="0" dy="0.36em" font-size="13.8" text-anchor="end" fill="#444444">P12</text>
<text transform="translate(469.9,1851.05) rotate(-90)" x="0" y="0" dy="0.36em" font-size="13.8" text-anchor="end" fill="#444444">P14</text>
<text transform="translate(483.32,1851.05) rotate(-90)" x="0" y="0" dy="0.36em" font-size="13.8" text-anchor="end" fill="#444444">P16</text>
<text transform="translate(496.73,1851.05) rotate(-90)" x="0" y="0" dy="0.36em" font-size="13.8" text-anchor="end" fill="#444444">P19</text>
<text transform="translate(510.15,1851.05) rotate(-90)" x="0" y="0" dy="0.36em" font-size="13.8" text-anchor="end" fill="#444444">P21</text>
<text transform="translate(523.56,1851.05) rotate(-90)" x="0" y="0" dy="0.36em" font-size="13.8" text-anchor="end" fill="#444444">P25</text>
<text transform="translate(536.98,1851.05) rotate(-90)" x="0" y="0" dy="0.36em" font-size="13.8" text-anchor="end" fill="#444444">P56</text>
<path d="M552.22 1844.25v3.4M558.93 1844.25v3.4M565.64 1844.25v3.4M572.35 1844.25v3.4M579.05 1844.25v3.4M585.76 1844.25v3.4M592.47 1844.25v3.4M599.18 1844.25v3.4M605.88 1844.25v3.4M612.59 1844.25v3.4M619.3 1844.25v3.4M626.01 1844.25v3.4M632.71 1844.25v3.4M639.42 1844.25v3.4M646.13 1844.25v3.4M652.84 1844.25v3.4M659.54 1844.25v3.4M666.25 1844.25v3.4M672.96 1844.25v3.4M679.66 1844.25v3.4M686.37 1844.25v3.4M693.08 1844.25v3.4M699.79 1844.25v3.4M706.49 1844.25v3.4M713.2 1844.25v3.4M719.91 1844.25v3.4M726.62 1844.25v3.4M733.32 1844.25v3.4M740.03 1844.25v3.4M746.74 1844.25v3.4M753.45 1844.25v3.4M760.15 1844.25v3.4M766.86 1844.25v3.4M773.57 1844.25v3.4M780.28 1844.25v3.4" stroke="#333333" stroke-width="1.1"/>
<text transform="translate(552.22,1851.05) rotate(-90)" x="0" y="0" dy="0.36em" font-size="13.8" text-anchor="end" fill="#444444">E11.5</text>
<text transform="translate(565.64,1851.05) rotate(-90)" x="0" y="0" dy="0.36em" font-size="13.8" text-anchor="end" fill="#444444">E13.5</text>
<text transform="translate(579.05,1851.05) rotate(-90)" x="0" y="0" dy="0.36em" font-size="13.8" text-anchor="end" fill="#444444">E15.5</text>
<text transform="translate(592.47,1851.05) rotate(-90)" x="0" y="0" dy="0.36em" font-size="13.8" text-anchor="end" fill="#444444">E17</text>
<text transform="translate(605.88,1851.05) rotate(-90)" x="0" y="0" dy="0.36em" font-size="13.8" text-anchor="end" fill="#444444">E18</text>
<text transform="translate(619.3,1851.05) rotate(-90)" x="0" y="0" dy="0.36em" font-size="13.8" text-anchor="end" fill="#444444">P0</text>
<text transform="translate(632.71,1851.05) rotate(-90)" x="0" y="0" dy="0.36em" font-size="13.8" text-anchor="end" fill="#444444">P2</text>
<text transform="translate(646.13,1851.05) rotate(-90)" x="0" y="0" dy="0.36em" font-size="13.8" text-anchor="end" fill="#444444">P4</text>
<text transform="translate(659.54,1851.05) rotate(-90)" x="0" y="0" dy="0.36em" font-size="13.8" text-anchor="end" fill="#444444">P6</text>
<text transform="translate(672.96,1851.05) rotate(-90)" x="0" y="0" dy="0.36em" font-size="13.8" text-anchor="end" fill="#444444">P8</text>
<text transform="translate(686.37,1851.05) rotate(-90)" x="0" y="0" dy="0.36em" font-size="13.8" text-anchor="end" fill="#444444">P10</text>
<text transform="translate(699.79,1851.05) rotate(-90)" x="0" y="0" dy="0.36em" font-size="13.8" text-anchor="end" fill="#444444">P12</text>
<text transform="translate(713.2,1851.05) rotate(-90)" x="0" y="0" dy="0.36em" font-size="13.8" text-anchor="end" fill="#444444">P14</text>
<text transform="translate(726.62,1851.05) rotate(-90)" x="0" y="0" dy="0.36em" font-size="13.8" text-anchor="end" fill="#444444">P16</text>
<text transform="translate(740.03,1851.05) rotate(-90)" x="0" y="0" dy="0.36em" font-size="13.8" text-anchor="end" fill="#444444">P19</text>
<text transform="translate(753.45,1851.05) rotate(-90)" x="0" y="0" dy="0.36em" font-size="13.8" text-anchor="end" fill="#444444">P21</text>
<text transform="translate(766.86,1851.05) rotate(-90)" x="0" y="0" dy="0.36em" font-size="13.8" text-anchor="end" fill="#444444">P25</text>
<text transform="translate(780.28,1851.05) rotate(-90)" x="0" y="0" dy="0.36em" font-size="13.8" text-anchor="end" fill="#444444">P56</text>
<path d="M795.52 1844.25v3.4M802.23 1844.25v3.4M808.94 1844.25v3.4M815.65 1844.25v3.4M822.35 1844.25v3.4M829.06 1844.25v3.4M835.77 1844.25v3.4M842.48 1844.25v3.4M849.18 1844.25v3.4M855.89 1844.25v3.4M862.6 1844.25v3.4M869.31 1844.25v3.4M876.01 1844.25v3.4M882.72 1844.25v3.4M889.43 1844.25v3.4M896.14 1844.25v3.4M902.84 1844.25v3.4M909.55 1844.25v3.4M916.26 1844.25v3.4M922.96 1844.25v3.4M929.67 1844.25v3.4M936.38 1844.25v3.4M943.09 1844.25v3.4M949.79 1844.25v3.4M956.5 1844.25v3.4M963.21 1844.25v3.4M969.92 1844.25v3.4M976.62 1844.25v3.4M983.33 1844.25v3.4M990.04 1844.25v3.4M996.75 1844.25v3.4M1003.45 1844.25v3.4M1010.16 1844.25v3.4M1016.87 1844.25v3.4M1023.58 1844.25v3.4" stroke="#333333" stroke-width="1.1"/>
<text transform="translate(795.52,1851.05) rotate(-90)" x="0" y="0" dy="0.36em" font-size="13.8" text-anchor="end" fill="#444444">E11.5</text>
<text transform="translate(808.94,1851.05) rotate(-90)" x="0" y="0" dy="0.36em" font-size="13.8" text-anchor="end" fill="#444444">E13.5</text>
<text transform="translate(822.35,1851.05) rotate(-90)" x="0" y="0" dy="0.36em" font-size="13.8" text-anchor="end" fill="#444444">E15.5</text>
<text transform="translate(835.77,1851.05) rotate(-90)" x="0" y="0" dy="0.36em" font-size="13.8" text-anchor="end" fill="#444444">E17</text>
<text transform="translate(849.18,1851.05) rotate(-90)" x="0" y="0" dy="0.36em" font-size="13.8" text-anchor="end" fill="#444444">E18</text>
<text transform="translate(862.6,1851.05) rotate(-90)" x="0" y="0" dy="0.36em" font-size="13.8" text-anchor="end" fill="#444444">P0</text>
<text transform="translate(876.01,1851.05) rotate(-90)" x="0" y="0" dy="0.36em" font-size="13.8" text-anchor="end" fill="#444444">P2</text>
<text transform="translate(889.43,1851.05) rotate(-90)" x="0" y="0" dy="0.36em" font-size="13.8" text-anchor="end" fill="#444444">P4</text>
<text transform="translate(902.84,1851.05) rotate(-90)" x="0" y="0" dy="0.36em" font-size="13.8" text-anchor="end" fill="#444444">P6</text>
<text transform="translate(916.26,1851.05) rotate(-90)" x="0" y="0" dy="0.36em" font-size="13.8" text-anchor="end" fill="#444444">P8</text>
<text transform="translate(929.67,1851.05) rotate(-90)" x="0" y="0" dy="0.36em" font-size="13.8" text-anchor="end" fill="#444444">P10</text>
<text transform="translate(943.09,1851.05) rotate(-90)" x="0" y="0" dy="0.36em" font-size="13.8" text-anchor="end" fill="#444444">P12</text>
<text transform="translate(956.5,1851.05) rotate(-90)" x="0" y="0" dy="0.36em" font-size="13.8" text-anchor="end" fill="#444444">P14</text>
<text transform="translate(969.92,1851.05) rotate(-90)" x="0" y="0" dy="0.36em" font-size="13.8" text-anchor="end" fill="#444444">P16</text>
<text transform="translate(983.33,1851.05) rotate(-90)" x="0" y="0" dy="0.36em" font-size="13.8" text-anchor="end" fill="#444444">P19</text>
<text transform="translate(996.75,1851.05) rotate(-90)" x="0" y="0" dy="0.36em" font-size="13.8" text-anchor="end" fill="#444444">P21</text>
<text transform="translate(1010.16,1851.05) rotate(-90)" x="0" y="0" dy="0.36em" font-size="13.8" text-anchor="end" fill="#444444">P25</text>
<text transform="translate(1023.58,1851.05) rotate(-90)" x="0" y="0" dy="0.36em" font-size="13.8" text-anchor="end" fill="#444444">P56</text>
<path d="M1038.82 1844.25v3.4M1045.53 1844.25v3.4M1052.24 1844.25v3.4M1058.95 1844.25v3.4M1065.65 1844.25v3.4M1072.36 1844.25v3.4M1079.07 1844.25v3.4M1085.78 1844.25v3.4M1092.48 1844.25v3.4M1099.19 1844.25v3.4M1105.9 1844.25v3.4M1112.61 1844.25v3.4M1119.31 1844.25v3.4M1126.02 1844.25v3.4M1132.73 1844.25v3.4M1139.44 1844.25v3.4M1146.14 1844.25v3.4M1152.85 1844.25v3.4M1159.56 1844.25v3.4M1166.26 1844.25v3.4M1172.97 1844.25v3.4M1179.68 1844.25v3.4M1186.39 1844.25v3.4M1193.09 1844.25v3.4M1199.8 1844.25v3.4M1206.51 1844.25v3.4M1213.22 1844.25v3.4M1219.92 1844.25v3.4M1226.63 1844.25v3.4M1233.34 1844.25v3.4M1240.05 1844.25v3.4M1246.75 1844.25v3.4M1253.46 1844.25v3.4M1260.17 1844.25v3.4M1266.88 1844.25v3.4" stroke="#333333" stroke-width="1.1"/>
<text transform="translate(1038.82,1851.05) rotate(-90)" x="0" y="0" dy="0.36em" font-size="13.8" text-anchor="end" fill="#444444">E11.5</text>
<text transform="translate(1052.24,1851.05) rotate(-90)" x="0" y="0" dy="0.36em" font-size="13.8" text-anchor="end" fill="#444444">E13.5</text>
<text transform="translate(1065.65,1851.05) rotate(-90)" x="0" y="0" dy="0.36em" font-size="13.8" text-anchor="end" fill="#444444">E15.5</text>
<text transform="translate(1079.07,1851.05) rotate(-90)" x="0" y="0" dy="0.36em" font-size="13.8" text-anchor="end" fill="#444444">E17</text>
<text transform="translate(1092.48,1851.05) rotate(-90)" x="0" y="0" dy="0.36em" font-size="13.8" text-anchor="end" fill="#444444">E18</text>
<text transform="translate(1105.9,1851.05) rotate(-90)" x="0" y="0" dy="0.36em" font-size="13.8" text-anchor="end" fill="#444444">P0</text>
<text transform="translate(1119.31,1851.05) rotate(-90)" x="0" y="0" dy="0.36em" font-size="13.8" text-anchor="end" fill="#444444">P2</text>
<text transform="translate(1132.73,1851.05) rotate(-90)" x="0" y="0" dy="0.36em" font-size="13.8" text-anchor="end" fill="#444444">P4</text>
<text transform="translate(1146.14,1851.05) rotate(-90)" x="0" y="0" dy="0.36em" font-size="13.8" text-anchor="end" fill="#444444">P6</text>
<text transform="translate(1159.56,1851.05) rotate(-90)" x="0" y="0" dy="0.36em" font-size="13.8" text-anchor="end" fill="#444444">P8</text>
<text transform="translate(1172.97,1851.05) rotate(-90)" x="0" y="0" dy="0.36em" font-size="13.8" text-anchor="end" fill="#444444">P10</text>
<text transform="translate(1186.39,1851.05) rotate(-90)" x="0" y="0" dy="0.36em" font-size="13.8" text-anchor="end" fill="#444444">P12</text>
<text transform="translate(1199.8,1851.05) rotate(-90)" x="0" y="0" dy="0.36em" font-size="13.8" text-anchor="end" fill="#444444">P14</text>
<text transform="translate(1213.22,1851.05) rotate(-90)" x="0" y="0" dy="0.36em" font-size="13.8" text-anchor="end" fill="#444444">P16</text>
<text transform="translate(1226.63,1851.05) rotate(-90)" x="0" y="0" dy="0.36em" font-size="13.8" text-anchor="end" fill="#444444">P19</text>
<text transform="translate(1240.05,1851.05) rotate(-90)" x="0" y="0" dy="0.36em" font-size="13.8" text-anchor="end" fill="#444444">P21</text>
<text transform="translate(1253.46,1851.05) rotate(-90)" x="0" y="0" dy="0.36em" font-size="13.8" text-anchor="end" fill="#444444">P25</text>
<text transform="translate(1266.88,1851.05) rotate(-90)" x="0" y="0" dy="0.36em" font-size="13.8" text-anchor="end" fill="#444444">P56</text>
<path d="M1282.12 1844.25v3.4M1288.83 1844.25v3.4M1295.54 1844.25v3.4M1302.25 1844.25v3.4M1308.95 1844.25v3.4M1315.66 1844.25v3.4M1322.37 1844.25v3.4M1329.08 1844.25v3.4M1335.78 1844.25v3.4M1342.49 1844.25v3.4M1349.2 1844.25v3.4M1355.91 1844.25v3.4M1362.61 1844.25v3.4M1369.32 1844.25v3.4M1376.03 1844.25v3.4M1382.74 1844.25v3.4M1389.44 1844.25v3.4M1396.15 1844.25v3.4M1402.86 1844.25v3.4M1409.56 1844.25v3.4M1416.27 1844.25v3.4M1422.98 1844.25v3.4M1429.69 1844.25v3.4M1436.39 1844.25v3.4M1443.1 1844.25v3.4M1449.81 1844.25v3.4M1456.52 1844.25v3.4M1463.22 1844.25v3.4M1469.93 1844.25v3.4M1476.64 1844.25v3.4M1483.35 1844.25v3.4M1490.05 1844.25v3.4M1496.76 1844.25v3.4M1503.47 1844.25v3.4M1510.18 1844.25v3.4" stroke="#333333" stroke-width="1.1"/>
<text transform="translate(1282.12,1851.05) rotate(-90)" x="0" y="0" dy="0.36em" font-size="13.8" text-anchor="end" fill="#444444">E11.5</text>
<text transform="translate(1295.54,1851.05) rotate(-90)" x="0" y="0" dy="0.36em" font-size="13.8" text-anchor="end" fill="#444444">E13.5</text>
<text transform="translate(1308.95,1851.05) rotate(-90)" x="0" y="0" dy="0.36em" font-size="13.8" text-anchor="end" fill="#444444">E15.5</text>
<text transform="translate(1322.37,1851.05) rotate(-90)" x="0" y="0" dy="0.36em" font-size="13.8" text-anchor="end" fill="#444444">E17</text>
<text transform="translate(1335.78,1851.05) rotate(-90)" x="0" y="0" dy="0.36em" font-size="13.8" text-anchor="end" fill="#444444">E18</text>
<text transform="translate(1349.2,1851.05) rotate(-90)" x="0" y="0" dy="0.36em" font-size="13.8" text-anchor="end" fill="#444444">P0</text>
<text transform="translate(1362.61,1851.05) rotate(-90)" x="0" y="0" dy="0.36em" font-size="13.8" text-anchor="end" fill="#444444">P2</text>
<text transform="translate(1376.03,1851.05) rotate(-90)" x="0" y="0" dy="0.36em" font-size="13.8" text-anchor="end" fill="#444444">P4</text>
<text transform="translate(1389.44,1851.05) rotate(-90)" x="0" y="0" dy="0.36em" font-size="13.8" text-anchor="end" fill="#444444">P6</text>
<text transform="translate(1402.86,1851.05) rotate(-90)" x="0" y="0" dy="0.36em" font-size="13.8" text-anchor="end" fill="#444444">P8</text>
<text transform="translate(1416.27,1851.05) rotate(-90)" x="0" y="0" dy="0.36em" font-size="13.8" text-anchor="end" fill="#444444">P10</text>
<text transform="translate(1429.69,1851.05) rotate(-90)" x="0" y="0" dy="0.36em" font-size="13.8" text-anchor="end" fill="#444444">P12</text>
<text transform="translate(1443.1,1851.05) rotate(-90)" x="0" y="0" dy="0.36em" font-size="13.8" text-anchor="end" fill="#444444">P14</text>
<text transform="translate(1456.52,1851.05) rotate(-90)" x="0" y="0" dy="0.36em" font-size="13.8" text-anchor="end" fill="#444444">P16</text>
<text transform="translate(1469.93,1851.05) rotate(-90)" x="0" y="0" dy="0.36em" font-size="13.8" text-anchor="end" fill="#444444">P19</text>
<text transform="translate(1483.35,1851.05) rotate(-90)" x="0" y="0" dy="0.36em" font-size="13.8" text-anchor="end" fill="#444444">P21</text>
<text transform="translate(1496.76,1851.05) rotate(-90)" x="0" y="0" dy="0.36em" font-size="13.8" text-anchor="end" fill="#444444">P25</text>
<text transform="translate(1510.18,1851.05) rotate(-90)" x="0" y="0" dy="0.36em" font-size="13.8" text-anchor="end" fill="#444444">P56</text>
<path d="M1525.42 1844.25v3.4M1532.13 1844.25v3.4M1538.84 1844.25v3.4M1545.55 1844.25v3.4M1552.25 1844.25v3.4M1558.96 1844.25v3.4M1565.67 1844.25v3.4M1572.38 1844.25v3.4M1579.08 1844.25v3.4M1585.79 1844.25v3.4M1592.5 1844.25v3.4M1599.21 1844.25v3.4M1605.91 1844.25v3.4M1612.62 1844.25v3.4M1619.33 1844.25v3.4M1626.04 1844.25v3.4M1632.74 1844.25v3.4M1639.45 1844.25v3.4M1646.16 1844.25v3.4M1652.86 1844.25v3.4M1659.57 1844.25v3.4M1666.28 1844.25v3.4M1672.99 1844.25v3.4M1679.69 1844.25v3.4M1686.4 1844.25v3.4M1693.11 1844.25v3.4M1699.82 1844.25v3.4M1706.52 1844.25v3.4M1713.23 1844.25v3.4M1719.94 1844.25v3.4M1726.65 1844.25v3.4M1733.35 1844.25v3.4M1740.06 1844.25v3.4M1746.77 1844.25v3.4M1753.48 1844.25v3.4" stroke="#333333" stroke-width="1.1"/>
<text transform="translate(1525.42,1851.05) rotate(-90)" x="0" y="0" dy="0.36em" font-size="13.8" text-anchor="end" fill="#444444">E11.5</text>
<text transform="translate(1538.84,1851.05) rotate(-90)" x="0" y="0" dy="0.36em" font-size="13.8" text-anchor="end" fill="#444444">E13.5</text>
<text transform="translate(1552.25,1851.05) rotate(-90)" x="0" y="0" dy="0.36em" font-size="13.8" text-anchor="end" fill="#444444">E15.5</text>
<text transform="translate(1565.67,1851.05) rotate(-90)" x="0" y="0" dy="0.36em" font-size="13.8" text-anchor="end" fill="#444444">E17</text>
<text transform="translate(1579.08,1851.05) rotate(-90)" x="0" y="0" dy="0.36em" font-size="13.8" text-anchor="end" fill="#444444">E18</text>
<text transform="translate(1592.5,1851.05) rotate(-90)" x="0" y="0" dy="0.36em" font-size="13.8" text-anchor="end" fill="#444444">P0</text>
<text transform="translate(1605.91,1851.05) rotate(-90)" x="0" y="0" dy="0.36em" font-size="13.8" text-anchor="end" fill="#444444">P2</text>
<text transform="translate(1619.33,1851.05) rotate(-90)" x="0" y="0" dy="0.36em" font-size="13.8" text-anchor="end" fill="#444444">P4</text>
<text transform="translate(1632.74,1851.05) rotate(-90)" x="0" y="0" dy="0.36em" font-size="13.8" text-anchor="end" fill="#444444">P6</text>
<text transform="translate(1646.16,1851.05) rotate(-90)" x="0" y="0" dy="0.36em" font-size="13.8" text-anchor="end" fill="#444444">P8</text>
<text transform="translate(1659.57,1851.05) rotate(-90)" x="0" y="0" dy="0.36em" font-size="13.8" text-anchor="end" fill="#444444">P10</text>
<text transform="translate(1672.99,1851.05) rotate(-90)" x="0" y="0" dy="0.36em" font-size="13.8" text-anchor="end" fill="#444444">P12</text>
<text transform="translate(1686.4,1851.05) rotate(-90)" x="0" y="0" dy="0.36em" font-size="13.8" text-anchor="end" fill="#444444">P14</text>
<text transform="translate(1699.82,1851.05) rotate(-90)" x="0" y="0" dy="0.36em" font-size="13.8" text-anchor="end" fill="#444444">P16</text>
<text transform="translate(1713.23,1851.05) rotate(-90)" x="0" y="0" dy="0.36em" font-size="13.8" text-anchor="end" fill="#444444">P19</text>
<text transform="translate(1726.65,1851.05) rotate(-90)" x="0" y="0" dy="0.36em" font-size="13.8" text-anchor="end" fill="#444444">P21</text>
<text transform="translate(1740.06,1851.05) rotate(-90)" x="0" y="0" dy="0.36em" font-size="13.8" text-anchor="end" fill="#444444">P25</text>
<text transform="translate(1753.48,1851.05) rotate(-90)" x="0" y="0" dy="0.36em" font-size="13.8" text-anchor="end" fill="#444444">P56</text>
<path d="M1768.72 1681.75v3.4M1775.43 1681.75v3.4M1782.14 1681.75v3.4M1788.85 1681.75v3.4M1795.55 1681.75v3.4M1802.26 1681.75v3.4M1808.97 1681.75v3.4M1815.68 1681.75v3.4M1822.38 1681.75v3.4M1829.09 1681.75v3.4M1835.8 1681.75v3.4M1842.51 1681.75v3.4M1849.21 1681.75v3.4M1855.92 1681.75v3.4M1862.63 1681.75v3.4M1869.34 1681.75v3.4M1876.04 1681.75v3.4M1882.75 1681.75v3.4M1889.46 1681.75v3.4M1896.16 1681.75v3.4M1902.87 1681.75v3.4M1909.58 1681.75v3.4M1916.29 1681.75v3.4M1922.99 1681.75v3.4M1929.7 1681.75v3.4M1936.41 1681.75v3.4M1943.12 1681.75v3.4M1949.82 1681.75v3.4M1956.53 1681.75v3.4M1963.24 1681.75v3.4M1969.95 1681.75v3.4M1976.65 1681.75v3.4M1983.36 1681.75v3.4M1990.07 1681.75v3.4M1996.78 1681.75v3.4" stroke="#333333" stroke-width="1.1"/>
<text transform="translate(1768.72,1688.55) rotate(-90)" x="0" y="0" dy="0.36em" font-size="13.8" text-anchor="end" fill="#444444">E11.5</text>
<text transform="translate(1782.14,1688.55) rotate(-90)" x="0" y="0" dy="0.36em" font-size="13.8" text-anchor="end" fill="#444444">E13.5</text>
<text transform="translate(1795.55,1688.55) rotate(-90)" x="0" y="0" dy="0.36em" font-size="13.8" text-anchor="end" fill="#444444">E15.5</text>
<text transform="translate(1808.97,1688.55) rotate(-90)" x="0" y="0" dy="0.36em" font-size="13.8" text-anchor="end" fill="#444444">E17</text>
<text transform="translate(1822.38,1688.55) rotate(-90)" x="0" y="0" dy="0.36em" font-size="13.8" text-anchor="end" fill="#444444">E18</text>
<text transform="translate(1835.8,1688.55) rotate(-90)" x="0" y="0" dy="0.36em" font-size="13.8" text-anchor="end" fill="#444444">P0</text>
<text transform="translate(1849.21,1688.55) rotate(-90)" x="0" y="0" dy="0.36em" font-size="13.8" text-anchor="end" fill="#444444">P2</text>
<text transform="translate(1862.63,1688.55) rotate(-90)" x="0" y="0" dy="0.36em" font-size="13.8" text-anchor="end" fill="#444444">P4</text>
<text transform="translate(1876.04,1688.55) rotate(-90)" x="0" y="0" dy="0.36em" font-size="13.8" text-anchor="end" fill="#444444">P6</text>
<text transform="translate(1889.46,1688.55) rotate(-90)" x="0" y="0" dy="0.36em" font-size="13.8" text-anchor="end" fill="#444444">P8</text>
<text transform="translate(1902.87,1688.55) rotate(-90)" x="0" y="0" dy="0.36em" font-size="13.8" text-anchor="end" fill="#444444">P10</text>
<text transform="translate(1916.29,1688.55) rotate(-90)" x="0" y="0" dy="0.36em" font-size="13.8" text-anchor="end" fill="#444444">P12</text>
<text transform="translate(1929.7,1688.55) rotate(-90)" x="0" y="0" dy="0.36em" font-size="13.8" text-anchor="end" fill="#444444">P14</text>
<text transform="translate(1943.12,1688.55) rotate(-90)" x="0" y="0" dy="0.36em" font-size="13.8" text-anchor="end" fill="#444444">P16</text>
<text transform="translate(1956.53,1688.55) rotate(-90)" x="0" y="0" dy="0.36em" font-size="13.8" text-anchor="end" fill="#444444">P19</text>
<text transform="translate(1969.95,1688.55) rotate(-90)" x="0" y="0" dy="0.36em" font-size="13.8" text-anchor="end" fill="#444444">P21</text>
<text transform="translate(1983.36,1688.55) rotate(-90)" x="0" y="0" dy="0.36em" font-size="13.8" text-anchor="end" fill="#444444">P25</text>
<text transform="translate(1996.78,1688.55) rotate(-90)" x="0" y="0" dy="0.36em" font-size="13.8" text-anchor="end" fill="#444444">P56</text>
<line x1="58.2" x2="61.6" y1="1676.74" y2="1676.74" stroke="#333333" stroke-width="1.1"/>
<text x="54.1" y="1680.86" font-size="11.6" text-anchor="end" font-weight="normal" fill="#444444">0</text>
<line x1="58.2" x2="61.6" y1="1637.16" y2="1637.16" stroke="#333333" stroke-width="1.1"/>
<text x="54.1" y="1641.28" font-size="11.6" text-anchor="end" font-weight="normal" fill="#444444">200</text>
<line x1="58.2" x2="61.6" y1="1597.58" y2="1597.58" stroke="#333333" stroke-width="1.1"/>
<text x="54.1" y="1601.7" font-size="11.6" text-anchor="end" font-weight="normal" fill="#444444">400</text>
<line x1="58.2" x2="61.6" y1="1558" y2="1558" stroke="#333333" stroke-width="1.1"/>
<text x="54.1" y="1562.12" font-size="11.6" text-anchor="end" font-weight="normal" fill="#444444">600</text>
<line x1="58.2" x2="61.6" y1="1839.24" y2="1839.24" stroke="#333333" stroke-width="1.1"/>
<text x="54.1" y="1843.36" font-size="11.6" text-anchor="end" font-weight="normal" fill="#444444">0</text>
<line x1="58.2" x2="61.6" y1="1799.66" y2="1799.66" stroke="#333333" stroke-width="1.1"/>
<text x="54.1" y="1803.78" font-size="11.6" text-anchor="end" font-weight="normal" fill="#444444">200</text>
<line x1="58.2" x2="61.6" y1="1760.08" y2="1760.08" stroke="#333333" stroke-width="1.1"/>
<text x="54.1" y="1764.2" font-size="11.6" text-anchor="end" font-weight="normal" fill="#444444">400</text>
<line x1="58.2" x2="61.6" y1="1720.5" y2="1720.5" stroke="#333333" stroke-width="1.1"/>
<text x="54.1" y="1724.62" font-size="11.6" text-anchor="end" font-weight="normal" fill="#444444">600</text>
<text transform="translate(14,1697.5) rotate(-90)" x="0" y="0" dy="0.36em" font-size="16.9" text-anchor="middle" fill="#000">QC score</text>
<text x="3.8" y="1924.5" font-size="38" text-anchor="start" font-weight="bold" fill="#000">g</text>
<text x="62.5" y="1926" font-size="20.6" text-anchor="start" font-weight="normal" fill="#000">10x Multiome Gene count</text>
<rect x="61.25" y="1962.5" width="271.25" height="130" fill="#fff"/>
<path d="M61.25 2074.62h271.25M61.25 2049.88h271.25M61.25 2025.12h271.25M61.25 2000.38h271.25M61.25 1975.62h271.25" stroke="#F4F4F4" stroke-width="0.7"/>
<path d="M61.25 2087h271.25M61.25 2062.25h271.25M61.25 2037.5h271.25M61.25 2012.75h271.25M61.25 1988h271.25M61.25 1963.25h271.25M73.58 1962.5v130M94.13 1962.5v130M114.68 1962.5v130M135.23 1962.5v130M155.78 1962.5v130M176.33 1962.5v130M196.88 1962.5v130M217.42 1962.5v130M237.97 1962.5v130M258.52 1962.5v130M279.07 1962.5v130M299.62 1962.5v130M320.17 1962.5v130" stroke="#EBEBEB" stroke-width="1.1"/>
<rect x="61.8" y="1938.05" width="270.15" height="24.45" fill="#D9D9D9" stroke="#555" stroke-width="1.1"/>
<text x="196.88" y="1955.68" font-size="16" text-anchor="middle" font-weight="normal" fill="#1A1A1A">NEC</text>
<rect x="339.32" y="1962.5" width="271.25" height="130" fill="#fff"/>
<path d="M339.32 2074.62h271.25M339.32 2049.88h271.25M339.32 2025.12h271.25M339.32 2000.38h271.25M339.32 1975.62h271.25" stroke="#F4F4F4" stroke-width="0.7"/>
<path d="M339.32 2087h271.25M339.32 2062.25h271.25M339.32 2037.5h271.25M339.32 2012.75h271.25M339.32 1988h271.25M339.32 1963.25h271.25M351.65 1962.5v130M372.2 1962.5v130M392.75 1962.5v130M413.3 1962.5v130M433.85 1962.5v130M454.4 1962.5v130M474.94 1962.5v130M495.49 1962.5v130M516.04 1962.5v130M536.59 1962.5v130M557.14 1962.5v130M577.69 1962.5v130M598.24 1962.5v130" stroke="#EBEBEB" stroke-width="1.1"/>
<rect x="339.87" y="1938.05" width="270.15" height="24.45" fill="#D9D9D9" stroke="#555" stroke-width="1.1"/>
<text x="474.94" y="1955.68" font-size="16" text-anchor="middle" font-weight="normal" fill="#1A1A1A">CR Glut</text>
<rect x="617.39" y="1962.5" width="271.25" height="130" fill="#fff"/>
<path d="M617.39 2074.62h271.25M617.39 2049.88h271.25M617.39 2025.12h271.25M617.39 2000.38h271.25M617.39 1975.62h271.25" stroke="#F4F4F4" stroke-width="0.7"/>
<path d="M617.39 2087h271.25M617.39 2062.25h271.25M617.39 2037.5h271.25M617.39 2012.75h271.25M617.39 1988h271.25M617.39 1963.25h271.25M629.72 1962.5v130M650.27 1962.5v130M670.82 1962.5v130M691.37 1962.5v130M711.92 1962.5v130M732.47 1962.5v130M753.01 1962.5v130M773.56 1962.5v130M794.11 1962.5v130M814.66 1962.5v130M835.21 1962.5v130M855.76 1962.5v130M876.31 1962.5v130" stroke="#EBEBEB" stroke-width="1.1"/>
<rect x="617.94" y="1938.05" width="270.15" height="24.45" fill="#D9D9D9" stroke="#555" stroke-width="1.1"/>
<text x="753.01" y="1955.68" font-size="16" text-anchor="middle" font-weight="normal" fill="#1A1A1A">RG</text>
<rect x="895.46" y="1962.5" width="271.25" height="130" fill="#fff"/>
<path d="M895.46 2074.62h271.25M895.46 2049.88h271.25M895.46 2025.12h271.25M895.46 2000.38h271.25M895.46 1975.62h271.25" stroke="#F4F4F4" stroke-width="0.7"/>
<path d="M895.46 2087h271.25M895.46 2062.25h271.25M895.46 2037.5h271.25M895.46 2012.75h271.25M895.46 1988h271.25M895.46 1963.25h271.25M907.79 1962.5v130M928.34 1962.5v130M948.89 1962.5v130M969.44 1962.5v130M989.99 1962.5v130M1010.54 1962.5v130M1031.09 1962.5v130M1051.63 1962.5v130M1072.18 1962.5v130M1092.73 1962.5v130M1113.28 1962.5v130M1133.83 1962.5v130M1154.38 1962.5v130" stroke="#EBEBEB" stroke-width="1.1"/>
<rect x="896.01" y="1938.05" width="270.15" height="24.45" fill="#D9D9D9" stroke="#555" stroke-width="1.1"/>
<text x="1031.09" y="1955.68" font-size="16" text-anchor="middle" font-weight="normal" fill="#1A1A1A">IP</text>
<rect x="1173.53" y="1962.5" width="271.25" height="130" fill="#fff"/>
<path d="M1173.53 2074.62h271.25M1173.53 2049.88h271.25M1173.53 2025.12h271.25M1173.53 2000.38h271.25M1173.53 1975.62h271.25" stroke="#F4F4F4" stroke-width="0.7"/>
<path d="M1173.53 2087h271.25M1173.53 2062.25h271.25M1173.53 2037.5h271.25M1173.53 2012.75h271.25M1173.53 1988h271.25M1173.53 1963.25h271.25M1185.86 1962.5v130M1206.41 1962.5v130M1226.96 1962.5v130M1247.51 1962.5v130M1268.06 1962.5v130M1288.61 1962.5v130M1309.15 1962.5v130M1329.7 1962.5v130M1350.25 1962.5v130M1370.8 1962.5v130M1391.35 1962.5v130M1411.9 1962.5v130M1432.45 1962.5v130" stroke="#EBEBEB" stroke-width="1.1"/>
<rect x="1174.08" y="1938.05" width="270.15" height="24.45" fill="#D9D9D9" stroke="#555" stroke-width="1.1"/>
<text x="1309.15" y="1955.68" font-size="16" text-anchor="middle" font-weight="normal" fill="#1A1A1A">IMN</text>
<rect x="1451.6" y="1962.5" width="271.25" height="130" fill="#fff"/>
<path d="M1451.6 2074.62h271.25M1451.6 2049.88h271.25M1451.6 2025.12h271.25M1451.6 2000.38h271.25M1451.6 1975.62h271.25" stroke="#F4F4F4" stroke-width="0.7"/>
<path d="M1451.6 2087h271.25M1451.6 2062.25h271.25M1451.6 2037.5h271.25M1451.6 2012.75h271.25M1451.6 1988h271.25M1451.6 1963.25h271.25M1463.93 1962.5v130M1484.48 1962.5v130M1505.03 1962.5v130M1525.58 1962.5v130M1546.13 1962.5v130M1566.68 1962.5v130M1587.22 1962.5v130M1607.77 1962.5v130M1628.32 1962.5v130M1648.87 1962.5v130M1669.42 1962.5v130M1689.97 1962.5v130M1710.52 1962.5v130" stroke="#EBEBEB" stroke-width="1.1"/>
<rect x="1452.15" y="1938.05" width="270.15" height="24.45" fill="#D9D9D9" stroke="#555" stroke-width="1.1"/>
<text x="1587.22" y="1955.68" font-size="16" text-anchor="middle" font-weight="normal" fill="#1A1A1A">nonIT Glut</text>
<rect x="1729.67" y="1962.5" width="271.25" height="130" fill="#fff"/>
<path d="M1729.67 2074.62h271.25M1729.67 2049.88h271.25M1729.67 2025.12h271.25M1729.67 2000.38h271.25M1729.67 1975.62h271.25" stroke="#F4F4F4" stroke-width="0.7"/>
<path d="M1729.67 2087h271.25M1729.67 2062.25h271.25M1729.67 2037.5h271.25M1729.67 2012.75h271.25M1729.67 1988h271.25M1729.67 1963.25h271.25M1742 1962.5v130M1762.55 1962.5v130M1783.1 1962.5v130M1803.65 1962.5v130M1824.2 1962.5v130M1844.75 1962.5v130M1865.3 1962.5v130M1885.84 1962.5v130M1906.39 1962.5v130M1926.94 1962.5v130M1947.49 1962.5v130M1968.04 1962.5v130M1988.59 1962.5v130" stroke="#EBEBEB" stroke-width="1.1"/>
<rect x="1730.22" y="1938.05" width="270.15" height="24.45" fill="#D9D9D9" stroke="#555" stroke-width="1.1"/>
<text x="1865.3" y="1955.68" font-size="16" text-anchor="middle" font-weight="normal" fill="#1A1A1A">IT Glut</text>
<rect x="61.25" y="2125" width="271.25" height="130" fill="#fff"/>
<path d="M61.25 2237.12h271.25M61.25 2212.38h271.25M61.25 2187.62h271.25M61.25 2162.88h271.25M61.25 2138.12h271.25" stroke="#F4F4F4" stroke-width="0.7"/>
<path d="M61.25 2249.5h271.25M61.25 2224.75h271.25M61.25 2200h271.25M61.25 2175.25h271.25M61.25 2150.5h271.25M61.25 2125.75h271.25M73.58 2125v130M94.13 2125v130M114.68 2125v130M135.23 2125v130M155.78 2125v130M176.33 2125v130M196.88 2125v130M217.42 2125v130M237.97 2125v130M258.52 2125v130M279.07 2125v130M299.62 2125v130M320.17 2125v130" stroke="#EBEBEB" stroke-width="1.1"/>
<rect x="61.8" y="2100.55" width="270.15" height="24.45" fill="#D9D9D9" stroke="#555" stroke-width="1.1"/>
<text x="196.88" y="2118.18" font-size="16" text-anchor="middle" font-weight="normal" fill="#1A1A1A">Glioblast</text>
<rect x="339.32" y="2125" width="271.25" height="130" fill="#fff"/>
<path d="M339.32 2237.12h271.25M339.32 2212.38h271.25M339.32 2187.62h271.25M339.32 2162.88h271.25M339.32 2138.12h271.25" stroke="#F4F4F4" stroke-width="0.7"/>
<path d="M339.32 2249.5h271.25M339.32 2224.75h271.25M339.32 2200h271.25M339.32 2175.25h271.25M339.32 2150.5h271.25M339.32 2125.75h271.25M351.65 2125v130M372.2 2125v130M392.75 2125v130M413.3 2125v130M433.85 2125v130M454.4 2125v130M474.94 2125v130M495.49 2125v130M516.04 2125v130M536.59 2125v130M557.14 2125v130M577.69 2125v130M598.24 2125v130" stroke="#EBEBEB" stroke-width="1.1"/>
<rect x="339.87" y="2100.55" width="270.15" height="24.45" fill="#D9D9D9" stroke="#555" stroke-width="1.1"/>
<text x="474.94" y="2118.18" font-size="16" text-anchor="middle" font-weight="normal" fill="#1A1A1A">Astro−Epen</text>
<rect x="617.39" y="2125" width="271.25" height="130" fill="#fff"/>
<path d="M617.39 2237.12h271.25M617.39 2212.38h271.25M617.39 2187.62h271.25M617.39 2162.88h271.25M617.39 2138.12h271.25" stroke="#F4F4F4" stroke-width="0.7"/>
<path d="M617.39 2249.5h271.25M617.39 2224.75h271.25M617.39 2200h271.25M617.39 2175.25h271.25M617.39 2150.5h271.25M617.39 2125.75h271.25M629.72 2125v130M650.27 2125v130M670.82 2125v130M691.37 2125v130M711.92 2125v130M732.47 2125v130M753.01 2125v130M773.56 2125v130M794.11 2125v130M814.66 2125v130M835.21 2125v130M855.76 2125v130M876.31 2125v130" stroke="#EBEBEB" stroke-width="1.1"/>
<rect x="617.94" y="2100.55" width="270.15" height="24.45" fill="#D9D9D9" stroke="#555" stroke-width="1.1"/>
<text x="753.01" y="2118.18" font-size="16" text-anchor="middle" font-weight="normal" fill="#1A1A1A">OPC−Oligo</text>
<rect x="895.46" y="2125" width="271.25" height="130" fill="#fff"/>
<path d="M895.46 2237.12h271.25M895.46 2212.38h271.25M895.46 2187.62h271.25M895.46 2162.88h271.25M895.46 2138.12h271.25" stroke="#F4F4F4" stroke-width="0.7"/>
<path d="M895.46 2249.5h271.25M895.46 2224.75h271.25M895.46 2200h271.25M895.46 2175.25h271.25M895.46 2150.5h271.25M895.46 2125.75h271.25M907.79 2125v130M928.34 2125v130M948.89 2125v130M969.44 2125v130M989.99 2125v130M1010.54 2125v130M1031.09 2125v130M1051.63 2125v130M1072.18 2125v130M1092.73 2125v130M1113.28 2125v130M1133.83 2125v130M1154.38 2125v130" stroke="#EBEBEB" stroke-width="1.1"/>
<rect x="896.01" y="2100.55" width="270.15" height="24.45" fill="#D9D9D9" stroke="#555" stroke-width="1.1"/>
<text x="1031.09" y="2118.18" font-size="16" text-anchor="middle" font-weight="normal" fill="#1A1A1A">CTX−CGE GABA</text>
<rect x="1173.53" y="2125" width="271.25" height="130" fill="#fff"/>
<path d="M1173.53 2237.12h271.25M1173.53 2212.38h271.25M1173.53 2187.62h271.25M1173.53 2162.88h271.25M1173.53 2138.12h271.25" stroke="#F4F4F4" stroke-width="0.7"/>
<path d="M1173.53 2249.5h271.25M1173.53 2224.75h271.25M1173.53 2200h271.25M1173.53 2175.25h271.25M1173.53 2150.5h271.25M1173.53 2125.75h271.25M1185.86 2125v130M1206.41 2125v130M1226.96 2125v130M1247.51 2125v130M1268.06 2125v130M1288.61 2125v130M1309.15 2125v130M1329.7 2125v130M1350.25 2125v130M1370.8 2125v130M1391.35 2125v130M1411.9 2125v130M1432.45 2125v130" stroke="#EBEBEB" stroke-width="1.1"/>
<rect x="1174.08" y="2100.55" width="270.15" height="24.45" fill="#D9D9D9" stroke="#555" stroke-width="1.1"/>
<text x="1309.15" y="2118.18" font-size="16" text-anchor="middle" font-weight="normal" fill="#1A1A1A">CTX−MGE GABA</text>
<rect x="1451.6" y="2125" width="271.25" height="130" fill="#fff"/>
<path d="M1451.6 2237.12h271.25M1451.6 2212.38h271.25M1451.6 2187.62h271.25M1451.6 2162.88h271.25M1451.6 2138.12h271.25" stroke="#F4F4F4" stroke-width="0.7"/>
<path d="M1451.6 2249.5h271.25M1451.6 2224.75h271.25M1451.6 2200h271.25M1451.6 2175.25h271.25M1451.6 2150.5h271.25M1451.6 2125.75h271.25M1463.93 2125v130M1484.48 2125v130M1505.03 2125v130M1525.58 2125v130M1546.13 2125v130M1566.68 2125v130M1587.22 2125v130M1607.77 2125v130M1628.32 2125v130M1648.87 2125v130M1669.42 2125v130M1689.97 2125v130M1710.52 2125v130" stroke="#EBEBEB" stroke-width="1.1"/>
<rect x="1452.15" y="2100.55" width="270.15" height="24.45" fill="#D9D9D9" stroke="#555" stroke-width="1.1"/>
<text x="1587.22" y="2118.18" font-size="16" text-anchor="middle" font-weight="normal" fill="#1A1A1A">Vascular</text>
<rect x="1729.67" y="2125" width="271.25" height="130" fill="#fff"/>
<path d="M1729.67 2237.12h271.25M1729.67 2212.38h271.25M1729.67 2187.62h271.25M1729.67 2162.88h271.25M1729.67 2138.12h271.25" stroke="#F4F4F4" stroke-width="0.7"/>
<path d="M1729.67 2249.5h271.25M1729.67 2224.75h271.25M1729.67 2200h271.25M1729.67 2175.25h271.25M1729.67 2150.5h271.25M1729.67 2125.75h271.25M1742 2125v130M1762.55 2125v130M1783.1 2125v130M1803.65 2125v130M1824.2 2125v130M1844.75 2125v130M1865.3 2125v130M1885.84 2125v130M1906.39 2125v130M1926.94 2125v130M1947.49 2125v130M1968.04 2125v130M1988.59 2125v130" stroke="#EBEBEB" stroke-width="1.1"/>
<rect x="1730.22" y="2100.55" width="270.15" height="24.45" fill="#D9D9D9" stroke="#555" stroke-width="1.1"/>
<text x="1865.3" y="2118.18" font-size="16" text-anchor="middle" font-weight="normal" fill="#1A1A1A">Immune</text>
<path d="M73.58 2056.31V2071.57M94.13 2041.06V2073.26M114.68 2046.14V2073.26M135.23 2049.53V2069.87M155.78 2052.92V2064.78M392.75 2054.61V2063.09M629.72 2054.61V2076.65M650.27 2035.97V2076.65M670.82 2038.68V2076.65M691.37 2044.44V2076.65M711.92 2034.28V2076.65M907.79 2052.24V2076.65M928.34 2044.44V2076.65M948.89 2042.75V2076.65M969.44 2056.31V2074.95M989.99 2039.36V2076.65M1010.54 2059.7V2075.97M1031.09 2035.29V2068.18M1051.63 2045.46V2071.57M1133.83 2058.01V2068.85M1154.38 2019.02V2069.19M1185.86 2047.84V2076.65M1206.41 2044.44V2076.65M1226.96 2046.14V2076.65M1247.51 2048.85V2076.65M1268.06 2042.75V2076.65M1288.61 2059.02V2075.97M1309.15 2046.82V2076.65M1329.7 2051.22V2073.94M1463.93 2044.44V2076.65M1484.48 2039.36V2076.65M1505.03 2039.36V2076.65M1525.58 2041.06V2076.65M1546.13 2029.19V2076.65M1566.68 2039.36V2076.65M1587.22 2020.71V2076.65M1607.77 2022.41V2076.65M1628.32 2008.85V2059.7M1648.87 2012.24V2073.94M1669.42 2015.63V2076.65M1689.97 2012.24V2076.65M1710.52 2008.85V2066.48M1742 2048.8V2066.96M1762.55 2039.72V2066.96M1783.1 2043.35V2073.32M1803.65 2040.08V2070.59M1824.2 2027.01V2076.95M1844.75 2045.17V2076.95M1865.3 2023.38V2074.22M1885.84 2023.38V2072.41M1906.39 2003.4V2068.78M1926.94 2004.31V2074.22M1947.49 2009.76V2074.22M1968.04 2011.57V2074.22M1988.59 2006.12V2068.78" stroke="#1a1a1a" stroke-width="1.25"/>
<path d="M73.58 2056.31V2052.75M73.58 2071.57V2073.34M94.13 2041.06V2038M94.13 2073.26V2074.45M114.68 2046.14V2035.77M114.68 2073.26V2074.45M135.23 2069.87V2072.24M155.78 2052.92V2048.85M155.78 2064.78V2068.94M392.75 2054.61V2051.56M392.75 2063.09V2064.28M629.72 2054.61V2049.02M650.27 2035.97V2027.83M670.82 2038.68V2030.75M711.92 2034.28V2028.48M907.79 2052.24V2048.89M928.34 2044.44V2038.85M948.89 2042.75V2038.68M969.44 2056.31V2052.04M989.99 2039.36V2022.07M1051.63 2045.46V2040.07M1133.83 2058.01V2054.24M1185.86 2047.84V2039.7M1206.41 2044.44V2040.89M1226.96 2046.14V2039.02M1247.51 2048.85V2044.99M1268.06 2042.75V2032.58M1288.61 2059.02V2045.5M1309.15 2046.82V2043.06M1463.93 2044.44V2039.36M1484.48 2039.36V2036.31M1505.03 2039.36V2036.51M1525.58 2041.06V2039.02M1546.13 2029.19V2017.49M1566.68 2039.36V2034.27M1587.22 2020.71V2016.14M1607.77 2022.41V2017.83M1628.32 2008.85V2002.75M1628.32 2059.7V2063.02M1648.87 2012.24V2007.66M1689.97 2012.24V2008.17M1710.52 2008.85V2004.78M1710.52 2066.48V2067.07M1742 2048.8V2043.79M1742 2066.96V2070.27M1762.55 2066.96V2068.55M1783.1 2043.35V2039.97M1783.1 2073.32V2074.9M1803.65 2070.59V2073.13M1824.2 2027.01V2016.38M1844.75 2045.17V2034.82M1865.3 2023.38V2020.92M1865.3 2074.22V2075.5M1885.84 2023.38V2014.66M1885.84 2072.41V2074M1906.39 2003.4V2002.04M1906.39 2068.78V2069.41M1926.94 2004.31V2002.84M1947.49 2009.76V2008.39M1947.49 2074.22V2075.5M1968.04 2011.57V2010.21M1968.04 2074.22V2075.5M1988.59 2006.12V2003.4M1988.59 2068.78V2070.68" stroke="#111" stroke-width="2.3" stroke-linecap="round"/>
<path d="M73.58 2048.94h0M73.58 2044.44h0M73.58 2076.65h0M94.13 2033.35h0M94.13 2030.88h0M94.13 2076.65h0M114.68 2031.29h0M114.68 2026.09h0M114.68 2023.64h0M114.68 2018.59h0M114.68 2016.58h0M114.68 2011.9h0M114.68 2011.56h0M114.68 2076.65h0M135.23 2076.65h0M155.78 2044.85h0M155.78 2041.39h0M155.78 2039.36h0M155.78 2073.99h0M155.78 2076.65h0M392.75 2048.24h0M392.75 2044.65h0M392.75 2044.44h0M392.75 2066.48h0M629.72 2046h0M629.72 2042.63h0M629.72 2038.69h0M629.72 2035.97h0M650.27 2024.71h0M650.27 2019.95h0M650.27 2014.98h0M650.27 2011.23h0M650.27 2008.85h0M670.82 2028.1h0M670.82 2025.04h0M670.82 2022.53h0M670.82 2018.52h0M670.82 2014.48h0M670.82 2012.24h0M711.92 2023.26h0M711.92 2020.12h0M711.92 2015.17h0M711.92 2014.95h0M907.79 2043.53h0M907.79 2041.06h0M928.34 2035.36h0M928.34 2030.17h0M928.34 2028.13h0M928.34 2025.97h0M928.34 2025.8h0M948.89 2034.94h0M948.89 2029.72h0M948.89 2029.19h0M969.44 2048.15h0M969.44 2042.66h0M969.44 2042.07h0M989.99 2018.26h0M989.99 2013.86h0M989.99 2010.5h0M989.99 2007.25h0M989.99 2003.17h0M989.99 1999.94h0M989.99 1994.62h0M989.99 1990.25h0M989.99 1986.41h0M989.99 1984.07h0M989.99 1981.73h0M1051.63 2036.67h0M1051.63 2032.7h0M1051.63 2028.69h0M1051.63 2027.49h0M1133.83 2048.87h0M1133.83 2045.46h0M1185.86 2036.16h0M1185.86 2031.97h0M1185.86 2026.49h0M1185.86 2023.28h0M1185.86 2020.71h0M1206.41 2036.03h0M1206.41 2033.43h0M1206.41 2032.58h0M1226.96 2033.6h0M1226.96 2028.71h0M1226.96 2024.91h0M1226.96 2022.52h0M1226.96 2022.41h0M1247.51 2040.57h0M1247.51 2035.97h0M1268.06 2027.11h0M1268.06 2022.01h0M1268.06 2018.53h0M1268.06 2015.99h0M1268.06 2012.97h0M1268.06 2009.18h0M1268.06 2008.85h0M1288.61 2042.84h0M1288.61 2040.2h0M1288.61 2035.99h0M1288.61 2031.88h0M1288.61 2028.65h0M1288.61 2023.17h0M1288.61 2018.94h0M1288.61 2016.79h0M1288.61 2013.93h0M1309.15 2038.3h0M1309.15 2035.22h0M1309.15 2034.28h0M1463.93 2037.35h0M1463.93 2034.28h0M1463.93 2029.33h0M1463.93 2027.49h0M1484.48 2031.97h0M1484.48 2029.28h0M1484.48 2029.19h0M1505.03 2032.58h0M1505.03 2029.87h0M1525.58 2034.76h0M1525.58 2034.28h0M1546.13 2012h0M1546.13 2007.99h0M1546.13 2004.56h0M1546.13 2002.13h0M1546.13 1999.58h0M1546.13 1994.92h0M1546.13 1992.55h0M1546.13 1990.2h0M1566.68 2031.68h0M1566.68 2027.85h0M1566.68 2022.97h0M1566.68 2022.41h0M1587.22 2011.32h0M1587.22 2009.1h0M1587.22 2007.05h0M1587.22 2005.46h0M1607.77 2014.7h0M1607.77 2010.2h0M1607.77 2007.15h0M1628.32 2000.16h0M1628.32 1997.22h0M1628.32 1994.87h0M1628.32 1989.71h0M1628.32 1988.51h0M1628.32 2066.24h0M1628.32 2069.19h0M1648.87 2004.31h0M1648.87 2002.12h0M1648.87 1997.01h0M1648.87 1996.98h0M1689.97 2002.81h0M1689.97 1999.27h0M1689.97 1998.68h0M1710.52 2001.91h0M1710.52 1999.76h0M1710.52 1995.29h0M1710.52 2068.18h0M1742 2040.69h0M1742 2035.54h0M1742 2032.09h0M1742 2073.33h0M1742 2076.4h0M1762.55 2071.5h0M1783.1 2036.24h0M1783.1 2032.09h0M1783.1 2077.76h0M1783.1 2077.86h0M1803.65 2077.65h0M1803.65 2077.86h0M1824.2 2013.3h0M1824.2 2008.24h0M1824.2 2004.54h0M1824.2 1999.77h0M1824.2 1996.92h0M1824.2 1994.31h0M1824.2 1991.6h0M1844.75 2032.16h0M1844.75 2026.76h0M1844.75 2023.75h0M1844.75 2019.78h0M1844.75 2017.38h0M1844.75 2013.51h0M1844.75 2010.66h0M1865.3 2017.51h0M1865.3 2015.28h0M1865.3 2015.2h0M1865.3 2077.86h0M1885.84 2011.43h0M1885.84 2008.57h0M1885.84 2005.9h0M1885.84 2002.91h0M1885.84 2000.08h0M1885.84 1997.96h0M1885.84 1994.32h0M1885.84 2076.95h0M1906.39 1999.49h0M1906.39 1998.86h0M1906.39 2070.59h0M1926.94 1999.89h0M1926.94 1999.4h0M1947.49 2005.95h0M1947.49 2005.22h0M1947.49 2077.86h0M1968.04 2007.03h0M1968.04 2077.86h0M1988.59 2000.16h0M1988.59 1997.04h0M1988.59 2074h0M1988.59 2074.22h0" stroke="#111" stroke-width="2.3" stroke-linecap="round"/>
<path d="M65.46 2059.7h16.23v6.78h-16.23zM621.6 2058.68h16.23v7.12h-16.23zM899.67 2061.39h16.23v6.78h-16.23zM1177.74 2059.02h16.23v7.46h-16.23zM1455.81 2053.94h16.23v7.46h-16.23zM1733.88 2053.7h16.23v8.17h-16.23z" fill="#D09840" stroke="#222" stroke-width="1.15"/>
<path d="M86.01 2056.31h16.23v9.49h-16.23zM642.15 2051.22h16.23v11.87h-16.23zM920.22 2058.68h16.23v7.12h-16.23zM1198.29 2056.99h16.23v7.8h-16.23zM1476.36 2049.53h16.23v8.47h-16.23zM1754.43 2049.34h16.23v8.54h-16.23z" fill="#D4A43C" stroke="#222" stroke-width="1.15"/>
<path d="M106.56 2057.33h16.23v8.14h-16.23zM384.63 2056.99h16.23v3.39h-16.23zM662.7 2053.6h16.23v10.51h-16.23zM940.77 2059.7h16.23v7.46h-16.23zM1218.84 2059.02h16.23v8.14h-16.23zM1496.91 2051.22h16.23v9.15h-16.23zM1774.98 2051.89h16.23v9.26h-16.23z" fill="#C0B430" stroke="#222" stroke-width="1.15"/>
<path d="M127.11 2058.01h16.23v6.78h-16.23zM683.25 2055.63h16.23v10.85h-16.23zM961.32 2063.09h16.23v6.1h-16.23zM1239.39 2060.38h16.23v6.78h-16.23zM1517.46 2051.22h16.23v7.8h-16.23zM1795.53 2051.52h16.23v7.45h-16.23z" fill="#8C9C4C" stroke="#222" stroke-width="1.15"/>
<path d="M147.66 2056.31h16.23v5.09h-16.23zM703.8 2053.6h16.23v16.27h-16.23zM981.87 2053.94h16.23v10.17h-16.23zM1259.94 2056.99h16.23v10.17h-16.23zM1538.01 2045.46h16.23v15.26h-16.23zM1816.08 2047.53h16.23v14.35h-16.23z" fill="#A0F050" stroke="#222" stroke-width="1.15"/>
<path d="M1002.42 2066.48h16.23v6.78h-16.23zM1280.49 2067.16h16.23v6.1h-16.23zM1558.56 2053.6h16.23v10.17h-16.23zM1836.63 2057.7h16.23v9.62h-16.23z" fill="#50E828" stroke="#222" stroke-width="1.15"/>
<path d="M1022.97 2052.24h16.23v14.24h-16.23zM1301.04 2058.68h16.23v7.12h-16.23zM1579.11 2038.68h16.23v13.56h-16.23zM1857.18 2042.99h16.23v10.9h-16.23z" fill="#80D090" stroke="#222" stroke-width="1.15"/>
<path d="M1043.52 2054.95h16.23v12.2h-16.23zM1321.59 2058.68h16.23v7.12h-16.23zM1599.66 2037.66h16.23v12.54h-16.23zM1877.73 2041.54h16.23v10.9h-16.23z" fill="#68C080" stroke="#222" stroke-width="1.15"/>
<path d="M1125.71 2061.39h16.23v6.78h-16.23zM1681.85 2031.9h16.23v11.53h-16.23zM1959.92 2032.09h16.23v10.35h-16.23z" fill="#4060C8" stroke="#222" stroke-width="1.15"/>
<path d="M1146.26 2038.68h16.23v22.71h-16.23zM1702.4 2025.12h16.23v14.24h-16.23zM1980.47 2026.28h16.23v12.53h-16.23z" fill="#E02020" stroke="#222" stroke-width="1.15"/>
<path d="M1620.21 2024.11h16.23v11.87h-16.23zM1898.28 2025.19h16.23v13.08h-16.23z" fill="#80F8F0" stroke="#222" stroke-width="1.15"/>
<path d="M1640.76 2026.82h16.23v14.58h-16.23zM1918.83 2027.92h16.23v13.98h-16.23z" fill="#70F0F0" stroke="#222" stroke-width="1.15"/>
<path d="M1661.31 2029.87h16.23v12.2h-16.23zM1939.38 2029.37h16.23v13.26h-16.23z" fill="#A0D8E8" stroke="#222" stroke-width="1.15"/>
<path d="M65.46 2063.09H81.7M86.01 2059.02H102.25M106.56 2059.7H122.79M127.11 2060.38H143.34M147.66 2058.01H163.89M384.63 2058.34H400.86M621.6 2062.07H637.84M642.15 2056.31H658.39M662.7 2058.68H678.93M683.25 2058.68H699.48M703.8 2063.77H720.03M899.67 2063.09H915.91M920.22 2061.39H936.46M940.77 2063.09H957M961.32 2065.8H977.55M981.87 2059.02H998.1M1002.42 2069.19H1018.65M1022.97 2064.78H1039.2M1043.52 2060.38H1059.75M1125.71 2063.77H1141.95M1146.26 2044.44H1162.5M1177.74 2062.41H1193.98M1198.29 2060.38H1214.53M1218.84 2062.41H1235.07M1239.39 2063.77H1255.62M1259.94 2061.39H1276.17M1280.49 2069.87H1296.72M1301.04 2061.39H1317.27M1321.59 2061.73H1337.82M1455.81 2056.99H1472.05M1476.36 2053.6H1492.6M1496.91 2055.63H1513.14M1517.46 2054.95H1533.69M1538.01 2053.6H1554.24M1558.56 2059.02H1574.79M1579.11 2045.46H1595.34M1599.66 2044.44H1615.89M1620.21 2030.21H1636.44M1640.76 2034.28H1656.99M1661.31 2035.29H1677.54M1681.85 2038H1698.09M1702.4 2031.9H1718.64M1733.88 2057.52H1750.12M1754.43 2053.34H1770.67M1774.98 2056.06H1791.21M1795.53 2055.16H1811.76M1816.08 2053.34H1832.31M1836.63 2062.78H1852.86M1857.18 2048.44H1873.41M1877.73 2046.98H1893.96M1898.28 2031.55H1914.51M1918.83 2034.64H1935.06M1939.38 2036.09H1955.61M1959.92 2036.63H1976.16M1980.47 2032.46H1996.71" stroke="#222" stroke-width="2.3"/>
<path d="" stroke="#222" stroke-width="1.8"/>
<path d="M73.58 2216.61V2238.65M94.13 2199.66V2238.65M114.68 2204.75V2238.65M135.23 2211.53V2238.65M155.78 2197.97V2238.65M176.33 2220.01V2238.65M196.88 2209.84V2238.65M217.42 2208.14V2238.65M237.97 2213.22V2230.18M279.07 2208.82V2238.65M299.62 2213.22V2238.65M320.17 2203.05V2235.26M392.75 2206.45V2238.65M413.3 2209.84V2236.95M433.85 2211.53V2238.65M454.4 2225.09V2236.95M474.94 2204.75V2238.65M495.49 2211.53V2238.65M516.04 2204.75V2238.65M536.59 2204.75V2238.65M557.14 2203.05V2238.65M577.69 2203.05V2238.65M598.24 2201.36V2238.65M629.72 2215.6V2238.65M650.27 2204.75V2238.65M670.82 2203.05V2239.33M691.37 2208.82V2238.65M711.92 2203.05V2238.65M732.47 2221.7V2238.65M753.01 2208.82V2238.65M773.56 2209.84V2238.65M794.11 2206.45V2238.65M814.66 2209.84V2238.65M835.21 2203.05V2238.65M855.76 2199.66V2238.65M876.31 2197.97V2238.65M907.79 2218.31V2236.95M928.34 2216.61V2236.95M948.89 2214.92V2238.65M969.44 2216.61V2236.95M989.99 2211.53V2238.65M1010.54 2223.39V2238.65M1031.09 2204.75V2238.65M1051.63 2199.66V2238.65M1072.18 2181.7V2234.58M1092.73 2184.41V2237.97M1113.28 2182.72V2236.95M1133.83 2182.72V2238.65M1154.38 2170.85V2229.16M1185.86 2218.31V2238.65M1206.41 2211.53V2238.65M1226.96 2211.53V2238.65M1247.51 2204.75V2238.65M1268.06 2199.66V2238.65M1288.61 2216.61V2238.65M1309.15 2192.89V2238.65M1329.7 2182.72V2237.97M1350.25 2169.16V2231.87M1370.8 2170.17V2235.26M1391.35 2175.93V2233.57M1411.9 2174.24V2236.95M1432.45 2170.85V2230.18M1463.93 2201.36V2238.65M1484.48 2203.05V2238.65M1505.03 2201.36V2238.65M1525.58 2203.05V2239.33M1546.13 2192.89V2238.65M1566.68 2220.01V2238.65M1587.22 2191.19V2238.65M1607.77 2203.05V2238.65M1628.32 2194.58V2238.65M1648.87 2203.05V2238.65M1669.42 2208.14V2238.65M1689.97 2187.8V2238.65M1710.52 2201.36V2238.65M1783.1 2216.25V2238.95M1803.65 2217.16V2236.22M1824.2 2211.71V2238.95M1844.75 2227.14V2238.95M1865.3 2216.25V2238.95M1885.84 2218.97V2238.95M1906.39 2218.06V2238.95M1926.94 2229.87V2236.22M1947.49 2218.06V2238.95M1968.04 2223.51V2238.95M1988.59 2218.97V2238.95" stroke="#1a1a1a" stroke-width="1.25"/>
<path d="M73.58 2216.61V2211.02M94.13 2199.66V2194.07M114.68 2204.75V2197.12M135.23 2211.53V2205.94M155.78 2197.97V2186.27M176.33 2220.01V2213.6M196.88 2209.84V2200.68M217.42 2208.14V2190.34M237.97 2213.22V2211.7M413.3 2209.84V2207.8M433.85 2211.53V2199.83M454.4 2225.09V2220.82M474.94 2204.75V2202.21M495.49 2211.53V2205.43M516.04 2204.75V2202.21M536.59 2204.75V2203.43M557.14 2203.05V2200M577.69 2203.05V2198.99M598.24 2201.36V2193.73M650.27 2204.75V2202.51M670.82 2203.05V2201.53M691.37 2208.82V2207.09M691.37 2238.65V2239.24M711.92 2203.05V2197.97M732.47 2221.7V2217.84M753.01 2208.82V2204.34M773.56 2209.84V2196.11M794.11 2206.45V2203.39M814.66 2209.84V2207.09M814.66 2238.65V2239.24M835.21 2203.05V2200M855.76 2199.66V2192.04M855.76 2238.65V2239.24M876.31 2197.97V2192.68M907.79 2218.31V2217.5M928.34 2216.61V2214.89M948.89 2214.92V2209.02M969.44 2216.61V2214.89M989.99 2211.53V2204.92M1010.54 2223.39V2217.8M1031.09 2204.75V2199.66M1051.63 2199.66V2193.56M1092.73 2184.41V2182.17M1113.28 2182.72V2179.97M1133.83 2182.72V2179.97M1154.38 2170.85V2167.6M1185.86 2218.31V2212.72M1206.41 2211.53V2206.95M1226.96 2211.53V2206.95M1247.51 2204.75V2201.7M1268.06 2199.66V2194.07M1288.61 2216.61V2204.92M1309.15 2192.89V2190.14M1329.7 2182.72V2180.68M1391.35 2175.93V2173.39M1411.9 2174.24V2172.71M1432.45 2170.85V2167.29M1463.93 2201.36V2195.77M1484.48 2203.05V2195.94M1505.03 2201.36V2194.24M1525.58 2203.05V2195.94M1546.13 2192.89V2176.1M1566.68 2220.01V2210.14M1587.22 2191.19V2181.53M1607.77 2203.05V2183.02M1628.32 2194.58V2191.02M1648.87 2203.05V2199.7M1669.42 2208.14V2202.85M1689.97 2187.8V2171.32M1710.52 2201.36V2185.6M1783.1 2216.25V2214.07M1824.2 2211.71V2201.08M1865.3 2216.25V2214.89M1885.84 2218.97V2217.07M1906.39 2218.06V2210.98M1947.49 2218.06V2213.16M1968.04 2223.51V2218.88M1988.59 2218.97V2211.07" stroke="#111" stroke-width="2.3" stroke-linecap="round"/>
<path d="M73.58 2208.29h0M73.58 2202.97h0M73.58 2199.2h0M73.58 2197.97h0M94.13 2190.49h0M94.13 2188.03h0M94.13 2183.56h0M94.13 2181.02h0M114.68 2191.97h0M114.68 2187.92h0M114.68 2184.63h0M114.68 2181.77h0M114.68 2179.32h0M135.23 2203.19h0M135.23 2198.14h0M135.23 2195.71h0M135.23 2192.89h0M155.78 2182.38h0M155.78 2179.43h0M155.78 2174.73h0M155.78 2171.38h0M155.78 2167.08h0M155.78 2163.09h0M155.78 2160.01h0M155.78 2158.99h0M176.33 2211.3h0M176.33 2208.68h0M176.33 2203.7h0M176.33 2200.57h0M176.33 2198.65h0M196.88 2198.3h0M196.88 2194.33h0M196.88 2191.07h0M196.88 2187.32h0M196.88 2184.28h0M196.88 2182.05h0M196.88 2179.32h0M217.42 2187.55h0M217.42 2185.11h0M217.42 2180.6h0M217.42 2177.61h0M217.42 2174.2h0M217.42 2169.02h0M217.42 2164.31h0M217.42 2159.22h0M217.42 2154.2h0M217.42 2151.74h0M217.42 2148.82h0M237.97 2209.6h0M237.97 2208.14h0M413.3 2203.48h0M413.3 2203.05h0M433.85 2196.39h0M433.85 2192.08h0M433.85 2187.64h0M433.85 2184.77h0M433.85 2179.8h0M433.85 2176.57h0M433.85 2172.55h0M454.4 2218.18h0M454.4 2215.78h0M454.4 2210.85h0M474.94 2197.64h0M474.94 2196.28h0M495.49 2203.29h0M495.49 2201.15h0M495.49 2198.58h0M495.49 2195.89h0M495.49 2192.83h0M495.49 2191.19h0M516.04 2200.07h0M516.04 2196.98h0M516.04 2196.28h0M536.59 2200.8h0M536.59 2200.34h0M557.14 2196.01h0M557.14 2192.89h0M577.69 2196.1h0M577.69 2192.57h0M577.69 2189.49h0M598.24 2190.51h0M598.24 2188.51h0M598.24 2183.59h0M598.24 2178.87h0M598.24 2175.93h0M650.27 2200.36h0M650.27 2197.29h0M670.82 2197.97h0M691.37 2204.92h0M691.37 2203.05h0M691.37 2240.34h0M711.92 2193.2h0M711.92 2190.46h0M711.92 2186.11h0M732.47 2213.21h0M732.47 2210.91h0M732.47 2208.82h0M753.01 2200.97h0M753.01 2196.35h0M753.01 2193.9h0M773.56 2193.12h0M773.56 2190.81h0M773.56 2185.49h0M773.56 2182.01h0M773.56 2176.75h0M773.56 2172.33h0M773.56 2167.75h0M773.56 2164.07h0M794.11 2199.2h0M794.11 2196.28h0M814.66 2204.9h0M814.66 2200.68h0M814.66 2240.34h0M835.21 2196.21h0M835.21 2192.89h0M855.76 2189.59h0M855.76 2184.92h0M855.76 2182.77h0M855.76 2178.31h0M855.76 2174.24h0M855.76 2240.34h0M876.31 2188.77h0M876.31 2183.38h0M876.31 2180.34h0M907.79 2215.6h0M928.34 2212.01h0M928.34 2210.85h0M948.89 2205.77h0M948.89 2202.33h0M948.89 2199.62h0M948.89 2196.54h0M948.89 2195.26h0M969.44 2210.85h0M989.99 2200.57h0M989.99 2197.74h0M989.99 2194.89h0M989.99 2191.09h0M989.99 2189.49h0M1010.54 2212.53h0M1010.54 2209.3h0M1010.54 2206.25h0M1010.54 2204.75h0M1031.09 2197.17h0M1031.09 2193.2h0M1031.09 2190.03h0M1031.09 2187.8h0M1051.63 2189.64h0M1051.63 2184.98h0M1051.63 2182.39h0M1051.63 2179.32h0M1092.73 2178.08h0M1092.73 2176.95h0M1113.28 2175.29h0M1113.28 2173.56h0M1133.83 2177.57h0M1133.83 2174.56h0M1133.83 2173.56h0M1154.38 2164.87h0M1154.38 2162.66h0M1154.38 2160h0M1185.86 2210.03h0M1185.86 2205.57h0M1185.86 2202h0M1185.86 2199.66h0M1206.41 2203.82h0M1206.41 2200.18h0M1206.41 2196.91h0M1206.41 2196.28h0M1226.96 2204.7h0M1226.96 2202.66h0M1226.96 2197.19h0M1226.96 2196.28h0M1247.51 2199.41h0M1247.51 2194.9h0M1247.51 2194.58h0M1268.06 2190.1h0M1268.06 2187.72h0M1268.06 2184.01h0M1268.06 2181.02h0M1288.61 2202.26h0M1288.61 2198.35h0M1288.61 2196.33h0M1288.61 2191.11h0M1288.61 2186.85h0M1288.61 2182.65h0M1288.61 2177.63h0M1309.15 2185.85h0M1309.15 2183.73h0M1329.7 2177.82h0M1329.7 2175.93h0M1391.35 2171.3h0M1391.35 2167.46h0M1411.9 2169.16h0M1432.45 2164.25h0M1432.45 2161.6h0M1432.45 2158.99h0M1463.93 2190.81h0M1463.93 2185.56h0M1463.93 2182.97h0M1463.93 2182.72h0M1484.48 2191.03h0M1484.48 2186.43h0M1484.48 2183.29h0M1484.48 2180.64h0M1484.48 2179.32h0M1505.03 2191.12h0M1505.03 2187.83h0M1505.03 2183.9h0M1505.03 2180.61h0M1505.03 2177.63h0M1525.58 2193.1h0M1525.58 2190.95h0M1525.58 2186.97h0M1525.58 2182.77h0M1525.58 2179.32h0M1546.13 2171.63h0M1546.13 2166.47h0M1546.13 2161.16h0M1546.13 2157.43h0M1546.13 2153.68h0M1546.13 2151.13h0M1546.13 2148.08h0M1546.13 2144.05h0M1546.13 2141.77h0M1546.13 2137.36h0M1546.13 2136.95h0M1566.68 2206.59h0M1566.68 2201.19h0M1566.68 2198.88h0M1566.68 2196.74h0M1566.68 2193.2h0M1566.68 2190.53h0M1566.68 2187.12h0M1587.22 2179.52h0M1587.22 2174.58h0M1587.22 2169.58h0M1587.22 2164.83h0M1587.22 2161.34h0M1587.22 2158.99h0M1607.77 2178.7h0M1607.77 2174.9h0M1607.77 2171.43h0M1607.77 2168.24h0M1607.77 2164.71h0M1607.77 2160.38h0M1607.77 2155.49h0M1607.77 2150.32h0M1607.77 2147.75h0M1607.77 2144.71h0M1607.77 2141.16h0M1607.77 2137.19h0M1607.77 2136.27h0M1628.32 2188.34h0M1628.32 2186.04h0M1628.32 2182.91h0M1628.32 2182.72h0M1648.87 2194.3h0M1648.87 2191.87h0M1669.42 2197.82h0M1669.42 2192.41h0M1669.42 2190.51h0M1689.97 2167.16h0M1689.97 2162.32h0M1689.97 2160.11h0M1689.97 2155.74h0M1689.97 2151.61h0M1689.97 2148.57h0M1689.97 2144.57h0M1689.97 2139.23h0M1689.97 2135.55h0M1689.97 2132.88h0M1710.52 2182.55h0M1710.52 2179.35h0M1710.52 2174.25h0M1710.52 2172.15h0M1710.52 2169.49h0M1710.52 2165.12h0M1710.52 2161.55h0M1710.52 2159.25h0M1710.52 2154.94h0M1710.52 2151.64h0M1710.52 2148.82h0M1783.1 2210.61h0M1783.1 2208.98h0M1824.2 2197.11h0M1824.2 2193.72h0M1824.2 2191.32h0M1824.2 2188.69h0M1824.2 2183.57h0M1824.2 2179.66h0M1824.2 2177.26h0M1824.2 2176.3h0M1865.3 2212h0M1865.3 2211.71h0M1885.84 2213.21h0M1885.84 2212.62h0M1906.39 2207.27h0M1906.39 2203.33h0M1906.39 2200.54h0M1906.39 2196.53h0M1906.39 2194.46h0M1947.49 2209.36h0M1947.49 2205.31h0M1947.49 2203.02h0M1947.49 2201.72h0M1968.04 2216.62h0M1968.04 2213.09h0M1968.04 2208.08h0M1988.59 2207.15h0M1988.59 2202.64h0M1988.59 2198h0M1988.59 2195.59h0M1988.59 2192.64h0" stroke="#111" stroke-width="2.3" stroke-linecap="round"/>
<path d="M65.46 2221.02h16.23v6.78h-16.23zM621.6 2220.68h16.23v7.8h-16.23zM899.67 2227.8h16.23v5.42h-16.23zM1177.74 2226.11h16.23v7.46h-16.23zM1455.81 2218.31h16.23v7.46h-16.23z" fill="#D09840" stroke="#222" stroke-width="1.15"/>
<path d="M86.01 2214.92h16.23v11.86h-16.23zM642.15 2212.21h16.23v10.17h-16.23zM920.22 2225.77h16.23v6.1h-16.23zM1198.29 2223.39h16.23v7.8h-16.23zM1476.36 2216.61h16.23v9.49h-16.23z" fill="#D4A43C" stroke="#222" stroke-width="1.15"/>
<path d="M106.56 2220.01h16.23v8.47h-16.23zM384.63 2219.33h16.23v10.17h-16.23zM662.7 2218.99h16.23v10.17h-16.23zM940.77 2226.11h16.23v6.78h-16.23zM1218.84 2223.73h16.23v8.14h-16.23zM1496.91 2220.01h16.23v9.15h-16.23zM1774.98 2223.15h16.23v7.99h-16.23z" fill="#C0B430" stroke="#222" stroke-width="1.15"/>
<path d="M127.11 2222.38h16.23v6.78h-16.23zM405.18 2220.68h16.23v7.12h-16.23zM683.25 2221.7h16.23v6.1h-16.23zM961.32 2225.77h16.23v6.78h-16.23zM1239.39 2221.02h16.23v10.17h-16.23zM1517.46 2221.7h16.23v7.46h-16.23zM1795.53 2226.24h16.23v5.99h-16.23z" fill="#8C9C4C" stroke="#222" stroke-width="1.15"/>
<path d="M147.66 2215.94h16.23v13.22h-16.23zM425.73 2222.72h16.23v9.15h-16.23zM703.8 2220.01h16.23v10.85h-16.23zM981.87 2222.38h16.23v7.8h-16.23zM1259.94 2218.31h16.23v11.19h-16.23zM1538.01 2218.99h16.23v11.19h-16.23zM1816.08 2222.6h16.23v8.54h-16.23z" fill="#A0F050" stroke="#222" stroke-width="1.15"/>
<path d="M168.21 2227.8h16.23v6.78h-16.23zM446.28 2231.19h16.23v4.07h-16.23zM724.35 2230.18h16.23v5.09h-16.23zM1002.42 2231.87h16.23v5.09h-16.23zM1280.49 2226.11h16.23v9.15h-16.23zM1558.56 2228.48h16.23v6.78h-16.23zM1836.63 2232.05h16.23v4.18h-16.23z" fill="#50E828" stroke="#222" stroke-width="1.15"/>
<path d="M188.76 2221.02h16.23v9.15h-16.23zM466.83 2221.7h16.23v7.8h-16.23zM744.9 2220.01h16.23v9.15h-16.23zM1022.97 2218.31h16.23v9.49h-16.23zM1301.04 2210.85h16.23v12.88h-16.23zM1579.11 2213.22h16.23v15.93h-16.23zM1857.18 2226.78h16.23v7.63h-16.23z" fill="#80D090" stroke="#222" stroke-width="1.15"/>
<path d="M209.31 2222.38h16.23v7.8h-16.23zM487.38 2224.41h16.23v6.44h-16.23zM765.45 2221.7h16.23v8.48h-16.23zM1043.52 2214.24h16.23v11.53h-16.23zM1321.59 2205.43h16.23v14.58h-16.23zM1599.66 2221.02h16.23v9.15h-16.23zM1877.73 2227.51h16.23v5.99h-16.23z" fill="#68C080" stroke="#222" stroke-width="1.15"/>
<path d="M229.86 2220.01h16.23v5.76h-16.23zM507.93 2219.33h16.23v7.8h-16.23zM786 2218.31h16.23v8.14h-16.23zM1064.07 2201.36h16.23v16.95h-16.23zM1342.14 2188.48h16.23v17.29h-16.23zM1620.21 2215.6h16.23v11.19h-16.23zM1898.28 2226.24h16.23v5.81h-16.23z" fill="#80F8F0" stroke="#222" stroke-width="1.15"/>
<path d="M270.96 2221.7h16.23v9.49h-16.23zM549.03 2218.31h16.23v8.14h-16.23zM827.1 2217.63h16.23v8.14h-16.23zM1105.17 2198.65h16.23v14.58h-16.23zM1383.24 2193.56h16.23v13.56h-16.23zM1661.31 2218.99h16.23v9.49h-16.23zM1939.38 2228.05h16.23v5.45h-16.23z" fill="#A0D8E8" stroke="#222" stroke-width="1.15"/>
<path d="M291.5 2223.39h16.23v7.8h-16.23zM569.57 2220.01h16.23v7.8h-16.23zM847.64 2217.63h16.23v9.15h-16.23zM1125.71 2200.68h16.23v11.87h-16.23zM1403.78 2192.89h16.23v11.86h-16.23zM1681.85 2220.01h16.23v10.85h-16.23zM1959.92 2229.87h16.23v5.27h-16.23z" fill="#4060C8" stroke="#222" stroke-width="1.15"/>
<path d="M312.05 2215.6h16.23v9.49h-16.23zM590.12 2218.31h16.23v8.81h-16.23zM868.19 2216.95h16.23v10.17h-16.23zM1146.26 2193.9h16.23v14.92h-16.23zM1424.33 2187.8h16.23v14.24h-16.23zM1702.4 2220.68h16.23v10.51h-16.23zM1980.47 2225.87h16.23v6.36h-16.23z" fill="#E02020" stroke="#222" stroke-width="1.15"/>
<path d="M528.48 2219.33h16.23v7.12h-16.23zM806.55 2220.68h16.23v7.12h-16.23zM1084.62 2204.07h16.23v14.24h-16.23zM1362.69 2191.87h16.23v16.27h-16.23zM1640.76 2218.31h16.23v7.8h-16.23zM1918.83 2231.5h16.23v3.45h-16.23z" fill="#70F0F0" stroke="#222" stroke-width="1.15"/>
<path d="M65.46 2223.39H81.7M86.01 2220.68H102.25M106.56 2224.07H122.79M127.11 2225.77H143.34M147.66 2221.7H163.89M168.21 2230.18H184.44M188.76 2225.77H204.99M209.31 2225.77H225.54M229.86 2222.72H246.09M270.96 2229.16H287.19M291.5 2227.8H307.74M312.05 2220.01H328.29M384.63 2223.39H400.86M405.18 2223.39H421.41M425.73 2226.78H441.96M446.28 2233.57H462.51M466.83 2225.77H483.06M487.38 2227.8H503.61M507.93 2223.39H524.16M528.48 2222.38H544.71M549.03 2221.02H565.26M569.57 2223.39H585.81M590.12 2221.7H606.36M621.6 2224.41H637.84M642.15 2217.63H658.39M662.7 2224.07H678.93M683.25 2224.41H699.48M703.8 2225.77H720.03M724.35 2232.55H740.58M744.9 2224.41H761.13M765.45 2225.77H781.68M786 2221.7H802.23M806.55 2223.39H822.78M827.1 2221.02H843.33M847.64 2221.02H863.88M868.19 2221.7H884.43M899.67 2229.84H915.91M920.22 2228.48H936.46M940.77 2229.16H957M961.32 2228.48H977.55M981.87 2225.77H998.1M1002.42 2233.9H1018.65M1022.97 2221.7H1039.2M1043.52 2220.34H1059.75M1064.07 2208.82H1080.3M1084.62 2210.85H1100.85M1105.17 2205.43H1121.4M1125.71 2206.45H1141.95M1146.26 2200.68H1162.5M1177.74 2229.16H1193.98M1198.29 2226.78H1214.53M1218.84 2227.46H1235.07M1239.39 2225.09H1255.62M1259.94 2224.41H1276.17M1280.49 2230.18H1296.72M1301.04 2216.61H1317.27M1321.59 2211.53H1337.82M1342.14 2197.29H1358.37M1362.69 2201.36H1378.92M1383.24 2200.34H1399.47M1403.78 2197.29H1420.02M1424.33 2193.9H1440.57M1455.81 2221.7H1472.05M1476.36 2220.68H1492.6M1496.91 2224.07H1513.14M1517.46 2225.09H1533.69M1538.01 2224.07H1554.24M1558.56 2231.19H1574.79M1579.11 2221.7H1595.34M1599.66 2225.09H1615.89M1620.21 2220.68H1636.44M1640.76 2221.02H1656.99M1661.31 2223.39H1677.54M1681.85 2226.78H1698.09M1702.4 2226.11H1718.64M1774.98 2226.78H1791.21M1795.53 2229.32H1811.76M1816.08 2227.14H1832.31M1836.63 2234.04H1852.86M1857.18 2230.41H1873.41M1877.73 2230.41H1893.96M1898.28 2228.96H1914.51M1918.83 2232.96H1935.06M1939.38 2230.41H1955.61M1959.92 2232.59H1976.16M1980.47 2228.96H1996.71" stroke="#222" stroke-width="2.3"/>
<path d="" stroke="#222" stroke-width="1.8"/>
<rect x="61.8" y="1962.5" width="270.15" height="129.45" fill="none" stroke="#555" stroke-width="1.1"/>
<rect x="339.87" y="1962.5" width="270.15" height="129.45" fill="none" stroke="#555" stroke-width="1.1"/>
<rect x="617.94" y="1962.5" width="270.15" height="129.45" fill="none" stroke="#555" stroke-width="1.1"/>
<rect x="896.01" y="1962.5" width="270.15" height="129.45" fill="none" stroke="#555" stroke-width="1.1"/>
<rect x="1174.08" y="1962.5" width="270.15" height="129.45" fill="none" stroke="#555" stroke-width="1.1"/>
<rect x="1452.15" y="1962.5" width="270.15" height="129.45" fill="none" stroke="#555" stroke-width="1.1"/>
<rect x="1730.22" y="1962.5" width="270.15" height="129.45" fill="none" stroke="#555" stroke-width="1.1"/>
<rect x="61.8" y="2125" width="270.15" height="129.45" fill="none" stroke="#555" stroke-width="1.1"/>
<rect x="339.87" y="2125" width="270.15" height="129.45" fill="none" stroke="#555" stroke-width="1.1"/>
<rect x="617.94" y="2125" width="270.15" height="129.45" fill="none" stroke="#555" stroke-width="1.1"/>
<rect x="896.01" y="2125" width="270.15" height="129.45" fill="none" stroke="#555" stroke-width="1.1"/>
<rect x="1174.08" y="2125" width="270.15" height="129.45" fill="none" stroke="#555" stroke-width="1.1"/>
<rect x="1452.15" y="2125" width="270.15" height="129.45" fill="none" stroke="#555" stroke-width="1.1"/>
<rect x="1730.22" y="2125" width="270.15" height="129.45" fill="none" stroke="#555" stroke-width="1.1"/>
<path d="M73.58 2255v3.4M94.13 2255v3.4M114.68 2255v3.4M135.23 2255v3.4M155.78 2255v3.4M176.33 2255v3.4M196.88 2255v3.4M217.42 2255v3.4M237.97 2255v3.4M258.52 2255v3.4M279.07 2255v3.4M299.62 2255v3.4M320.17 2255v3.4" stroke="#333333" stroke-width="1.1"/>
<text transform="translate(73.58,2261.8) rotate(-90)" x="0" y="0" dy="0.36em" font-size="13.8" text-anchor="end" fill="#444444">E15.5</text>
<text transform="translate(94.13,2261.8) rotate(-90)" x="0" y="0" dy="0.36em" font-size="13.8" text-anchor="end" fill="#444444">E16</text>
<text transform="translate(114.68,2261.8) rotate(-90)" x="0" y="0" dy="0.36em" font-size="13.8" text-anchor="end" fill="#444444">E17</text>
<text transform="translate(135.23,2261.8) rotate(-90)" x="0" y="0" dy="0.36em" font-size="13.8" text-anchor="end" fill="#444444">E18</text>
<text transform="translate(155.78,2261.8) rotate(-90)" x="0" y="0" dy="0.36em" font-size="13.8" text-anchor="end" fill="#444444">P0</text>
<text transform="translate(176.33,2261.8) rotate(-90)" x="0" y="0" dy="0.36em" font-size="13.8" text-anchor="end" fill="#444444">P2</text>
<text transform="translate(196.88,2261.8) rotate(-90)" x="0" y="0" dy="0.36em" font-size="13.8" text-anchor="end" fill="#444444">P4</text>
<text transform="translate(217.42,2261.8) rotate(-90)" x="0" y="0" dy="0.36em" font-size="13.8" text-anchor="end" fill="#444444">P5</text>
<text transform="translate(237.97,2261.8) rotate(-90)" x="0" y="0" dy="0.36em" font-size="13.8" text-anchor="end" fill="#444444">P8</text>
<text transform="translate(258.52,2261.8) rotate(-90)" x="0" y="0" dy="0.36em" font-size="13.8" text-anchor="end" fill="#444444">P9</text>
<text transform="translate(279.07,2261.8) rotate(-90)" x="0" y="0" dy="0.36em" font-size="13.8" text-anchor="end" fill="#444444">P11</text>
<text transform="translate(299.62,2261.8) rotate(-90)" x="0" y="0" dy="0.36em" font-size="13.8" text-anchor="end" fill="#444444">P14</text>
<text transform="translate(320.17,2261.8) rotate(-90)" x="0" y="0" dy="0.36em" font-size="13.8" text-anchor="end" fill="#444444">P56</text>
<path d="M351.65 2255v3.4M372.2 2255v3.4M392.75 2255v3.4M413.3 2255v3.4M433.85 2255v3.4M454.4 2255v3.4M474.94 2255v3.4M495.49 2255v3.4M516.04 2255v3.4M536.59 2255v3.4M557.14 2255v3.4M577.69 2255v3.4M598.24 2255v3.4" stroke="#333333" stroke-width="1.1"/>
<text transform="translate(351.65,2261.8) rotate(-90)" x="0" y="0" dy="0.36em" font-size="13.8" text-anchor="end" fill="#444444">E15.5</text>
<text transform="translate(372.2,2261.8) rotate(-90)" x="0" y="0" dy="0.36em" font-size="13.8" text-anchor="end" fill="#444444">E16</text>
<text transform="translate(392.75,2261.8) rotate(-90)" x="0" y="0" dy="0.36em" font-size="13.8" text-anchor="end" fill="#444444">E17</text>
<text transform="translate(413.3,2261.8) rotate(-90)" x="0" y="0" dy="0.36em" font-size="13.8" text-anchor="end" fill="#444444">E18</text>
<text transform="translate(433.85,2261.8) rotate(-90)" x="0" y="0" dy="0.36em" font-size="13.8" text-anchor="end" fill="#444444">P0</text>
<text transform="translate(454.4,2261.8) rotate(-90)" x="0" y="0" dy="0.36em" font-size="13.8" text-anchor="end" fill="#444444">P2</text>
<text transform="translate(474.94,2261.8) rotate(-90)" x="0" y="0" dy="0.36em" font-size="13.8" text-anchor="end" fill="#444444">P4</text>
<text transform="translate(495.49,2261.8) rotate(-90)" x="0" y="0" dy="0.36em" font-size="13.8" text-anchor="end" fill="#444444">P5</text>
<text transform="translate(516.04,2261.8) rotate(-90)" x="0" y="0" dy="0.36em" font-size="13.8" text-anchor="end" fill="#444444">P8</text>
<text transform="translate(536.59,2261.8) rotate(-90)" x="0" y="0" dy="0.36em" font-size="13.8" text-anchor="end" fill="#444444">P9</text>
<text transform="translate(557.14,2261.8) rotate(-90)" x="0" y="0" dy="0.36em" font-size="13.8" text-anchor="end" fill="#444444">P11</text>
<text transform="translate(577.69,2261.8) rotate(-90)" x="0" y="0" dy="0.36em" font-size="13.8" text-anchor="end" fill="#444444">P14</text>
<text transform="translate(598.24,2261.8) rotate(-90)" x="0" y="0" dy="0.36em" font-size="13.8" text-anchor="end" fill="#444444">P56</text>
<path d="M629.72 2255v3.4M650.27 2255v3.4M670.82 2255v3.4M691.37 2255v3.4M711.92 2255v3.4M732.47 2255v3.4M753.01 2255v3.4M773.56 2255v3.4M794.11 2255v3.4M814.66 2255v3.4M835.21 2255v3.4M855.76 2255v3.4M876.31 2255v3.4" stroke="#333333" stroke-width="1.1"/>
<text transform="translate(629.72,2261.8) rotate(-90)" x="0" y="0" dy="0.36em" font-size="13.8" text-anchor="end" fill="#444444">E15.5</text>
<text transform="translate(650.27,2261.8) rotate(-90)" x="0" y="0" dy="0.36em" font-size="13.8" text-anchor="end" fill="#444444">E16</text>
<text transform="translate(670.82,2261.8) rotate(-90)" x="0" y="0" dy="0.36em" font-size="13.8" text-anchor="end" fill="#444444">E17</text>
<text transform="translate(691.37,2261.8) rotate(-90)" x="0" y="0" dy="0.36em" font-size="13.8" text-anchor="end" fill="#444444">E18</text>
<text transform="translate(711.92,2261.8) rotate(-90)" x="0" y="0" dy="0.36em" font-size="13.8" text-anchor="end" fill="#444444">P0</text>
<text transform="translate(732.47,2261.8) rotate(-90)" x="0" y="0" dy="0.36em" font-size="13.8" text-anchor="end" fill="#444444">P2</text>
<text transform="translate(753.01,2261.8) rotate(-90)" x="0" y="0" dy="0.36em" font-size="13.8" text-anchor="end" fill="#444444">P4</text>
<text transform="translate(773.56,2261.8) rotate(-90)" x="0" y="0" dy="0.36em" font-size="13.8" text-anchor="end" fill="#444444">P5</text>
<text transform="translate(794.11,2261.8) rotate(-90)" x="0" y="0" dy="0.36em" font-size="13.8" text-anchor="end" fill="#444444">P8</text>
<text transform="translate(814.66,2261.8) rotate(-90)" x="0" y="0" dy="0.36em" font-size="13.8" text-anchor="end" fill="#444444">P9</text>
<text transform="translate(835.21,2261.8) rotate(-90)" x="0" y="0" dy="0.36em" font-size="13.8" text-anchor="end" fill="#444444">P11</text>
<text transform="translate(855.76,2261.8) rotate(-90)" x="0" y="0" dy="0.36em" font-size="13.8" text-anchor="end" fill="#444444">P14</text>
<text transform="translate(876.31,2261.8) rotate(-90)" x="0" y="0" dy="0.36em" font-size="13.8" text-anchor="end" fill="#444444">P56</text>
<path d="M907.79 2255v3.4M928.34 2255v3.4M948.89 2255v3.4M969.44 2255v3.4M989.99 2255v3.4M1010.54 2255v3.4M1031.09 2255v3.4M1051.63 2255v3.4M1072.18 2255v3.4M1092.73 2255v3.4M1113.28 2255v3.4M1133.83 2255v3.4M1154.38 2255v3.4" stroke="#333333" stroke-width="1.1"/>
<text transform="translate(907.79,2261.8) rotate(-90)" x="0" y="0" dy="0.36em" font-size="13.8" text-anchor="end" fill="#444444">E15.5</text>
<text transform="translate(928.34,2261.8) rotate(-90)" x="0" y="0" dy="0.36em" font-size="13.8" text-anchor="end" fill="#444444">E16</text>
<text transform="translate(948.89,2261.8) rotate(-90)" x="0" y="0" dy="0.36em" font-size="13.8" text-anchor="end" fill="#444444">E17</text>
<text transform="translate(969.44,2261.8) rotate(-90)" x="0" y="0" dy="0.36em" font-size="13.8" text-anchor="end" fill="#444444">E18</text>
<text transform="translate(989.99,2261.8) rotate(-90)" x="0" y="0" dy="0.36em" font-size="13.8" text-anchor="end" fill="#444444">P0</text>
<text transform="translate(1010.54,2261.8) rotate(-90)" x="0" y="0" dy="0.36em" font-size="13.8" text-anchor="end" fill="#444444">P2</text>
<text transform="translate(1031.09,2261.8) rotate(-90)" x="0" y="0" dy="0.36em" font-size="13.8" text-anchor="end" fill="#444444">P4</text>
<text transform="translate(1051.63,2261.8) rotate(-90)" x="0" y="0" dy="0.36em" font-size="13.8" text-anchor="end" fill="#444444">P5</text>
<text transform="translate(1072.18,2261.8) rotate(-90)" x="0" y="0" dy="0.36em" font-size="13.8" text-anchor="end" fill="#444444">P8</text>
<text transform="translate(1092.73,2261.8) rotate(-90)" x="0" y="0" dy="0.36em" font-size="13.8" text-anchor="end" fill="#444444">P9</text>
<text transform="translate(1113.28,2261.8) rotate(-90)" x="0" y="0" dy="0.36em" font-size="13.8" text-anchor="end" fill="#444444">P11</text>
<text transform="translate(1133.83,2261.8) rotate(-90)" x="0" y="0" dy="0.36em" font-size="13.8" text-anchor="end" fill="#444444">P14</text>
<text transform="translate(1154.38,2261.8) rotate(-90)" x="0" y="0" dy="0.36em" font-size="13.8" text-anchor="end" fill="#444444">P56</text>
<path d="M1185.86 2255v3.4M1206.41 2255v3.4M1226.96 2255v3.4M1247.51 2255v3.4M1268.06 2255v3.4M1288.61 2255v3.4M1309.15 2255v3.4M1329.7 2255v3.4M1350.25 2255v3.4M1370.8 2255v3.4M1391.35 2255v3.4M1411.9 2255v3.4M1432.45 2255v3.4" stroke="#333333" stroke-width="1.1"/>
<text transform="translate(1185.86,2261.8) rotate(-90)" x="0" y="0" dy="0.36em" font-size="13.8" text-anchor="end" fill="#444444">E15.5</text>
<text transform="translate(1206.41,2261.8) rotate(-90)" x="0" y="0" dy="0.36em" font-size="13.8" text-anchor="end" fill="#444444">E16</text>
<text transform="translate(1226.96,2261.8) rotate(-90)" x="0" y="0" dy="0.36em" font-size="13.8" text-anchor="end" fill="#444444">E17</text>
<text transform="translate(1247.51,2261.8) rotate(-90)" x="0" y="0" dy="0.36em" font-size="13.8" text-anchor="end" fill="#444444">E18</text>
<text transform="translate(1268.06,2261.8) rotate(-90)" x="0" y="0" dy="0.36em" font-size="13.8" text-anchor="end" fill="#444444">P0</text>
<text transform="translate(1288.61,2261.8) rotate(-90)" x="0" y="0" dy="0.36em" font-size="13.8" text-anchor="end" fill="#444444">P2</text>
<text transform="translate(1309.15,2261.8) rotate(-90)" x="0" y="0" dy="0.36em" font-size="13.8" text-anchor="end" fill="#444444">P4</text>
<text transform="translate(1329.7,2261.8) rotate(-90)" x="0" y="0" dy="0.36em" font-size="13.8" text-anchor="end" fill="#444444">P5</text>
<text transform="translate(1350.25,2261.8) rotate(-90)" x="0" y="0" dy="0.36em" font-size="13.8" text-anchor="end" fill="#444444">P8</text>
<text transform="translate(1370.8,2261.8) rotate(-90)" x="0" y="0" dy="0.36em" font-size="13.8" text-anchor="end" fill="#444444">P9</text>
<text transform="translate(1391.35,2261.8) rotate(-90)" x="0" y="0" dy="0.36em" font-size="13.8" text-anchor="end" fill="#444444">P11</text>
<text transform="translate(1411.9,2261.8) rotate(-90)" x="0" y="0" dy="0.36em" font-size="13.8" text-anchor="end" fill="#444444">P14</text>
<text transform="translate(1432.45,2261.8) rotate(-90)" x="0" y="0" dy="0.36em" font-size="13.8" text-anchor="end" fill="#444444">P56</text>
<path d="M1463.93 2255v3.4M1484.48 2255v3.4M1505.03 2255v3.4M1525.58 2255v3.4M1546.13 2255v3.4M1566.68 2255v3.4M1587.22 2255v3.4M1607.77 2255v3.4M1628.32 2255v3.4M1648.87 2255v3.4M1669.42 2255v3.4M1689.97 2255v3.4M1710.52 2255v3.4" stroke="#333333" stroke-width="1.1"/>
<text transform="translate(1463.93,2261.8) rotate(-90)" x="0" y="0" dy="0.36em" font-size="13.8" text-anchor="end" fill="#444444">E15.5</text>
<text transform="translate(1484.48,2261.8) rotate(-90)" x="0" y="0" dy="0.36em" font-size="13.8" text-anchor="end" fill="#444444">E16</text>
<text transform="translate(1505.03,2261.8) rotate(-90)" x="0" y="0" dy="0.36em" font-size="13.8" text-anchor="end" fill="#444444">E17</text>
<text transform="translate(1525.58,2261.8) rotate(-90)" x="0" y="0" dy="0.36em" font-size="13.8" text-anchor="end" fill="#444444">E18</text>
<text transform="translate(1546.13,2261.8) rotate(-90)" x="0" y="0" dy="0.36em" font-size="13.8" text-anchor="end" fill="#444444">P0</text>
<text transform="translate(1566.68,2261.8) rotate(-90)" x="0" y="0" dy="0.36em" font-size="13.8" text-anchor="end" fill="#444444">P2</text>
<text transform="translate(1587.22,2261.8) rotate(-90)" x="0" y="0" dy="0.36em" font-size="13.8" text-anchor="end" fill="#444444">P4</text>
<text transform="translate(1607.77,2261.8) rotate(-90)" x="0" y="0" dy="0.36em" font-size="13.8" text-anchor="end" fill="#444444">P5</text>
<text transform="translate(1628.32,2261.8) rotate(-90)" x="0" y="0" dy="0.36em" font-size="13.8" text-anchor="end" fill="#444444">P8</text>
<text transform="translate(1648.87,2261.8) rotate(-90)" x="0" y="0" dy="0.36em" font-size="13.8" text-anchor="end" fill="#444444">P9</text>
<text transform="translate(1669.42,2261.8) rotate(-90)" x="0" y="0" dy="0.36em" font-size="13.8" text-anchor="end" fill="#444444">P11</text>
<text transform="translate(1689.97,2261.8) rotate(-90)" x="0" y="0" dy="0.36em" font-size="13.8" text-anchor="end" fill="#444444">P14</text>
<text transform="translate(1710.52,2261.8) rotate(-90)" x="0" y="0" dy="0.36em" font-size="13.8" text-anchor="end" fill="#444444">P56</text>
<path d="M1742 2255v3.4M1762.55 2255v3.4M1783.1 2255v3.4M1803.65 2255v3.4M1824.2 2255v3.4M1844.75 2255v3.4M1865.3 2255v3.4M1885.84 2255v3.4M1906.39 2255v3.4M1926.94 2255v3.4M1947.49 2255v3.4M1968.04 2255v3.4M1988.59 2255v3.4" stroke="#333333" stroke-width="1.1"/>
<text transform="translate(1742,2261.8) rotate(-90)" x="0" y="0" dy="0.36em" font-size="13.8" text-anchor="end" fill="#444444">E15.5</text>
<text transform="translate(1762.55,2261.8) rotate(-90)" x="0" y="0" dy="0.36em" font-size="13.8" text-anchor="end" fill="#444444">E16</text>
<text transform="translate(1783.1,2261.8) rotate(-90)" x="0" y="0" dy="0.36em" font-size="13.8" text-anchor="end" fill="#444444">E17</text>
<text transform="translate(1803.65,2261.8) rotate(-90)" x="0" y="0" dy="0.36em" font-size="13.8" text-anchor="end" fill="#444444">E18</text>
<text transform="translate(1824.2,2261.8) rotate(-90)" x="0" y="0" dy="0.36em" font-size="13.8" text-anchor="end" fill="#444444">P0</text>
<text transform="translate(1844.75,2261.8) rotate(-90)" x="0" y="0" dy="0.36em" font-size="13.8" text-anchor="end" fill="#444444">P2</text>
<text transform="translate(1865.3,2261.8) rotate(-90)" x="0" y="0" dy="0.36em" font-size="13.8" text-anchor="end" fill="#444444">P4</text>
<text transform="translate(1885.84,2261.8) rotate(-90)" x="0" y="0" dy="0.36em" font-size="13.8" text-anchor="end" fill="#444444">P5</text>
<text transform="translate(1906.39,2261.8) rotate(-90)" x="0" y="0" dy="0.36em" font-size="13.8" text-anchor="end" fill="#444444">P8</text>
<text transform="translate(1926.94,2261.8) rotate(-90)" x="0" y="0" dy="0.36em" font-size="13.8" text-anchor="end" fill="#444444">P9</text>
<text transform="translate(1947.49,2261.8) rotate(-90)" x="0" y="0" dy="0.36em" font-size="13.8" text-anchor="end" fill="#444444">P11</text>
<text transform="translate(1968.04,2261.8) rotate(-90)" x="0" y="0" dy="0.36em" font-size="13.8" text-anchor="end" fill="#444444">P14</text>
<text transform="translate(1988.59,2261.8) rotate(-90)" x="0" y="0" dy="0.36em" font-size="13.8" text-anchor="end" fill="#444444">P56</text>
<line x1="57.85" x2="61.25" y1="2087" y2="2087" stroke="#333333" stroke-width="1.1"/>
<text x="57.45" y="2090.96" font-size="11.15" text-anchor="end" font-weight="normal" fill="#444444">0</text>
<line x1="57.85" x2="61.25" y1="2062.25" y2="2062.25" stroke="#333333" stroke-width="1.1"/>
<text x="57.45" y="2066.21" font-size="11.15" text-anchor="end" font-weight="normal" fill="#444444">2500</text>
<line x1="57.85" x2="61.25" y1="2037.5" y2="2037.5" stroke="#333333" stroke-width="1.1"/>
<text x="57.45" y="2041.46" font-size="11.15" text-anchor="end" font-weight="normal" fill="#444444">5000</text>
<line x1="57.85" x2="61.25" y1="2012.75" y2="2012.75" stroke="#333333" stroke-width="1.1"/>
<text x="57.45" y="2016.71" font-size="11.15" text-anchor="end" font-weight="normal" fill="#444444">7500</text>
<line x1="57.85" x2="61.25" y1="1988" y2="1988" stroke="#333333" stroke-width="1.1"/>
<text x="57.45" y="1991.96" font-size="11.15" text-anchor="end" font-weight="normal" fill="#444444">10000</text>
<line x1="57.85" x2="61.25" y1="1963.25" y2="1963.25" stroke="#333333" stroke-width="1.1"/>
<text x="57.45" y="1967.21" font-size="11.15" text-anchor="end" font-weight="normal" fill="#444444">12500</text>
<line x1="57.85" x2="61.25" y1="2249.5" y2="2249.5" stroke="#333333" stroke-width="1.1"/>
<text x="57.45" y="2253.46" font-size="11.15" text-anchor="end" font-weight="normal" fill="#444444">0</text>
<line x1="57.85" x2="61.25" y1="2224.75" y2="2224.75" stroke="#333333" stroke-width="1.1"/>
<text x="57.45" y="2228.71" font-size="11.15" text-anchor="end" font-weight="normal" fill="#444444">2500</text>
<line x1="57.85" x2="61.25" y1="2200" y2="2200" stroke="#333333" stroke-width="1.1"/>
<text x="57.45" y="2203.96" font-size="11.15" text-anchor="end" font-weight="normal" fill="#444444">5000</text>
<line x1="57.85" x2="61.25" y1="2175.25" y2="2175.25" stroke="#333333" stroke-width="1.1"/>
<text x="57.45" y="2179.21" font-size="11.15" text-anchor="end" font-weight="normal" fill="#444444">7500</text>
<line x1="57.85" x2="61.25" y1="2150.5" y2="2150.5" stroke="#333333" stroke-width="1.1"/>
<text x="57.45" y="2154.46" font-size="11.15" text-anchor="end" font-weight="normal" fill="#444444">10000</text>
<line x1="57.85" x2="61.25" y1="2125.75" y2="2125.75" stroke="#333333" stroke-width="1.1"/>
<text x="57.45" y="2129.71" font-size="11.15" text-anchor="end" font-weight="normal" fill="#444444">12500</text>
<text transform="translate(14,2108.75) rotate(-90)" x="0" y="0" dy="0.36em" font-size="16.9" text-anchor="middle" fill="#000">Gene count</text>
<text x="3.8" y="2353.75" font-size="38" text-anchor="start" font-weight="bold" fill="#000">h</text>
<text x="62.5" y="2344.7" font-size="20.6" text-anchor="start" font-weight="normal" fill="#000">10x Multiome log10(unique nuclear fragments)</text>
<rect x="61.25" y="2380.75" width="271.25" height="130" fill="#fff"/>
<path d="M61.25 2484.35h271.25M61.25 2441.45h271.25M61.25 2398.55h271.25" stroke="#F4F4F4" stroke-width="0.7"/>
<path d="M61.25 2505.8h271.25M61.25 2462.9h271.25M61.25 2420h271.25M73.58 2380.75v130M94.13 2380.75v130M114.68 2380.75v130M135.23 2380.75v130M155.78 2380.75v130M176.33 2380.75v130M196.88 2380.75v130M217.42 2380.75v130M237.97 2380.75v130M258.52 2380.75v130M279.07 2380.75v130M299.62 2380.75v130M320.17 2380.75v130" stroke="#EBEBEB" stroke-width="1.1"/>
<rect x="61.8" y="2356.3" width="270.15" height="24.45" fill="#D9D9D9" stroke="#555" stroke-width="1.1"/>
<text x="196.88" y="2373.93" font-size="16" text-anchor="middle" font-weight="normal" fill="#1A1A1A">NEC</text>
<rect x="339.32" y="2380.75" width="271.25" height="130" fill="#fff"/>
<path d="M339.32 2484.35h271.25M339.32 2441.45h271.25M339.32 2398.55h271.25" stroke="#F4F4F4" stroke-width="0.7"/>
<path d="M339.32 2505.8h271.25M339.32 2462.9h271.25M339.32 2420h271.25M351.65 2380.75v130M372.2 2380.75v130M392.75 2380.75v130M413.3 2380.75v130M433.85 2380.75v130M454.4 2380.75v130M474.94 2380.75v130M495.49 2380.75v130M516.04 2380.75v130M536.59 2380.75v130M557.14 2380.75v130M577.69 2380.75v130M598.24 2380.75v130" stroke="#EBEBEB" stroke-width="1.1"/>
<rect x="339.87" y="2356.3" width="270.15" height="24.45" fill="#D9D9D9" stroke="#555" stroke-width="1.1"/>
<text x="474.94" y="2373.93" font-size="16" text-anchor="middle" font-weight="normal" fill="#1A1A1A">CR Glut</text>
<rect x="617.39" y="2380.75" width="271.25" height="130" fill="#fff"/>
<path d="M617.39 2484.35h271.25M617.39 2441.45h271.25M617.39 2398.55h271.25" stroke="#F4F4F4" stroke-width="0.7"/>
<path d="M617.39 2505.8h271.25M617.39 2462.9h271.25M617.39 2420h271.25M629.72 2380.75v130M650.27 2380.75v130M670.82 2380.75v130M691.37 2380.75v130M711.92 2380.75v130M732.47 2380.75v130M753.01 2380.75v130M773.56 2380.75v130M794.11 2380.75v130M814.66 2380.75v130M835.21 2380.75v130M855.76 2380.75v130M876.31 2380.75v130" stroke="#EBEBEB" stroke-width="1.1"/>
<rect x="617.94" y="2356.3" width="270.15" height="24.45" fill="#D9D9D9" stroke="#555" stroke-width="1.1"/>
<text x="753.01" y="2373.93" font-size="16" text-anchor="middle" font-weight="normal" fill="#1A1A1A">RG</text>
<rect x="895.46" y="2380.75" width="271.25" height="130" fill="#fff"/>
<path d="M895.46 2484.35h271.25M895.46 2441.45h271.25M895.46 2398.55h271.25" stroke="#F4F4F4" stroke-width="0.7"/>
<path d="M895.46 2505.8h271.25M895.46 2462.9h271.25M895.46 2420h271.25M907.79 2380.75v130M928.34 2380.75v130M948.89 2380.75v130M969.44 2380.75v130M989.99 2380.75v130M1010.54 2380.75v130M1031.09 2380.75v130M1051.63 2380.75v130M1072.18 2380.75v130M1092.73 2380.75v130M1113.28 2380.75v130M1133.83 2380.75v130M1154.38 2380.75v130" stroke="#EBEBEB" stroke-width="1.1"/>
<rect x="896.01" y="2356.3" width="270.15" height="24.45" fill="#D9D9D9" stroke="#555" stroke-width="1.1"/>
<text x="1031.09" y="2373.93" font-size="16" text-anchor="middle" font-weight="normal" fill="#1A1A1A">IP</text>
<rect x="1173.53" y="2380.75" width="271.25" height="130" fill="#fff"/>
<path d="M1173.53 2484.35h271.25M1173.53 2441.45h271.25M1173.53 2398.55h271.25" stroke="#F4F4F4" stroke-width="0.7"/>
<path d="M1173.53 2505.8h271.25M1173.53 2462.9h271.25M1173.53 2420h271.25M1185.86 2380.75v130M1206.41 2380.75v130M1226.96 2380.75v130M1247.51 2380.75v130M1268.06 2380.75v130M1288.61 2380.75v130M1309.15 2380.75v130M1329.7 2380.75v130M1350.25 2380.75v130M1370.8 2380.75v130M1391.35 2380.75v130M1411.9 2380.75v130M1432.45 2380.75v130" stroke="#EBEBEB" stroke-width="1.1"/>
<rect x="1174.08" y="2356.3" width="270.15" height="24.45" fill="#D9D9D9" stroke="#555" stroke-width="1.1"/>
<text x="1309.15" y="2373.93" font-size="16" text-anchor="middle" font-weight="normal" fill="#1A1A1A">IMN</text>
<rect x="1451.6" y="2380.75" width="271.25" height="130" fill="#fff"/>
<path d="M1451.6 2484.35h271.25M1451.6 2441.45h271.25M1451.6 2398.55h271.25" stroke="#F4F4F4" stroke-width="0.7"/>
<path d="M1451.6 2505.8h271.25M1451.6 2462.9h271.25M1451.6 2420h271.25M1463.93 2380.75v130M1484.48 2380.75v130M1505.03 2380.75v130M1525.58 2380.75v130M1546.13 2380.75v130M1566.68 2380.75v130M1587.22 2380.75v130M1607.77 2380.75v130M1628.32 2380.75v130M1648.87 2380.75v130M1669.42 2380.75v130M1689.97 2380.75v130M1710.52 2380.75v130" stroke="#EBEBEB" stroke-width="1.1"/>
<rect x="1452.15" y="2356.3" width="270.15" height="24.45" fill="#D9D9D9" stroke="#555" stroke-width="1.1"/>
<text x="1587.22" y="2373.93" font-size="16" text-anchor="middle" font-weight="normal" fill="#1A1A1A">nonIT Glut</text>
<rect x="1729.67" y="2380.75" width="271.25" height="130" fill="#fff"/>
<path d="M1729.67 2484.35h271.25M1729.67 2441.45h271.25M1729.67 2398.55h271.25" stroke="#F4F4F4" stroke-width="0.7"/>
<path d="M1729.67 2505.8h271.25M1729.67 2462.9h271.25M1729.67 2420h271.25M1742 2380.75v130M1762.55 2380.75v130M1783.1 2380.75v130M1803.65 2380.75v130M1824.2 2380.75v130M1844.75 2380.75v130M1865.3 2380.75v130M1885.84 2380.75v130M1906.39 2380.75v130M1926.94 2380.75v130M1947.49 2380.75v130M1968.04 2380.75v130M1988.59 2380.75v130" stroke="#EBEBEB" stroke-width="1.1"/>
<rect x="1730.22" y="2356.3" width="270.15" height="24.45" fill="#D9D9D9" stroke="#555" stroke-width="1.1"/>
<text x="1865.3" y="2373.93" font-size="16" text-anchor="middle" font-weight="normal" fill="#1A1A1A">IT Glut</text>
<rect x="61.25" y="2542.75" width="271.25" height="130" fill="#fff"/>
<path d="M61.25 2646.35h271.25M61.25 2603.45h271.25M61.25 2560.55h271.25" stroke="#F4F4F4" stroke-width="0.7"/>
<path d="M61.25 2667.8h271.25M61.25 2624.9h271.25M61.25 2582h271.25M73.58 2542.75v130M94.13 2542.75v130M114.68 2542.75v130M135.23 2542.75v130M155.78 2542.75v130M176.33 2542.75v130M196.88 2542.75v130M217.42 2542.75v130M237.97 2542.75v130M258.52 2542.75v130M279.07 2542.75v130M299.62 2542.75v130M320.17 2542.75v130" stroke="#EBEBEB" stroke-width="1.1"/>
<rect x="61.8" y="2518.3" width="270.15" height="24.45" fill="#D9D9D9" stroke="#555" stroke-width="1.1"/>
<text x="196.88" y="2535.93" font-size="16" text-anchor="middle" font-weight="normal" fill="#1A1A1A">Glioblast</text>
<rect x="339.32" y="2542.75" width="271.25" height="130" fill="#fff"/>
<path d="M339.32 2646.35h271.25M339.32 2603.45h271.25M339.32 2560.55h271.25" stroke="#F4F4F4" stroke-width="0.7"/>
<path d="M339.32 2667.8h271.25M339.32 2624.9h271.25M339.32 2582h271.25M351.65 2542.75v130M372.2 2542.75v130M392.75 2542.75v130M413.3 2542.75v130M433.85 2542.75v130M454.4 2542.75v130M474.94 2542.75v130M495.49 2542.75v130M516.04 2542.75v130M536.59 2542.75v130M557.14 2542.75v130M577.69 2542.75v130M598.24 2542.75v130" stroke="#EBEBEB" stroke-width="1.1"/>
<rect x="339.87" y="2518.3" width="270.15" height="24.45" fill="#D9D9D9" stroke="#555" stroke-width="1.1"/>
<text x="474.94" y="2535.93" font-size="16" text-anchor="middle" font-weight="normal" fill="#1A1A1A">Astro−Epen</text>
<rect x="617.39" y="2542.75" width="271.25" height="130" fill="#fff"/>
<path d="M617.39 2646.35h271.25M617.39 2603.45h271.25M617.39 2560.55h271.25" stroke="#F4F4F4" stroke-width="0.7"/>
<path d="M617.39 2667.8h271.25M617.39 2624.9h271.25M617.39 2582h271.25M629.72 2542.75v130M650.27 2542.75v130M670.82 2542.75v130M691.37 2542.75v130M711.92 2542.75v130M732.47 2542.75v130M753.01 2542.75v130M773.56 2542.75v130M794.11 2542.75v130M814.66 2542.75v130M835.21 2542.75v130M855.76 2542.75v130M876.31 2542.75v130" stroke="#EBEBEB" stroke-width="1.1"/>
<rect x="617.94" y="2518.3" width="270.15" height="24.45" fill="#D9D9D9" stroke="#555" stroke-width="1.1"/>
<text x="753.01" y="2535.93" font-size="16" text-anchor="middle" font-weight="normal" fill="#1A1A1A">OPC−Oligo</text>
<rect x="895.46" y="2542.75" width="271.25" height="130" fill="#fff"/>
<path d="M895.46 2646.35h271.25M895.46 2603.45h271.25M895.46 2560.55h271.25" stroke="#F4F4F4" stroke-width="0.7"/>
<path d="M895.46 2667.8h271.25M895.46 2624.9h271.25M895.46 2582h271.25M907.79 2542.75v130M928.34 2542.75v130M948.89 2542.75v130M969.44 2542.75v130M989.99 2542.75v130M1010.54 2542.75v130M1031.09 2542.75v130M1051.63 2542.75v130M1072.18 2542.75v130M1092.73 2542.75v130M1113.28 2542.75v130M1133.83 2542.75v130M1154.38 2542.75v130" stroke="#EBEBEB" stroke-width="1.1"/>
<rect x="896.01" y="2518.3" width="270.15" height="24.45" fill="#D9D9D9" stroke="#555" stroke-width="1.1"/>
<text x="1031.09" y="2535.93" font-size="16" text-anchor="middle" font-weight="normal" fill="#1A1A1A">CTX−CGE GABA</text>
<rect x="1173.53" y="2542.75" width="271.25" height="130" fill="#fff"/>
<path d="M1173.53 2646.35h271.25M1173.53 2603.45h271.25M1173.53 2560.55h271.25" stroke="#F4F4F4" stroke-width="0.7"/>
<path d="M1173.53 2667.8h271.25M1173.53 2624.9h271.25M1173.53 2582h271.25M1185.86 2542.75v130M1206.41 2542.75v130M1226.96 2542.75v130M1247.51 2542.75v130M1268.06 2542.75v130M1288.61 2542.75v130M1309.15 2542.75v130M1329.7 2542.75v130M1350.25 2542.75v130M1370.8 2542.75v130M1391.35 2542.75v130M1411.9 2542.75v130M1432.45 2542.75v130" stroke="#EBEBEB" stroke-width="1.1"/>
<rect x="1174.08" y="2518.3" width="270.15" height="24.45" fill="#D9D9D9" stroke="#555" stroke-width="1.1"/>
<text x="1309.15" y="2535.93" font-size="16" text-anchor="middle" font-weight="normal" fill="#1A1A1A">CTX−MGE GABA</text>
<rect x="1451.6" y="2542.75" width="271.25" height="130" fill="#fff"/>
<path d="M1451.6 2646.35h271.25M1451.6 2603.45h271.25M1451.6 2560.55h271.25" stroke="#F4F4F4" stroke-width="0.7"/>
<path d="M1451.6 2667.8h271.25M1451.6 2624.9h271.25M1451.6 2582h271.25M1463.93 2542.75v130M1484.48 2542.75v130M1505.03 2542.75v130M1525.58 2542.75v130M1546.13 2542.75v130M1566.68 2542.75v130M1587.22 2542.75v130M1607.77 2542.75v130M1628.32 2542.75v130M1648.87 2542.75v130M1669.42 2542.75v130M1689.97 2542.75v130M1710.52 2542.75v130" stroke="#EBEBEB" stroke-width="1.1"/>
<rect x="1452.15" y="2518.3" width="270.15" height="24.45" fill="#D9D9D9" stroke="#555" stroke-width="1.1"/>
<text x="1587.22" y="2535.93" font-size="16" text-anchor="middle" font-weight="normal" fill="#1A1A1A">Vascular</text>
<rect x="1729.67" y="2542.75" width="271.25" height="130" fill="#fff"/>
<path d="M1729.67 2646.35h271.25M1729.67 2603.45h271.25M1729.67 2560.55h271.25" stroke="#F4F4F4" stroke-width="0.7"/>
<path d="M1729.67 2667.8h271.25M1729.67 2624.9h271.25M1729.67 2582h271.25M1742 2542.75v130M1762.55 2542.75v130M1783.1 2542.75v130M1803.65 2542.75v130M1824.2 2542.75v130M1844.75 2542.75v130M1865.3 2542.75v130M1885.84 2542.75v130M1906.39 2542.75v130M1926.94 2542.75v130M1947.49 2542.75v130M1968.04 2542.75v130M1988.59 2542.75v130" stroke="#EBEBEB" stroke-width="1.1"/>
<rect x="1730.22" y="2518.3" width="270.15" height="24.45" fill="#D9D9D9" stroke="#555" stroke-width="1.1"/>
<text x="1865.3" y="2535.93" font-size="16" text-anchor="middle" font-weight="normal" fill="#1A1A1A">Immune</text>
<path d="M73.58 2424.14V2498.04M94.13 2429.56V2504.14M114.68 2416V2491.26M135.23 2429.56V2466.85M155.78 2428.55V2472.61M392.75 2438.72V2477.02M629.72 2425.16V2484.48M650.27 2419.39V2498.04M670.82 2414.99V2494.65M691.37 2424.14V2498.72M711.92 2426.85V2502.11M907.79 2426.17V2482.78M928.34 2422.78V2487.87M948.89 2428.55V2491.26M969.44 2427.53V2477.7M989.99 2423.46V2487.87M1010.54 2464.82V2481.09M1031.09 2416.68V2492.95M1051.63 2447.87V2497.36M1133.83 2437.7V2453.97M1154.38 2421.76V2484.48M1185.86 2418.38V2486.18M1206.41 2424.14V2486.18M1226.96 2418.38V2496.34M1247.51 2424.14V2489.57M1268.06 2413.29V2484.48M1288.61 2426.85V2496.34M1309.15 2424.14V2465.84M1329.7 2439.73V2472.61M1463.93 2420.07V2486.18M1484.48 2414.99V2492.95M1505.03 2421.09V2491.26M1525.58 2420.07V2494.65M1546.13 2409.9V2491.26M1566.68 2420.07V2491.26M1587.22 2408.2V2495.33M1607.77 2416.68V2487.87M1628.32 2403.12V2484.48M1648.87 2408.2V2484.48M1669.42 2410.58V2491.26M1689.97 2399.73V2474.31M1710.52 2404.82V2494.65M1742 2430.12V2470.43M1762.55 2429.03V2490.41M1783.1 2424.12V2499.49M1803.65 2422.31V2495.86M1824.2 2412.32V2489.5M1844.75 2410.5V2492.22M1865.3 2406.87V2482.24M1885.84 2401.42V2488.59M1906.39 2407.24V2488.59M1926.94 2401.79V2484.96M1947.49 2407.24V2498.58M1968.04 2398.7V2478.6M1988.59 2406.51V2505.3" stroke="#1a1a1a" stroke-width="1.25"/>
<path d="M73.58 2498.04V2502.31M114.68 2491.26V2500.75M135.23 2466.85V2485.12M155.78 2472.61V2489.94M392.75 2477.02V2484.62M629.72 2484.48V2498.72M650.27 2419.39V2414.29M650.27 2498.04V2502.79M670.82 2494.65V2501.77M907.79 2482.78V2498.21M928.34 2487.87V2500.21M948.89 2491.26V2499.57M969.44 2477.7V2493.84M989.99 2423.46V2410.41M989.99 2487.87V2499.74M1010.54 2481.09V2493.43M1133.83 2437.7V2431.77M1133.83 2453.97V2470.58M1154.38 2484.48V2498.24M1185.86 2418.38V2414.82M1185.86 2486.18V2499.7M1206.41 2424.14V2420.58M1206.41 2486.18V2499.7M1226.96 2418.38V2417.54M1226.96 2496.34V2502.75M1247.51 2489.57V2500.72M1268.06 2413.29V2410.68M1268.06 2484.48V2499.19M1288.61 2426.85V2420.32M1288.61 2496.34V2502.75M1309.15 2465.84V2492.65M1329.7 2472.61V2495.16M1463.93 2486.18V2498.75M1484.48 2492.95V2501.74M1505.03 2491.26V2501.23M1525.58 2494.65V2502.24M1546.13 2409.9V2406.93M1546.13 2491.26V2501.23M1566.68 2420.07V2418.88M1566.68 2491.26V2501.23M1587.22 2495.33V2502.45M1607.77 2487.87V2500.21M1628.32 2484.48V2498.24M1648.87 2484.48V2498.72M1669.42 2491.26V2501.23M1689.97 2474.31V2496.14M1710.52 2494.65V2501.77M1742 2470.43V2493.95M1762.55 2490.41V2499.94M1783.1 2499.49V2503.56M1803.65 2495.86V2502.47M1824.2 2489.5V2500.56M1844.75 2492.22V2501.38M1865.3 2482.24V2498.38M1885.84 2488.59V2500.29M1906.39 2488.59V2500.29M1926.94 2484.96V2499.2M1947.49 2498.58V2503.28M1968.04 2478.6V2497.29" stroke="#111" stroke-width="2.3" stroke-linecap="round"/>
<path d="M73.58 2504.14h0M114.68 2503.11h0M114.68 2504.82h0M135.23 2488.5h0M135.23 2491.1h0M135.23 2492.95h0M155.78 2493.91h0M155.78 2497.36h0M392.75 2487.09h0M392.75 2487.87h0M629.72 2500.92h0M629.72 2503.75h0M629.72 2504.82h0M650.27 2412.24h0M650.27 2408.16h0M650.27 2405.41h0M650.27 2404.82h0M650.27 2504.82h0M670.82 2504.82h0M907.79 2503.32h0M907.79 2504.82h0M928.34 2505.26h0M928.34 2505.5h0M948.89 2503.12h0M969.44 2498.88h0M969.44 2500.75h0M989.99 2405.8h0M989.99 2402.6h0M989.99 2397.93h0M989.99 2393.55h0M989.99 2388.66h0M989.99 2386.23h0M989.99 2386.17h0M989.99 2504.32h0M989.99 2504.82h0M1010.54 2497.96h0M1010.54 2498.72h0M1133.83 2427.65h0M1133.83 2425.3h0M1133.83 2421.38h0M1133.83 2420.75h0M1133.83 2472.98h0M1133.83 2477.7h0M1154.38 2502.61h0M1154.38 2504.14h0M1185.86 2412.14h0M1185.86 2408.58h0M1185.86 2408.2h0M1185.86 2503.74h0M1185.86 2505.5h0M1206.41 2418.51h0M1206.41 2416.12h0M1206.41 2413.97h0M1206.41 2502.35h0M1206.41 2505.5h0M1226.96 2416h0M1226.96 2505.5h0M1247.51 2504.05h0M1247.51 2505.5h0M1268.06 2405.83h0M1268.06 2503.08h0M1268.06 2505.5h0M1288.61 2415.5h0M1288.61 2410.17h0M1288.61 2408.2h0M1288.61 2505.5h0M1309.15 2495.18h0M1309.15 2498.93h0M1309.15 2503.99h0M1309.15 2504.14h0M1329.7 2497.28h0M1329.7 2499.92h0M1329.7 2504.78h0M1329.7 2504.82h0M1463.93 2502.13h0M1463.93 2504.14h0M1484.48 2504.29h0M1484.48 2505.5h0M1505.03 2504.6h0M1505.03 2505.5h0M1525.58 2505.5h0M1546.13 2404.67h0M1546.13 2401.52h0M1546.13 2401.43h0M1546.13 2505.5h0M1566.68 2416.68h0M1566.68 2503.38h0M1566.68 2505.5h0M1587.22 2505.5h0M1607.77 2503.85h0M1607.77 2505.5h0M1628.32 2501.6h0M1628.32 2504.14h0M1648.87 2500.74h0M1648.87 2504.77h0M1648.87 2504.82h0M1669.42 2503.3h0M1669.42 2505.5h0M1689.97 2501.59h0M1689.97 2503.75h0M1689.97 2505.5h0M1710.52 2504.82h0M1742 2496.9h0M1742 2499.86h0M1742 2503.61h0M1742 2504.03h0M1762.55 2503.93h0M1762.55 2504.03h0M1783.1 2505.3h0M1803.65 2505.3h0M1824.2 2502.68h0M1824.2 2505.3h0M1844.75 2505.3h0M1865.3 2503.43h0M1865.3 2505.3h0M1885.84 2504.5h0M1885.84 2505.3h0M1906.39 2503.56h0M1906.39 2505.3h0M1926.94 2503.98h0M1926.94 2505.3h0M1947.49 2505.3h0M1968.04 2501.68h0M1968.04 2504.74h0M1968.04 2505.3h0" stroke="#111" stroke-width="2.3" stroke-linecap="round"/>
<path d="M65.46 2445.49h16.23v21.36h-16.23zM621.6 2442.44h16.23v17.63h-16.23zM899.67 2443.8h16.23v16.27h-16.23zM1177.74 2443.8h16.23v17.63h-16.23zM1455.81 2441.09h16.23v18.98h-16.23zM1733.88 2441.38h16.23v12.71h-16.23z" fill="#D09840" stroke="#222" stroke-width="1.15"/>
<path d="M86.01 2444.48h16.23v23.73h-16.23zM642.15 2440.41h16.23v23.73h-16.23zM920.22 2443.12h16.23v17.63h-16.23zM1198.29 2443.8h16.23v18.64h-16.23zM1476.36 2440.41h16.23v23.05h-16.23zM1754.43 2440.47h16.23v20.34h-16.23z" fill="#D4A43C" stroke="#222" stroke-width="1.15"/>
<path d="M106.56 2447.19h16.23v17.97h-16.23zM384.63 2441.43h16.23v17.63h-16.23zM662.7 2443.8h16.23v21.02h-16.23zM940.77 2446.51h16.23v19.32h-16.23zM1218.84 2447.19h16.23v20.34h-16.23zM1496.91 2441.43h16.23v22.03h-16.23zM1774.98 2439.56h16.23v23.97h-16.23z" fill="#C0B430" stroke="#222" stroke-width="1.15"/>
<path d="M127.11 2439.73h16.23v13.56h-16.23zM683.25 2439.73h16.23v25.09h-16.23zM961.32 2441.43h16.23v16.61h-16.23zM1239.39 2441.43h16.23v20h-16.23zM1517.46 2435.32h16.23v24.75h-16.23zM1795.53 2435.02h16.23v24.52h-16.23z" fill="#8C9C4C" stroke="#222" stroke-width="1.15"/>
<path d="M147.66 2439.73h16.23v19.32h-16.23zM703.8 2445.49h16.23v26.1h-16.23zM981.87 2446.17h16.23v16.95h-16.23zM1259.94 2447.87h16.23v16.27h-16.23zM1538.01 2439.39h16.23v22.03h-16.23zM1816.08 2439.56h16.23v20.52h-16.23z" fill="#A0F050" stroke="#222" stroke-width="1.15"/>
<path d="M1002.42 2471.6h16.23v6.78h-16.23zM1280.49 2462.45h16.23v14.58h-16.23zM1558.56 2449.56h16.23v17.29h-16.23zM1836.63 2451h16.23v17.62h-16.23z" fill="#50E828" stroke="#222" stroke-width="1.15"/>
<path d="M1022.97 2438.72h16.23v24.75h-16.23zM1301.04 2437.7h16.23v11.19h-16.23zM1579.11 2426.85h16.23v28.14h-16.23zM1857.18 2428.12h16.23v21.97h-16.23z" fill="#80D090" stroke="#222" stroke-width="1.15"/>
<path d="M1043.52 2449.9h16.23v39.66h-16.23zM1321.59 2447.87h16.23v17.97h-16.23zM1599.66 2438.72h16.23v20.68h-16.23zM1877.73 2441.38h16.23v19.25h-16.23z" fill="#68C080" stroke="#222" stroke-width="1.15"/>
<path d="M1125.71 2444.82h16.23v8.47h-16.23zM1681.85 2425.16h16.23v20.34h-16.23zM1959.92 2426.12h16.23v21.61h-16.23z" fill="#4060C8" stroke="#222" stroke-width="1.15"/>
<path d="M1146.26 2434.31h16.23v25.43h-16.23zM1702.4 2428.55h16.23v29.83h-16.23zM1980.47 2429.75h16.23v30.15h-16.23z" fill="#E02020" stroke="#222" stroke-width="1.15"/>
<path d="M1620.21 2424.14h16.23v24.75h-16.23zM1898.28 2425.58h16.23v26.15h-16.23z" fill="#80F8F0" stroke="#222" stroke-width="1.15"/>
<path d="M1640.76 2426.85h16.23v23.73h-16.23zM1918.83 2425.4h16.23v24.7h-16.23z" fill="#70F0F0" stroke="#222" stroke-width="1.15"/>
<path d="M1661.31 2424.48h16.23v27.46h-16.23zM1939.38 2425.03h16.23v30.15h-16.23z" fill="#A0D8E8" stroke="#222" stroke-width="1.15"/>
<path d="M65.46 2448.89H81.7M86.01 2450.58H102.25M106.56 2452.28H122.79M127.11 2443.8H143.34M147.66 2443.8H163.89M384.63 2444.48H400.86M621.6 2447.87H637.84M642.15 2446.17H658.39M662.7 2448.89H678.93M683.25 2446.17H699.48M703.8 2456.34H720.03M899.67 2447.87H915.91M920.22 2447.19H936.46M940.77 2452.28H957M961.32 2445.49H977.55M981.87 2452.28H998.1M1002.42 2474.99H1018.65M1022.97 2447.87H1039.2M1043.52 2464.82H1059.75M1125.71 2446.51H1141.95M1146.26 2439.39H1162.5M1177.74 2448.21H1193.98M1198.29 2448.21H1214.53M1218.84 2453.29H1235.07M1239.39 2447.19H1255.62M1259.94 2454.65H1276.17M1280.49 2468.55H1296.72M1301.04 2440.41H1317.27M1321.59 2453.29H1337.82M1455.81 2445.49H1472.05M1476.36 2445.49H1492.6M1496.91 2447.19H1513.14M1517.46 2438.72H1533.69M1538.01 2448.21H1554.24M1558.56 2457.36H1574.79M1579.11 2431.93H1595.34M1599.66 2443.8H1615.89M1620.21 2430.24H1636.44M1640.76 2433.63H1656.99M1661.31 2430.24H1677.54M1681.85 2430.24H1698.09M1702.4 2436.34H1718.64M1733.88 2445.37H1750.12M1754.43 2444.46H1770.67M1774.98 2446.46H1791.21M1795.53 2440.47H1811.76M1816.08 2446.82H1832.31M1836.63 2458.08H1852.86M1857.18 2432.3H1873.41M1877.73 2446.46H1893.96M1898.28 2431.39H1914.51M1918.83 2430.48H1935.06M1939.38 2430.12H1955.61M1959.92 2431.39H1976.16M1980.47 2438.11H1996.71" stroke="#222" stroke-width="2.3"/>
<path d="" stroke="#222" stroke-width="1.8"/>
<path d="M73.58 2582.75V2643.77M94.13 2576.99V2645.8M114.68 2578.68V2656.65M135.23 2589.53V2656.65M155.78 2580.38V2651.57M176.33 2605.8V2665.12M196.88 2585.46V2644.78M217.42 2591.56V2654.95M237.97 2591.56V2666.82M279.07 2599.02V2656.65M299.62 2591.56V2656.65M320.17 2591.56V2656.65M392.75 2592.92V2649.87M413.3 2582.75V2646.48M433.85 2584.78V2654.95M454.4 2604.11V2648.18M474.94 2579.36V2649.87M495.49 2589.53V2654.95M516.04 2587.16V2653.26M536.59 2578V2649.87M557.14 2588.17V2653.26M577.69 2581.39V2646.48M598.24 2581.39V2649.87M629.72 2594.95V2643.09M650.27 2584.78V2628.85M670.82 2583.76V2658.34M691.37 2583.76V2658.34M711.92 2589.53V2651.57M732.47 2602.41V2658.34M753.01 2578V2649.87M773.56 2589.53V2656.65M794.11 2581.05V2649.87M814.66 2578V2666.14M835.21 2586.48V2656.65M855.76 2572.92V2646.48M876.31 2583.09V2665.12M907.79 2599.7V2653.26M928.34 2600.04V2649.87M948.89 2589.53V2660.04M969.44 2592.24V2653.26M989.99 2583.76V2654.95M1010.54 2596.31V2664.11M1031.09 2584.78V2649.87M1051.63 2585.46V2656.65M1072.18 2583.09V2666.14M1092.73 2581.39V2649.87M1113.28 2575.29V2665.12M1133.83 2571.22V2649.87M1154.38 2569.53V2654.95M1185.86 2592.92V2646.48M1206.41 2588.85V2651.57M1226.96 2585.46V2656.65M1247.51 2583.76V2656.65M1268.06 2580.38V2649.87M1288.61 2590.55V2656.65M1309.15 2576.99V2656.65M1329.7 2582.75V2656.65M1350.25 2577.66V2639.7M1370.8 2576.99V2649.87M1391.35 2568.51V2663.43M1411.9 2560.03V2639.7M1432.45 2567.83V2667.5M1463.93 2589.53V2667.5M1484.48 2589.53V2667.5M1505.03 2581.39V2666.82M1525.58 2584.78V2666.14M1546.13 2582.07V2656.65M1566.68 2592.24V2666.82M1587.22 2569.19V2656.65M1607.77 2592.24V2656.65M1628.32 2573.59V2653.26M1648.87 2581.39V2658.68M1669.42 2589.53V2665.12M1689.97 2582.07V2660.04M1710.52 2575.29V2667.5M1783.1 2598.84V2667.3M1803.65 2597.02V2667.3M1824.2 2590.66V2666.03M1844.75 2616.09V2666.03M1865.3 2592.84V2667.3M1885.84 2595.75V2667.3M1906.39 2590.12V2646.96M1926.94 2585.58V2635.16M1947.49 2600.11V2667.3M1968.04 2592.84V2656.95M1988.59 2585.58V2667.3" stroke="#1a1a1a" stroke-width="1.25"/>
<path d="M73.58 2643.77V2658.72M94.13 2645.8V2660.04M114.68 2578.68V2576.07M114.68 2656.65V2664.24M135.23 2656.65V2664.24M155.78 2580.38V2577.41M155.78 2651.57V2662.72M176.33 2665.12V2666.31M196.88 2644.78V2659.73M217.42 2591.56V2583.26M217.42 2654.95V2663.26M279.07 2656.65V2660.92M299.62 2656.65V2663.29M320.17 2656.65V2664.24M392.75 2649.87V2661.26M413.3 2646.48V2655.97M433.85 2654.95V2663.74M454.4 2604.11V2601.38M454.4 2648.18V2661.7M474.94 2649.87V2662.21M495.49 2589.53V2587.51M495.49 2654.95V2663.74M516.04 2653.26V2663.23M536.59 2649.87V2660.55M557.14 2653.26V2661.57M577.69 2646.48V2661.19M598.24 2581.39V2578.07M598.24 2649.87V2662.21M650.27 2628.85V2647.84M670.82 2658.34V2664.75M691.37 2658.34V2664.75M711.92 2651.57V2662.72M732.47 2658.34V2664.75M753.01 2649.87V2661.74M773.56 2656.65V2664.24M794.11 2649.87V2661.74M835.21 2656.65V2664.24M855.76 2646.48V2661.19M876.31 2665.12V2666.79M907.79 2653.26V2663.23M928.34 2649.87V2661.26M948.89 2660.04V2665.26M969.44 2653.26V2662.28M989.99 2654.95V2663.74M1010.54 2664.11V2666.48M1031.09 2649.87V2662.21M1051.63 2656.65V2664.24M1092.73 2649.87V2656.99M1133.83 2649.87V2662.21M1154.38 2654.95V2663.74M1185.86 2646.48V2661.19M1206.41 2588.85V2587.07M1206.41 2651.57V2662.72M1226.96 2656.65V2664.24M1247.51 2656.65V2664.24M1268.06 2649.87V2662.21M1288.61 2590.55V2589.36M1288.61 2656.65V2664.24M1309.15 2656.65V2664.24M1329.7 2656.65V2664.24M1350.25 2639.7V2658.21M1370.8 2649.87V2661.26M1391.35 2663.43V2666.28M1411.9 2639.7V2659.16M1546.13 2582.07V2574.36M1546.13 2656.65V2664.24M1587.22 2656.65V2664.24M1607.77 2592.24V2586.9M1607.77 2656.65V2664.24M1628.32 2573.59V2570.63M1628.32 2653.26V2663.23M1689.97 2582.07V2576.14M1689.97 2660.04V2665.26M1710.52 2575.29V2568.76M1906.39 2646.96V2660.31M1968.04 2656.95V2664.19" stroke="#111" stroke-width="2.3" stroke-linecap="round"/>
<path d="M73.58 2663.31h0M73.58 2665.12h0M94.13 2664.26h0M94.13 2666.14h0M114.68 2572.14h0M114.68 2571.22h0M114.68 2666.46h0M114.68 2667.5h0M135.23 2667.37h0M135.23 2667.5h0M155.78 2573.72h0M155.78 2571.9h0M155.78 2665.57h0M155.78 2667.5h0M176.33 2666.82h0M196.88 2662.21h0M196.88 2664.23h0M196.88 2666.14h0M217.42 2579.67h0M217.42 2576.11h0M217.42 2572.12h0M217.42 2569.06h0M217.42 2567.83h0M217.42 2665.49h0M217.42 2666.82h0M279.07 2662.75h0M299.62 2666.14h0M320.17 2667.5h0M392.75 2666.14h0M413.3 2659.16h0M413.3 2660.04h0M433.85 2667.5h0M454.4 2599.1h0M454.4 2596.47h0M454.4 2596.31h0M454.4 2667.16h0M454.4 2667.5h0M474.94 2666.92h0M474.94 2667.5h0M495.49 2583.76h0M495.49 2665.97h0M495.49 2667.5h0M516.04 2667.5h0M536.59 2663.51h0M536.59 2665.12h0M557.14 2663.65h0M557.14 2665.12h0M577.69 2664.13h0M577.69 2667.5h0M598.24 2575.31h0M598.24 2571.91h0M598.24 2571.9h0M598.24 2666.32h0M598.24 2667.5h0M650.27 2652.1h0M650.27 2654.79h0M650.27 2655.97h0M670.82 2667.5h0M691.37 2667.5h0M711.92 2665h0M711.92 2667.5h0M732.47 2667.5h0M753.01 2664.93h0M753.01 2666.82h0M773.56 2666.9h0M773.56 2667.5h0M794.11 2666.8h0M794.11 2666.82h0M835.21 2667.5h0M855.76 2663.94h0M855.76 2667.08h0M855.76 2667.5h0M876.31 2667.5h0M907.79 2666.65h0M907.79 2667.5h0M928.34 2664.44h0M928.34 2666.14h0M948.89 2667.5h0M969.44 2664.44h0M969.44 2666.14h0M989.99 2666.91h0M989.99 2667.5h0M1010.54 2667.5h0M1031.09 2665.11h0M1031.09 2667.5h0M1051.63 2666.29h0M1051.63 2667.5h0M1092.73 2660.04h0M1133.83 2667.5h0M1154.38 2665.93h0M1154.38 2667.5h0M1185.86 2665.73h0M1185.86 2667.5h0M1206.41 2584.74h0M1206.41 2583.76h0M1206.41 2665.22h0M1206.41 2667.5h0M1226.96 2666.56h0M1226.96 2667.5h0M1247.51 2667.5h0M1268.06 2666.09h0M1268.06 2667.5h0M1288.61 2587.16h0M1288.61 2667.5h0M1309.15 2667.5h0M1329.7 2667.4h0M1329.7 2667.5h0M1350.25 2661.11h0M1350.25 2665.6h0M1350.25 2666.14h0M1370.8 2665.98h0M1370.8 2666.14h0M1391.35 2667.5h0M1411.9 2664.58h0M1411.9 2667.5h0M1546.13 2571.38h0M1546.13 2567.55h0M1546.13 2562.26h0M1546.13 2560.03h0M1546.13 2666.28h0M1546.13 2667.5h0M1587.22 2667.5h0M1607.77 2582.19h0M1607.77 2578.92h0M1607.77 2576.99h0M1607.77 2667.04h0M1607.77 2667.5h0M1628.32 2568.31h0M1628.32 2566.22h0M1628.32 2565.12h0M1628.32 2665.44h0M1628.32 2667.5h0M1689.97 2572.19h0M1689.97 2569.56h0M1689.97 2565.12h0M1689.97 2667.5h0M1710.52 2566.24h0M1710.52 2563.62h0M1710.52 2559.04h0M1710.52 2556.64h0M1906.39 2662.87h0M1906.39 2664.98h0M1906.39 2666.03h0M1968.04 2667.04h0M1968.04 2667.3h0" stroke="#111" stroke-width="2.3" stroke-linecap="round"/>
<path d="M65.46 2604.44h16.23v16.61h-16.23zM621.6 2604.78h16.23v18.98h-16.23zM899.67 2612.58h16.23v16.95h-16.23zM1177.74 2611.56h16.23v14.58h-16.23zM1455.81 2607.49h16.23v24.75h-16.23z" fill="#D09840" stroke="#222" stroke-width="1.15"/>
<path d="M86.01 2601.73h16.23v17.63h-16.23zM642.15 2599.02h16.23v14.58h-16.23zM920.22 2611.56h16.23v14.58h-16.23zM1198.29 2611.22h16.23v16.61h-16.23zM1476.36 2606.82h16.23v28.82h-16.23z" fill="#D4A43C" stroke="#222" stroke-width="1.15"/>
<path d="M106.56 2606.82h16.23v20.34h-16.23zM384.63 2603.09h16.23v18.98h-16.23zM662.7 2604.11h16.23v22.03h-16.23zM940.77 2613.6h16.23v18.31h-16.23zM1218.84 2611.56h16.23v18.64h-16.23zM1496.91 2611.9h16.23v28.48h-16.23zM1774.98 2614.64h16.23v27.24h-16.23z" fill="#C0B430" stroke="#222" stroke-width="1.15"/>
<path d="M127.11 2603.09h16.23v22.37h-16.23zM405.18 2599.02h16.23v19.66h-16.23zM683.25 2600.72h16.23v24.75h-16.23zM961.32 2606.82h16.23v18.64h-16.23zM1239.39 2604.11h16.23v25.43h-16.23zM1517.46 2606.48h16.23v29.15h-16.23zM1795.53 2608.82h16.23v32.14h-16.23z" fill="#8C9C4C" stroke="#222" stroke-width="1.15"/>
<path d="M147.66 2607.49h16.23v17.97h-16.23zM425.73 2607.49h16.23v17.97h-16.23zM703.8 2608.51h16.23v16.61h-16.23zM981.87 2609.87h16.23v16.95h-16.23zM1259.94 2607.49h16.23v17.63h-16.23zM1538.01 2611.56h16.23v20.34h-16.23zM1816.08 2613.36h16.23v23.79h-16.23z" fill="#A0F050" stroke="#222" stroke-width="1.15"/>
<path d="M168.21 2624.45h16.23v16.95h-16.23zM446.28 2623.43h16.23v13.56h-16.23zM724.35 2622.75h16.23v14.58h-16.23zM1002.42 2625.12h16.23v15.26h-16.23zM1280.49 2618.68h16.23v18.65h-16.23zM1558.56 2621.39h16.23v20.68h-16.23zM1836.63 2627.53h16.23v25.24h-16.23z" fill="#50E828" stroke="#222" stroke-width="1.15"/>
<path d="M188.76 2601.39h16.23v17.29h-16.23zM466.83 2597.66h16.23v18.98h-16.23zM744.9 2598h16.23v20.34h-16.23zM1022.97 2598h16.23v19.66h-16.23zM1301.04 2592.24h16.23v25.76h-16.23zM1579.11 2599.36h16.23v26.78h-16.23zM1857.18 2605.74h16.23v27.42h-16.23z" fill="#80D090" stroke="#222" stroke-width="1.15"/>
<path d="M209.31 2610.21h16.23v22.04h-16.23zM487.38 2611.9h16.23v17.63h-16.23zM765.45 2609.19h16.23v18.64h-16.23zM1043.52 2607.49h16.23v19.66h-16.23zM1321.59 2602.41h16.23v22.04h-16.23zM1599.66 2619.36h16.23v18.98h-16.23zM1877.73 2613.55h16.23v22.88h-16.23z" fill="#68C080" stroke="#222" stroke-width="1.15"/>
<path d="M229.86 2609.19h16.23v25.42h-16.23zM507.93 2600.72h16.23v21.36h-16.23zM786 2600.38h16.23v18.31h-16.23zM1064.07 2592.92h16.23v29.83h-16.23zM1342.14 2587.49h16.23v22.37h-16.23zM1620.21 2602.41h16.23v20.34h-16.23zM1898.28 2605.92h16.23v18.16h-16.23z" fill="#80F8F0" stroke="#222" stroke-width="1.15"/>
<path d="M270.96 2611.9h16.23v16.61h-16.23zM549.03 2605.8h16.23v22.37h-16.23zM827.1 2603.09h16.23v23.73h-16.23zM1105.17 2590.88h16.23v29.49h-16.23zM1383.24 2585.46h16.23v33.9h-16.23zM1661.31 2613.6h16.23v28.14h-16.23zM1939.38 2621.17h16.23v20.7h-16.23z" fill="#A0D8E8" stroke="#222" stroke-width="1.15"/>
<path d="M291.5 2610.89h16.23v16.95h-16.23zM569.57 2604.11h16.23v17.97h-16.23zM847.64 2601.73h16.23v17.63h-16.23zM1125.71 2592.92h16.23v23.05h-16.23zM1403.78 2587.16h16.23v21.36h-16.23zM1681.85 2612.58h16.23v20.34h-16.23zM1959.92 2617.9h16.23v15.62h-16.23z" fill="#4060C8" stroke="#222" stroke-width="1.15"/>
<path d="M312.05 2609.87h16.23v23.05h-16.23zM590.12 2608.51h16.23v23.73h-16.23zM868.19 2614.28h16.23v21.36h-16.23zM1146.26 2598h16.23v25.42h-16.23zM1424.33 2592.24h16.23v29.83h-16.23zM1702.4 2624.11h16.23v21.7h-16.23zM1980.47 2619.72h16.23v19.43h-16.23z" fill="#E02020" stroke="#222" stroke-width="1.15"/>
<path d="M528.48 2595.63h16.23v22.71h-16.23zM806.55 2596.65h16.23v33.9h-16.23zM1084.62 2589.53h16.23v25.09h-16.23zM1362.69 2588.17h16.23v25.09h-16.23zM1640.76 2600.72h16.23v29.83h-16.23zM1918.83 2600.29h16.23v15.25h-16.23z" fill="#70F0F0" stroke="#222" stroke-width="1.15"/>
<path d="M65.46 2610.89H81.7M86.01 2605.12H102.25M106.56 2612.58H122.79M127.11 2608.51H143.34M147.66 2614.28H163.89M168.21 2630.21H184.44M188.76 2606.48H204.99M209.31 2620.38H225.54M229.86 2620.38H246.09M270.96 2621.05H287.19M291.5 2616.65H307.74M312.05 2617.66H328.29M384.63 2608.51H400.86M405.18 2604.11H421.41M425.73 2614.28H441.96M446.28 2628.85H462.51M466.83 2602.41H483.06M487.38 2616.65H503.61M507.93 2606.48H524.16M528.48 2602.41H544.71M549.03 2610.89H565.26M569.57 2609.87H585.81M590.12 2615.97H606.36M621.6 2607.49H637.84M642.15 2604.78H658.39M662.7 2609.87H678.93M683.25 2606.48H699.48M703.8 2614.95H720.03M724.35 2628.85H740.58M744.9 2601.39H761.13M765.45 2614.28H781.68M786 2604.78H802.23M806.55 2606.48H822.78M827.1 2609.19H843.33M847.64 2607.49H863.88M868.19 2622.75H884.43M899.67 2618.68H915.91M920.22 2615.29H936.46M940.77 2619.36H957M961.32 2613.26H977.55M981.87 2617.33H998.1M1002.42 2631.22H1018.65M1022.97 2601.73H1039.2M1043.52 2613.26H1059.75M1064.07 2599.02H1080.3M1084.62 2592.92H1100.85M1105.17 2596.31H1121.4M1125.71 2599.02H1141.95M1146.26 2605.12H1162.5M1177.74 2616.65H1193.98M1198.29 2615.97H1214.53M1218.84 2618.68H1235.07M1239.39 2611.56H1255.62M1259.94 2615.29H1276.17M1280.49 2626.82H1296.72M1301.04 2599.02H1317.27M1321.59 2608.51H1337.82M1342.14 2593.93H1358.37M1362.69 2593.93H1378.92M1383.24 2591.22H1399.47M1403.78 2591.22H1420.02M1424.33 2599.02H1440.57M1455.81 2615.97H1472.05M1476.36 2619.36H1492.6M1496.91 2622.75H1513.14M1517.46 2617.66H1533.69M1538.01 2621.05H1554.24M1558.56 2629.53H1574.79M1579.11 2608.51H1595.34M1599.66 2626.82H1615.89M1620.21 2610.89H1636.44M1640.76 2607.49H1656.99M1661.31 2625.12H1677.54M1681.85 2620.04H1698.09M1702.4 2634.61H1718.64M1774.98 2632.07H1791.21M1795.53 2621.17H1811.76M1816.08 2621.17H1832.31M1836.63 2641.88H1852.86M1857.18 2614.27H1873.41M1877.73 2620.63H1893.96M1898.28 2611.73H1914.51M1918.83 2605.74H1935.06M1939.38 2630.62H1955.61M1959.92 2624.44H1976.16M1980.47 2626.98H1996.71" stroke="#222" stroke-width="2.3"/>
<path d="" stroke="#222" stroke-width="1.8"/>
<rect x="61.8" y="2380.75" width="270.15" height="129.45" fill="none" stroke="#555" stroke-width="1.1"/>
<rect x="339.87" y="2380.75" width="270.15" height="129.45" fill="none" stroke="#555" stroke-width="1.1"/>
<rect x="617.94" y="2380.75" width="270.15" height="129.45" fill="none" stroke="#555" stroke-width="1.1"/>
<rect x="896.01" y="2380.75" width="270.15" height="129.45" fill="none" stroke="#555" stroke-width="1.1"/>
<rect x="1174.08" y="2380.75" width="270.15" height="129.45" fill="none" stroke="#555" stroke-width="1.1"/>
<rect x="1452.15" y="2380.75" width="270.15" height="129.45" fill="none" stroke="#555" stroke-width="1.1"/>
<rect x="1730.22" y="2380.75" width="270.15" height="129.45" fill="none" stroke="#555" stroke-width="1.1"/>
<rect x="61.8" y="2542.75" width="270.15" height="129.45" fill="none" stroke="#555" stroke-width="1.1"/>
<rect x="339.87" y="2542.75" width="270.15" height="129.45" fill="none" stroke="#555" stroke-width="1.1"/>
<rect x="617.94" y="2542.75" width="270.15" height="129.45" fill="none" stroke="#555" stroke-width="1.1"/>
<rect x="896.01" y="2542.75" width="270.15" height="129.45" fill="none" stroke="#555" stroke-width="1.1"/>
<rect x="1174.08" y="2542.75" width="270.15" height="129.45" fill="none" stroke="#555" stroke-width="1.1"/>
<rect x="1452.15" y="2542.75" width="270.15" height="129.45" fill="none" stroke="#555" stroke-width="1.1"/>
<rect x="1730.22" y="2542.75" width="270.15" height="129.45" fill="none" stroke="#555" stroke-width="1.1"/>
<path d="M73.58 2672.75v3.4M94.13 2672.75v3.4M114.68 2672.75v3.4M135.23 2672.75v3.4M155.78 2672.75v3.4M176.33 2672.75v3.4M196.88 2672.75v3.4M217.42 2672.75v3.4M237.97 2672.75v3.4M258.52 2672.75v3.4M279.07 2672.75v3.4M299.62 2672.75v3.4M320.17 2672.75v3.4" stroke="#333333" stroke-width="1.1"/>
<text transform="translate(73.58,2679.55) rotate(-90)" x="0" y="0" dy="0.36em" font-size="13.8" text-anchor="end" fill="#444444">E15.5</text>
<text transform="translate(94.13,2679.55) rotate(-90)" x="0" y="0" dy="0.36em" font-size="13.8" text-anchor="end" fill="#444444">E16</text>
<text transform="translate(114.68,2679.55) rotate(-90)" x="0" y="0" dy="0.36em" font-size="13.8" text-anchor="end" fill="#444444">E17</text>
<text transform="translate(135.23,2679.55) rotate(-90)" x="0" y="0" dy="0.36em" font-size="13.8" text-anchor="end" fill="#444444">E18</text>
<text transform="translate(155.78,2679.55) rotate(-90)" x="0" y="0" dy="0.36em" font-size="13.8" text-anchor="end" fill="#444444">P0</text>
<text transform="translate(176.33,2679.55) rotate(-90)" x="0" y="0" dy="0.36em" font-size="13.8" text-anchor="end" fill="#444444">P2</text>
<text transform="translate(196.88,2679.55) rotate(-90)" x="0" y="0" dy="0.36em" font-size="13.8" text-anchor="end" fill="#444444">P4</text>
<text transform="translate(217.42,2679.55) rotate(-90)" x="0" y="0" dy="0.36em" font-size="13.8" text-anchor="end" fill="#444444">P5</text>
<text transform="translate(237.97,2679.55) rotate(-90)" x="0" y="0" dy="0.36em" font-size="13.8" text-anchor="end" fill="#444444">P8</text>
<text transform="translate(258.52,2679.55) rotate(-90)" x="0" y="0" dy="0.36em" font-size="13.8" text-anchor="end" fill="#444444">P9</text>
<text transform="translate(279.07,2679.55) rotate(-90)" x="0" y="0" dy="0.36em" font-size="13.8" text-anchor="end" fill="#444444">P11</text>
<text transform="translate(299.62,2679.55) rotate(-90)" x="0" y="0" dy="0.36em" font-size="13.8" text-anchor="end" fill="#444444">P14</text>
<text transform="translate(320.17,2679.55) rotate(-90)" x="0" y="0" dy="0.36em" font-size="13.8" text-anchor="end" fill="#444444">P56</text>
<path d="M351.65 2672.75v3.4M372.2 2672.75v3.4M392.75 2672.75v3.4M413.3 2672.75v3.4M433.85 2672.75v3.4M454.4 2672.75v3.4M474.94 2672.75v3.4M495.49 2672.75v3.4M516.04 2672.75v3.4M536.59 2672.75v3.4M557.14 2672.75v3.4M577.69 2672.75v3.4M598.24 2672.75v3.4" stroke="#333333" stroke-width="1.1"/>
<text transform="translate(351.65,2679.55) rotate(-90)" x="0" y="0" dy="0.36em" font-size="13.8" text-anchor="end" fill="#444444">E15.5</text>
<text transform="translate(372.2,2679.55) rotate(-90)" x="0" y="0" dy="0.36em" font-size="13.8" text-anchor="end" fill="#444444">E16</text>
<text transform="translate(392.75,2679.55) rotate(-90)" x="0" y="0" dy="0.36em" font-size="13.8" text-anchor="end" fill="#444444">E17</text>
<text transform="translate(413.3,2679.55) rotate(-90)" x="0" y="0" dy="0.36em" font-size="13.8" text-anchor="end" fill="#444444">E18</text>
<text transform="translate(433.85,2679.55) rotate(-90)" x="0" y="0" dy="0.36em" font-size="13.8" text-anchor="end" fill="#444444">P0</text>
<text transform="translate(454.4,2679.55) rotate(-90)" x="0" y="0" dy="0.36em" font-size="13.8" text-anchor="end" fill="#444444">P2</text>
<text transform="translate(474.94,2679.55) rotate(-90)" x="0" y="0" dy="0.36em" font-size="13.8" text-anchor="end" fill="#444444">P4</text>
<text transform="translate(495.49,2679.55) rotate(-90)" x="0" y="0" dy="0.36em" font-size="13.8" text-anchor="end" fill="#444444">P5</text>
<text transform="translate(516.04,2679.55) rotate(-90)" x="0" y="0" dy="0.36em" font-size="13.8" text-anchor="end" fill="#444444">P8</text>
<text transform="translate(536.59,2679.55) rotate(-90)" x="0" y="0" dy="0.36em" font-size="13.8" text-anchor="end" fill="#444444">P9</text>
<text transform="translate(557.14,2679.55) rotate(-90)" x="0" y="0" dy="0.36em" font-size="13.8" text-anchor="end" fill="#444444">P11</text>
<text transform="translate(577.69,2679.55) rotate(-90)" x="0" y="0" dy="0.36em" font-size="13.8" text-anchor="end" fill="#444444">P14</text>
<text transform="translate(598.24,2679.55) rotate(-90)" x="0" y="0" dy="0.36em" font-size="13.8" text-anchor="end" fill="#444444">P56</text>
<path d="M629.72 2672.75v3.4M650.27 2672.75v3.4M670.82 2672.75v3.4M691.37 2672.75v3.4M711.92 2672.75v3.4M732.47 2672.75v3.4M753.01 2672.75v3.4M773.56 2672.75v3.4M794.11 2672.75v3.4M814.66 2672.75v3.4M835.21 2672.75v3.4M855.76 2672.75v3.4M876.31 2672.75v3.4" stroke="#333333" stroke-width="1.1"/>
<text transform="translate(629.72,2679.55) rotate(-90)" x="0" y="0" dy="0.36em" font-size="13.8" text-anchor="end" fill="#444444">E15.5</text>
<text transform="translate(650.27,2679.55) rotate(-90)" x="0" y="0" dy="0.36em" font-size="13.8" text-anchor="end" fill="#444444">E16</text>
<text transform="translate(670.82,2679.55) rotate(-90)" x="0" y="0" dy="0.36em" font-size="13.8" text-anchor="end" fill="#444444">E17</text>
<text transform="translate(691.37,2679.55) rotate(-90)" x="0" y="0" dy="0.36em" font-size="13.8" text-anchor="end" fill="#444444">E18</text>
<text transform="translate(711.92,2679.55) rotate(-90)" x="0" y="0" dy="0.36em" font-size="13.8" text-anchor="end" fill="#444444">P0</text>
<text transform="translate(732.47,2679.55) rotate(-90)" x="0" y="0" dy="0.36em" font-size="13.8" text-anchor="end" fill="#444444">P2</text>
<text transform="translate(753.01,2679.55) rotate(-90)" x="0" y="0" dy="0.36em" font-size="13.8" text-anchor="end" fill="#444444">P4</text>
<text transform="translate(773.56,2679.55) rotate(-90)" x="0" y="0" dy="0.36em" font-size="13.8" text-anchor="end" fill="#444444">P5</text>
<text transform="translate(794.11,2679.55) rotate(-90)" x="0" y="0" dy="0.36em" font-size="13.8" text-anchor="end" fill="#444444">P8</text>
<text transform="translate(814.66,2679.55) rotate(-90)" x="0" y="0" dy="0.36em" font-size="13.8" text-anchor="end" fill="#444444">P9</text>
<text transform="translate(835.21,2679.55) rotate(-90)" x="0" y="0" dy="0.36em" font-size="13.8" text-anchor="end" fill="#444444">P11</text>
<text transform="translate(855.76,2679.55) rotate(-90)" x="0" y="0" dy="0.36em" font-size="13.8" text-anchor="end" fill="#444444">P14</text>
<text transform="translate(876.31,2679.55) rotate(-90)" x="0" y="0" dy="0.36em" font-size="13.8" text-anchor="end" fill="#444444">P56</text>
<path d="M907.79 2672.75v3.4M928.34 2672.75v3.4M948.89 2672.75v3.4M969.44 2672.75v3.4M989.99 2672.75v3.4M1010.54 2672.75v3.4M1031.09 2672.75v3.4M1051.63 2672.75v3.4M1072.18 2672.75v3.4M1092.73 2672.75v3.4M1113.28 2672.75v3.4M1133.83 2672.75v3.4M1154.38 2672.75v3.4" stroke="#333333" stroke-width="1.1"/>
<text transform="translate(907.79,2679.55) rotate(-90)" x="0" y="0" dy="0.36em" font-size="13.8" text-anchor="end" fill="#444444">E15.5</text>
<text transform="translate(928.34,2679.55) rotate(-90)" x="0" y="0" dy="0.36em" font-size="13.8" text-anchor="end" fill="#444444">E16</text>
<text transform="translate(948.89,2679.55) rotate(-90)" x="0" y="0" dy="0.36em" font-size="13.8" text-anchor="end" fill="#444444">E17</text>
<text transform="translate(969.44,2679.55) rotate(-90)" x="0" y="0" dy="0.36em" font-size="13.8" text-anchor="end" fill="#444444">E18</text>
<text transform="translate(989.99,2679.55) rotate(-90)" x="0" y="0" dy="0.36em" font-size="13.8" text-anchor="end" fill="#444444">P0</text>
<text transform="translate(1010.54,2679.55) rotate(-90)" x="0" y="0" dy="0.36em" font-size="13.8" text-anchor="end" fill="#444444">P2</text>
<text transform="translate(1031.09,2679.55) rotate(-90)" x="0" y="0" dy="0.36em" font-size="13.8" text-anchor="end" fill="#444444">P4</text>
<text transform="translate(1051.63,2679.55) rotate(-90)" x="0" y="0" dy="0.36em" font-size="13.8" text-anchor="end" fill="#444444">P5</text>
<text transform="translate(1072.18,2679.55) rotate(-90)" x="0" y="0" dy="0.36em" font-size="13.8" text-anchor="end" fill="#444444">P8</text>
<text transform="translate(1092.73,2679.55) rotate(-90)" x="0" y="0" dy="0.36em" font-size="13.8" text-anchor="end" fill="#444444">P9</text>
<text transform="translate(1113.28,2679.55) rotate(-90)" x="0" y="0" dy="0.36em" font-size="13.8" text-anchor="end" fill="#444444">P11</text>
<text transform="translate(1133.83,2679.55) rotate(-90)" x="0" y="0" dy="0.36em" font-size="13.8" text-anchor="end" fill="#444444">P14</text>
<text transform="translate(1154.38,2679.55) rotate(-90)" x="0" y="0" dy="0.36em" font-size="13.8" text-anchor="end" fill="#444444">P56</text>
<path d="M1185.86 2672.75v3.4M1206.41 2672.75v3.4M1226.96 2672.75v3.4M1247.51 2672.75v3.4M1268.06 2672.75v3.4M1288.61 2672.75v3.4M1309.15 2672.75v3.4M1329.7 2672.75v3.4M1350.25 2672.75v3.4M1370.8 2672.75v3.4M1391.35 2672.75v3.4M1411.9 2672.75v3.4M1432.45 2672.75v3.4" stroke="#333333" stroke-width="1.1"/>
<text transform="translate(1185.86,2679.55) rotate(-90)" x="0" y="0" dy="0.36em" font-size="13.8" text-anchor="end" fill="#444444">E15.5</text>
<text transform="translate(1206.41,2679.55) rotate(-90)" x="0" y="0" dy="0.36em" font-size="13.8" text-anchor="end" fill="#444444">E16</text>
<text transform="translate(1226.96,2679.55) rotate(-90)" x="0" y="0" dy="0.36em" font-size="13.8" text-anchor="end" fill="#444444">E17</text>
<text transform="translate(1247.51,2679.55) rotate(-90)" x="0" y="0" dy="0.36em" font-size="13.8" text-anchor="end" fill="#444444">E18</text>
<text transform="translate(1268.06,2679.55) rotate(-90)" x="0" y="0" dy="0.36em" font-size="13.8" text-anchor="end" fill="#444444">P0</text>
<text transform="translate(1288.61,2679.55) rotate(-90)" x="0" y="0" dy="0.36em" font-size="13.8" text-anchor="end" fill="#444444">P2</text>
<text transform="translate(1309.15,2679.55) rotate(-90)" x="0" y="0" dy="0.36em" font-size="13.8" text-anchor="end" fill="#444444">P4</text>
<text transform="translate(1329.7,2679.55) rotate(-90)" x="0" y="0" dy="0.36em" font-size="13.8" text-anchor="end" fill="#444444">P5</text>
<text transform="translate(1350.25,2679.55) rotate(-90)" x="0" y="0" dy="0.36em" font-size="13.8" text-anchor="end" fill="#444444">P8</text>
<text transform="translate(1370.8,2679.55) rotate(-90)" x="0" y="0" dy="0.36em" font-size="13.8" text-anchor="end" fill="#444444">P9</text>
<text transform="translate(1391.35,2679.55) rotate(-90)" x="0" y="0" dy="0.36em" font-size="13.8" text-anchor="end" fill="#444444">P11</text>
<text transform="translate(1411.9,2679.55) rotate(-90)" x="0" y="0" dy="0.36em" font-size="13.8" text-anchor="end" fill="#444444">P14</text>
<text transform="translate(1432.45,2679.55) rotate(-90)" x="0" y="0" dy="0.36em" font-size="13.8" text-anchor="end" fill="#444444">P56</text>
<path d="M1463.93 2672.75v3.4M1484.48 2672.75v3.4M1505.03 2672.75v3.4M1525.58 2672.75v3.4M1546.13 2672.75v3.4M1566.68 2672.75v3.4M1587.22 2672.75v3.4M1607.77 2672.75v3.4M1628.32 2672.75v3.4M1648.87 2672.75v3.4M1669.42 2672.75v3.4M1689.97 2672.75v3.4M1710.52 2672.75v3.4" stroke="#333333" stroke-width="1.1"/>
<text transform="translate(1463.93,2679.55) rotate(-90)" x="0" y="0" dy="0.36em" font-size="13.8" text-anchor="end" fill="#444444">E15.5</text>
<text transform="translate(1484.48,2679.55) rotate(-90)" x="0" y="0" dy="0.36em" font-size="13.8" text-anchor="end" fill="#444444">E16</text>
<text transform="translate(1505.03,2679.55) rotate(-90)" x="0" y="0" dy="0.36em" font-size="13.8" text-anchor="end" fill="#444444">E17</text>
<text transform="translate(1525.58,2679.55) rotate(-90)" x="0" y="0" dy="0.36em" font-size="13.8" text-anchor="end" fill="#444444">E18</text>
<text transform="translate(1546.13,2679.55) rotate(-90)" x="0" y="0" dy="0.36em" font-size="13.8" text-anchor="end" fill="#444444">P0</text>
<text transform="translate(1566.68,2679.55) rotate(-90)" x="0" y="0" dy="0.36em" font-size="13.8" text-anchor="end" fill="#444444">P2</text>
<text transform="translate(1587.22,2679.55) rotate(-90)" x="0" y="0" dy="0.36em" font-size="13.8" text-anchor="end" fill="#444444">P4</text>
<text transform="translate(1607.77,2679.55) rotate(-90)" x="0" y="0" dy="0.36em" font-size="13.8" text-anchor="end" fill="#444444">P5</text>
<text transform="translate(1628.32,2679.55) rotate(-90)" x="0" y="0" dy="0.36em" font-size="13.8" text-anchor="end" fill="#444444">P8</text>
<text transform="translate(1648.87,2679.55) rotate(-90)" x="0" y="0" dy="0.36em" font-size="13.8" text-anchor="end" fill="#444444">P9</text>
<text transform="translate(1669.42,2679.55) rotate(-90)" x="0" y="0" dy="0.36em" font-size="13.8" text-anchor="end" fill="#444444">P11</text>
<text transform="translate(1689.97,2679.55) rotate(-90)" x="0" y="0" dy="0.36em" font-size="13.8" text-anchor="end" fill="#444444">P14</text>
<text transform="translate(1710.52,2679.55) rotate(-90)" x="0" y="0" dy="0.36em" font-size="13.8" text-anchor="end" fill="#444444">P56</text>
<path d="M1742 2672.75v3.4M1762.55 2672.75v3.4M1783.1 2672.75v3.4M1803.65 2672.75v3.4M1824.2 2672.75v3.4M1844.75 2672.75v3.4M1865.3 2672.75v3.4M1885.84 2672.75v3.4M1906.39 2672.75v3.4M1926.94 2672.75v3.4M1947.49 2672.75v3.4M1968.04 2672.75v3.4M1988.59 2672.75v3.4" stroke="#333333" stroke-width="1.1"/>
<text transform="translate(1742,2679.55) rotate(-90)" x="0" y="0" dy="0.36em" font-size="13.8" text-anchor="end" fill="#444444">E15.5</text>
<text transform="translate(1762.55,2679.55) rotate(-90)" x="0" y="0" dy="0.36em" font-size="13.8" text-anchor="end" fill="#444444">E16</text>
<text transform="translate(1783.1,2679.55) rotate(-90)" x="0" y="0" dy="0.36em" font-size="13.8" text-anchor="end" fill="#444444">E17</text>
<text transform="translate(1803.65,2679.55) rotate(-90)" x="0" y="0" dy="0.36em" font-size="13.8" text-anchor="end" fill="#444444">E18</text>
<text transform="translate(1824.2,2679.55) rotate(-90)" x="0" y="0" dy="0.36em" font-size="13.8" text-anchor="end" fill="#444444">P0</text>
<text transform="translate(1844.75,2679.55) rotate(-90)" x="0" y="0" dy="0.36em" font-size="13.8" text-anchor="end" fill="#444444">P2</text>
<text transform="translate(1865.3,2679.55) rotate(-90)" x="0" y="0" dy="0.36em" font-size="13.8" text-anchor="end" fill="#444444">P4</text>
<text transform="translate(1885.84,2679.55) rotate(-90)" x="0" y="0" dy="0.36em" font-size="13.8" text-anchor="end" fill="#444444">P5</text>
<text transform="translate(1906.39,2679.55) rotate(-90)" x="0" y="0" dy="0.36em" font-size="13.8" text-anchor="end" fill="#444444">P8</text>
<text transform="translate(1926.94,2679.55) rotate(-90)" x="0" y="0" dy="0.36em" font-size="13.8" text-anchor="end" fill="#444444">P9</text>
<text transform="translate(1947.49,2679.55) rotate(-90)" x="0" y="0" dy="0.36em" font-size="13.8" text-anchor="end" fill="#444444">P11</text>
<text transform="translate(1968.04,2679.55) rotate(-90)" x="0" y="0" dy="0.36em" font-size="13.8" text-anchor="end" fill="#444444">P14</text>
<text transform="translate(1988.59,2679.55) rotate(-90)" x="0" y="0" dy="0.36em" font-size="13.8" text-anchor="end" fill="#444444">P56</text>
<line x1="57.85" x2="61.25" y1="2505.8" y2="2505.8" stroke="#333333" stroke-width="1.1"/>
<text x="54.05" y="2510.56" font-size="13.4" text-anchor="end" font-weight="normal" fill="#444444">3</text>
<line x1="57.85" x2="61.25" y1="2462.9" y2="2462.9" stroke="#333333" stroke-width="1.1"/>
<text x="54.05" y="2467.66" font-size="13.4" text-anchor="end" font-weight="normal" fill="#444444">4</text>
<line x1="57.85" x2="61.25" y1="2420" y2="2420" stroke="#333333" stroke-width="1.1"/>
<text x="54.05" y="2424.76" font-size="13.4" text-anchor="end" font-weight="normal" fill="#444444">5</text>
<line x1="57.85" x2="61.25" y1="2667.8" y2="2667.8" stroke="#333333" stroke-width="1.1"/>
<text x="54.05" y="2672.56" font-size="13.4" text-anchor="end" font-weight="normal" fill="#444444">3</text>
<line x1="57.85" x2="61.25" y1="2624.9" y2="2624.9" stroke="#333333" stroke-width="1.1"/>
<text x="54.05" y="2629.66" font-size="13.4" text-anchor="end" font-weight="normal" fill="#444444">4</text>
<line x1="57.85" x2="61.25" y1="2582" y2="2582" stroke="#333333" stroke-width="1.1"/>
<text x="54.05" y="2586.76" font-size="13.4" text-anchor="end" font-weight="normal" fill="#444444">5</text>
<text transform="translate(23,2526.5) rotate(-90)" x="0" y="0" dy="0.36em" font-size="16.9" text-anchor="middle" fill="#000">Log10 (Unique Fragments)</text>
</svg>
</body></html>
